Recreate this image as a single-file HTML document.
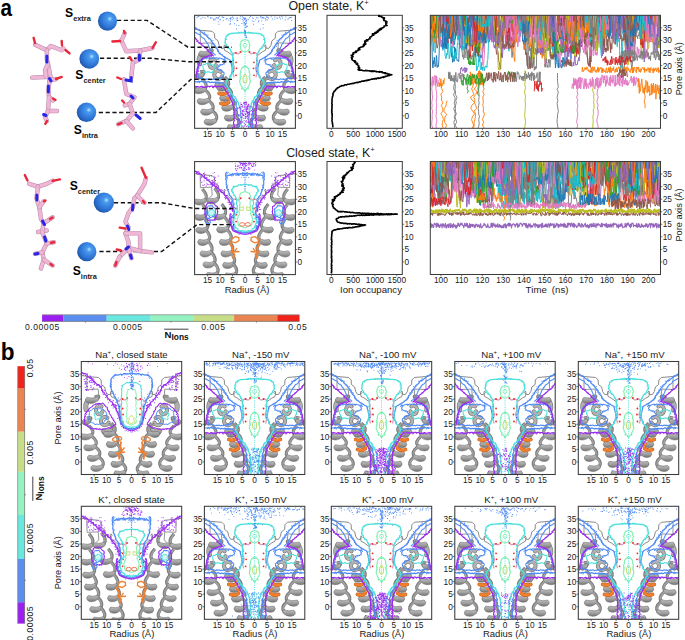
<!DOCTYPE html>
<html><head><meta charset="utf-8"><style>
html,body{margin:0;padding:0;background:#fff;overflow:hidden;width:685px;height:640px;}
svg{display:block;font-family:"Liberation Sans", sans-serif;}
.ts path{vector-effect:non-scaling-stroke;}
</style></head><body>
<svg width="685" height="640" viewBox="0 0 685 640">
<defs><linearGradient id="hg" x1="0" y1="0" x2="0" y2="1"><stop offset="0" stop-color="#c2c2c2"/><stop offset="0.5" stop-color="#a2a2a2"/><stop offset="1" stop-color="#747474"/></linearGradient><g id="gr"><g><polyline points="0.5,14 6,15 17.5,16 20,18.5 20.2,23 23.5,25.5 24.5,30 26.5,33 29,33 31,31 30,29.5 29.3,31.5 30,35 33,36.5 38.5,40.5" fill="none" stroke="#7c7c7c" stroke-width="0.9"/><polyline points="5.6,15 5.8,28 17,27.6 17.7,35.6 15,38" fill="none" stroke="#8a8a8a" stroke-width="0.9"/><path d="M6,40 Q3.5,44 5,48.5" fill="none" stroke="#7a7a7a" stroke-width="5.0" stroke-linecap="round"/><path d="M6,40 Q3.5,44 5,48.5" fill="none" stroke="#b0b0b0" stroke-width="3.6" stroke-linecap="round"/><path d="M16.2,37.3 Q20.0,33.0 13.6,35.5" fill="none" stroke="#7a7a7a" stroke-width="3.2"/><path d="M16.2,37.3 Q19.4,33.0 13.2,35.5" fill="none" stroke="#a0a0a0" stroke-width="1.7"/><path d="M5.5,35.9 Q11.2,37.5 17.0,35.2 Q18.2,37.9 17.0,39.1 Q11.2,43.4 5.5,41.1 Q2.5,38.5 5.5,35.9Z" fill="url(#hg)" stroke="#6e6e6e" stroke-width="0.6"/><path d="M20.4,45.0 A3.4,4.4 0 1 0 21.4,49.8" fill="none" stroke="#7a7a7a" stroke-width="4.0" stroke-linecap="round"/><path d="M20.4,45.0 A3.4,4.4 0 1 0 21.4,49.8" fill="none" stroke="#b3b3b3" stroke-width="2.6" stroke-linecap="round"/><path d="M26.3,56.5 A4.0,4.1 0 1 0 27.5,61.0" fill="none" stroke="#7a7a7a" stroke-width="4.0" stroke-linecap="round"/><path d="M26.3,56.5 A4.0,4.1 0 1 0 27.5,61.0" fill="none" stroke="#b3b3b3" stroke-width="2.6" stroke-linecap="round"/><path d="M8.2,59.3 Q12.0,55.0 5.6,56.5" fill="none" stroke="#7a7a7a" stroke-width="3.2"/><path d="M8.2,59.3 Q11.4,55.0 5.2,56.5" fill="none" stroke="#a0a0a0" stroke-width="1.7"/><path d="M2.0,57.9 Q5.5,59.5 9.0,57.2 Q10.2,59.9 9.0,61.1 Q5.5,65.3 2.0,63.1 Q-1.0,60.5 2.0,57.9Z" fill="url(#hg)" stroke="#6e6e6e" stroke-width="0.6"/><path d="M29.8,68.6 Q33.6,64.3 27.2,62.8" fill="none" stroke="#7a7a7a" stroke-width="3.2"/><path d="M29.8,68.6 Q33.0,64.3 26.8,62.8" fill="none" stroke="#a0a0a0" stroke-width="1.7"/><path d="M21.6,67.1 Q26.1,68.7 30.6,66.5 Q31.8,69.2 30.6,70.4 Q26.1,74.7 21.6,72.5 Q18.6,69.8 21.6,67.1Z" fill="url(#hg)" stroke="#6e6e6e" stroke-width="0.6"/><path d="M10.3,73.8 Q14.1,69.5 7.7,64.2" fill="none" stroke="#7a7a7a" stroke-width="3.2"/><path d="M10.3,73.8 Q13.5,69.5 7.3,64.2" fill="none" stroke="#a0a0a0" stroke-width="1.7"/><path d="M0.6,72.3 Q5.8,73.9 11.1,71.8 Q12.3,74.4 11.1,75.6 Q5.8,79.9 0.6,77.7 Q-2.4,75.0 0.6,72.3Z" fill="url(#hg)" stroke="#6e6e6e" stroke-width="0.6"/><path d="M13.8,84.8 Q17.6,80.5 11.2,75.2" fill="none" stroke="#7a7a7a" stroke-width="3.2"/><path d="M13.8,84.8 Q17.0,80.5 10.8,75.2" fill="none" stroke="#a0a0a0" stroke-width="1.7"/><path d="M4.1,83.3 Q9.3,84.9 14.6,82.8 Q15.8,85.4 14.6,86.6 Q9.3,90.9 4.1,88.7 Q1.0,86.0 4.1,83.3Z" fill="url(#hg)" stroke="#6e6e6e" stroke-width="0.6"/><path d="M17.3,95.3 Q21.1,91.0 14.7,85.7" fill="none" stroke="#7a7a7a" stroke-width="3.2"/><path d="M17.3,95.3 Q20.5,91.0 14.3,85.7" fill="none" stroke="#a0a0a0" stroke-width="1.7"/><path d="M7.6,93.8 Q12.8,95.4 18.1,93.2 Q19.3,95.9 18.1,97.1 Q12.8,101.4 7.6,99.2 Q4.5,96.5 7.6,93.8Z" fill="url(#hg)" stroke="#6e6e6e" stroke-width="0.6"/><path d="M20.8,105.4 Q24.6,101.1 18.2,95.8" fill="none" stroke="#7a7a7a" stroke-width="3.2"/><path d="M20.8,105.4 Q24.0,101.1 17.8,95.8" fill="none" stroke="#a0a0a0" stroke-width="1.7"/><path d="M11.1,103.9 Q16.4,105.5 21.6,103.3 Q22.8,106.0 21.6,107.2 Q16.4,111.5 11.1,109.2 Q8.0,106.6 11.1,103.9Z" fill="url(#hg)" stroke="#6e6e6e" stroke-width="0.6"/><path d="M32.8,71.3 Q36.6,67.0 30.2,61.7" fill="none" stroke="#7a7a7a" stroke-width="3.2"/><path d="M32.8,71.3 Q36.0,67.0 29.8,61.7" fill="none" stroke="#a0a0a0" stroke-width="1.7"/><path d="M23.6,69.8 Q28.6,71.4 33.6,69.2 Q34.8,71.9 33.6,73.1 Q28.6,77.4 23.6,75.2 Q20.6,72.5 23.6,69.8Z" fill="url(#hg)" stroke="#6e6e6e" stroke-width="0.6"/><path d="M35.7,81.6 Q39.5,77.3 33.1,72.0" fill="none" stroke="#7a7a7a" stroke-width="3.2"/><path d="M35.7,81.6 Q38.9,77.3 32.7,72.0" fill="none" stroke="#a0a0a0" stroke-width="1.7"/><path d="M26.5,80.1 Q31.5,81.7 36.5,79.5 Q37.7,82.2 36.5,83.4 Q31.5,87.7 26.5,85.5 Q23.5,82.8 26.5,80.1Z" fill="url(#hg)" stroke="#6e6e6e" stroke-width="0.6"/><path d="M37.8,91.3 Q41.6,87.0 35.2,81.7" fill="none" stroke="#7a7a7a" stroke-width="3.2"/><path d="M37.8,91.3 Q41.0,87.0 34.8,81.7" fill="none" stroke="#a0a0a0" stroke-width="1.7"/><path d="M28.6,89.8 Q33.6,91.4 38.6,89.2 Q39.8,91.9 38.6,93.1 Q33.6,97.4 28.6,95.2 Q25.6,92.5 28.6,89.8Z" fill="url(#hg)" stroke="#6e6e6e" stroke-width="0.6"/><path d="M40.4,101.3 Q44.2,97.0 37.8,91.7" fill="none" stroke="#7a7a7a" stroke-width="3.2"/><path d="M40.4,101.3 Q43.6,97.0 37.4,91.7" fill="none" stroke="#a0a0a0" stroke-width="1.7"/><path d="M31.2,99.8 Q36.2,101.4 41.2,99.2 Q42.4,101.9 41.2,103.1 Q36.2,107.4 31.2,105.2 Q28.2,102.5 31.2,99.8Z" fill="url(#hg)" stroke="#6e6e6e" stroke-width="0.6"/><path d="M43.4,110.8 Q47.2,106.5 40.8,101.2" fill="none" stroke="#7a7a7a" stroke-width="3.2"/><path d="M43.4,110.8 Q46.6,106.5 40.4,101.2" fill="none" stroke="#a0a0a0" stroke-width="1.7"/><path d="M34.2,109.3 Q39.2,110.9 44.2,108.8 Q45.4,111.4 44.2,112.6 Q39.2,116.9 34.2,114.7 Q31.2,112.0 34.2,109.3Z" fill="url(#hg)" stroke="#6e6e6e" stroke-width="0.6"/></g><g transform="translate(101,0) scale(-1,1)"><polyline points="0.5,14 6,15 17.5,16 20,18.5 20.2,23 23.5,25.5 24.5,30 26.5,33 29,33 31,31 30,29.5 29.3,31.5 30,35 33,36.5 38.5,40.5" fill="none" stroke="#7c7c7c" stroke-width="0.9"/><polyline points="5.6,15 5.8,28 17,27.6 17.7,35.6 15,38" fill="none" stroke="#8a8a8a" stroke-width="0.9"/><path d="M6,40 Q3.5,44 5,48.5" fill="none" stroke="#7a7a7a" stroke-width="5.0" stroke-linecap="round"/><path d="M6,40 Q3.5,44 5,48.5" fill="none" stroke="#b0b0b0" stroke-width="3.6" stroke-linecap="round"/><path d="M16.2,37.3 Q20.0,33.0 13.6,35.5" fill="none" stroke="#7a7a7a" stroke-width="3.2"/><path d="M16.2,37.3 Q19.4,33.0 13.2,35.5" fill="none" stroke="#a0a0a0" stroke-width="1.7"/><path d="M5.5,35.9 Q11.2,37.5 17.0,35.2 Q18.2,37.9 17.0,39.1 Q11.2,43.4 5.5,41.1 Q2.5,38.5 5.5,35.9Z" fill="url(#hg)" stroke="#6e6e6e" stroke-width="0.6"/><path d="M20.4,45.0 A3.4,4.4 0 1 0 21.4,49.8" fill="none" stroke="#7a7a7a" stroke-width="4.0" stroke-linecap="round"/><path d="M20.4,45.0 A3.4,4.4 0 1 0 21.4,49.8" fill="none" stroke="#b3b3b3" stroke-width="2.6" stroke-linecap="round"/><path d="M26.3,56.5 A4.0,4.1 0 1 0 27.5,61.0" fill="none" stroke="#7a7a7a" stroke-width="4.0" stroke-linecap="round"/><path d="M26.3,56.5 A4.0,4.1 0 1 0 27.5,61.0" fill="none" stroke="#b3b3b3" stroke-width="2.6" stroke-linecap="round"/><path d="M8.2,59.3 Q12.0,55.0 5.6,56.5" fill="none" stroke="#7a7a7a" stroke-width="3.2"/><path d="M8.2,59.3 Q11.4,55.0 5.2,56.5" fill="none" stroke="#a0a0a0" stroke-width="1.7"/><path d="M2.0,57.9 Q5.5,59.5 9.0,57.2 Q10.2,59.9 9.0,61.1 Q5.5,65.3 2.0,63.1 Q-1.0,60.5 2.0,57.9Z" fill="url(#hg)" stroke="#6e6e6e" stroke-width="0.6"/><path d="M29.8,68.6 Q33.6,64.3 27.2,62.8" fill="none" stroke="#7a7a7a" stroke-width="3.2"/><path d="M29.8,68.6 Q33.0,64.3 26.8,62.8" fill="none" stroke="#a0a0a0" stroke-width="1.7"/><path d="M21.6,67.1 Q26.1,68.7 30.6,66.5 Q31.8,69.2 30.6,70.4 Q26.1,74.7 21.6,72.5 Q18.6,69.8 21.6,67.1Z" fill="url(#hg)" stroke="#6e6e6e" stroke-width="0.6"/><path d="M10.3,73.8 Q14.1,69.5 7.7,64.2" fill="none" stroke="#7a7a7a" stroke-width="3.2"/><path d="M10.3,73.8 Q13.5,69.5 7.3,64.2" fill="none" stroke="#a0a0a0" stroke-width="1.7"/><path d="M0.6,72.3 Q5.8,73.9 11.1,71.8 Q12.3,74.4 11.1,75.6 Q5.8,79.9 0.6,77.7 Q-2.4,75.0 0.6,72.3Z" fill="url(#hg)" stroke="#6e6e6e" stroke-width="0.6"/><path d="M13.8,84.8 Q17.6,80.5 11.2,75.2" fill="none" stroke="#7a7a7a" stroke-width="3.2"/><path d="M13.8,84.8 Q17.0,80.5 10.8,75.2" fill="none" stroke="#a0a0a0" stroke-width="1.7"/><path d="M4.1,83.3 Q9.3,84.9 14.6,82.8 Q15.8,85.4 14.6,86.6 Q9.3,90.9 4.1,88.7 Q1.0,86.0 4.1,83.3Z" fill="url(#hg)" stroke="#6e6e6e" stroke-width="0.6"/><path d="M17.3,95.3 Q21.1,91.0 14.7,85.7" fill="none" stroke="#7a7a7a" stroke-width="3.2"/><path d="M17.3,95.3 Q20.5,91.0 14.3,85.7" fill="none" stroke="#a0a0a0" stroke-width="1.7"/><path d="M7.6,93.8 Q12.8,95.4 18.1,93.2 Q19.3,95.9 18.1,97.1 Q12.8,101.4 7.6,99.2 Q4.5,96.5 7.6,93.8Z" fill="url(#hg)" stroke="#6e6e6e" stroke-width="0.6"/><path d="M20.8,105.4 Q24.6,101.1 18.2,95.8" fill="none" stroke="#7a7a7a" stroke-width="3.2"/><path d="M20.8,105.4 Q24.0,101.1 17.8,95.8" fill="none" stroke="#a0a0a0" stroke-width="1.7"/><path d="M11.1,103.9 Q16.4,105.5 21.6,103.3 Q22.8,106.0 21.6,107.2 Q16.4,111.5 11.1,109.2 Q8.0,106.6 11.1,103.9Z" fill="url(#hg)" stroke="#6e6e6e" stroke-width="0.6"/><path d="M32.8,71.3 Q36.6,67.0 30.2,61.7" fill="none" stroke="#7a7a7a" stroke-width="3.2"/><path d="M32.8,71.3 Q36.0,67.0 29.8,61.7" fill="none" stroke="#a0a0a0" stroke-width="1.7"/><path d="M23.6,69.8 Q28.6,71.4 33.6,69.2 Q34.8,71.9 33.6,73.1 Q28.6,77.4 23.6,75.2 Q20.6,72.5 23.6,69.8Z" fill="url(#hg)" stroke="#6e6e6e" stroke-width="0.6"/><path d="M35.7,81.6 Q39.5,77.3 33.1,72.0" fill="none" stroke="#7a7a7a" stroke-width="3.2"/><path d="M35.7,81.6 Q38.9,77.3 32.7,72.0" fill="none" stroke="#a0a0a0" stroke-width="1.7"/><path d="M26.5,80.1 Q31.5,81.7 36.5,79.5 Q37.7,82.2 36.5,83.4 Q31.5,87.7 26.5,85.5 Q23.5,82.8 26.5,80.1Z" fill="url(#hg)" stroke="#6e6e6e" stroke-width="0.6"/><path d="M37.8,91.3 Q41.6,87.0 35.2,81.7" fill="none" stroke="#7a7a7a" stroke-width="3.2"/><path d="M37.8,91.3 Q41.0,87.0 34.8,81.7" fill="none" stroke="#a0a0a0" stroke-width="1.7"/><path d="M28.6,89.8 Q33.6,91.4 38.6,89.2 Q39.8,91.9 38.6,93.1 Q33.6,97.4 28.6,95.2 Q25.6,92.5 28.6,89.8Z" fill="url(#hg)" stroke="#6e6e6e" stroke-width="0.6"/><path d="M40.4,101.3 Q44.2,97.0 37.8,91.7" fill="none" stroke="#7a7a7a" stroke-width="3.2"/><path d="M40.4,101.3 Q43.6,97.0 37.4,91.7" fill="none" stroke="#a0a0a0" stroke-width="1.7"/><path d="M31.2,99.8 Q36.2,101.4 41.2,99.2 Q42.4,101.9 41.2,103.1 Q36.2,107.4 31.2,105.2 Q28.2,102.5 31.2,99.8Z" fill="url(#hg)" stroke="#6e6e6e" stroke-width="0.6"/><path d="M43.4,110.8 Q47.2,106.5 40.8,101.2" fill="none" stroke="#7a7a7a" stroke-width="3.2"/><path d="M43.4,110.8 Q46.6,106.5 40.4,101.2" fill="none" stroke="#a0a0a0" stroke-width="1.7"/><path d="M34.2,109.3 Q39.2,110.9 44.2,108.8 Q45.4,111.4 44.2,112.6 Q39.2,116.9 34.2,114.7 Q31.2,112.0 34.2,109.3Z" fill="url(#hg)" stroke="#6e6e6e" stroke-width="0.6"/></g><polyline points="37,40 40,37.5 44,38.5 47,36.5" fill="none" stroke="#dca2c4" stroke-width="1.3"/><polyline points="64,40 61,37.5 57,38.5 54,36.5" fill="none" stroke="#dca2c4" stroke-width="1.3"/><polyline points="39,42 38.5,48 40,53 38.5,58 39.5,62" fill="none" stroke="#dca2c4" stroke-width="1.3"/><polyline points="62,42 62.5,48 61,53 62.5,58 61.5,62" fill="none" stroke="#dca2c4" stroke-width="1.3"/><circle cx="41.5" cy="37.5" r="0.9" fill="#ef2418"/><circle cx="46" cy="36.5" r="0.9" fill="#ef2418"/><circle cx="55" cy="36.5" r="0.9" fill="#ef2418"/><circle cx="59.5" cy="37.5" r="0.9" fill="#ef2418"/><circle cx="41.5" cy="47" r="0.9" fill="#ef2418"/><circle cx="59.5" cy="47" r="0.9" fill="#ef2418"/><circle cx="42" cy="53" r="0.9" fill="#ef2418"/><circle cx="59" cy="53" r="0.9" fill="#ef2418"/><circle cx="41.5" cy="60" r="0.9" fill="#ef2418"/><circle cx="59.5" cy="60" r="0.9" fill="#ef2418"/><circle cx="38.5" cy="45" r="0.8" fill="#2b3bd8"/><circle cx="62.5" cy="45" r="0.8" fill="#2b3bd8"/><circle cx="38.5" cy="56" r="0.8" fill="#2b3bd8"/><circle cx="62.5" cy="56" r="0.8" fill="#2b3bd8"/></g><g id="gk"><g><polyline points="0.5,12 6,13 17.5,14 20,16.5 20.2,21 23.5,23.5 24.5,28 26.5,31 29,31 31,29 30,27.5 29.3,29.5 30,33 33,34.5 37,38" fill="none" stroke="#7c7c7c" stroke-width="0.9"/><polyline points="5.6,13 5.8,26 17,25.6 17.7,33.6 15,36" fill="none" stroke="#8a8a8a" stroke-width="0.9"/><path d="M10.4,38.8 Q14.2,34.5 7.8,27.5" fill="none" stroke="#7a7a7a" stroke-width="3.2"/><path d="M10.4,38.8 Q13.6,34.5 7.4,27.5" fill="none" stroke="#a0a0a0" stroke-width="1.7"/><path d="M1.2,37.4 Q6.2,39.0 11.2,36.8 Q12.4,39.4 11.2,40.6 Q6.2,44.9 1.2,42.6 Q-1.9,40.0 1.2,37.4Z" fill="url(#hg)" stroke="#6e6e6e" stroke-width="0.6"/><path d="M10.7,54.3 Q14.5,50.0 8.1,43.0" fill="none" stroke="#7a7a7a" stroke-width="3.2"/><path d="M10.7,54.3 Q13.9,50.0 7.7,43.0" fill="none" stroke="#a0a0a0" stroke-width="1.7"/><path d="M1.5,52.9 Q6.5,54.5 11.5,52.2 Q12.7,54.9 11.5,56.1 Q6.5,60.4 1.5,58.1 Q-1.5,55.5 1.5,52.9Z" fill="url(#hg)" stroke="#6e6e6e" stroke-width="0.6"/><path d="M12.0,67.3 Q15.8,63.0 9.4,56.0" fill="none" stroke="#7a7a7a" stroke-width="3.2"/><path d="M12.0,67.3 Q15.2,63.0 9.0,56.0" fill="none" stroke="#a0a0a0" stroke-width="1.7"/><path d="M2.8,65.8 Q7.8,67.4 12.8,65.2 Q14.0,67.9 12.8,69.1 Q7.8,73.4 2.8,71.2 Q-0.3,68.5 2.8,65.8Z" fill="url(#hg)" stroke="#6e6e6e" stroke-width="0.6"/><path d="M13.7,79.3 Q17.5,75.0 11.1,68.0" fill="none" stroke="#7a7a7a" stroke-width="3.2"/><path d="M13.7,79.3 Q16.9,75.0 10.7,68.0" fill="none" stroke="#a0a0a0" stroke-width="1.7"/><path d="M4.5,77.8 Q9.5,79.4 14.5,77.2 Q15.7,79.9 14.5,81.1 Q9.5,85.4 4.5,83.2 Q1.5,80.5 4.5,77.8Z" fill="url(#hg)" stroke="#6e6e6e" stroke-width="0.6"/><path d="M16.2,90.8 Q20.0,86.5 13.6,79.5" fill="none" stroke="#7a7a7a" stroke-width="3.2"/><path d="M16.2,90.8 Q19.4,86.5 13.2,79.5" fill="none" stroke="#a0a0a0" stroke-width="1.7"/><path d="M7.0,89.3 Q12.0,90.9 17.0,88.8 Q18.2,91.4 17.0,92.6 Q12.0,96.9 7.0,94.7 Q3.9,92.0 7.0,89.3Z" fill="url(#hg)" stroke="#6e6e6e" stroke-width="0.6"/><path d="M19.2,101.8 Q23.0,97.5 16.6,90.5" fill="none" stroke="#7a7a7a" stroke-width="3.2"/><path d="M19.2,101.8 Q22.4,97.5 16.2,90.5" fill="none" stroke="#a0a0a0" stroke-width="1.7"/><path d="M10.0,100.3 Q15.0,101.9 20.0,99.8 Q21.2,102.4 20.0,103.6 Q15.0,107.9 10.0,105.7 Q6.9,103.0 10.0,100.3Z" fill="url(#hg)" stroke="#6e6e6e" stroke-width="0.6"/><path d="M22.2,112.3 Q26.0,108.0 19.6,101.0" fill="none" stroke="#7a7a7a" stroke-width="3.2"/><path d="M22.2,112.3 Q25.4,108.0 19.2,101.0" fill="none" stroke="#a0a0a0" stroke-width="1.7"/><path d="M13.0,110.8 Q18.0,112.4 23.0,110.2 Q24.2,112.9 23.0,114.1 Q18.0,118.4 13.0,116.2 Q9.9,113.5 13.0,110.8Z" fill="url(#hg)" stroke="#6e6e6e" stroke-width="0.6"/><path d="M22.7,37.8 Q26.5,33.5 20.1,26.5" fill="none" stroke="#7a7a7a" stroke-width="3.2"/><path d="M22.7,37.8 Q25.9,33.5 19.7,26.5" fill="none" stroke="#a0a0a0" stroke-width="1.7"/><path d="M13.5,36.4 Q18.5,38.0 23.5,35.8 Q24.7,38.4 23.5,39.6 Q18.5,43.9 13.5,41.6 Q10.4,39.0 13.5,36.4Z" fill="url(#hg)" stroke="#6e6e6e" stroke-width="0.6"/><path d="M29.7,53.8 Q33.5,49.5 27.1,42.5" fill="none" stroke="#7a7a7a" stroke-width="3.2"/><path d="M29.7,53.8 Q32.9,49.5 26.7,42.5" fill="none" stroke="#a0a0a0" stroke-width="1.7"/><path d="M20.5,52.4 Q25.5,54.0 30.5,51.8 Q31.7,54.4 30.5,55.6 Q25.5,59.9 20.5,57.6 Q17.5,55.0 20.5,52.4Z" fill="url(#hg)" stroke="#6e6e6e" stroke-width="0.6"/><path d="M32.7,66.8 Q36.5,62.5 30.1,55.5" fill="none" stroke="#7a7a7a" stroke-width="3.2"/><path d="M32.7,66.8 Q35.9,62.5 29.7,55.5" fill="none" stroke="#a0a0a0" stroke-width="1.7"/><path d="M23.5,65.3 Q28.5,66.9 33.5,64.8 Q34.7,67.4 33.5,68.6 Q28.5,72.9 23.5,70.7 Q20.5,68.0 23.5,65.3Z" fill="url(#hg)" stroke="#6e6e6e" stroke-width="0.6"/><path d="M35.4,79.3 Q39.2,75.0 32.8,68.0" fill="none" stroke="#7a7a7a" stroke-width="3.2"/><path d="M35.4,79.3 Q38.6,75.0 32.4,68.0" fill="none" stroke="#a0a0a0" stroke-width="1.7"/><path d="M26.2,77.8 Q31.2,79.4 36.2,77.2 Q37.4,79.9 36.2,81.1 Q31.2,85.4 26.2,83.2 Q23.2,80.5 26.2,77.8Z" fill="url(#hg)" stroke="#6e6e6e" stroke-width="0.6"/><path d="M37.0,90.8 Q40.8,86.5 34.4,79.5" fill="none" stroke="#7a7a7a" stroke-width="3.2"/><path d="M37.0,90.8 Q40.2,86.5 34.0,79.5" fill="none" stroke="#a0a0a0" stroke-width="1.7"/><path d="M27.8,89.3 Q32.8,90.9 37.8,88.8 Q39.0,91.4 37.8,92.6 Q32.8,96.9 27.8,94.7 Q24.8,92.0 27.8,89.3Z" fill="url(#hg)" stroke="#6e6e6e" stroke-width="0.6"/><path d="M38.7,102.3 Q42.5,98.0 36.1,91.0" fill="none" stroke="#7a7a7a" stroke-width="3.2"/><path d="M38.7,102.3 Q41.9,98.0 35.7,91.0" fill="none" stroke="#a0a0a0" stroke-width="1.7"/><path d="M29.5,100.8 Q34.5,102.4 39.5,100.2 Q40.7,102.9 39.5,104.1 Q34.5,108.4 29.5,106.2 Q26.5,103.5 29.5,100.8Z" fill="url(#hg)" stroke="#6e6e6e" stroke-width="0.6"/><path d="M40.7,112.8 Q44.5,108.5 38.1,101.5" fill="none" stroke="#7a7a7a" stroke-width="3.2"/><path d="M40.7,112.8 Q43.9,108.5 37.7,101.5" fill="none" stroke="#a0a0a0" stroke-width="1.7"/><path d="M31.5,111.3 Q36.5,112.9 41.5,110.8 Q42.7,113.4 41.5,114.6 Q36.5,118.9 31.5,116.7 Q28.5,114.0 31.5,111.3Z" fill="url(#hg)" stroke="#6e6e6e" stroke-width="0.6"/></g><g transform="translate(101,0) scale(-1,1)"><polyline points="0.5,12 6,13 17.5,14 20,16.5 20.2,21 23.5,23.5 24.5,28 26.5,31 29,31 31,29 30,27.5 29.3,29.5 30,33 33,34.5 37,38" fill="none" stroke="#7c7c7c" stroke-width="0.9"/><polyline points="5.6,13 5.8,26 17,25.6 17.7,33.6 15,36" fill="none" stroke="#8a8a8a" stroke-width="0.9"/><path d="M10.4,38.8 Q14.2,34.5 7.8,27.5" fill="none" stroke="#7a7a7a" stroke-width="3.2"/><path d="M10.4,38.8 Q13.6,34.5 7.4,27.5" fill="none" stroke="#a0a0a0" stroke-width="1.7"/><path d="M1.2,37.4 Q6.2,39.0 11.2,36.8 Q12.4,39.4 11.2,40.6 Q6.2,44.9 1.2,42.6 Q-1.9,40.0 1.2,37.4Z" fill="url(#hg)" stroke="#6e6e6e" stroke-width="0.6"/><path d="M10.7,54.3 Q14.5,50.0 8.1,43.0" fill="none" stroke="#7a7a7a" stroke-width="3.2"/><path d="M10.7,54.3 Q13.9,50.0 7.7,43.0" fill="none" stroke="#a0a0a0" stroke-width="1.7"/><path d="M1.5,52.9 Q6.5,54.5 11.5,52.2 Q12.7,54.9 11.5,56.1 Q6.5,60.4 1.5,58.1 Q-1.5,55.5 1.5,52.9Z" fill="url(#hg)" stroke="#6e6e6e" stroke-width="0.6"/><path d="M12.0,67.3 Q15.8,63.0 9.4,56.0" fill="none" stroke="#7a7a7a" stroke-width="3.2"/><path d="M12.0,67.3 Q15.2,63.0 9.0,56.0" fill="none" stroke="#a0a0a0" stroke-width="1.7"/><path d="M2.8,65.8 Q7.8,67.4 12.8,65.2 Q14.0,67.9 12.8,69.1 Q7.8,73.4 2.8,71.2 Q-0.3,68.5 2.8,65.8Z" fill="url(#hg)" stroke="#6e6e6e" stroke-width="0.6"/><path d="M13.7,79.3 Q17.5,75.0 11.1,68.0" fill="none" stroke="#7a7a7a" stroke-width="3.2"/><path d="M13.7,79.3 Q16.9,75.0 10.7,68.0" fill="none" stroke="#a0a0a0" stroke-width="1.7"/><path d="M4.5,77.8 Q9.5,79.4 14.5,77.2 Q15.7,79.9 14.5,81.1 Q9.5,85.4 4.5,83.2 Q1.5,80.5 4.5,77.8Z" fill="url(#hg)" stroke="#6e6e6e" stroke-width="0.6"/><path d="M16.2,90.8 Q20.0,86.5 13.6,79.5" fill="none" stroke="#7a7a7a" stroke-width="3.2"/><path d="M16.2,90.8 Q19.4,86.5 13.2,79.5" fill="none" stroke="#a0a0a0" stroke-width="1.7"/><path d="M7.0,89.3 Q12.0,90.9 17.0,88.8 Q18.2,91.4 17.0,92.6 Q12.0,96.9 7.0,94.7 Q3.9,92.0 7.0,89.3Z" fill="url(#hg)" stroke="#6e6e6e" stroke-width="0.6"/><path d="M19.2,101.8 Q23.0,97.5 16.6,90.5" fill="none" stroke="#7a7a7a" stroke-width="3.2"/><path d="M19.2,101.8 Q22.4,97.5 16.2,90.5" fill="none" stroke="#a0a0a0" stroke-width="1.7"/><path d="M10.0,100.3 Q15.0,101.9 20.0,99.8 Q21.2,102.4 20.0,103.6 Q15.0,107.9 10.0,105.7 Q6.9,103.0 10.0,100.3Z" fill="url(#hg)" stroke="#6e6e6e" stroke-width="0.6"/><path d="M22.2,112.3 Q26.0,108.0 19.6,101.0" fill="none" stroke="#7a7a7a" stroke-width="3.2"/><path d="M22.2,112.3 Q25.4,108.0 19.2,101.0" fill="none" stroke="#a0a0a0" stroke-width="1.7"/><path d="M13.0,110.8 Q18.0,112.4 23.0,110.2 Q24.2,112.9 23.0,114.1 Q18.0,118.4 13.0,116.2 Q9.9,113.5 13.0,110.8Z" fill="url(#hg)" stroke="#6e6e6e" stroke-width="0.6"/><path d="M22.7,37.8 Q26.5,33.5 20.1,26.5" fill="none" stroke="#7a7a7a" stroke-width="3.2"/><path d="M22.7,37.8 Q25.9,33.5 19.7,26.5" fill="none" stroke="#a0a0a0" stroke-width="1.7"/><path d="M13.5,36.4 Q18.5,38.0 23.5,35.8 Q24.7,38.4 23.5,39.6 Q18.5,43.9 13.5,41.6 Q10.4,39.0 13.5,36.4Z" fill="url(#hg)" stroke="#6e6e6e" stroke-width="0.6"/><path d="M29.7,53.8 Q33.5,49.5 27.1,42.5" fill="none" stroke="#7a7a7a" stroke-width="3.2"/><path d="M29.7,53.8 Q32.9,49.5 26.7,42.5" fill="none" stroke="#a0a0a0" stroke-width="1.7"/><path d="M20.5,52.4 Q25.5,54.0 30.5,51.8 Q31.7,54.4 30.5,55.6 Q25.5,59.9 20.5,57.6 Q17.5,55.0 20.5,52.4Z" fill="url(#hg)" stroke="#6e6e6e" stroke-width="0.6"/><path d="M32.7,66.8 Q36.5,62.5 30.1,55.5" fill="none" stroke="#7a7a7a" stroke-width="3.2"/><path d="M32.7,66.8 Q35.9,62.5 29.7,55.5" fill="none" stroke="#a0a0a0" stroke-width="1.7"/><path d="M23.5,65.3 Q28.5,66.9 33.5,64.8 Q34.7,67.4 33.5,68.6 Q28.5,72.9 23.5,70.7 Q20.5,68.0 23.5,65.3Z" fill="url(#hg)" stroke="#6e6e6e" stroke-width="0.6"/><path d="M35.4,79.3 Q39.2,75.0 32.8,68.0" fill="none" stroke="#7a7a7a" stroke-width="3.2"/><path d="M35.4,79.3 Q38.6,75.0 32.4,68.0" fill="none" stroke="#a0a0a0" stroke-width="1.7"/><path d="M26.2,77.8 Q31.2,79.4 36.2,77.2 Q37.4,79.9 36.2,81.1 Q31.2,85.4 26.2,83.2 Q23.2,80.5 26.2,77.8Z" fill="url(#hg)" stroke="#6e6e6e" stroke-width="0.6"/><path d="M37.0,90.8 Q40.8,86.5 34.4,79.5" fill="none" stroke="#7a7a7a" stroke-width="3.2"/><path d="M37.0,90.8 Q40.2,86.5 34.0,79.5" fill="none" stroke="#a0a0a0" stroke-width="1.7"/><path d="M27.8,89.3 Q32.8,90.9 37.8,88.8 Q39.0,91.4 37.8,92.6 Q32.8,96.9 27.8,94.7 Q24.8,92.0 27.8,89.3Z" fill="url(#hg)" stroke="#6e6e6e" stroke-width="0.6"/><path d="M38.7,102.3 Q42.5,98.0 36.1,91.0" fill="none" stroke="#7a7a7a" stroke-width="3.2"/><path d="M38.7,102.3 Q41.9,98.0 35.7,91.0" fill="none" stroke="#a0a0a0" stroke-width="1.7"/><path d="M29.5,100.8 Q34.5,102.4 39.5,100.2 Q40.7,102.9 39.5,104.1 Q34.5,108.4 29.5,106.2 Q26.5,103.5 29.5,100.8Z" fill="url(#hg)" stroke="#6e6e6e" stroke-width="0.6"/><path d="M40.7,112.8 Q44.5,108.5 38.1,101.5" fill="none" stroke="#7a7a7a" stroke-width="3.2"/><path d="M40.7,112.8 Q43.9,108.5 37.7,101.5" fill="none" stroke="#a0a0a0" stroke-width="1.7"/><path d="M31.5,111.3 Q36.5,112.9 41.5,110.8 Q42.7,113.4 41.5,114.6 Q36.5,118.9 31.5,116.7 Q28.5,114.0 31.5,111.3Z" fill="url(#hg)" stroke="#6e6e6e" stroke-width="0.6"/></g><polyline points="37,40 40,37.5 44,38.5 47,36.5" fill="none" stroke="#dca2c4" stroke-width="1.3"/><polyline points="64,40 61,37.5 57,38.5 54,36.5" fill="none" stroke="#dca2c4" stroke-width="1.3"/><polyline points="39,42 38.5,48 40,53 38.5,58 39.5,62" fill="none" stroke="#dca2c4" stroke-width="1.3"/><polyline points="62,42 62.5,48 61,53 62.5,58 61.5,62" fill="none" stroke="#dca2c4" stroke-width="1.3"/><circle cx="41.5" cy="37.5" r="0.9" fill="#ef2418"/><circle cx="46" cy="36.5" r="0.9" fill="#ef2418"/><circle cx="55" cy="36.5" r="0.9" fill="#ef2418"/><circle cx="59.5" cy="37.5" r="0.9" fill="#ef2418"/><circle cx="41.5" cy="47" r="0.9" fill="#ef2418"/><circle cx="59.5" cy="47" r="0.9" fill="#ef2418"/><circle cx="42" cy="53" r="0.9" fill="#ef2418"/><circle cx="59" cy="53" r="0.9" fill="#ef2418"/><circle cx="41.5" cy="60" r="0.9" fill="#ef2418"/><circle cx="59.5" cy="60" r="0.9" fill="#ef2418"/><circle cx="38.5" cy="45" r="0.8" fill="#2b3bd8"/><circle cx="62.5" cy="45" r="0.8" fill="#2b3bd8"/><circle cx="38.5" cy="56" r="0.8" fill="#2b3bd8"/><circle cx="62.5" cy="56" r="0.8" fill="#2b3bd8"/></g><g id="ol"><g><path d="M24.5,78.0 Q28.5,80.2 32.5,77.0" fill="none" stroke="#c85c10" stroke-width="3.6" stroke-linecap="round"/><path d="M24.5,78.0 Q28.5,80.2 32.5,77.0" fill="none" stroke="#f08030" stroke-width="2.6" stroke-linecap="round"/><path d="M26.3,88.0 Q30.3,90.2 34.3,87.0" fill="none" stroke="#c85c10" stroke-width="3.6" stroke-linecap="round"/><path d="M26.3,88.0 Q30.3,90.2 34.3,87.0" fill="none" stroke="#f08030" stroke-width="2.6" stroke-linecap="round"/><path d="M32.5,77 Q35,72 30,73.5 M34,87 Q36.5,83 31.5,82.5" fill="none" stroke="#f08030" stroke-width="1.8"/></g><g transform="translate(101,0) scale(-1,1)"><path d="M24.5,78.0 Q28.5,80.2 32.5,77.0" fill="none" stroke="#c85c10" stroke-width="3.6" stroke-linecap="round"/><path d="M24.5,78.0 Q28.5,80.2 32.5,77.0" fill="none" stroke="#f08030" stroke-width="2.6" stroke-linecap="round"/><path d="M26.3,88.0 Q30.3,90.2 34.3,87.0" fill="none" stroke="#c85c10" stroke-width="3.6" stroke-linecap="round"/><path d="M26.3,88.0 Q30.3,90.2 34.3,87.0" fill="none" stroke="#f08030" stroke-width="2.6" stroke-linecap="round"/><path d="M32.5,77 Q35,72 30,73.5 M34,87 Q36.5,83 31.5,82.5" fill="none" stroke="#f08030" stroke-width="1.8"/></g><g><polyline points="-0.2,12.2 1.4,12.7 2.5,13.6 3.3,14.4 4.5,14.9 5.6,15.4 6.9,16.9 7.6,17.1 9.1,18.6 10.1,18.9 11.5,19.3 12.4,20.4 12.6,21.0 13.8,22.5 14.7,23.1 15.9,24.0 16.6,24.8 17.0,26.1 18.4,27.4 18.8,28.7 19.6,29.5 20.6,30.9 20.7,31.9 21.7,33.2 22.6,33.7 23.5,34.6 23.7,36.3 24.3,37.0 24.9,38.2 26.5,39.1 27.4,39.8 28.5,40.8 29.7,41.3 31.3,42.4 32.3,42.8 33.2,43.5 35.1,44.5 36.0,45.1 36.2,46.8 36.5,48.0 36.9,48.9 37.1,50.8 37.4,51.5 37.9,53.4 37.5,54.2 37.8,55.9 37.9,57.1 37.3,57.9 36.5,59.7 36.3,60.3 35.0,62.0" fill="none" stroke="#4d8af5" stroke-width="1.20" stroke-linejoin="round"/><path fill="#4d8af5" d="M10.0 19.4h.9v.9h-.9zM22.6 34.7h.9v.9h-.9zM-0.3 12.9h.9v.9h-.9zM27.2 38.9h.9v.9h-.9zM23.6 35.9h.9v.9h-.9zM4.1 13.5h.9v.9h-.9zM38.1 53.7h.9v.9h-.9zM20.6 30.5h.9v.9h-.9zM4.1 14.5h.9v.9h-.9zM9.1 18.5h.9v.9h-.9zM0.2 12.7h.9v.9h-.9zM19.8 28.2h.9v.9h-.9zM29.3 41.4h.9v.9h-.9zM17.7 27.3h.9v.9h-.9zM38.6 52.5h.9v.9h-.9zM23.1 35.0h.9v.9h-.9zM17.6 28.0h.9v.9h-.9zM10.6 18.5h.9v.9h-.9zM25.2 37.8h.9v.9h-.9zM-0.0 13.0h.9v.9h-.9zM37.8 53.1h.9v.9h-.9zM19.2 29.1h.9v.9h-.9zM25.0 36.9h.9v.9h-.9zM13.0 19.3h.9v.9h-.9zM38.3 51.8h.9v.9h-.9zM35.9 46.3h.9v.9h-.9zM18.4 27.6h.9v.9h-.9zM15.2 24.3h.9v.9h-.9zM35.2 60.0h.9v.9h-.9zM36.0 61.2h.9v.9h-.9zM12.3 21.2h.9v.9h-.9zM10.5 19.2h.9v.9h-.9zM36.9 52.1h.9v.9h-.9zM38.0 49.7h.9v.9h-.9zM37.8 55.7h.9v.9h-.9zM23.2 35.5h.9v.9h-.9zM17.9 24.8h.9v.9h-.9zM18.6 30.7h.9v.9h-.9zM35.5 44.9h.9v.9h-.9zM9.5 17.3h.9v.9h-.9zM9.1 16.2h.9v.9h-.9zM31.1 42.9h.9v.9h-.9zM9.1 17.2h.9v.9h-.9zM29.8 41.8h.9v.9h-.9zM21.9 31.2h.9v.9h-.9zM11.8 20.9h.9v.9h-.9zM12.9 21.4h.9v.9h-.9zM21.5 32.1h.9v.9h-.9zM17.4 27.7h.9v.9h-.9zM36.5 56.9h.9v.9h-.9zM22.9 35.7h.9v.9h-.9zM0.8 13.2h.9v.9h-.9zM0.3 12.3h.9v.9h-.9zM22.4 33.5h.9v.9h-.9zM16.3 25.8h.9v.9h-.9zM37.7 48.8h.9v.9h-.9zM13.6 23.0h.9v.9h-.9zM23.0 35.7h.9v.9h-.9zM36.8 57.1h.9v.9h-.9zM22.9 35.9h.9v.9h-.9z"/><polyline points="-0.0,66.0 1.2,66.5 2.7,66.5 4.2,65.9 5.1,66.7 6.6,65.9 7.1,66.3 8.3,66.2 9.6,66.7 11.5,67.0 12.2,66.8 13.9,66.3 15.4,67.2 16.0,67.3 17.4,66.9 19.2,67.3 19.7,66.9 21.3,66.9 22.2,67.0 24.0,66.8 25.1,67.3 25.9,67.3 27.8,67.6 28.5,68.2 30.1,69.2 30.3,69.6 31.1,71.2 32.3,71.6 33.1,73.5 34.1,74.0 34.1,75.7 35.1,76.6 35.3,77.1 36.5,78.5 36.6,80.1 37.8,81.1 37.9,82.3 38.6,83.4 39.6,84.1 40.3,85.9 40.6,86.4 41.5,87.7 41.3,88.9 41.5,90.1 41.9,91.4 42.6,92.6 42.5,93.7 42.4,94.7 42.5,95.9 43.0,97.7 42.6,98.8 43.4,99.6 43.4,101.1 43.1,102.7 43.0,103.6 43.3,105.3 43.0,106.3 43.4,107.5 43.1,108.6 42.8,109.8 42.9,111.8 43.3,113.0" fill="none" stroke="#4d8af5" stroke-width="1.20" stroke-linejoin="round"/><path fill="#4d8af5" d="M20.0 67.2h.9v.9h-.9zM43.5 100.1h.9v.9h-.9zM22.0 67.6h.9v.9h-.9zM33.4 73.6h.9v.9h-.9zM21.8 66.7h.9v.9h-.9zM36.7 80.3h.9v.9h-.9zM24.1 67.3h.9v.9h-.9zM28.8 68.4h.9v.9h-.9zM15.6 66.8h.9v.9h-.9zM21.0 67.3h.9v.9h-.9zM3.7 66.2h.9v.9h-.9zM17.6 66.6h.9v.9h-.9zM42.0 92.9h.9v.9h-.9zM42.8 103.9h.9v.9h-.9zM43.8 112.5h.9v.9h-.9zM41.2 85.8h.9v.9h-.9zM42.6 104.0h.9v.9h-.9zM43.3 98.8h.9v.9h-.9zM35.4 75.4h.9v.9h-.9zM42.0 98.9h.9v.9h-.9zM41.4 88.0h.9v.9h-.9zM2.7 66.5h.9v.9h-.9zM8.5 65.9h.9v.9h-.9zM39.2 83.9h.9v.9h-.9zM35.2 75.1h.9v.9h-.9zM41.8 93.4h.9v.9h-.9zM41.6 87.0h.9v.9h-.9zM20.0 67.2h.9v.9h-.9zM42.4 92.7h.9v.9h-.9zM42.8 111.1h.9v.9h-.9zM33.6 73.7h.9v.9h-.9zM39.2 83.6h.9v.9h-.9zM11.5 67.4h.9v.9h-.9zM23.6 67.3h.9v.9h-.9zM4.6 67.0h.9v.9h-.9zM41.5 88.7h.9v.9h-.9zM34.8 77.1h.9v.9h-.9zM9.5 66.3h.9v.9h-.9zM43.4 111.3h.9v.9h-.9zM33.7 71.9h.9v.9h-.9zM32.7 72.8h.9v.9h-.9zM43.4 109.4h.9v.9h-.9zM9.8 66.4h.9v.9h-.9zM10.6 66.0h.9v.9h-.9zM43.0 103.8h.9v.9h-.9zM43.1 105.0h.9v.9h-.9zM-0.3 66.0h.9v.9h-.9zM23.8 67.6h.9v.9h-.9zM24.6 67.3h.9v.9h-.9zM42.6 93.4h.9v.9h-.9z"/><polyline points="0.4,17.2 1.6,17.4 2.3,18.1 4.1,18.9 4.7,19.3 5.8,19.5 6.6,21.3 7.8,22.4 8.7,22.8 10.0,23.7 10.9,25.5 12.0,26.5 12.3,27.8 13.2,28.6 13.6,29.3 14.2,31.0 14.9,32.3 15.0,32.9 16.2,34.2 16.4,35.6 16.8,37.2 18.5,37.5 19.2,38.3 20.1,39.1 21.0,40.0" fill="none" stroke="#4d8af5" stroke-width="1.08" stroke-linejoin="round"/><polyline points="4.7,44.7 6.0,44.9 7.5,43.7 9.2,44.0 9.9,42.6 11.0,42.6 12.5,42.6 13.7,42.8 15.4,43.4 16.9,42.9 17.9,43.0 19.3,42.8 20.4,42.8 22.7,42.6 23.6,43.1 25.4,42.7 26.0,43.0 27.4,43.4 29.2,44.1 30.4,43.5 29.5,45.5 30.4,46.6 30.1,47.5 28.6,48.9 27.8,49.4 26.7,49.2 24.6,49.7 24.0,51.2 23.4,52.2 22.1,53.3 23.2,53.6 24.0,54.3 25.5,54.9 27.1,54.8 27.6,55.8 29.1,57.2 29.6,57.6 29.4,59.4 28.6,60.4 28.1,61.5 26.5,62.3 25.8,62.8 24.4,63.0 22.4,63.1 21.8,63.9 19.8,63.5 18.7,64.2 17.4,63.8 16.4,64.4 14.7,63.5 13.6,63.9 12.7,63.7 11.5,64.2 10.0,63.7 9.3,63.4 7.9,62.9 6.1,63.1 5.0,62.9 4.0,61.7 3.5,60.5 3.8,59.6 3.0,57.7 2.9,56.9 2.6,54.6 2.8,53.6 3.9,52.9 4.0,51.7 4.4,49.8 3.9,49.2 4.7,47.0 4.9,46.1 5.0,45.0" fill="none" stroke="#4d8af5" stroke-width="1.08" stroke-linejoin="round"/><path fill="#4d8af5" d="M24.4 50.7h.9v.9h-.9zM5.2 45.4h.9v.9h-.9zM5.1 50.1h.9v.9h-.9zM23.8 43.7h.9v.9h-.9zM3.8 61.7h.9v.9h-.9zM26.6 56.2h.9v.9h-.9zM22.3 43.8h.9v.9h-.9zM6.9 44.4h.9v.9h-.9zM8.8 63.6h.9v.9h-.9zM10.9 42.8h.9v.9h-.9zM10.8 63.7h.9v.9h-.9zM30.7 44.2h.9v.9h-.9zM29.4 43.5h.9v.9h-.9zM30.8 44.7h.9v.9h-.9zM2.6 51.9h.9v.9h-.9zM7.2 44.7h.9v.9h-.9zM4.7 48.9h.9v.9h-.9zM27.9 43.9h.9v.9h-.9zM4.0 52.5h.9v.9h-.9zM11.6 63.2h.9v.9h-.9zM23.4 63.5h.9v.9h-.9zM25.5 49.6h.9v.9h-.9zM23.4 42.6h.9v.9h-.9zM11.4 43.1h.9v.9h-.9zM29.7 48.4h.9v.9h-.9z"/><polyline points="8.5,49.8 8.8,49.1 10.5,49.2 11.7,48.2 12.9,48.1 14.3,48.6 15.7,48.8 16.1,49.3 17.5,49.4 18.7,49.9 19.7,49.7 19.4,50.8 19.7,52.4 18.8,53.4 19.2,54.7 18.1,56.1 18.2,57.5 16.3,57.0 15.7,57.3 14.4,56.5 12.5,56.6 11.0,57.5 10.1,57.4 9.5,56.2 9.3,54.4 9.3,53.9 8.3,52.4 8.5,50.9 8.0,50.0" fill="none" stroke="#4fe0dc" stroke-width="1.08" stroke-linejoin="round"/><polyline points="-0.1,21.6 0.5,22.8 1.7,24.2 2.1,24.5 3.0,26.2 3.7,26.8 4.7,28.0 6.0,28.1 6.6,29.1 8.1,30.1 8.6,30.7 10.2,31.9 10.8,32.8 12.5,33.8 13.1,34.9 13.9,36.4 15.5,36.9 15.7,38.2 16.7,38.5 18.4,39.9 17.0,40.2 15.7,40.6 13.7,40.5 12.9,41.5 12.0,41.4 10.5,42.1 9.2,42.2 7.8,43.0 7.7,43.6 6.5,45.3 6.2,45.7 4.6,47.4 5.0,48.2 3.6,49.9 3.4,51.2 3.1,52.3 2.5,53.5 2.3,54.3 2.7,55.9 1.9,56.5 1.9,58.0 1.7,58.8 1.3,60.6 1.8,61.1 1.3,63.1 1.0,64.0" fill="none" stroke="#9a2cf0" stroke-width="1.20" stroke-linejoin="round"/><path fill="#9a2cf0" d="M1.6 23.5h.9v.9h-.9zM8.0 42.5h.9v.9h-.9zM11.9 35.0h.9v.9h-.9zM17.2 39.0h.9v.9h-.9zM18.7 40.2h.9v.9h-.9zM15.1 41.8h.9v.9h-.9zM2.9 51.4h.9v.9h-.9zM16.2 40.7h.9v.9h-.9zM18.3 40.1h.9v.9h-.9zM14.6 41.3h.9v.9h-.9zM2.9 24.7h.9v.9h-.9zM14.4 41.3h.9v.9h-.9zM15.9 37.5h.9v.9h-.9zM3.3 55.7h.9v.9h-.9zM3.4 54.9h.9v.9h-.9zM16.1 40.4h.9v.9h-.9zM6.9 27.6h.9v.9h-.9zM1.8 25.8h.9v.9h-.9zM6.7 28.4h.9v.9h-.9zM3.2 53.9h.9v.9h-.9zM1.9 59.8h.9v.9h-.9zM14.0 41.1h.9v.9h-.9zM8.2 30.7h.9v.9h-.9zM6.0 45.8h.9v.9h-.9zM3.7 52.1h.9v.9h-.9zM6.5 44.9h.9v.9h-.9zM10.2 41.3h.9v.9h-.9zM4.7 26.7h.9v.9h-.9zM16.4 37.8h.9v.9h-.9zM0.6 63.2h.9v.9h-.9zM3.2 50.6h.9v.9h-.9zM5.1 49.7h.9v.9h-.9zM9.3 31.1h.9v.9h-.9zM9.3 42.0h.9v.9h-.9zM0.4 22.2h.9v.9h-.9zM7.3 43.4h.9v.9h-.9zM2.3 58.3h.9v.9h-.9zM6.7 44.8h.9v.9h-.9zM15.1 37.0h.9v.9h-.9zM8.5 30.8h.9v.9h-.9z"/><polyline points="-0.3,71.7 1.2,71.2 2.9,71.3 3.4,71.2 5.1,72.0 6.5,71.5 7.3,71.1 8.9,71.7 9.9,71.7 11.2,72.0 12.7,71.2 14.2,71.0 15.0,71.3 16.0,70.9 17.8,70.8 18.8,71.7 19.6,70.9 21.4,71.3 22.7,71.6 23.5,71.2 24.9,71.0 26.7,71.8 27.8,71.0 29.2,71.8 29.6,72.9 30.4,73.5 30.8,74.6 31.5,75.8 32.8,77.3 33.5,78.4 33.6,79.3 34.3,80.6 35.0,81.2 35.8,83.0 36.0,84.1 36.4,84.6 37.2,86.2 38.3,87.5 38.0,89.0 38.3,89.6 39.2,91.3 39.1,92.8 39.5,94.1 39.5,95.7 39.7,96.9 39.6,98.5 39.2,99.7 39.6,101.0 39.9,102.5 39.0,103.8 39.9,105.3 39.1,106.3 39.0,108.2 39.6,109.4 39.7,110.1 39.6,111.6 39.5,113.0" fill="none" stroke="#9a2cf0" stroke-width="1.20" stroke-linejoin="round"/><path fill="#9a2cf0" d="M39.8 98.7h.9v.9h-.9zM5.6 70.8h.9v.9h-.9zM39.8 109.2h.9v.9h-.9zM9.1 71.8h.9v.9h-.9zM38.8 98.6h.9v.9h-.9zM37.5 86.5h.9v.9h-.9zM7.1 71.3h.9v.9h-.9zM23.2 71.4h.9v.9h-.9zM18.5 72.0h.9v.9h-.9zM26.3 72.7h.9v.9h-.9zM33.6 77.6h.9v.9h-.9zM1.8 71.9h.9v.9h-.9zM38.8 97.1h.9v.9h-.9zM34.6 81.3h.9v.9h-.9zM6.8 71.3h.9v.9h-.9zM0.3 72.4h.9v.9h-.9zM40.1 111.4h.9v.9h-.9zM32.8 77.0h.9v.9h-.9zM32.3 78.3h.9v.9h-.9zM19.4 71.1h.9v.9h-.9zM15.5 70.8h.9v.9h-.9zM7.9 71.4h.9v.9h-.9zM39.0 96.7h.9v.9h-.9zM37.2 86.5h.9v.9h-.9zM28.9 71.5h.9v.9h-.9zM39.8 104.9h.9v.9h-.9zM19.7 70.9h.9v.9h-.9zM27.9 71.3h.9v.9h-.9zM30.8 75.3h.9v.9h-.9zM38.8 94.6h.9v.9h-.9zM24.3 72.2h.9v.9h-.9zM38.1 88.2h.9v.9h-.9zM30.8 73.5h.9v.9h-.9zM8.2 71.8h.9v.9h-.9zM17.5 71.7h.9v.9h-.9zM39.0 91.1h.9v.9h-.9zM11.4 72.0h.9v.9h-.9zM34.1 79.7h.9v.9h-.9zM14.6 71.3h.9v.9h-.9zM7.6 71.5h.9v.9h-.9zM28.9 71.5h.9v.9h-.9zM38.7 93.7h.9v.9h-.9zM38.0 87.0h.9v.9h-.9zM28.8 71.7h.9v.9h-.9zM39.1 97.2h.9v.9h-.9z"/><polyline points="50.6,17.2 48.9,17.3 48.0,17.5 47.3,17.3 45.7,17.6 44.3,17.1 43.4,17.8 42.3,17.7 41.0,17.9 39.3,17.9 37.6,18.2 36.0,18.2 35.3,18.7 34.0,19.1 32.6,20.1 31.6,20.9 31.4,22.7 30.7,23.7 31.0,24.6 30.5,26.5 30.5,27.3 31.2,28.8 32.4,29.8 32.1,31.1 33.4,32.1 34.3,32.9 35.5,33.6 35.9,34.9 36.5,35.9 37.4,37.1 37.9,38.5 38.3,38.9 38.3,40.6 38.1,41.9 38.5,43.5 38.3,44.4 38.1,46.2 38.8,47.4 38.0,49.0 38.1,49.7 37.7,51.6 38.3,52.8 37.9,54.1 37.5,55.8 37.6,56.8 37.9,58.3 36.9,59.0 36.3,60.1 36.0,61.6 35.4,62.8 33.9,63.8 32.9,64.7 31.5,66.2 31.5,67.2 31.3,69.0 32.1,70.4 32.9,71.4 33.8,73.1 33.6,74.3 35.2,75.3 35.1,76.3 36.4,76.5 36.5,78.5 38.0,78.8 38.4,79.6 39.4,81.3 40.3,81.7 41.7,83.5 41.7,84.9 42.9,86.0 43.7,87.4 44.3,88.6 44.2,89.7 45.0,91.0 45.4,92.4 45.7,93.1 45.6,94.3 46.0,95.6 46.1,97.0 46.3,98.7 46.5,100.4 46.1,101.6 46.6,102.7 46.8,104.2 46.6,105.1 47.2,106.1 46.9,107.9 46.4,109.2 47.1,110.8 46.8,112.2 47.0,113.0" fill="none" stroke="#4fe0dc" stroke-width="1.32" stroke-linejoin="round"/><path fill="#4fe0dc" d="M35.6 59.9h.9v.9h-.9zM46.3 16.7h.9v.9h-.9zM38.7 39.0h.9v.9h-.9zM36.9 55.6h.9v.9h-.9zM30.2 26.6h.9v.9h-.9zM34.0 63.8h.9v.9h-.9zM45.0 92.6h.9v.9h-.9zM32.9 32.7h.9v.9h-.9zM34.7 74.3h.9v.9h-.9zM37.4 37.6h.9v.9h-.9zM33.4 72.6h.9v.9h-.9zM40.2 80.7h.9v.9h-.9zM44.5 17.5h.9v.9h-.9zM31.5 23.7h.9v.9h-.9zM35.1 74.0h.9v.9h-.9zM31.6 69.7h.9v.9h-.9zM37.0 78.3h.9v.9h-.9zM30.5 26.1h.9v.9h-.9zM42.6 85.3h.9v.9h-.9zM46.2 16.3h.9v.9h-.9zM34.0 75.5h.9v.9h-.9zM43.4 87.5h.9v.9h-.9zM36.2 35.7h.9v.9h-.9zM37.4 49.5h.9v.9h-.9zM43.8 17.4h.9v.9h-.9zM36.5 17.7h.9v.9h-.9zM46.5 103.2h.9v.9h-.9zM37.5 44.6h.9v.9h-.9zM46.4 110.8h.9v.9h-.9zM38.0 17.8h.9v.9h-.9zM32.8 20.1h.9v.9h-.9zM37.6 78.5h.9v.9h-.9zM40.1 17.6h.9v.9h-.9zM48.3 16.9h.9v.9h-.9zM40.6 82.3h.9v.9h-.9zM42.9 85.3h.9v.9h-.9zM40.9 82.1h.9v.9h-.9zM37.5 80.2h.9v.9h-.9zM33.5 31.0h.9v.9h-.9zM49.8 17.3h.9v.9h-.9zM45.5 91.3h.9v.9h-.9zM40.8 82.6h.9v.9h-.9zM38.1 57.3h.9v.9h-.9zM31.3 66.2h.9v.9h-.9zM33.6 19.2h.9v.9h-.9zM33.5 73.4h.9v.9h-.9zM38.7 43.9h.9v.9h-.9zM43.3 87.3h.9v.9h-.9zM44.0 17.3h.9v.9h-.9zM45.2 92.8h.9v.9h-.9zM47.2 109.7h.9v.9h-.9zM36.1 36.6h.9v.9h-.9zM38.2 43.3h.9v.9h-.9zM46.7 100.1h.9v.9h-.9zM50.3 17.7h.9v.9h-.9zM32.2 66.4h.9v.9h-.9zM45.9 16.6h.9v.9h-.9zM45.8 96.8h.9v.9h-.9zM46.2 94.4h.9v.9h-.9zM46.5 102.8h.9v.9h-.9z"/><polyline points="50.6,50.3 49.0,51.3 48.6,51.7 47.1,53.2 46.7,54.1 46.2,56.1 46.4,57.2 45.4,58.9 45.8,59.7 45.6,61.8 45.9,62.8 45.5,64.3 45.2,65.3 45.2,67.2 45.8,68.3 46.2,69.4 46.3,70.1 47.6,71.7 47.1,73.1 48.8,73.5 49.6,74.5 50.5,75.5" fill="none" stroke="#7ef0b0" stroke-width="1.08" stroke-linejoin="round"/><path fill="#7ef0b0" d="M45.6 63.3h.9v.9h-.9zM50.6 75.0h.9v.9h-.9zM45.4 65.4h.9v.9h-.9zM46.1 60.4h.9v.9h-.9zM47.4 71.7h.9v.9h-.9zM49.7 51.0h.9v.9h-.9zM49.1 51.7h.9v.9h-.9zM46.7 73.4h.9v.9h-.9zM49.0 74.0h.9v.9h-.9zM46.3 60.5h.9v.9h-.9zM45.9 55.6h.9v.9h-.9zM49.3 74.3h.9v.9h-.9zM46.1 62.1h.9v.9h-.9zM50.3 75.5h.9v.9h-.9zM45.9 56.4h.9v.9h-.9z"/><polyline points="50.9,24.3 48.9,24.8 48.4,25.1 47.5,25.1 46.1,27.3 46.4,28.7 45.3,30.1 46.1,30.9 46.1,32.3 46.2,33.7 46.7,34.7 47.8,35.7 48.8,36.2 50.5,36.5" fill="none" stroke="#7ef0b0" stroke-width="1.08" stroke-linejoin="round"/><polyline points="50.2,58.5 49.9,59.7 48.8,61.4 48.8,61.9 48.3,63.1 48.8,65.1 48.5,66.0 49.3,67.2 50.5,67.7" fill="none" stroke="#c5dc70" stroke-width="1.08" stroke-linejoin="round"/></g><g transform="translate(101,0) scale(-1,1)"><polyline points="-0.2,12.2 1.4,12.7 2.5,13.6 3.3,14.4 4.5,14.9 5.6,15.4 6.9,16.9 7.6,17.1 9.1,18.6 10.1,18.9 11.5,19.3 12.4,20.4 12.6,21.0 13.8,22.5 14.7,23.1 15.9,24.0 16.6,24.8 17.0,26.1 18.4,27.4 18.8,28.7 19.6,29.5 20.6,30.9 20.7,31.9 21.7,33.2 22.6,33.7 23.5,34.6 23.7,36.3 24.3,37.0 24.9,38.2 26.5,39.1 27.4,39.8 28.5,40.8 29.7,41.3 31.3,42.4 32.3,42.8 33.2,43.5 35.1,44.5 36.0,45.1 36.2,46.8 36.5,48.0 36.9,48.9 37.1,50.8 37.4,51.5 37.9,53.4 37.5,54.2 37.8,55.9 37.9,57.1 37.3,57.9 36.5,59.7 36.3,60.3 35.0,62.0" fill="none" stroke="#4d8af5" stroke-width="1.20" stroke-linejoin="round"/><path fill="#4d8af5" d="M10.0 19.4h.9v.9h-.9zM22.6 34.7h.9v.9h-.9zM-0.3 12.9h.9v.9h-.9zM27.2 38.9h.9v.9h-.9zM23.6 35.9h.9v.9h-.9zM4.1 13.5h.9v.9h-.9zM38.1 53.7h.9v.9h-.9zM20.6 30.5h.9v.9h-.9zM4.1 14.5h.9v.9h-.9zM9.1 18.5h.9v.9h-.9zM0.2 12.7h.9v.9h-.9zM19.8 28.2h.9v.9h-.9zM29.3 41.4h.9v.9h-.9zM17.7 27.3h.9v.9h-.9zM38.6 52.5h.9v.9h-.9zM23.1 35.0h.9v.9h-.9zM17.6 28.0h.9v.9h-.9zM10.6 18.5h.9v.9h-.9zM25.2 37.8h.9v.9h-.9zM-0.0 13.0h.9v.9h-.9zM37.8 53.1h.9v.9h-.9zM19.2 29.1h.9v.9h-.9zM25.0 36.9h.9v.9h-.9zM13.0 19.3h.9v.9h-.9zM38.3 51.8h.9v.9h-.9zM35.9 46.3h.9v.9h-.9zM18.4 27.6h.9v.9h-.9zM15.2 24.3h.9v.9h-.9zM35.2 60.0h.9v.9h-.9zM36.0 61.2h.9v.9h-.9zM12.3 21.2h.9v.9h-.9zM10.5 19.2h.9v.9h-.9zM36.9 52.1h.9v.9h-.9zM38.0 49.7h.9v.9h-.9zM37.8 55.7h.9v.9h-.9zM23.2 35.5h.9v.9h-.9zM17.9 24.8h.9v.9h-.9zM18.6 30.7h.9v.9h-.9zM35.5 44.9h.9v.9h-.9zM9.5 17.3h.9v.9h-.9zM9.1 16.2h.9v.9h-.9zM31.1 42.9h.9v.9h-.9zM9.1 17.2h.9v.9h-.9zM29.8 41.8h.9v.9h-.9zM21.9 31.2h.9v.9h-.9zM11.8 20.9h.9v.9h-.9zM12.9 21.4h.9v.9h-.9zM21.5 32.1h.9v.9h-.9zM17.4 27.7h.9v.9h-.9zM36.5 56.9h.9v.9h-.9zM22.9 35.7h.9v.9h-.9zM0.8 13.2h.9v.9h-.9zM0.3 12.3h.9v.9h-.9zM22.4 33.5h.9v.9h-.9zM16.3 25.8h.9v.9h-.9zM37.7 48.8h.9v.9h-.9zM13.6 23.0h.9v.9h-.9zM23.0 35.7h.9v.9h-.9zM36.8 57.1h.9v.9h-.9zM22.9 35.9h.9v.9h-.9z"/><polyline points="-0.0,66.0 1.2,66.5 2.7,66.5 4.2,65.9 5.1,66.7 6.6,65.9 7.1,66.3 8.3,66.2 9.6,66.7 11.5,67.0 12.2,66.8 13.9,66.3 15.4,67.2 16.0,67.3 17.4,66.9 19.2,67.3 19.7,66.9 21.3,66.9 22.2,67.0 24.0,66.8 25.1,67.3 25.9,67.3 27.8,67.6 28.5,68.2 30.1,69.2 30.3,69.6 31.1,71.2 32.3,71.6 33.1,73.5 34.1,74.0 34.1,75.7 35.1,76.6 35.3,77.1 36.5,78.5 36.6,80.1 37.8,81.1 37.9,82.3 38.6,83.4 39.6,84.1 40.3,85.9 40.6,86.4 41.5,87.7 41.3,88.9 41.5,90.1 41.9,91.4 42.6,92.6 42.5,93.7 42.4,94.7 42.5,95.9 43.0,97.7 42.6,98.8 43.4,99.6 43.4,101.1 43.1,102.7 43.0,103.6 43.3,105.3 43.0,106.3 43.4,107.5 43.1,108.6 42.8,109.8 42.9,111.8 43.3,113.0" fill="none" stroke="#4d8af5" stroke-width="1.20" stroke-linejoin="round"/><path fill="#4d8af5" d="M20.0 67.2h.9v.9h-.9zM43.5 100.1h.9v.9h-.9zM22.0 67.6h.9v.9h-.9zM33.4 73.6h.9v.9h-.9zM21.8 66.7h.9v.9h-.9zM36.7 80.3h.9v.9h-.9zM24.1 67.3h.9v.9h-.9zM28.8 68.4h.9v.9h-.9zM15.6 66.8h.9v.9h-.9zM21.0 67.3h.9v.9h-.9zM3.7 66.2h.9v.9h-.9zM17.6 66.6h.9v.9h-.9zM42.0 92.9h.9v.9h-.9zM42.8 103.9h.9v.9h-.9zM43.8 112.5h.9v.9h-.9zM41.2 85.8h.9v.9h-.9zM42.6 104.0h.9v.9h-.9zM43.3 98.8h.9v.9h-.9zM35.4 75.4h.9v.9h-.9zM42.0 98.9h.9v.9h-.9zM41.4 88.0h.9v.9h-.9zM2.7 66.5h.9v.9h-.9zM8.5 65.9h.9v.9h-.9zM39.2 83.9h.9v.9h-.9zM35.2 75.1h.9v.9h-.9zM41.8 93.4h.9v.9h-.9zM41.6 87.0h.9v.9h-.9zM20.0 67.2h.9v.9h-.9zM42.4 92.7h.9v.9h-.9zM42.8 111.1h.9v.9h-.9zM33.6 73.7h.9v.9h-.9zM39.2 83.6h.9v.9h-.9zM11.5 67.4h.9v.9h-.9zM23.6 67.3h.9v.9h-.9zM4.6 67.0h.9v.9h-.9zM41.5 88.7h.9v.9h-.9zM34.8 77.1h.9v.9h-.9zM9.5 66.3h.9v.9h-.9zM43.4 111.3h.9v.9h-.9zM33.7 71.9h.9v.9h-.9zM32.7 72.8h.9v.9h-.9zM43.4 109.4h.9v.9h-.9zM9.8 66.4h.9v.9h-.9zM10.6 66.0h.9v.9h-.9zM43.0 103.8h.9v.9h-.9zM43.1 105.0h.9v.9h-.9zM-0.3 66.0h.9v.9h-.9zM23.8 67.6h.9v.9h-.9zM24.6 67.3h.9v.9h-.9zM42.6 93.4h.9v.9h-.9z"/><polyline points="0.4,17.2 1.6,17.4 2.3,18.1 4.1,18.9 4.7,19.3 5.8,19.5 6.6,21.3 7.8,22.4 8.7,22.8 10.0,23.7 10.9,25.5 12.0,26.5 12.3,27.8 13.2,28.6 13.6,29.3 14.2,31.0 14.9,32.3 15.0,32.9 16.2,34.2 16.4,35.6 16.8,37.2 18.5,37.5 19.2,38.3 20.1,39.1 21.0,40.0" fill="none" stroke="#4d8af5" stroke-width="1.08" stroke-linejoin="round"/><polyline points="4.7,44.7 6.0,44.9 7.5,43.7 9.2,44.0 9.9,42.6 11.0,42.6 12.5,42.6 13.7,42.8 15.4,43.4 16.9,42.9 17.9,43.0 19.3,42.8 20.4,42.8 22.7,42.6 23.6,43.1 25.4,42.7 26.0,43.0 27.4,43.4 29.2,44.1 30.4,43.5 29.5,45.5 30.4,46.6 30.1,47.5 28.6,48.9 27.8,49.4 26.7,49.2 24.6,49.7 24.0,51.2 23.4,52.2 22.1,53.3 23.2,53.6 24.0,54.3 25.5,54.9 27.1,54.8 27.6,55.8 29.1,57.2 29.6,57.6 29.4,59.4 28.6,60.4 28.1,61.5 26.5,62.3 25.8,62.8 24.4,63.0 22.4,63.1 21.8,63.9 19.8,63.5 18.7,64.2 17.4,63.8 16.4,64.4 14.7,63.5 13.6,63.9 12.7,63.7 11.5,64.2 10.0,63.7 9.3,63.4 7.9,62.9 6.1,63.1 5.0,62.9 4.0,61.7 3.5,60.5 3.8,59.6 3.0,57.7 2.9,56.9 2.6,54.6 2.8,53.6 3.9,52.9 4.0,51.7 4.4,49.8 3.9,49.2 4.7,47.0 4.9,46.1 5.0,45.0" fill="none" stroke="#4d8af5" stroke-width="1.08" stroke-linejoin="round"/><path fill="#4d8af5" d="M24.4 50.7h.9v.9h-.9zM5.2 45.4h.9v.9h-.9zM5.1 50.1h.9v.9h-.9zM23.8 43.7h.9v.9h-.9zM3.8 61.7h.9v.9h-.9zM26.6 56.2h.9v.9h-.9zM22.3 43.8h.9v.9h-.9zM6.9 44.4h.9v.9h-.9zM8.8 63.6h.9v.9h-.9zM10.9 42.8h.9v.9h-.9zM10.8 63.7h.9v.9h-.9zM30.7 44.2h.9v.9h-.9zM29.4 43.5h.9v.9h-.9zM30.8 44.7h.9v.9h-.9zM2.6 51.9h.9v.9h-.9zM7.2 44.7h.9v.9h-.9zM4.7 48.9h.9v.9h-.9zM27.9 43.9h.9v.9h-.9zM4.0 52.5h.9v.9h-.9zM11.6 63.2h.9v.9h-.9zM23.4 63.5h.9v.9h-.9zM25.5 49.6h.9v.9h-.9zM23.4 42.6h.9v.9h-.9zM11.4 43.1h.9v.9h-.9zM29.7 48.4h.9v.9h-.9z"/><polyline points="8.5,49.8 8.8,49.1 10.5,49.2 11.7,48.2 12.9,48.1 14.3,48.6 15.7,48.8 16.1,49.3 17.5,49.4 18.7,49.9 19.7,49.7 19.4,50.8 19.7,52.4 18.8,53.4 19.2,54.7 18.1,56.1 18.2,57.5 16.3,57.0 15.7,57.3 14.4,56.5 12.5,56.6 11.0,57.5 10.1,57.4 9.5,56.2 9.3,54.4 9.3,53.9 8.3,52.4 8.5,50.9 8.0,50.0" fill="none" stroke="#4fe0dc" stroke-width="1.08" stroke-linejoin="round"/><polyline points="-0.1,21.6 0.5,22.8 1.7,24.2 2.1,24.5 3.0,26.2 3.7,26.8 4.7,28.0 6.0,28.1 6.6,29.1 8.1,30.1 8.6,30.7 10.2,31.9 10.8,32.8 12.5,33.8 13.1,34.9 13.9,36.4 15.5,36.9 15.7,38.2 16.7,38.5 18.4,39.9 17.0,40.2 15.7,40.6 13.7,40.5 12.9,41.5 12.0,41.4 10.5,42.1 9.2,42.2 7.8,43.0 7.7,43.6 6.5,45.3 6.2,45.7 4.6,47.4 5.0,48.2 3.6,49.9 3.4,51.2 3.1,52.3 2.5,53.5 2.3,54.3 2.7,55.9 1.9,56.5 1.9,58.0 1.7,58.8 1.3,60.6 1.8,61.1 1.3,63.1 1.0,64.0" fill="none" stroke="#9a2cf0" stroke-width="1.20" stroke-linejoin="round"/><path fill="#9a2cf0" d="M1.6 23.5h.9v.9h-.9zM8.0 42.5h.9v.9h-.9zM11.9 35.0h.9v.9h-.9zM17.2 39.0h.9v.9h-.9zM18.7 40.2h.9v.9h-.9zM15.1 41.8h.9v.9h-.9zM2.9 51.4h.9v.9h-.9zM16.2 40.7h.9v.9h-.9zM18.3 40.1h.9v.9h-.9zM14.6 41.3h.9v.9h-.9zM2.9 24.7h.9v.9h-.9zM14.4 41.3h.9v.9h-.9zM15.9 37.5h.9v.9h-.9zM3.3 55.7h.9v.9h-.9zM3.4 54.9h.9v.9h-.9zM16.1 40.4h.9v.9h-.9zM6.9 27.6h.9v.9h-.9zM1.8 25.8h.9v.9h-.9zM6.7 28.4h.9v.9h-.9zM3.2 53.9h.9v.9h-.9zM1.9 59.8h.9v.9h-.9zM14.0 41.1h.9v.9h-.9zM8.2 30.7h.9v.9h-.9zM6.0 45.8h.9v.9h-.9zM3.7 52.1h.9v.9h-.9zM6.5 44.9h.9v.9h-.9zM10.2 41.3h.9v.9h-.9zM4.7 26.7h.9v.9h-.9zM16.4 37.8h.9v.9h-.9zM0.6 63.2h.9v.9h-.9zM3.2 50.6h.9v.9h-.9zM5.1 49.7h.9v.9h-.9zM9.3 31.1h.9v.9h-.9zM9.3 42.0h.9v.9h-.9zM0.4 22.2h.9v.9h-.9zM7.3 43.4h.9v.9h-.9zM2.3 58.3h.9v.9h-.9zM6.7 44.8h.9v.9h-.9zM15.1 37.0h.9v.9h-.9zM8.5 30.8h.9v.9h-.9z"/><polyline points="-0.3,71.7 1.2,71.2 2.9,71.3 3.4,71.2 5.1,72.0 6.5,71.5 7.3,71.1 8.9,71.7 9.9,71.7 11.2,72.0 12.7,71.2 14.2,71.0 15.0,71.3 16.0,70.9 17.8,70.8 18.8,71.7 19.6,70.9 21.4,71.3 22.7,71.6 23.5,71.2 24.9,71.0 26.7,71.8 27.8,71.0 29.2,71.8 29.6,72.9 30.4,73.5 30.8,74.6 31.5,75.8 32.8,77.3 33.5,78.4 33.6,79.3 34.3,80.6 35.0,81.2 35.8,83.0 36.0,84.1 36.4,84.6 37.2,86.2 38.3,87.5 38.0,89.0 38.3,89.6 39.2,91.3 39.1,92.8 39.5,94.1 39.5,95.7 39.7,96.9 39.6,98.5 39.2,99.7 39.6,101.0 39.9,102.5 39.0,103.8 39.9,105.3 39.1,106.3 39.0,108.2 39.6,109.4 39.7,110.1 39.6,111.6 39.5,113.0" fill="none" stroke="#9a2cf0" stroke-width="1.20" stroke-linejoin="round"/><path fill="#9a2cf0" d="M39.8 98.7h.9v.9h-.9zM5.6 70.8h.9v.9h-.9zM39.8 109.2h.9v.9h-.9zM9.1 71.8h.9v.9h-.9zM38.8 98.6h.9v.9h-.9zM37.5 86.5h.9v.9h-.9zM7.1 71.3h.9v.9h-.9zM23.2 71.4h.9v.9h-.9zM18.5 72.0h.9v.9h-.9zM26.3 72.7h.9v.9h-.9zM33.6 77.6h.9v.9h-.9zM1.8 71.9h.9v.9h-.9zM38.8 97.1h.9v.9h-.9zM34.6 81.3h.9v.9h-.9zM6.8 71.3h.9v.9h-.9zM0.3 72.4h.9v.9h-.9zM40.1 111.4h.9v.9h-.9zM32.8 77.0h.9v.9h-.9zM32.3 78.3h.9v.9h-.9zM19.4 71.1h.9v.9h-.9zM15.5 70.8h.9v.9h-.9zM7.9 71.4h.9v.9h-.9zM39.0 96.7h.9v.9h-.9zM37.2 86.5h.9v.9h-.9zM28.9 71.5h.9v.9h-.9zM39.8 104.9h.9v.9h-.9zM19.7 70.9h.9v.9h-.9zM27.9 71.3h.9v.9h-.9zM30.8 75.3h.9v.9h-.9zM38.8 94.6h.9v.9h-.9zM24.3 72.2h.9v.9h-.9zM38.1 88.2h.9v.9h-.9zM30.8 73.5h.9v.9h-.9zM8.2 71.8h.9v.9h-.9zM17.5 71.7h.9v.9h-.9zM39.0 91.1h.9v.9h-.9zM11.4 72.0h.9v.9h-.9zM34.1 79.7h.9v.9h-.9zM14.6 71.3h.9v.9h-.9zM7.6 71.5h.9v.9h-.9zM28.9 71.5h.9v.9h-.9zM38.7 93.7h.9v.9h-.9zM38.0 87.0h.9v.9h-.9zM28.8 71.7h.9v.9h-.9zM39.1 97.2h.9v.9h-.9z"/><polyline points="50.6,17.2 48.9,17.3 48.0,17.5 47.3,17.3 45.7,17.6 44.3,17.1 43.4,17.8 42.3,17.7 41.0,17.9 39.3,17.9 37.6,18.2 36.0,18.2 35.3,18.7 34.0,19.1 32.6,20.1 31.6,20.9 31.4,22.7 30.7,23.7 31.0,24.6 30.5,26.5 30.5,27.3 31.2,28.8 32.4,29.8 32.1,31.1 33.4,32.1 34.3,32.9 35.5,33.6 35.9,34.9 36.5,35.9 37.4,37.1 37.9,38.5 38.3,38.9 38.3,40.6 38.1,41.9 38.5,43.5 38.3,44.4 38.1,46.2 38.8,47.4 38.0,49.0 38.1,49.7 37.7,51.6 38.3,52.8 37.9,54.1 37.5,55.8 37.6,56.8 37.9,58.3 36.9,59.0 36.3,60.1 36.0,61.6 35.4,62.8 33.9,63.8 32.9,64.7 31.5,66.2 31.5,67.2 31.3,69.0 32.1,70.4 32.9,71.4 33.8,73.1 33.6,74.3 35.2,75.3 35.1,76.3 36.4,76.5 36.5,78.5 38.0,78.8 38.4,79.6 39.4,81.3 40.3,81.7 41.7,83.5 41.7,84.9 42.9,86.0 43.7,87.4 44.3,88.6 44.2,89.7 45.0,91.0 45.4,92.4 45.7,93.1 45.6,94.3 46.0,95.6 46.1,97.0 46.3,98.7 46.5,100.4 46.1,101.6 46.6,102.7 46.8,104.2 46.6,105.1 47.2,106.1 46.9,107.9 46.4,109.2 47.1,110.8 46.8,112.2 47.0,113.0" fill="none" stroke="#4fe0dc" stroke-width="1.32" stroke-linejoin="round"/><path fill="#4fe0dc" d="M35.6 59.9h.9v.9h-.9zM46.3 16.7h.9v.9h-.9zM38.7 39.0h.9v.9h-.9zM36.9 55.6h.9v.9h-.9zM30.2 26.6h.9v.9h-.9zM34.0 63.8h.9v.9h-.9zM45.0 92.6h.9v.9h-.9zM32.9 32.7h.9v.9h-.9zM34.7 74.3h.9v.9h-.9zM37.4 37.6h.9v.9h-.9zM33.4 72.6h.9v.9h-.9zM40.2 80.7h.9v.9h-.9zM44.5 17.5h.9v.9h-.9zM31.5 23.7h.9v.9h-.9zM35.1 74.0h.9v.9h-.9zM31.6 69.7h.9v.9h-.9zM37.0 78.3h.9v.9h-.9zM30.5 26.1h.9v.9h-.9zM42.6 85.3h.9v.9h-.9zM46.2 16.3h.9v.9h-.9zM34.0 75.5h.9v.9h-.9zM43.4 87.5h.9v.9h-.9zM36.2 35.7h.9v.9h-.9zM37.4 49.5h.9v.9h-.9zM43.8 17.4h.9v.9h-.9zM36.5 17.7h.9v.9h-.9zM46.5 103.2h.9v.9h-.9zM37.5 44.6h.9v.9h-.9zM46.4 110.8h.9v.9h-.9zM38.0 17.8h.9v.9h-.9zM32.8 20.1h.9v.9h-.9zM37.6 78.5h.9v.9h-.9zM40.1 17.6h.9v.9h-.9zM48.3 16.9h.9v.9h-.9zM40.6 82.3h.9v.9h-.9zM42.9 85.3h.9v.9h-.9zM40.9 82.1h.9v.9h-.9zM37.5 80.2h.9v.9h-.9zM33.5 31.0h.9v.9h-.9zM49.8 17.3h.9v.9h-.9zM45.5 91.3h.9v.9h-.9zM40.8 82.6h.9v.9h-.9zM38.1 57.3h.9v.9h-.9zM31.3 66.2h.9v.9h-.9zM33.6 19.2h.9v.9h-.9zM33.5 73.4h.9v.9h-.9zM38.7 43.9h.9v.9h-.9zM43.3 87.3h.9v.9h-.9zM44.0 17.3h.9v.9h-.9zM45.2 92.8h.9v.9h-.9zM47.2 109.7h.9v.9h-.9zM36.1 36.6h.9v.9h-.9zM38.2 43.3h.9v.9h-.9zM46.7 100.1h.9v.9h-.9zM50.3 17.7h.9v.9h-.9zM32.2 66.4h.9v.9h-.9zM45.9 16.6h.9v.9h-.9zM45.8 96.8h.9v.9h-.9zM46.2 94.4h.9v.9h-.9zM46.5 102.8h.9v.9h-.9z"/><polyline points="50.6,50.3 49.0,51.3 48.6,51.7 47.1,53.2 46.7,54.1 46.2,56.1 46.4,57.2 45.4,58.9 45.8,59.7 45.6,61.8 45.9,62.8 45.5,64.3 45.2,65.3 45.2,67.2 45.8,68.3 46.2,69.4 46.3,70.1 47.6,71.7 47.1,73.1 48.8,73.5 49.6,74.5 50.5,75.5" fill="none" stroke="#7ef0b0" stroke-width="1.08" stroke-linejoin="round"/><path fill="#7ef0b0" d="M45.6 63.3h.9v.9h-.9zM50.6 75.0h.9v.9h-.9zM45.4 65.4h.9v.9h-.9zM46.1 60.4h.9v.9h-.9zM47.4 71.7h.9v.9h-.9zM49.7 51.0h.9v.9h-.9zM49.1 51.7h.9v.9h-.9zM46.7 73.4h.9v.9h-.9zM49.0 74.0h.9v.9h-.9zM46.3 60.5h.9v.9h-.9zM45.9 55.6h.9v.9h-.9zM49.3 74.3h.9v.9h-.9zM46.1 62.1h.9v.9h-.9zM50.3 75.5h.9v.9h-.9zM45.9 56.4h.9v.9h-.9z"/><polyline points="50.9,24.3 48.9,24.8 48.4,25.1 47.5,25.1 46.1,27.3 46.4,28.7 45.3,30.1 46.1,30.9 46.1,32.3 46.2,33.7 46.7,34.7 47.8,35.7 48.8,36.2 50.5,36.5" fill="none" stroke="#7ef0b0" stroke-width="1.08" stroke-linejoin="round"/><polyline points="50.2,58.5 49.9,59.7 48.8,61.4 48.8,61.9 48.3,63.1 48.8,65.1 48.5,66.0 49.3,67.2 50.5,67.7" fill="none" stroke="#c5dc70" stroke-width="1.08" stroke-linejoin="round"/></g><circle cx="50.5" cy="30" r="2" fill="none" stroke="#7ef0b0" stroke-width="0.8"/><line x1="50.5" y1="8" x2="50.5" y2="112" stroke="#4fe0dc" stroke-width="0.9" stroke-dasharray="1 1.2"/></g><g id="cl"><g><ellipse cx="36" cy="77.5" rx="4.6" ry="2.2" transform="rotate(-12 36 77.5)" fill="none" stroke="#f08030" stroke-width="1.3"/><polyline points="40,80 39,86 41,89 37.5,92 38.5,98" fill="none" stroke="#f08030" stroke-width="2" stroke-linejoin="round"/><polyline points="34.5,92 44,90.5" fill="none" stroke="#f08030" stroke-width="1.5"/><polyline points="41,89 43.5,86" fill="none" stroke="#f08030" stroke-width="1.3"/></g><g transform="translate(101,0) scale(-1,1)"><ellipse cx="36" cy="77.5" rx="4.6" ry="2.2" transform="rotate(-12 36 77.5)" fill="none" stroke="#f08030" stroke-width="1.3"/><polyline points="40,80 39,86 41,89 37.5,92 38.5,98" fill="none" stroke="#f08030" stroke-width="2" stroke-linejoin="round"/><polyline points="34.5,92 44,90.5" fill="none" stroke="#f08030" stroke-width="1.5"/><polyline points="41,89 43.5,86" fill="none" stroke="#f08030" stroke-width="1.3"/></g><g><polyline points="-0.0,11.1 0.9,11.2 2.1,12.2 3.8,12.1 5.4,12.8 5.9,13.7 6.8,15.3 7.8,15.7 9.0,16.8 10.4,17.6 11.5,18.4 12.4,19.8 12.7,20.4 13.8,21.0 14.7,21.9 16.7,23.2 17.9,23.1 18.5,24.6 19.6,25.2 20.3,26.7 20.5,27.8 21.3,28.4 21.5,30.3 22.8,30.7 23.4,32.4 24.0,33.1 24.6,33.7 26.0,35.2 26.2,35.6 26.8,37.1 28.0,37.8 28.7,39.1 30.2,40.3 31.1,40.7 31.6,42.2 32.7,43.5 33.1,44.8 34.1,46.1 35.4,47.0 35.0,48.7 36.0,49.9 36.3,50.4 37.3,51.9 37.0,53.2 37.8,54.2 38.0,55.9 38.4,56.8 39.0,58.7 39.6,59.4 39.8,60.7 40.3,61.6 41.1,63.5 41.5,64.0 42.3,65.0 42.5,66.5 44.1,66.5 45.3,67.4 47.3,68.0 48.3,68.9 50.5,69.0" fill="none" stroke="#9a2cf0" stroke-width="1.20" stroke-linejoin="round"/><path fill="#9a2cf0" d="M14.0 20.2h.9v.9h-.9zM30.7 42.4h.9v.9h-.9zM8.3 13.8h.9v.9h-.9zM4.3 13.2h.9v.9h-.9zM28.1 38.8h.9v.9h-.9zM24.5 33.2h.9v.9h-.9zM42.1 64.8h.9v.9h-.9zM38.8 56.9h.9v.9h-.9zM44.8 68.4h.9v.9h-.9zM39.1 62.1h.9v.9h-.9zM46.2 66.9h.9v.9h-.9zM14.9 23.3h.9v.9h-.9zM49.8 66.5h.9v.9h-.9zM39.7 60.1h.9v.9h-.9zM31.6 38.5h.9v.9h-.9zM14.7 23.4h.9v.9h-.9zM21.3 29.3h.9v.9h-.9zM24.7 33.9h.9v.9h-.9zM11.0 16.8h.9v.9h-.9zM44.3 66.2h.9v.9h-.9zM42.6 64.9h.9v.9h-.9zM34.9 48.8h.9v.9h-.9zM15.3 23.0h.9v.9h-.9zM34.2 47.1h.9v.9h-.9zM25.8 33.6h.9v.9h-.9zM19.6 24.5h.9v.9h-.9zM34.4 43.5h.9v.9h-.9zM16.1 23.7h.9v.9h-.9zM10.1 18.1h.9v.9h-.9zM18.4 25.0h.9v.9h-.9zM16.8 23.1h.9v.9h-.9zM39.1 61.4h.9v.9h-.9zM35.9 49.5h.9v.9h-.9zM24.8 35.2h.9v.9h-.9zM26.3 37.0h.9v.9h-.9zM13.1 21.3h.9v.9h-.9zM33.8 43.4h.9v.9h-.9zM41.4 65.1h.9v.9h-.9zM27.0 40.8h.9v.9h-.9zM19.4 23.9h.9v.9h-.9zM5.8 12.1h.9v.9h-.9zM3.7 13.6h.9v.9h-.9zM38.2 54.8h.9v.9h-.9zM47.2 67.9h.9v.9h-.9zM19.9 28.6h.9v.9h-.9zM35.2 43.8h.9v.9h-.9zM29.1 37.4h.9v.9h-.9zM36.2 56.5h.9v.9h-.9zM37.5 51.9h.9v.9h-.9zM43.6 64.3h.9v.9h-.9zM30.0 43.3h.9v.9h-.9zM30.5 43.3h.9v.9h-.9zM41.0 63.7h.9v.9h-.9zM24.1 35.6h.9v.9h-.9zM18.0 25.3h.9v.9h-.9zM21.7 32.5h.9v.9h-.9zM39.5 62.9h.9v.9h-.9zM11.7 20.1h.9v.9h-.9zM31.9 42.3h.9v.9h-.9zM43.6 68.9h.9v.9h-.9zM40.8 62.0h.9v.9h-.9zM24.7 33.4h.9v.9h-.9zM2.4 11.9h.9v.9h-.9zM44.7 65.6h.9v.9h-.9zM49.0 68.8h.9v.9h-.9zM35.6 51.1h.9v.9h-.9zM31.6 46.1h.9v.9h-.9zM35.6 49.7h.9v.9h-.9zM20.9 30.9h.9v.9h-.9zM34.4 40.5h.9v.9h-.9zM26.1 37.9h.9v.9h-.9zM49.4 70.1h.9v.9h-.9zM40.0 61.3h.9v.9h-.9zM49.4 67.6h.9v.9h-.9zM8.8 14.5h.9v.9h-.9zM41.9 60.7h.9v.9h-.9zM24.8 33.9h.9v.9h-.9zM28.1 38.8h.9v.9h-.9zM10.7 18.3h.9v.9h-.9zM23.0 28.5h.9v.9h-.9zM1.5 13.3h.9v.9h-.9zM20.0 25.0h.9v.9h-.9zM20.7 23.7h.9v.9h-.9zM36.3 50.4h.9v.9h-.9zM31.1 42.8h.9v.9h-.9zM31.4 39.9h.9v.9h-.9zM24.3 32.9h.9v.9h-.9zM38.5 56.5h.9v.9h-.9zM9.0 18.5h.9v.9h-.9zM34.0 44.8h.9v.9h-.9zM1.1 10.4h.9v.9h-.9zM36.8 53.3h.9v.9h-.9zM19.2 24.8h.9v.9h-.9zM31.9 44.0h.9v.9h-.9zM24.8 31.6h.9v.9h-.9zM33.8 42.8h.9v.9h-.9zM34.2 46.0h.9v.9h-.9zM45.9 66.7h.9v.9h-.9zM43.5 65.2h.9v.9h-.9zM34.7 44.1h.9v.9h-.9zM46.6 69.3h.9v.9h-.9zM37.4 53.9h.9v.9h-.9zM40.0 64.7h.9v.9h-.9zM16.1 23.3h.9v.9h-.9zM12.9 19.5h.9v.9h-.9zM32.7 42.6h.9v.9h-.9zM22.3 31.0h.9v.9h-.9zM8.7 15.3h.9v.9h-.9zM16.1 23.3h.9v.9h-.9zM16.8 22.5h.9v.9h-.9z"/><path fill="#9a2cf0" d="M5.8 17.3h.9v.9h-.9zM9.8 16.4h.9v.9h-.9zM5.0 27.5h.9v.9h-.9zM3.4 21.6h.9v.9h-.9zM11.2 27.1h.9v.9h-.9zM3.8 20.3h.9v.9h-.9zM9.9 20.7h.9v.9h-.9zM12.5 18.1h.9v.9h-.9zM12.5 22.6h.9v.9h-.9zM4.5 21.8h.9v.9h-.9zM3.4 25.6h.9v.9h-.9zM4.9 28.5h.9v.9h-.9zM8.5 20.5h.9v.9h-.9zM4.7 24.1h.9v.9h-.9zM4.3 28.1h.9v.9h-.9zM3.4 22.7h.9v.9h-.9zM8.0 19.1h.9v.9h-.9zM10.5 20.8h.9v.9h-.9zM9.2 23.5h.9v.9h-.9zM5.4 20.8h.9v.9h-.9zM2.9 17.7h.9v.9h-.9zM11.4 19.8h.9v.9h-.9zM9.3 16.6h.9v.9h-.9zM8.2 20.4h.9v.9h-.9zM7.5 19.5h.9v.9h-.9zM2.7 19.7h.9v.9h-.9zM4.5 16.9h.9v.9h-.9zM9.9 19.2h.9v.9h-.9zM6.4 28.6h.9v.9h-.9zM10.5 28.2h.9v.9h-.9zM11.5 17.0h.9v.9h-.9zM5.0 15.4h.9v.9h-.9zM9.5 25.0h.9v.9h-.9zM5.9 21.2h.9v.9h-.9zM9.2 25.5h.9v.9h-.9zM4.7 27.7h.9v.9h-.9zM5.9 24.4h.9v.9h-.9zM4.0 16.7h.9v.9h-.9zM12.0 26.0h.9v.9h-.9zM9.8 15.6h.9v.9h-.9zM2.4 17.4h.9v.9h-.9zM4.2 19.5h.9v.9h-.9zM6.2 15.6h.9v.9h-.9zM5.4 24.6h.9v.9h-.9zM4.0 27.6h.9v.9h-.9z"/><polyline points="3.1,62.2 2.9,60.7 3.4,59.3 2.9,58.6 3.8,56.8 3.2,56.1 3.9,54.0 3.6,52.9 4.3,51.7 5.2,51.2 5.3,50.2 6.4,49.2 7.7,47.8 7.8,47.4 8.9,46.4 10.2,45.6 11.3,44.8 12.0,43.6 13.2,43.3 14.0,43.1 14.6,42.3 15.9,42.2 18.1,41.8 19.2,42.5 20.7,42.0 21.7,41.6 22.9,42.9 23.7,43.8 24.6,45.2 26.2,45.7 26.1,47.2 26.7,48.8 27.1,49.4 28.0,50.4 28.1,51.8 29.0,53.0 29.6,53.7 30.2,55.1 30.6,56.3 31.7,56.6 31.8,57.9 32.5,58.8 33.3,60.2 34.5,61.7 34.6,62.8 33.7,63.6 32.2,64.1 30.8,65.7 30.3,65.6 29.0,66.7 27.6,66.1 26.2,66.7 24.7,67.0 23.3,67.7 22.6,67.6 21.7,67.9 19.8,67.7 18.4,67.4 17.8,68.1 16.0,67.3 15.1,67.8 14.2,67.0 12.8,67.6 11.5,67.0 9.7,67.3 8.8,66.2 8.1,65.4 7.3,64.6 5.5,64.2 5.1,63.7 4.2,63.1 3.0,62.0" fill="none" stroke="#9a2cf0" stroke-width="1.08" stroke-linejoin="round"/><path fill="#9a2cf0" d="M6.5 65.0h.9v.9h-.9zM6.6 49.2h.9v.9h-.9zM3.6 54.4h.9v.9h-.9zM27.1 48.8h.9v.9h-.9zM3.1 58.5h.9v.9h-.9zM27.6 66.7h.9v.9h-.9zM14.8 67.0h.9v.9h-.9zM15.6 41.5h.9v.9h-.9zM26.0 47.3h.9v.9h-.9zM32.0 64.1h.9v.9h-.9zM7.1 48.6h.9v.9h-.9zM32.0 58.6h.9v.9h-.9zM3.5 54.7h.9v.9h-.9zM6.0 63.0h.9v.9h-.9zM5.6 63.2h.9v.9h-.9zM19.4 68.1h.9v.9h-.9zM34.2 62.6h.9v.9h-.9zM5.8 64.6h.9v.9h-.9zM16.8 42.9h.9v.9h-.9zM3.5 60.2h.9v.9h-.9zM27.7 49.5h.9v.9h-.9zM23.0 43.2h.9v.9h-.9zM30.1 55.6h.9v.9h-.9zM4.7 52.6h.9v.9h-.9zM32.2 57.8h.9v.9h-.9z"/><polyline points="50.3,11.6 49.2,11.9 47.9,12.3 46.3,12.4 44.9,12.4 44.1,12.1 42.7,12.2 41.5,13.1 40.5,13.0 39.5,12.5 38.5,13.2 36.4,13.6 35.4,13.2 34.7,13.8 33.3,13.6 32.5,14.6 31.2,15.9 30.3,17.1 29.7,17.8 29.9,19.3 29.7,20.8 29.4,22.1 29.7,23.6 29.2,24.7 29.6,26.0 30.2,27.3 30.1,28.1 31.2,29.9 31.7,30.3 32.1,31.6 32.8,33.6 33.1,34.9 34.4,35.5 34.7,36.9 35.8,38.3 35.6,39.0 36.1,41.1 36.7,42.1 37.0,43.4 37.3,44.0 38.0,45.6 38.0,47.1 38.4,47.5 38.0,49.1 38.4,51.2 38.9,51.7 38.5,53.9 39.2,54.9 39.2,55.9 39.7,57.3 40.0,58.7 39.4,59.6 39.7,61.4 40.8,61.5 41.2,62.9 42.2,64.1 42.9,64.9 43.8,65.7 45.5,65.9 47.0,67.5 48.3,66.9 50.5,67.5" fill="none" stroke="#4d8af5" stroke-width="1.20" stroke-linejoin="round"/><path fill="#4d8af5" d="M37.9 48.2h.9v.9h-.9zM33.5 35.6h.9v.9h-.9zM36.9 36.0h.9v.9h-.9zM46.6 11.8h.9v.9h-.9zM41.8 62.2h.9v.9h-.9zM37.1 45.2h.9v.9h-.9zM40.6 56.4h.9v.9h-.9zM37.7 49.6h.9v.9h-.9zM37.7 53.0h.9v.9h-.9zM28.6 23.3h.9v.9h-.9zM45.3 12.9h.9v.9h-.9zM48.9 67.4h.9v.9h-.9zM31.9 16.3h.9v.9h-.9zM41.0 12.9h.9v.9h-.9zM30.9 31.7h.9v.9h-.9zM29.7 19.9h.9v.9h-.9zM29.2 20.7h.9v.9h-.9zM36.1 38.1h.9v.9h-.9zM44.2 65.6h.9v.9h-.9zM34.3 12.4h.9v.9h-.9zM29.5 23.3h.9v.9h-.9zM42.2 63.2h.9v.9h-.9zM42.8 65.4h.9v.9h-.9zM48.9 12.6h.9v.9h-.9zM38.5 51.0h.9v.9h-.9zM33.3 12.9h.9v.9h-.9zM38.0 46.9h.9v.9h-.9zM47.3 66.9h.9v.9h-.9zM40.1 58.2h.9v.9h-.9zM39.8 13.7h.9v.9h-.9zM40.8 62.1h.9v.9h-.9zM33.0 14.9h.9v.9h-.9zM36.8 46.4h.9v.9h-.9zM29.8 22.7h.9v.9h-.9zM46.4 11.8h.9v.9h-.9zM32.9 34.0h.9v.9h-.9zM33.7 32.3h.9v.9h-.9zM36.1 39.3h.9v.9h-.9zM37.1 42.5h.9v.9h-.9zM43.2 12.9h.9v.9h-.9zM40.1 56.0h.9v.9h-.9zM29.9 28.9h.9v.9h-.9zM35.1 37.8h.9v.9h-.9zM29.0 21.4h.9v.9h-.9zM38.5 49.6h.9v.9h-.9zM29.7 18.3h.9v.9h-.9zM31.6 32.2h.9v.9h-.9zM46.0 66.5h.9v.9h-.9zM31.9 32.0h.9v.9h-.9zM30.0 24.4h.9v.9h-.9zM39.1 54.5h.9v.9h-.9zM40.5 13.2h.9v.9h-.9zM36.3 40.1h.9v.9h-.9zM29.8 25.0h.9v.9h-.9zM39.1 52.7h.9v.9h-.9zM48.3 11.7h.9v.9h-.9zM48.1 67.3h.9v.9h-.9zM29.4 22.3h.9v.9h-.9zM29.4 21.2h.9v.9h-.9zM39.6 53.0h.9v.9h-.9z"/><polyline points="7.9,50.4 8.6,49.3 9.9,48.9 11.4,47.9 11.7,46.8 13.1,46.9 14.4,46.7 16.3,47.1 17.1,47.5 18.4,47.1 19.7,47.4 21.6,47.5 22.8,48.8 23.5,49.1 25.0,50.4 24.9,51.4 25.5,52.4 25.7,54.0 25.5,55.2 25.9,56.3 25.7,56.7 25.0,58.5 23.8,58.5 22.9,60.5 22.2,61.4 21.7,62.2 20.3,61.8 19.5,61.9 17.8,62.9 16.9,63.0 15.8,62.4 13.7,63.3 13.0,61.9 11.6,61.5 10.3,60.8 8.7,61.1 7.8,60.4 7.6,58.7 7.6,57.4 7.7,56.4 7.6,55.2 8.0,53.4 7.9,52.5 8.4,51.1 8.0,50.0" fill="none" stroke="#4d8af5" stroke-width="0.96" stroke-linejoin="round"/><polyline points="12.7,52.5 14.7,51.6 15.4,50.3 16.8,49.6 17.5,51.0 18.9,52.1 19.9,52.5 19.9,54.5 19.4,55.7 19.2,57.5 18.1,57.5 16.4,57.3 15.2,58.2 13.9,57.9 13.7,56.4 14.1,55.1 13.5,54.8 13.0,53.3 13.0,52.0" fill="none" stroke="#4fe0dc" stroke-width="0.96" stroke-linejoin="round"/><polyline points="50.4,20.7 48.8,20.7 48.1,21.5 46.8,20.9 45.2,21.3 43.8,22.4 42.1,23.6 40.5,24.2 41.3,25.2 40.9,26.9 40.4,27.7 40.8,28.7 40.7,29.9 40.5,31.4 40.7,32.3 40.6,33.8 40.2,35.1 40.3,36.7 40.5,37.7 40.5,38.7 40.2,39.6 40.9,41.3 40.4,42.5 40.6,43.5 39.9,45.3 40.1,46.4 40.5,47.9 40.4,48.3 39.9,50.3 40.4,50.9 39.9,52.3 40.0,53.6 40.8,55.0 40.6,55.8 40.6,58.0 41.1,58.7 41.0,60.3 42.0,60.9 42.7,62.4 43.3,63.5 43.9,64.8 45.2,64.7 46.3,65.5 47.5,65.3 49.4,65.6 50.5,66.0" fill="none" stroke="#4fe0dc" stroke-width="1.08" stroke-linejoin="round"/><polyline points="50.3,26.7 49.7,26.9 48.3,28.0 46.7,27.9 47.0,29.3 46.3,29.9 46.0,31.5 46.0,32.6 45.4,34.1 45.9,35.1 45.5,36.5 46.1,37.4 46.2,39.1 45.7,40.3 45.7,40.9 46.1,42.4 46.0,43.8 46.4,45.3 45.5,46.3 45.8,47.5 46.2,48.7 45.7,50.4 45.6,51.2 45.6,52.8 45.7,54.0 45.4,54.5 45.9,56.5 46.2,58.1 45.7,58.9 45.9,60.9 46.1,61.6 48.1,62.6 48.7,63.2 50.5,63.5" fill="none" stroke="#7ef0b0" stroke-width="0.96" stroke-linejoin="round"/><polyline points="50.7,54.0 48.8,55.2 47.9,56.1 48.4,57.6 48.1,58.1 47.5,59.8 47.0,61.5 48.8,61.3 50.5,62.0" fill="none" stroke="#c5dc70" stroke-width="0.96" stroke-linejoin="round"/></g><g transform="translate(101,0) scale(-1,1)"><polyline points="-0.0,11.1 0.9,11.2 2.1,12.2 3.8,12.1 5.4,12.8 5.9,13.7 6.8,15.3 7.8,15.7 9.0,16.8 10.4,17.6 11.5,18.4 12.4,19.8 12.7,20.4 13.8,21.0 14.7,21.9 16.7,23.2 17.9,23.1 18.5,24.6 19.6,25.2 20.3,26.7 20.5,27.8 21.3,28.4 21.5,30.3 22.8,30.7 23.4,32.4 24.0,33.1 24.6,33.7 26.0,35.2 26.2,35.6 26.8,37.1 28.0,37.8 28.7,39.1 30.2,40.3 31.1,40.7 31.6,42.2 32.7,43.5 33.1,44.8 34.1,46.1 35.4,47.0 35.0,48.7 36.0,49.9 36.3,50.4 37.3,51.9 37.0,53.2 37.8,54.2 38.0,55.9 38.4,56.8 39.0,58.7 39.6,59.4 39.8,60.7 40.3,61.6 41.1,63.5 41.5,64.0 42.3,65.0 42.5,66.5 44.1,66.5 45.3,67.4 47.3,68.0 48.3,68.9 50.5,69.0" fill="none" stroke="#9a2cf0" stroke-width="1.20" stroke-linejoin="round"/><path fill="#9a2cf0" d="M14.0 20.2h.9v.9h-.9zM30.7 42.4h.9v.9h-.9zM8.3 13.8h.9v.9h-.9zM4.3 13.2h.9v.9h-.9zM28.1 38.8h.9v.9h-.9zM24.5 33.2h.9v.9h-.9zM42.1 64.8h.9v.9h-.9zM38.8 56.9h.9v.9h-.9zM44.8 68.4h.9v.9h-.9zM39.1 62.1h.9v.9h-.9zM46.2 66.9h.9v.9h-.9zM14.9 23.3h.9v.9h-.9zM49.8 66.5h.9v.9h-.9zM39.7 60.1h.9v.9h-.9zM31.6 38.5h.9v.9h-.9zM14.7 23.4h.9v.9h-.9zM21.3 29.3h.9v.9h-.9zM24.7 33.9h.9v.9h-.9zM11.0 16.8h.9v.9h-.9zM44.3 66.2h.9v.9h-.9zM42.6 64.9h.9v.9h-.9zM34.9 48.8h.9v.9h-.9zM15.3 23.0h.9v.9h-.9zM34.2 47.1h.9v.9h-.9zM25.8 33.6h.9v.9h-.9zM19.6 24.5h.9v.9h-.9zM34.4 43.5h.9v.9h-.9zM16.1 23.7h.9v.9h-.9zM10.1 18.1h.9v.9h-.9zM18.4 25.0h.9v.9h-.9zM16.8 23.1h.9v.9h-.9zM39.1 61.4h.9v.9h-.9zM35.9 49.5h.9v.9h-.9zM24.8 35.2h.9v.9h-.9zM26.3 37.0h.9v.9h-.9zM13.1 21.3h.9v.9h-.9zM33.8 43.4h.9v.9h-.9zM41.4 65.1h.9v.9h-.9zM27.0 40.8h.9v.9h-.9zM19.4 23.9h.9v.9h-.9zM5.8 12.1h.9v.9h-.9zM3.7 13.6h.9v.9h-.9zM38.2 54.8h.9v.9h-.9zM47.2 67.9h.9v.9h-.9zM19.9 28.6h.9v.9h-.9zM35.2 43.8h.9v.9h-.9zM29.1 37.4h.9v.9h-.9zM36.2 56.5h.9v.9h-.9zM37.5 51.9h.9v.9h-.9zM43.6 64.3h.9v.9h-.9zM30.0 43.3h.9v.9h-.9zM30.5 43.3h.9v.9h-.9zM41.0 63.7h.9v.9h-.9zM24.1 35.6h.9v.9h-.9zM18.0 25.3h.9v.9h-.9zM21.7 32.5h.9v.9h-.9zM39.5 62.9h.9v.9h-.9zM11.7 20.1h.9v.9h-.9zM31.9 42.3h.9v.9h-.9zM43.6 68.9h.9v.9h-.9zM40.8 62.0h.9v.9h-.9zM24.7 33.4h.9v.9h-.9zM2.4 11.9h.9v.9h-.9zM44.7 65.6h.9v.9h-.9zM49.0 68.8h.9v.9h-.9zM35.6 51.1h.9v.9h-.9zM31.6 46.1h.9v.9h-.9zM35.6 49.7h.9v.9h-.9zM20.9 30.9h.9v.9h-.9zM34.4 40.5h.9v.9h-.9zM26.1 37.9h.9v.9h-.9zM49.4 70.1h.9v.9h-.9zM40.0 61.3h.9v.9h-.9zM49.4 67.6h.9v.9h-.9zM8.8 14.5h.9v.9h-.9zM41.9 60.7h.9v.9h-.9zM24.8 33.9h.9v.9h-.9zM28.1 38.8h.9v.9h-.9zM10.7 18.3h.9v.9h-.9zM23.0 28.5h.9v.9h-.9zM1.5 13.3h.9v.9h-.9zM20.0 25.0h.9v.9h-.9zM20.7 23.7h.9v.9h-.9zM36.3 50.4h.9v.9h-.9zM31.1 42.8h.9v.9h-.9zM31.4 39.9h.9v.9h-.9zM24.3 32.9h.9v.9h-.9zM38.5 56.5h.9v.9h-.9zM9.0 18.5h.9v.9h-.9zM34.0 44.8h.9v.9h-.9zM1.1 10.4h.9v.9h-.9zM36.8 53.3h.9v.9h-.9zM19.2 24.8h.9v.9h-.9zM31.9 44.0h.9v.9h-.9zM24.8 31.6h.9v.9h-.9zM33.8 42.8h.9v.9h-.9zM34.2 46.0h.9v.9h-.9zM45.9 66.7h.9v.9h-.9zM43.5 65.2h.9v.9h-.9zM34.7 44.1h.9v.9h-.9zM46.6 69.3h.9v.9h-.9zM37.4 53.9h.9v.9h-.9zM40.0 64.7h.9v.9h-.9zM16.1 23.3h.9v.9h-.9zM12.9 19.5h.9v.9h-.9zM32.7 42.6h.9v.9h-.9zM22.3 31.0h.9v.9h-.9zM8.7 15.3h.9v.9h-.9zM16.1 23.3h.9v.9h-.9zM16.8 22.5h.9v.9h-.9z"/><path fill="#9a2cf0" d="M5.8 17.3h.9v.9h-.9zM9.8 16.4h.9v.9h-.9zM5.0 27.5h.9v.9h-.9zM3.4 21.6h.9v.9h-.9zM11.2 27.1h.9v.9h-.9zM3.8 20.3h.9v.9h-.9zM9.9 20.7h.9v.9h-.9zM12.5 18.1h.9v.9h-.9zM12.5 22.6h.9v.9h-.9zM4.5 21.8h.9v.9h-.9zM3.4 25.6h.9v.9h-.9zM4.9 28.5h.9v.9h-.9zM8.5 20.5h.9v.9h-.9zM4.7 24.1h.9v.9h-.9zM4.3 28.1h.9v.9h-.9zM3.4 22.7h.9v.9h-.9zM8.0 19.1h.9v.9h-.9zM10.5 20.8h.9v.9h-.9zM9.2 23.5h.9v.9h-.9zM5.4 20.8h.9v.9h-.9zM2.9 17.7h.9v.9h-.9zM11.4 19.8h.9v.9h-.9zM9.3 16.6h.9v.9h-.9zM8.2 20.4h.9v.9h-.9zM7.5 19.5h.9v.9h-.9zM2.7 19.7h.9v.9h-.9zM4.5 16.9h.9v.9h-.9zM9.9 19.2h.9v.9h-.9zM6.4 28.6h.9v.9h-.9zM10.5 28.2h.9v.9h-.9zM11.5 17.0h.9v.9h-.9zM5.0 15.4h.9v.9h-.9zM9.5 25.0h.9v.9h-.9zM5.9 21.2h.9v.9h-.9zM9.2 25.5h.9v.9h-.9zM4.7 27.7h.9v.9h-.9zM5.9 24.4h.9v.9h-.9zM4.0 16.7h.9v.9h-.9zM12.0 26.0h.9v.9h-.9zM9.8 15.6h.9v.9h-.9zM2.4 17.4h.9v.9h-.9zM4.2 19.5h.9v.9h-.9zM6.2 15.6h.9v.9h-.9zM5.4 24.6h.9v.9h-.9zM4.0 27.6h.9v.9h-.9z"/><polyline points="3.1,62.2 2.9,60.7 3.4,59.3 2.9,58.6 3.8,56.8 3.2,56.1 3.9,54.0 3.6,52.9 4.3,51.7 5.2,51.2 5.3,50.2 6.4,49.2 7.7,47.8 7.8,47.4 8.9,46.4 10.2,45.6 11.3,44.8 12.0,43.6 13.2,43.3 14.0,43.1 14.6,42.3 15.9,42.2 18.1,41.8 19.2,42.5 20.7,42.0 21.7,41.6 22.9,42.9 23.7,43.8 24.6,45.2 26.2,45.7 26.1,47.2 26.7,48.8 27.1,49.4 28.0,50.4 28.1,51.8 29.0,53.0 29.6,53.7 30.2,55.1 30.6,56.3 31.7,56.6 31.8,57.9 32.5,58.8 33.3,60.2 34.5,61.7 34.6,62.8 33.7,63.6 32.2,64.1 30.8,65.7 30.3,65.6 29.0,66.7 27.6,66.1 26.2,66.7 24.7,67.0 23.3,67.7 22.6,67.6 21.7,67.9 19.8,67.7 18.4,67.4 17.8,68.1 16.0,67.3 15.1,67.8 14.2,67.0 12.8,67.6 11.5,67.0 9.7,67.3 8.8,66.2 8.1,65.4 7.3,64.6 5.5,64.2 5.1,63.7 4.2,63.1 3.0,62.0" fill="none" stroke="#9a2cf0" stroke-width="1.08" stroke-linejoin="round"/><path fill="#9a2cf0" d="M6.5 65.0h.9v.9h-.9zM6.6 49.2h.9v.9h-.9zM3.6 54.4h.9v.9h-.9zM27.1 48.8h.9v.9h-.9zM3.1 58.5h.9v.9h-.9zM27.6 66.7h.9v.9h-.9zM14.8 67.0h.9v.9h-.9zM15.6 41.5h.9v.9h-.9zM26.0 47.3h.9v.9h-.9zM32.0 64.1h.9v.9h-.9zM7.1 48.6h.9v.9h-.9zM32.0 58.6h.9v.9h-.9zM3.5 54.7h.9v.9h-.9zM6.0 63.0h.9v.9h-.9zM5.6 63.2h.9v.9h-.9zM19.4 68.1h.9v.9h-.9zM34.2 62.6h.9v.9h-.9zM5.8 64.6h.9v.9h-.9zM16.8 42.9h.9v.9h-.9zM3.5 60.2h.9v.9h-.9zM27.7 49.5h.9v.9h-.9zM23.0 43.2h.9v.9h-.9zM30.1 55.6h.9v.9h-.9zM4.7 52.6h.9v.9h-.9zM32.2 57.8h.9v.9h-.9z"/><polyline points="50.3,11.6 49.2,11.9 47.9,12.3 46.3,12.4 44.9,12.4 44.1,12.1 42.7,12.2 41.5,13.1 40.5,13.0 39.5,12.5 38.5,13.2 36.4,13.6 35.4,13.2 34.7,13.8 33.3,13.6 32.5,14.6 31.2,15.9 30.3,17.1 29.7,17.8 29.9,19.3 29.7,20.8 29.4,22.1 29.7,23.6 29.2,24.7 29.6,26.0 30.2,27.3 30.1,28.1 31.2,29.9 31.7,30.3 32.1,31.6 32.8,33.6 33.1,34.9 34.4,35.5 34.7,36.9 35.8,38.3 35.6,39.0 36.1,41.1 36.7,42.1 37.0,43.4 37.3,44.0 38.0,45.6 38.0,47.1 38.4,47.5 38.0,49.1 38.4,51.2 38.9,51.7 38.5,53.9 39.2,54.9 39.2,55.9 39.7,57.3 40.0,58.7 39.4,59.6 39.7,61.4 40.8,61.5 41.2,62.9 42.2,64.1 42.9,64.9 43.8,65.7 45.5,65.9 47.0,67.5 48.3,66.9 50.5,67.5" fill="none" stroke="#4d8af5" stroke-width="1.20" stroke-linejoin="round"/><path fill="#4d8af5" d="M37.9 48.2h.9v.9h-.9zM33.5 35.6h.9v.9h-.9zM36.9 36.0h.9v.9h-.9zM46.6 11.8h.9v.9h-.9zM41.8 62.2h.9v.9h-.9zM37.1 45.2h.9v.9h-.9zM40.6 56.4h.9v.9h-.9zM37.7 49.6h.9v.9h-.9zM37.7 53.0h.9v.9h-.9zM28.6 23.3h.9v.9h-.9zM45.3 12.9h.9v.9h-.9zM48.9 67.4h.9v.9h-.9zM31.9 16.3h.9v.9h-.9zM41.0 12.9h.9v.9h-.9zM30.9 31.7h.9v.9h-.9zM29.7 19.9h.9v.9h-.9zM29.2 20.7h.9v.9h-.9zM36.1 38.1h.9v.9h-.9zM44.2 65.6h.9v.9h-.9zM34.3 12.4h.9v.9h-.9zM29.5 23.3h.9v.9h-.9zM42.2 63.2h.9v.9h-.9zM42.8 65.4h.9v.9h-.9zM48.9 12.6h.9v.9h-.9zM38.5 51.0h.9v.9h-.9zM33.3 12.9h.9v.9h-.9zM38.0 46.9h.9v.9h-.9zM47.3 66.9h.9v.9h-.9zM40.1 58.2h.9v.9h-.9zM39.8 13.7h.9v.9h-.9zM40.8 62.1h.9v.9h-.9zM33.0 14.9h.9v.9h-.9zM36.8 46.4h.9v.9h-.9zM29.8 22.7h.9v.9h-.9zM46.4 11.8h.9v.9h-.9zM32.9 34.0h.9v.9h-.9zM33.7 32.3h.9v.9h-.9zM36.1 39.3h.9v.9h-.9zM37.1 42.5h.9v.9h-.9zM43.2 12.9h.9v.9h-.9zM40.1 56.0h.9v.9h-.9zM29.9 28.9h.9v.9h-.9zM35.1 37.8h.9v.9h-.9zM29.0 21.4h.9v.9h-.9zM38.5 49.6h.9v.9h-.9zM29.7 18.3h.9v.9h-.9zM31.6 32.2h.9v.9h-.9zM46.0 66.5h.9v.9h-.9zM31.9 32.0h.9v.9h-.9zM30.0 24.4h.9v.9h-.9zM39.1 54.5h.9v.9h-.9zM40.5 13.2h.9v.9h-.9zM36.3 40.1h.9v.9h-.9zM29.8 25.0h.9v.9h-.9zM39.1 52.7h.9v.9h-.9zM48.3 11.7h.9v.9h-.9zM48.1 67.3h.9v.9h-.9zM29.4 22.3h.9v.9h-.9zM29.4 21.2h.9v.9h-.9zM39.6 53.0h.9v.9h-.9z"/><polyline points="7.9,50.4 8.6,49.3 9.9,48.9 11.4,47.9 11.7,46.8 13.1,46.9 14.4,46.7 16.3,47.1 17.1,47.5 18.4,47.1 19.7,47.4 21.6,47.5 22.8,48.8 23.5,49.1 25.0,50.4 24.9,51.4 25.5,52.4 25.7,54.0 25.5,55.2 25.9,56.3 25.7,56.7 25.0,58.5 23.8,58.5 22.9,60.5 22.2,61.4 21.7,62.2 20.3,61.8 19.5,61.9 17.8,62.9 16.9,63.0 15.8,62.4 13.7,63.3 13.0,61.9 11.6,61.5 10.3,60.8 8.7,61.1 7.8,60.4 7.6,58.7 7.6,57.4 7.7,56.4 7.6,55.2 8.0,53.4 7.9,52.5 8.4,51.1 8.0,50.0" fill="none" stroke="#4d8af5" stroke-width="0.96" stroke-linejoin="round"/><polyline points="12.7,52.5 14.7,51.6 15.4,50.3 16.8,49.6 17.5,51.0 18.9,52.1 19.9,52.5 19.9,54.5 19.4,55.7 19.2,57.5 18.1,57.5 16.4,57.3 15.2,58.2 13.9,57.9 13.7,56.4 14.1,55.1 13.5,54.8 13.0,53.3 13.0,52.0" fill="none" stroke="#4fe0dc" stroke-width="0.96" stroke-linejoin="round"/><polyline points="50.4,20.7 48.8,20.7 48.1,21.5 46.8,20.9 45.2,21.3 43.8,22.4 42.1,23.6 40.5,24.2 41.3,25.2 40.9,26.9 40.4,27.7 40.8,28.7 40.7,29.9 40.5,31.4 40.7,32.3 40.6,33.8 40.2,35.1 40.3,36.7 40.5,37.7 40.5,38.7 40.2,39.6 40.9,41.3 40.4,42.5 40.6,43.5 39.9,45.3 40.1,46.4 40.5,47.9 40.4,48.3 39.9,50.3 40.4,50.9 39.9,52.3 40.0,53.6 40.8,55.0 40.6,55.8 40.6,58.0 41.1,58.7 41.0,60.3 42.0,60.9 42.7,62.4 43.3,63.5 43.9,64.8 45.2,64.7 46.3,65.5 47.5,65.3 49.4,65.6 50.5,66.0" fill="none" stroke="#4fe0dc" stroke-width="1.08" stroke-linejoin="round"/><polyline points="50.3,26.7 49.7,26.9 48.3,28.0 46.7,27.9 47.0,29.3 46.3,29.9 46.0,31.5 46.0,32.6 45.4,34.1 45.9,35.1 45.5,36.5 46.1,37.4 46.2,39.1 45.7,40.3 45.7,40.9 46.1,42.4 46.0,43.8 46.4,45.3 45.5,46.3 45.8,47.5 46.2,48.7 45.7,50.4 45.6,51.2 45.6,52.8 45.7,54.0 45.4,54.5 45.9,56.5 46.2,58.1 45.7,58.9 45.9,60.9 46.1,61.6 48.1,62.6 48.7,63.2 50.5,63.5" fill="none" stroke="#7ef0b0" stroke-width="0.96" stroke-linejoin="round"/><polyline points="50.7,54.0 48.8,55.2 47.9,56.1 48.4,57.6 48.1,58.1 47.5,59.8 47.0,61.5 48.8,61.3 50.5,62.0" fill="none" stroke="#c5dc70" stroke-width="0.96" stroke-linejoin="round"/></g><line x1="50.5" y1="1" x2="50.5" y2="28" stroke="#4d8af5" stroke-width="1.2" stroke-dasharray="1 0.8"/></g><g id="ck"><g><path d="M37,77.5 l3.5,-2.5 l3.8,1 l0.2,3 l-3.5,2.2 l-3.8,-1z" fill="none" stroke="#f08030" stroke-width="1.3"/><polyline points="37,79.5 36,83 38.5,86 37.5,90 40,93 38,97" fill="none" stroke="#f08030" stroke-width="1.9" stroke-linejoin="round"/><polyline points="36,90.5 45,90" fill="none" stroke="#f08030" stroke-width="1.5"/><polyline points="40,90 42.5,86.5" fill="none" stroke="#f08030" stroke-width="1.3"/></g><g transform="translate(101,0) scale(-1,1)"><path d="M37,77.5 l3.5,-2.5 l3.8,1 l0.2,3 l-3.5,2.2 l-3.8,-1z" fill="none" stroke="#f08030" stroke-width="1.3"/><polyline points="37,79.5 36,83 38.5,86 37.5,90 40,93 38,97" fill="none" stroke="#f08030" stroke-width="1.9" stroke-linejoin="round"/><polyline points="36,90.5 45,90" fill="none" stroke="#f08030" stroke-width="1.5"/><polyline points="40,90 42.5,86.5" fill="none" stroke="#f08030" stroke-width="1.3"/></g><g><polyline points="-0.2,9.3 1.6,10.2 2.5,10.7 3.3,11.2 5.4,12.3 6.4,12.6 6.7,13.2 8.0,14.3 9.0,15.2 10.1,15.9 11.3,16.5 12.4,17.7 12.6,18.2 14.0,19.1 15.1,19.8 15.8,21.1 16.8,21.8 18.3,22.5 19.0,23.6 19.9,24.4 20.6,24.8 22.1,25.3 23.4,26.3 24.1,27.3 25.4,28.6 26.2,29.4 26.9,30.4 27.4,30.8 28.8,31.6 29.8,32.6 29.9,33.3 31.4,35.1 31.9,35.7 32.8,37.1 34.2,37.5 34.6,39.2 35.0,40.6 35.8,41.2 36.6,42.6 37.1,43.7 37.6,45.0 37.7,46.1 37.9,48.1 37.7,48.3 38.0,50.0" fill="none" stroke="#9a2cf0" stroke-width="1.20" stroke-linejoin="round"/><path fill="#9a2cf0" d="M17.2 21.6h.9v.9h-.9zM25.9 29.1h.9v.9h-.9zM30.8 36.5h.9v.9h-.9zM6.0 12.1h.9v.9h-.9zM39.9 45.6h.9v.9h-.9zM23.8 28.6h.9v.9h-.9zM30.6 36.9h.9v.9h-.9zM2.6 12.1h.9v.9h-.9zM26.6 30.4h.9v.9h-.9zM6.6 15.8h.9v.9h-.9zM36.3 43.9h.9v.9h-.9zM-0.7 8.7h.9v.9h-.9zM17.6 20.3h.9v.9h-.9zM2.0 11.8h.9v.9h-.9zM11.7 16.7h.9v.9h-.9zM34.4 38.8h.9v.9h-.9zM26.6 29.7h.9v.9h-.9zM33.5 37.8h.9v.9h-.9zM1.2 10.3h.9v.9h-.9zM30.0 33.6h.9v.9h-.9zM15.3 22.3h.9v.9h-.9zM9.3 16.7h.9v.9h-.9zM16.8 18.5h.9v.9h-.9zM22.4 26.3h.9v.9h-.9zM37.6 44.1h.9v.9h-.9zM25.4 28.9h.9v.9h-.9zM6.7 14.1h.9v.9h-.9zM17.5 22.7h.9v.9h-.9zM10.3 16.4h.9v.9h-.9zM34.2 42.8h.9v.9h-.9zM2.0 9.4h.9v.9h-.9zM33.1 37.9h.9v.9h-.9zM10.9 16.1h.9v.9h-.9zM13.6 18.2h.9v.9h-.9zM23.1 29.6h.9v.9h-.9zM3.6 11.3h.9v.9h-.9zM27.3 28.7h.9v.9h-.9zM3.2 12.6h.9v.9h-.9zM39.3 49.4h.9v.9h-.9zM31.2 33.4h.9v.9h-.9zM32.8 40.1h.9v.9h-.9zM1.6 9.4h.9v.9h-.9zM19.6 23.6h.9v.9h-.9zM32.2 35.5h.9v.9h-.9zM16.6 21.4h.9v.9h-.9zM9.0 19.0h.9v.9h-.9zM38.3 48.6h.9v.9h-.9zM23.3 24.2h.9v.9h-.9zM32.7 36.3h.9v.9h-.9zM29.2 30.0h.9v.9h-.9zM4.5 10.9h.9v.9h-.9zM9.5 14.0h.9v.9h-.9zM34.3 38.1h.9v.9h-.9zM38.9 45.4h.9v.9h-.9zM36.2 39.3h.9v.9h-.9zM21.0 22.4h.9v.9h-.9zM35.7 45.4h.9v.9h-.9zM24.8 27.7h.9v.9h-.9zM37.9 47.4h.9v.9h-.9zM35.9 41.7h.9v.9h-.9zM21.2 26.3h.9v.9h-.9zM36.4 43.2h.9v.9h-.9zM18.6 20.7h.9v.9h-.9zM32.4 33.2h.9v.9h-.9zM20.2 23.9h.9v.9h-.9zM35.0 42.2h.9v.9h-.9zM35.8 40.8h.9v.9h-.9zM23.0 26.3h.9v.9h-.9zM33.9 40.4h.9v.9h-.9zM20.7 25.7h.9v.9h-.9zM17.4 19.9h.9v.9h-.9zM14.5 19.5h.9v.9h-.9zM29.7 35.3h.9v.9h-.9zM36.4 40.5h.9v.9h-.9zM2.4 9.9h.9v.9h-.9zM13.8 18.0h.9v.9h-.9zM11.9 15.6h.9v.9h-.9zM36.0 44.8h.9v.9h-.9zM34.3 47.4h.9v.9h-.9zM9.5 14.7h.9v.9h-.9zM24.8 27.7h.9v.9h-.9zM35.6 47.4h.9v.9h-.9zM11.6 17.9h.9v.9h-.9zM26.0 27.7h.9v.9h-.9zM19.6 21.0h.9v.9h-.9zM31.2 34.0h.9v.9h-.9zM21.6 24.2h.9v.9h-.9zM28.9 32.3h.9v.9h-.9zM22.8 25.3h.9v.9h-.9zM20.9 28.8h.9v.9h-.9zM3.8 9.5h.9v.9h-.9zM23.6 29.5h.9v.9h-.9zM36.7 42.0h.9v.9h-.9zM1.5 10.9h.9v.9h-.9zM38.0 46.9h.9v.9h-.9zM26.3 29.9h.9v.9h-.9zM18.2 21.0h.9v.9h-.9zM13.3 17.7h.9v.9h-.9zM22.2 29.8h.9v.9h-.9zM29.6 31.0h.9v.9h-.9zM19.4 21.8h.9v.9h-.9zM30.7 34.9h.9v.9h-.9zM27.0 27.9h.9v.9h-.9zM17.1 22.0h.9v.9h-.9zM37.6 44.6h.9v.9h-.9zM8.2 15.0h.9v.9h-.9zM11.9 21.1h.9v.9h-.9zM38.0 48.7h.9v.9h-.9zM37.8 47.7h.9v.9h-.9zM21.0 24.8h.9v.9h-.9z"/><path fill="#9a2cf0" d="M11.9 15.8h.9v.9h-.9zM23.3 14.0h.9v.9h-.9zM8.1 23.6h.9v.9h-.9zM13.0 22.6h.9v.9h-.9zM16.7 21.7h.9v.9h-.9zM10.3 12.3h.9v.9h-.9zM19.1 17.1h.9v.9h-.9zM15.2 20.1h.9v.9h-.9zM19.1 14.1h.9v.9h-.9zM11.3 23.8h.9v.9h-.9zM14.6 14.3h.9v.9h-.9zM16.6 13.9h.9v.9h-.9zM19.4 10.6h.9v.9h-.9zM20.5 18.5h.9v.9h-.9zM11.1 24.1h.9v.9h-.9zM9.3 13.7h.9v.9h-.9zM5.4 18.2h.9v.9h-.9zM19.1 20.2h.9v.9h-.9zM12.3 22.1h.9v.9h-.9zM6.2 14.6h.9v.9h-.9zM16.9 24.5h.9v.9h-.9zM16.7 20.4h.9v.9h-.9zM19.5 15.9h.9v.9h-.9zM22.8 21.1h.9v.9h-.9zM10.8 15.9h.9v.9h-.9zM20.1 15.2h.9v.9h-.9zM7.7 23.1h.9v.9h-.9zM14.6 17.8h.9v.9h-.9zM17.4 23.5h.9v.9h-.9zM6.7 15.1h.9v.9h-.9zM5.3 16.2h.9v.9h-.9zM14.0 22.8h.9v.9h-.9zM17.4 18.7h.9v.9h-.9zM12.1 18.6h.9v.9h-.9zM9.5 22.7h.9v.9h-.9zM19.8 22.6h.9v.9h-.9zM7.0 20.1h.9v.9h-.9zM19.1 17.5h.9v.9h-.9zM22.0 23.5h.9v.9h-.9zM18.9 22.3h.9v.9h-.9zM17.0 23.2h.9v.9h-.9zM6.6 20.6h.9v.9h-.9zM18.1 19.2h.9v.9h-.9zM9.5 11.0h.9v.9h-.9zM16.1 22.4h.9v.9h-.9zM9.5 13.2h.9v.9h-.9zM8.5 11.4h.9v.9h-.9zM17.5 24.6h.9v.9h-.9zM20.0 15.4h.9v.9h-.9zM18.0 11.1h.9v.9h-.9z"/><polyline points="32.0,10.3 31.2,12.0 31.2,13.0 31.1,14.6 31.6,16.3 31.1,17.5 31.3,18.1 31.9,19.4 31.7,20.9 31.7,22.3 31.9,23.5 32.7,24.4 32.1,25.9 32.3,26.8 32.9,27.6 33.6,29.5 34.1,30.4 34.5,31.8 34.7,33.4 36.2,34.6 36.8,35.5 37.5,36.6 37.4,37.8 37.8,39.6 38.4,40.6 38.4,41.5 38.9,42.8 38.9,44.6 39.4,45.7 39.3,47.4 39.5,48.4 40.1,50.2 39.8,51.6 39.1,53.1 38.2,54.2 37.1,55.0 36.5,57.0 36.7,58.1 36.4,59.1 36.4,60.6 37.4,61.6 36.5,62.7 37.6,64.6 38.8,65.5 38.9,66.4 39.7,68.3 41.2,69.1 42.9,69.5 43.7,70.2 44.6,70.1 46.4,70.6 47.5,70.5 48.6,71.3 50.5,71.0" fill="none" stroke="#4d8af5" stroke-width="1.20" stroke-linejoin="round"/><path fill="#4d8af5" d="M38.2 58.7h.9v.9h-.9zM38.1 40.0h.9v.9h-.9zM39.0 65.7h.9v.9h-.9zM31.8 12.2h.9v.9h-.9zM38.0 36.8h.9v.9h-.9zM37.7 64.4h.9v.9h-.9zM42.6 69.4h.9v.9h-.9zM34.2 32.3h.9v.9h-.9zM38.9 43.6h.9v.9h-.9zM33.5 27.5h.9v.9h-.9zM31.4 17.8h.9v.9h-.9zM31.7 25.0h.9v.9h-.9zM37.8 53.6h.9v.9h-.9zM31.5 15.1h.9v.9h-.9zM38.2 43.4h.9v.9h-.9zM36.7 60.3h.9v.9h-.9zM36.2 58.0h.9v.9h-.9zM43.9 69.9h.9v.9h-.9zM33.3 27.4h.9v.9h-.9zM37.5 36.5h.9v.9h-.9zM38.0 53.9h.9v.9h-.9zM32.7 17.0h.9v.9h-.9zM32.0 13.4h.9v.9h-.9zM45.7 71.4h.9v.9h-.9zM44.7 69.5h.9v.9h-.9zM33.5 29.2h.9v.9h-.9zM38.2 63.5h.9v.9h-.9zM37.0 60.2h.9v.9h-.9zM31.7 22.1h.9v.9h-.9zM38.9 63.6h.9v.9h-.9zM32.1 10.0h.9v.9h-.9zM38.3 66.6h.9v.9h-.9zM39.3 51.3h.9v.9h-.9zM31.1 14.2h.9v.9h-.9zM38.3 37.9h.9v.9h-.9zM32.2 11.3h.9v.9h-.9zM39.3 42.6h.9v.9h-.9zM32.3 25.4h.9v.9h-.9zM48.3 70.7h.9v.9h-.9zM31.5 16.1h.9v.9h-.9zM40.7 68.5h.9v.9h-.9zM34.5 31.4h.9v.9h-.9zM39.9 52.1h.9v.9h-.9zM31.9 11.1h.9v.9h-.9zM35.9 57.5h.9v.9h-.9zM37.9 42.3h.9v.9h-.9zM38.5 54.5h.9v.9h-.9zM39.2 64.4h.9v.9h-.9zM37.6 59.9h.9v.9h-.9zM39.2 68.7h.9v.9h-.9zM32.8 23.1h.9v.9h-.9zM36.6 59.5h.9v.9h-.9zM35.8 35.0h.9v.9h-.9zM39.2 40.9h.9v.9h-.9zM45.8 69.4h.9v.9h-.9z"/><polyline points="51.0,12.3 49.0,11.8 47.8,11.7 46.3,12.7 45.7,12.2 44.3,12.8 43.2,12.8 41.6,12.1 40.7,12.3 39.3,12.4 38.0,13.0 36.4,12.9 35.6,13.3 34.7,13.5 33.0,14.0" fill="none" stroke="#4d8af5" stroke-width="1.20" stroke-linejoin="round"/><path fill="#4d8af5" d="M33.2 10.4h.9v.9h-.9zM49.2 13.2h.9v.9h-.9zM35.6 13.6h.9v.9h-.9zM38.6 12.5h.9v.9h-.9zM42.0 10.7h.9v.9h-.9zM37.3 11.7h.9v.9h-.9zM47.9 12.7h.9v.9h-.9zM46.6 15.6h.9v.9h-.9zM37.5 11.5h.9v.9h-.9zM39.5 11.5h.9v.9h-.9zM49.6 12.2h.9v.9h-.9zM44.5 13.0h.9v.9h-.9zM43.7 12.1h.9v.9h-.9zM45.8 11.6h.9v.9h-.9zM48.3 13.4h.9v.9h-.9zM36.3 13.2h.9v.9h-.9zM49.9 11.6h.9v.9h-.9zM38.2 13.6h.9v.9h-.9zM47.9 10.5h.9v.9h-.9zM38.6 12.7h.9v.9h-.9zM47.8 11.8h.9v.9h-.9zM37.2 11.5h.9v.9h-.9zM47.7 12.7h.9v.9h-.9zM31.9 15.2h.9v.9h-.9zM40.5 13.0h.9v.9h-.9zM50.7 11.5h.9v.9h-.9zM32.3 15.4h.9v.9h-.9zM48.3 11.2h.9v.9h-.9zM43.4 12.4h.9v.9h-.9zM46.4 11.3h.9v.9h-.9zM43.9 11.6h.9v.9h-.9zM47.3 13.5h.9v.9h-.9zM43.1 11.4h.9v.9h-.9zM37.0 13.9h.9v.9h-.9zM35.8 13.5h.9v.9h-.9zM43.8 13.5h.9v.9h-.9zM38.4 12.9h.9v.9h-.9zM42.4 13.3h.9v.9h-.9zM43.1 12.8h.9v.9h-.9zM41.1 13.1h.9v.9h-.9zM41.5 12.9h.9v.9h-.9zM34.9 11.7h.9v.9h-.9zM34.0 13.3h.9v.9h-.9zM33.0 13.6h.9v.9h-.9zM48.1 11.6h.9v.9h-.9zM48.7 15.1h.9v.9h-.9zM42.3 12.0h.9v.9h-.9zM42.1 13.3h.9v.9h-.9zM38.3 13.0h.9v.9h-.9zM32.5 14.0h.9v.9h-.9z"/><polyline points="50.0,23.2 49.2,22.6 47.9,23.4 46.6,23.0 45.3,23.5 44.2,23.1 43.1,24.3 41.7,24.6 40.1,25.0 38.7,24.7 38.6,26.7 37.6,27.4 37.0,28.9 37.6,30.0 38.7,31.7 39.4,32.9 40.0,33.8 41.1,35.4 41.5,37.0 42.1,38.4 42.4,39.9 41.8,41.5 42.0,43.1 42.5,43.7 43.0,45.0 42.4,46.2 42.7,47.1 42.4,48.5 42.8,49.5 42.0,51.0 41.2,52.6 40.8,53.4 39.7,54.6 40.2,55.9 39.1,57.5 39.3,59.1 38.6,59.7 39.0,61.3 39.6,62.3 40.3,63.8 40.6,65.3 40.3,66.4 41.5,66.3 43.2,67.1 43.4,68.0 44.8,69.5 46.7,69.0 47.8,69.6 49.4,69.5 50.5,69.5" fill="none" stroke="#4fe0dc" stroke-width="1.20" stroke-linejoin="round"/><path fill="#4fe0dc" d="M42.8 46.0h.9v.9h-.9zM39.4 54.3h.9v.9h-.9zM44.4 68.3h.9v.9h-.9zM46.0 23.0h.9v.9h-.9zM38.8 24.8h.9v.9h-.9zM37.2 29.1h.9v.9h-.9zM40.5 56.3h.9v.9h-.9zM40.4 52.9h.9v.9h-.9zM40.5 63.8h.9v.9h-.9zM39.6 55.3h.9v.9h-.9zM39.8 24.9h.9v.9h-.9zM36.6 28.9h.9v.9h-.9zM37.3 27.5h.9v.9h-.9zM44.2 69.2h.9v.9h-.9zM40.4 35.2h.9v.9h-.9zM42.3 24.4h.9v.9h-.9zM38.3 30.5h.9v.9h-.9zM41.6 38.8h.9v.9h-.9zM43.0 50.0h.9v.9h-.9zM40.5 35.2h.9v.9h-.9zM39.1 25.0h.9v.9h-.9zM40.1 56.3h.9v.9h-.9zM48.1 68.3h.9v.9h-.9zM40.1 53.2h.9v.9h-.9zM48.6 70.1h.9v.9h-.9zM38.8 33.5h.9v.9h-.9zM42.4 50.5h.9v.9h-.9zM42.2 50.7h.9v.9h-.9zM42.4 46.8h.9v.9h-.9zM46.2 23.4h.9v.9h-.9zM39.9 57.1h.9v.9h-.9zM37.7 28.9h.9v.9h-.9zM50.1 23.9h.9v.9h-.9zM48.8 69.7h.9v.9h-.9zM42.3 46.8h.9v.9h-.9z"/><polyline points="36.5,51.8 35.7,52.8 35.4,54.1 35.5,55.9 34.8,57.3 35.4,58.2 35.4,59.5 36.0,61.3 35.4,62.3 36.2,63.9 37.0,65.0 37.8,66.8 37.8,67.8 38.7,69.2 40.5,69.9 41.1,69.8 42.8,70.9 43.4,71.1 45.1,71.6 46.5,71.9 47.5,72.2 49.2,72.6 50.5,72.5" fill="none" stroke="#9a2cf0" stroke-width="1.32" stroke-linejoin="round"/><path fill="#9a2cf0" d="M36.2 52.5h.9v.9h-.9zM34.9 59.9h.9v.9h-.9zM39.8 69.0h.9v.9h-.9zM35.4 60.8h.9v.9h-.9zM35.3 57.6h.9v.9h-.9zM45.0 70.5h.9v.9h-.9zM44.2 72.2h.9v.9h-.9zM43.1 71.0h.9v.9h-.9zM36.4 54.8h.9v.9h-.9zM36.3 55.9h.9v.9h-.9zM37.0 65.8h.9v.9h-.9zM37.0 66.6h.9v.9h-.9zM41.2 70.4h.9v.9h-.9zM36.1 55.3h.9v.9h-.9zM37.2 66.9h.9v.9h-.9zM34.9 59.1h.9v.9h-.9zM42.2 70.0h.9v.9h-.9zM37.9 64.5h.9v.9h-.9zM40.1 69.7h.9v.9h-.9zM40.0 69.7h.9v.9h-.9zM50.2 72.3h.9v.9h-.9zM36.6 65.2h.9v.9h-.9zM35.9 53.0h.9v.9h-.9zM37.0 65.2h.9v.9h-.9zM35.9 54.7h.9v.9h-.9zM35.5 60.2h.9v.9h-.9zM35.9 55.3h.9v.9h-.9zM38.2 67.0h.9v.9h-.9zM35.1 56.4h.9v.9h-.9zM36.0 62.3h.9v.9h-.9z"/><polyline points="51.0,29.6 48.8,30.6 47.9,31.1 46.0,31.5 45.8,32.0 45.4,33.6 45.3,34.2 44.5,36.3 44.1,37.3 44.5,38.1 44.6,39.6 45.5,40.6 45.5,42.2 45.0,43.9 45.3,44.7 45.2,46.7 45.5,47.9 44.4,49.5 44.8,51.0 45.0,51.8 44.5,53.5 43.7,54.3 43.5,55.5 43.2,56.4 42.7,58.4 43.1,59.3 43.8,60.7 43.3,62.0 44.1,63.3 44.2,64.3 45.6,64.3 46.8,64.9 48.2,65.1 49.2,65.8 50.5,66.5" fill="none" stroke="#7ef0b0" stroke-width="1.08" stroke-linejoin="round"/><polyline points="45.3,45.3 47.1,45.8 48.9,45.1 48.9,47.2 48.7,48.7 46.3,48.9 45.0,48.5 44.8,47.3 45.0,45.5" fill="none" stroke="#c5dc70" stroke-width="0.96" stroke-linejoin="round"/><ellipse cx="47.7" cy="62.8" rx="2.6" ry="1.8" fill="none" stroke="#f06a4a" stroke-width="0.9"/><polyline points="12.3,42.4 12.9,41.6 14.1,41.2 15.4,40.9 17.1,40.9 17.6,40.6 19.1,41.5 19.8,42.5 21.0,43.9 21.4,44.3 22.9,45.0 23.0,46.6 22.5,48.2 22.9,48.8 23.0,50.9 23.0,52.0 22.3,53.6 22.0,54.1 21.1,55.5 21.1,57.0 19.6,58.4 18.3,58.3 17.5,58.6 16.3,58.2 15.2,59.1 14.3,58.9 13.0,58.2 12.9,56.7 12.3,56.5 11.1,54.9 10.7,54.4 10.2,52.4 10.3,51.4 10.2,49.8 10.5,48.6 10.1,47.5 11.4,45.8 11.5,44.2 12.0,43.3 12.0,42.0" fill="none" stroke="#9a2cf0" stroke-width="1.08" stroke-linejoin="round"/><path fill="#9a2cf0" d="M10.8 53.6h.9v.9h-.9zM10.9 45.7h.9v.9h-.9zM21.0 57.0h.9v.9h-.9zM10.4 44.1h.9v.9h-.9zM18.1 58.8h.9v.9h-.9zM10.0 51.9h.9v.9h-.9zM22.5 46.3h.9v.9h-.9zM19.8 58.0h.9v.9h-.9zM11.9 42.5h.9v.9h-.9zM10.8 54.7h.9v.9h-.9zM20.1 58.5h.9v.9h-.9zM10.8 47.1h.9v.9h-.9zM11.5 54.8h.9v.9h-.9zM11.7 56.7h.9v.9h-.9zM11.8 45.9h.9v.9h-.9zM21.7 54.9h.9v.9h-.9zM10.4 51.8h.9v.9h-.9zM20.3 54.5h.9v.9h-.9zM22.9 49.5h.9v.9h-.9zM21.1 43.9h.9v.9h-.9z"/><polyline points="13.1,44.8 13.9,44.5 15.1,44.2 16.6,44.3 17.7,44.0 18.7,45.5 19.5,46.4 20.2,46.7 21.1,47.6 20.6,48.8 21.0,50.9 20.6,51.5 20.5,52.7 20.7,53.9 18.9,54.9 18.1,54.5 17.1,55.7 15.4,56.1 15.0,54.9 13.7,53.8 12.9,53.2 12.2,52.4 11.8,50.5 12.8,49.5 12.7,48.0 12.6,46.8 13.0,45.0" fill="none" stroke="#4d8af5" stroke-width="1.08" stroke-linejoin="round"/><circle cx="17" cy="51" r="3" fill="#7ee8d6" fill-opacity="0.35" stroke="#4fe0dc" stroke-width="0.9"/><polyline points="11.0,56.9 12.0,56.4 14.1,57.0 14.5,56.3 15.3,58.0 15.5,59.9 15.8,61.0 15.1,61.8 13.3,62.2 11.9,63.1 11.5,61.3 10.4,59.9 10.6,58.9 11.0,57.0" fill="none" stroke="#4d8af5" stroke-width="1.08" stroke-linejoin="round"/></g><g transform="translate(101,0) scale(-1,1)"><polyline points="-0.2,9.3 1.6,10.2 2.5,10.7 3.3,11.2 5.4,12.3 6.4,12.6 6.7,13.2 8.0,14.3 9.0,15.2 10.1,15.9 11.3,16.5 12.4,17.7 12.6,18.2 14.0,19.1 15.1,19.8 15.8,21.1 16.8,21.8 18.3,22.5 19.0,23.6 19.9,24.4 20.6,24.8 22.1,25.3 23.4,26.3 24.1,27.3 25.4,28.6 26.2,29.4 26.9,30.4 27.4,30.8 28.8,31.6 29.8,32.6 29.9,33.3 31.4,35.1 31.9,35.7 32.8,37.1 34.2,37.5 34.6,39.2 35.0,40.6 35.8,41.2 36.6,42.6 37.1,43.7 37.6,45.0 37.7,46.1 37.9,48.1 37.7,48.3 38.0,50.0" fill="none" stroke="#9a2cf0" stroke-width="1.20" stroke-linejoin="round"/><path fill="#9a2cf0" d="M17.2 21.6h.9v.9h-.9zM25.9 29.1h.9v.9h-.9zM30.8 36.5h.9v.9h-.9zM6.0 12.1h.9v.9h-.9zM39.9 45.6h.9v.9h-.9zM23.8 28.6h.9v.9h-.9zM30.6 36.9h.9v.9h-.9zM2.6 12.1h.9v.9h-.9zM26.6 30.4h.9v.9h-.9zM6.6 15.8h.9v.9h-.9zM36.3 43.9h.9v.9h-.9zM-0.7 8.7h.9v.9h-.9zM17.6 20.3h.9v.9h-.9zM2.0 11.8h.9v.9h-.9zM11.7 16.7h.9v.9h-.9zM34.4 38.8h.9v.9h-.9zM26.6 29.7h.9v.9h-.9zM33.5 37.8h.9v.9h-.9zM1.2 10.3h.9v.9h-.9zM30.0 33.6h.9v.9h-.9zM15.3 22.3h.9v.9h-.9zM9.3 16.7h.9v.9h-.9zM16.8 18.5h.9v.9h-.9zM22.4 26.3h.9v.9h-.9zM37.6 44.1h.9v.9h-.9zM25.4 28.9h.9v.9h-.9zM6.7 14.1h.9v.9h-.9zM17.5 22.7h.9v.9h-.9zM10.3 16.4h.9v.9h-.9zM34.2 42.8h.9v.9h-.9zM2.0 9.4h.9v.9h-.9zM33.1 37.9h.9v.9h-.9zM10.9 16.1h.9v.9h-.9zM13.6 18.2h.9v.9h-.9zM23.1 29.6h.9v.9h-.9zM3.6 11.3h.9v.9h-.9zM27.3 28.7h.9v.9h-.9zM3.2 12.6h.9v.9h-.9zM39.3 49.4h.9v.9h-.9zM31.2 33.4h.9v.9h-.9zM32.8 40.1h.9v.9h-.9zM1.6 9.4h.9v.9h-.9zM19.6 23.6h.9v.9h-.9zM32.2 35.5h.9v.9h-.9zM16.6 21.4h.9v.9h-.9zM9.0 19.0h.9v.9h-.9zM38.3 48.6h.9v.9h-.9zM23.3 24.2h.9v.9h-.9zM32.7 36.3h.9v.9h-.9zM29.2 30.0h.9v.9h-.9zM4.5 10.9h.9v.9h-.9zM9.5 14.0h.9v.9h-.9zM34.3 38.1h.9v.9h-.9zM38.9 45.4h.9v.9h-.9zM36.2 39.3h.9v.9h-.9zM21.0 22.4h.9v.9h-.9zM35.7 45.4h.9v.9h-.9zM24.8 27.7h.9v.9h-.9zM37.9 47.4h.9v.9h-.9zM35.9 41.7h.9v.9h-.9zM21.2 26.3h.9v.9h-.9zM36.4 43.2h.9v.9h-.9zM18.6 20.7h.9v.9h-.9zM32.4 33.2h.9v.9h-.9zM20.2 23.9h.9v.9h-.9zM35.0 42.2h.9v.9h-.9zM35.8 40.8h.9v.9h-.9zM23.0 26.3h.9v.9h-.9zM33.9 40.4h.9v.9h-.9zM20.7 25.7h.9v.9h-.9zM17.4 19.9h.9v.9h-.9zM14.5 19.5h.9v.9h-.9zM29.7 35.3h.9v.9h-.9zM36.4 40.5h.9v.9h-.9zM2.4 9.9h.9v.9h-.9zM13.8 18.0h.9v.9h-.9zM11.9 15.6h.9v.9h-.9zM36.0 44.8h.9v.9h-.9zM34.3 47.4h.9v.9h-.9zM9.5 14.7h.9v.9h-.9zM24.8 27.7h.9v.9h-.9zM35.6 47.4h.9v.9h-.9zM11.6 17.9h.9v.9h-.9zM26.0 27.7h.9v.9h-.9zM19.6 21.0h.9v.9h-.9zM31.2 34.0h.9v.9h-.9zM21.6 24.2h.9v.9h-.9zM28.9 32.3h.9v.9h-.9zM22.8 25.3h.9v.9h-.9zM20.9 28.8h.9v.9h-.9zM3.8 9.5h.9v.9h-.9zM23.6 29.5h.9v.9h-.9zM36.7 42.0h.9v.9h-.9zM1.5 10.9h.9v.9h-.9zM38.0 46.9h.9v.9h-.9zM26.3 29.9h.9v.9h-.9zM18.2 21.0h.9v.9h-.9zM13.3 17.7h.9v.9h-.9zM22.2 29.8h.9v.9h-.9zM29.6 31.0h.9v.9h-.9zM19.4 21.8h.9v.9h-.9zM30.7 34.9h.9v.9h-.9zM27.0 27.9h.9v.9h-.9zM17.1 22.0h.9v.9h-.9zM37.6 44.6h.9v.9h-.9zM8.2 15.0h.9v.9h-.9zM11.9 21.1h.9v.9h-.9zM38.0 48.7h.9v.9h-.9zM37.8 47.7h.9v.9h-.9zM21.0 24.8h.9v.9h-.9z"/><path fill="#9a2cf0" d="M11.9 15.8h.9v.9h-.9zM23.3 14.0h.9v.9h-.9zM8.1 23.6h.9v.9h-.9zM13.0 22.6h.9v.9h-.9zM16.7 21.7h.9v.9h-.9zM10.3 12.3h.9v.9h-.9zM19.1 17.1h.9v.9h-.9zM15.2 20.1h.9v.9h-.9zM19.1 14.1h.9v.9h-.9zM11.3 23.8h.9v.9h-.9zM14.6 14.3h.9v.9h-.9zM16.6 13.9h.9v.9h-.9zM19.4 10.6h.9v.9h-.9zM20.5 18.5h.9v.9h-.9zM11.1 24.1h.9v.9h-.9zM9.3 13.7h.9v.9h-.9zM5.4 18.2h.9v.9h-.9zM19.1 20.2h.9v.9h-.9zM12.3 22.1h.9v.9h-.9zM6.2 14.6h.9v.9h-.9zM16.9 24.5h.9v.9h-.9zM16.7 20.4h.9v.9h-.9zM19.5 15.9h.9v.9h-.9zM22.8 21.1h.9v.9h-.9zM10.8 15.9h.9v.9h-.9zM20.1 15.2h.9v.9h-.9zM7.7 23.1h.9v.9h-.9zM14.6 17.8h.9v.9h-.9zM17.4 23.5h.9v.9h-.9zM6.7 15.1h.9v.9h-.9zM5.3 16.2h.9v.9h-.9zM14.0 22.8h.9v.9h-.9zM17.4 18.7h.9v.9h-.9zM12.1 18.6h.9v.9h-.9zM9.5 22.7h.9v.9h-.9zM19.8 22.6h.9v.9h-.9zM7.0 20.1h.9v.9h-.9zM19.1 17.5h.9v.9h-.9zM22.0 23.5h.9v.9h-.9zM18.9 22.3h.9v.9h-.9zM17.0 23.2h.9v.9h-.9zM6.6 20.6h.9v.9h-.9zM18.1 19.2h.9v.9h-.9zM9.5 11.0h.9v.9h-.9zM16.1 22.4h.9v.9h-.9zM9.5 13.2h.9v.9h-.9zM8.5 11.4h.9v.9h-.9zM17.5 24.6h.9v.9h-.9zM20.0 15.4h.9v.9h-.9zM18.0 11.1h.9v.9h-.9z"/><polyline points="32.0,10.3 31.2,12.0 31.2,13.0 31.1,14.6 31.6,16.3 31.1,17.5 31.3,18.1 31.9,19.4 31.7,20.9 31.7,22.3 31.9,23.5 32.7,24.4 32.1,25.9 32.3,26.8 32.9,27.6 33.6,29.5 34.1,30.4 34.5,31.8 34.7,33.4 36.2,34.6 36.8,35.5 37.5,36.6 37.4,37.8 37.8,39.6 38.4,40.6 38.4,41.5 38.9,42.8 38.9,44.6 39.4,45.7 39.3,47.4 39.5,48.4 40.1,50.2 39.8,51.6 39.1,53.1 38.2,54.2 37.1,55.0 36.5,57.0 36.7,58.1 36.4,59.1 36.4,60.6 37.4,61.6 36.5,62.7 37.6,64.6 38.8,65.5 38.9,66.4 39.7,68.3 41.2,69.1 42.9,69.5 43.7,70.2 44.6,70.1 46.4,70.6 47.5,70.5 48.6,71.3 50.5,71.0" fill="none" stroke="#4d8af5" stroke-width="1.20" stroke-linejoin="round"/><path fill="#4d8af5" d="M38.2 58.7h.9v.9h-.9zM38.1 40.0h.9v.9h-.9zM39.0 65.7h.9v.9h-.9zM31.8 12.2h.9v.9h-.9zM38.0 36.8h.9v.9h-.9zM37.7 64.4h.9v.9h-.9zM42.6 69.4h.9v.9h-.9zM34.2 32.3h.9v.9h-.9zM38.9 43.6h.9v.9h-.9zM33.5 27.5h.9v.9h-.9zM31.4 17.8h.9v.9h-.9zM31.7 25.0h.9v.9h-.9zM37.8 53.6h.9v.9h-.9zM31.5 15.1h.9v.9h-.9zM38.2 43.4h.9v.9h-.9zM36.7 60.3h.9v.9h-.9zM36.2 58.0h.9v.9h-.9zM43.9 69.9h.9v.9h-.9zM33.3 27.4h.9v.9h-.9zM37.5 36.5h.9v.9h-.9zM38.0 53.9h.9v.9h-.9zM32.7 17.0h.9v.9h-.9zM32.0 13.4h.9v.9h-.9zM45.7 71.4h.9v.9h-.9zM44.7 69.5h.9v.9h-.9zM33.5 29.2h.9v.9h-.9zM38.2 63.5h.9v.9h-.9zM37.0 60.2h.9v.9h-.9zM31.7 22.1h.9v.9h-.9zM38.9 63.6h.9v.9h-.9zM32.1 10.0h.9v.9h-.9zM38.3 66.6h.9v.9h-.9zM39.3 51.3h.9v.9h-.9zM31.1 14.2h.9v.9h-.9zM38.3 37.9h.9v.9h-.9zM32.2 11.3h.9v.9h-.9zM39.3 42.6h.9v.9h-.9zM32.3 25.4h.9v.9h-.9zM48.3 70.7h.9v.9h-.9zM31.5 16.1h.9v.9h-.9zM40.7 68.5h.9v.9h-.9zM34.5 31.4h.9v.9h-.9zM39.9 52.1h.9v.9h-.9zM31.9 11.1h.9v.9h-.9zM35.9 57.5h.9v.9h-.9zM37.9 42.3h.9v.9h-.9zM38.5 54.5h.9v.9h-.9zM39.2 64.4h.9v.9h-.9zM37.6 59.9h.9v.9h-.9zM39.2 68.7h.9v.9h-.9zM32.8 23.1h.9v.9h-.9zM36.6 59.5h.9v.9h-.9zM35.8 35.0h.9v.9h-.9zM39.2 40.9h.9v.9h-.9zM45.8 69.4h.9v.9h-.9z"/><polyline points="51.0,12.3 49.0,11.8 47.8,11.7 46.3,12.7 45.7,12.2 44.3,12.8 43.2,12.8 41.6,12.1 40.7,12.3 39.3,12.4 38.0,13.0 36.4,12.9 35.6,13.3 34.7,13.5 33.0,14.0" fill="none" stroke="#4d8af5" stroke-width="1.20" stroke-linejoin="round"/><path fill="#4d8af5" d="M33.2 10.4h.9v.9h-.9zM49.2 13.2h.9v.9h-.9zM35.6 13.6h.9v.9h-.9zM38.6 12.5h.9v.9h-.9zM42.0 10.7h.9v.9h-.9zM37.3 11.7h.9v.9h-.9zM47.9 12.7h.9v.9h-.9zM46.6 15.6h.9v.9h-.9zM37.5 11.5h.9v.9h-.9zM39.5 11.5h.9v.9h-.9zM49.6 12.2h.9v.9h-.9zM44.5 13.0h.9v.9h-.9zM43.7 12.1h.9v.9h-.9zM45.8 11.6h.9v.9h-.9zM48.3 13.4h.9v.9h-.9zM36.3 13.2h.9v.9h-.9zM49.9 11.6h.9v.9h-.9zM38.2 13.6h.9v.9h-.9zM47.9 10.5h.9v.9h-.9zM38.6 12.7h.9v.9h-.9zM47.8 11.8h.9v.9h-.9zM37.2 11.5h.9v.9h-.9zM47.7 12.7h.9v.9h-.9zM31.9 15.2h.9v.9h-.9zM40.5 13.0h.9v.9h-.9zM50.7 11.5h.9v.9h-.9zM32.3 15.4h.9v.9h-.9zM48.3 11.2h.9v.9h-.9zM43.4 12.4h.9v.9h-.9zM46.4 11.3h.9v.9h-.9zM43.9 11.6h.9v.9h-.9zM47.3 13.5h.9v.9h-.9zM43.1 11.4h.9v.9h-.9zM37.0 13.9h.9v.9h-.9zM35.8 13.5h.9v.9h-.9zM43.8 13.5h.9v.9h-.9zM38.4 12.9h.9v.9h-.9zM42.4 13.3h.9v.9h-.9zM43.1 12.8h.9v.9h-.9zM41.1 13.1h.9v.9h-.9zM41.5 12.9h.9v.9h-.9zM34.9 11.7h.9v.9h-.9zM34.0 13.3h.9v.9h-.9zM33.0 13.6h.9v.9h-.9zM48.1 11.6h.9v.9h-.9zM48.7 15.1h.9v.9h-.9zM42.3 12.0h.9v.9h-.9zM42.1 13.3h.9v.9h-.9zM38.3 13.0h.9v.9h-.9zM32.5 14.0h.9v.9h-.9z"/><polyline points="50.0,23.2 49.2,22.6 47.9,23.4 46.6,23.0 45.3,23.5 44.2,23.1 43.1,24.3 41.7,24.6 40.1,25.0 38.7,24.7 38.6,26.7 37.6,27.4 37.0,28.9 37.6,30.0 38.7,31.7 39.4,32.9 40.0,33.8 41.1,35.4 41.5,37.0 42.1,38.4 42.4,39.9 41.8,41.5 42.0,43.1 42.5,43.7 43.0,45.0 42.4,46.2 42.7,47.1 42.4,48.5 42.8,49.5 42.0,51.0 41.2,52.6 40.8,53.4 39.7,54.6 40.2,55.9 39.1,57.5 39.3,59.1 38.6,59.7 39.0,61.3 39.6,62.3 40.3,63.8 40.6,65.3 40.3,66.4 41.5,66.3 43.2,67.1 43.4,68.0 44.8,69.5 46.7,69.0 47.8,69.6 49.4,69.5 50.5,69.5" fill="none" stroke="#4fe0dc" stroke-width="1.20" stroke-linejoin="round"/><path fill="#4fe0dc" d="M42.8 46.0h.9v.9h-.9zM39.4 54.3h.9v.9h-.9zM44.4 68.3h.9v.9h-.9zM46.0 23.0h.9v.9h-.9zM38.8 24.8h.9v.9h-.9zM37.2 29.1h.9v.9h-.9zM40.5 56.3h.9v.9h-.9zM40.4 52.9h.9v.9h-.9zM40.5 63.8h.9v.9h-.9zM39.6 55.3h.9v.9h-.9zM39.8 24.9h.9v.9h-.9zM36.6 28.9h.9v.9h-.9zM37.3 27.5h.9v.9h-.9zM44.2 69.2h.9v.9h-.9zM40.4 35.2h.9v.9h-.9zM42.3 24.4h.9v.9h-.9zM38.3 30.5h.9v.9h-.9zM41.6 38.8h.9v.9h-.9zM43.0 50.0h.9v.9h-.9zM40.5 35.2h.9v.9h-.9zM39.1 25.0h.9v.9h-.9zM40.1 56.3h.9v.9h-.9zM48.1 68.3h.9v.9h-.9zM40.1 53.2h.9v.9h-.9zM48.6 70.1h.9v.9h-.9zM38.8 33.5h.9v.9h-.9zM42.4 50.5h.9v.9h-.9zM42.2 50.7h.9v.9h-.9zM42.4 46.8h.9v.9h-.9zM46.2 23.4h.9v.9h-.9zM39.9 57.1h.9v.9h-.9zM37.7 28.9h.9v.9h-.9zM50.1 23.9h.9v.9h-.9zM48.8 69.7h.9v.9h-.9zM42.3 46.8h.9v.9h-.9z"/><polyline points="36.5,51.8 35.7,52.8 35.4,54.1 35.5,55.9 34.8,57.3 35.4,58.2 35.4,59.5 36.0,61.3 35.4,62.3 36.2,63.9 37.0,65.0 37.8,66.8 37.8,67.8 38.7,69.2 40.5,69.9 41.1,69.8 42.8,70.9 43.4,71.1 45.1,71.6 46.5,71.9 47.5,72.2 49.2,72.6 50.5,72.5" fill="none" stroke="#9a2cf0" stroke-width="1.32" stroke-linejoin="round"/><path fill="#9a2cf0" d="M36.2 52.5h.9v.9h-.9zM34.9 59.9h.9v.9h-.9zM39.8 69.0h.9v.9h-.9zM35.4 60.8h.9v.9h-.9zM35.3 57.6h.9v.9h-.9zM45.0 70.5h.9v.9h-.9zM44.2 72.2h.9v.9h-.9zM43.1 71.0h.9v.9h-.9zM36.4 54.8h.9v.9h-.9zM36.3 55.9h.9v.9h-.9zM37.0 65.8h.9v.9h-.9zM37.0 66.6h.9v.9h-.9zM41.2 70.4h.9v.9h-.9zM36.1 55.3h.9v.9h-.9zM37.2 66.9h.9v.9h-.9zM34.9 59.1h.9v.9h-.9zM42.2 70.0h.9v.9h-.9zM37.9 64.5h.9v.9h-.9zM40.1 69.7h.9v.9h-.9zM40.0 69.7h.9v.9h-.9zM50.2 72.3h.9v.9h-.9zM36.6 65.2h.9v.9h-.9zM35.9 53.0h.9v.9h-.9zM37.0 65.2h.9v.9h-.9zM35.9 54.7h.9v.9h-.9zM35.5 60.2h.9v.9h-.9zM35.9 55.3h.9v.9h-.9zM38.2 67.0h.9v.9h-.9zM35.1 56.4h.9v.9h-.9zM36.0 62.3h.9v.9h-.9z"/><polyline points="51.0,29.6 48.8,30.6 47.9,31.1 46.0,31.5 45.8,32.0 45.4,33.6 45.3,34.2 44.5,36.3 44.1,37.3 44.5,38.1 44.6,39.6 45.5,40.6 45.5,42.2 45.0,43.9 45.3,44.7 45.2,46.7 45.5,47.9 44.4,49.5 44.8,51.0 45.0,51.8 44.5,53.5 43.7,54.3 43.5,55.5 43.2,56.4 42.7,58.4 43.1,59.3 43.8,60.7 43.3,62.0 44.1,63.3 44.2,64.3 45.6,64.3 46.8,64.9 48.2,65.1 49.2,65.8 50.5,66.5" fill="none" stroke="#7ef0b0" stroke-width="1.08" stroke-linejoin="round"/><polyline points="45.3,45.3 47.1,45.8 48.9,45.1 48.9,47.2 48.7,48.7 46.3,48.9 45.0,48.5 44.8,47.3 45.0,45.5" fill="none" stroke="#c5dc70" stroke-width="0.96" stroke-linejoin="round"/><ellipse cx="47.7" cy="62.8" rx="2.6" ry="1.8" fill="none" stroke="#f06a4a" stroke-width="0.9"/><polyline points="12.3,42.4 12.9,41.6 14.1,41.2 15.4,40.9 17.1,40.9 17.6,40.6 19.1,41.5 19.8,42.5 21.0,43.9 21.4,44.3 22.9,45.0 23.0,46.6 22.5,48.2 22.9,48.8 23.0,50.9 23.0,52.0 22.3,53.6 22.0,54.1 21.1,55.5 21.1,57.0 19.6,58.4 18.3,58.3 17.5,58.6 16.3,58.2 15.2,59.1 14.3,58.9 13.0,58.2 12.9,56.7 12.3,56.5 11.1,54.9 10.7,54.4 10.2,52.4 10.3,51.4 10.2,49.8 10.5,48.6 10.1,47.5 11.4,45.8 11.5,44.2 12.0,43.3 12.0,42.0" fill="none" stroke="#9a2cf0" stroke-width="1.08" stroke-linejoin="round"/><path fill="#9a2cf0" d="M10.8 53.6h.9v.9h-.9zM10.9 45.7h.9v.9h-.9zM21.0 57.0h.9v.9h-.9zM10.4 44.1h.9v.9h-.9zM18.1 58.8h.9v.9h-.9zM10.0 51.9h.9v.9h-.9zM22.5 46.3h.9v.9h-.9zM19.8 58.0h.9v.9h-.9zM11.9 42.5h.9v.9h-.9zM10.8 54.7h.9v.9h-.9zM20.1 58.5h.9v.9h-.9zM10.8 47.1h.9v.9h-.9zM11.5 54.8h.9v.9h-.9zM11.7 56.7h.9v.9h-.9zM11.8 45.9h.9v.9h-.9zM21.7 54.9h.9v.9h-.9zM10.4 51.8h.9v.9h-.9zM20.3 54.5h.9v.9h-.9zM22.9 49.5h.9v.9h-.9zM21.1 43.9h.9v.9h-.9z"/><polyline points="13.1,44.8 13.9,44.5 15.1,44.2 16.6,44.3 17.7,44.0 18.7,45.5 19.5,46.4 20.2,46.7 21.1,47.6 20.6,48.8 21.0,50.9 20.6,51.5 20.5,52.7 20.7,53.9 18.9,54.9 18.1,54.5 17.1,55.7 15.4,56.1 15.0,54.9 13.7,53.8 12.9,53.2 12.2,52.4 11.8,50.5 12.8,49.5 12.7,48.0 12.6,46.8 13.0,45.0" fill="none" stroke="#4d8af5" stroke-width="1.08" stroke-linejoin="round"/><circle cx="17" cy="51" r="3" fill="#7ee8d6" fill-opacity="0.35" stroke="#4fe0dc" stroke-width="0.9"/><polyline points="11.0,56.9 12.0,56.4 14.1,57.0 14.5,56.3 15.3,58.0 15.5,59.9 15.8,61.0 15.1,61.8 13.3,62.2 11.9,63.1 11.5,61.3 10.4,59.9 10.6,58.9 11.0,57.0" fill="none" stroke="#4d8af5" stroke-width="1.08" stroke-linejoin="round"/></g><line x1="50.5" y1="1" x2="50.5" y2="30" stroke="#4d8af5" stroke-width="1.2" stroke-dasharray="1 0.8"/></g></defs>
<rect width="685" height="640" fill="#fff"/>
<g transform="translate(194.6,15.3) scale(0.9980,1)"><svg width="101" height="113.0" overflow="hidden"><use href="#gr"/><use href="#ol"/><path fill="#4d8af5" d="M48.2 5.2h.9v.9h-.9zM63.6 6.0h.9v.9h-.9zM20.0 4.4h.9v.9h-.9zM23.5 2.3h.9v.9h-.9zM27.0 1.1h.9v.9h-.9zM25.1 4.3h.9v.9h-.9zM43.9 9.7h.9v.9h-.9zM20.0 3.4h.9v.9h-.9zM60.5 4.1h.9v.9h-.9zM87.0 0.8h.9v.9h-.9zM28.9 1.9h.9v.9h-.9zM3.1 0.8h.9v.9h-.9zM45.2 2.5h.9v.9h-.9zM18.8 3.2h.9v.9h-.9zM35.3 7.7h.9v.9h-.9zM39.5 8.0h.9v.9h-.9zM23.9 8.5h.9v.9h-.9zM42.2 2.1h.9v.9h-.9zM35.6 2.5h.9v.9h-.9zM68.8 2.4h.9v.9h-.9zM67.3 1.6h.9v.9h-.9zM34.9 2.7h.9v.9h-.9zM38.8 3.0h.9v.9h-.9zM93.9 3.0h.9v.9h-.9zM23.1 1.9h.9v.9h-.9zM69.0 2.1h.9v.9h-.9zM80.0 1.3h.9v.9h-.9zM79.6 3.4h.9v.9h-.9zM66.9 5.2h.9v.9h-.9zM95.6 1.8h.9v.9h-.9zM70.4 2.8h.9v.9h-.9zM38.1 1.6h.9v.9h-.9zM84.9 1.7h.9v.9h-.9zM21.7 1.7h.9v.9h-.9zM37.5 1.2h.9v.9h-.9zM85.5 3.3h.9v.9h-.9zM28.1 1.7h.9v.9h-.9zM47.4 0.9h.9v.9h-.9zM41.4 9.4h.9v.9h-.9zM35.0 8.8h.9v.9h-.9zM77.5 3.2h.9v.9h-.9zM28.2 4.8h.9v.9h-.9zM72.5 4.3h.9v.9h-.9zM72.9 1.4h.9v.9h-.9zM72.1 1.7h.9v.9h-.9zM65.5 1.2h.9v.9h-.9zM65.7 13.5h.9v.9h-.9zM57.3 5.2h.9v.9h-.9zM51.4 6.4h.9v.9h-.9zM18.6 4.2h.9v.9h-.9zM12.7 0.7h.9v.9h-.9zM41.5 13.2h.9v.9h-.9zM66.2 0.9h.9v.9h-.9zM42.0 3.2h.9v.9h-.9zM59.0 5.8h.9v.9h-.9zM84.9 1.2h.9v.9h-.9zM68.0 1.7h.9v.9h-.9zM71.8 1.0h.9v.9h-.9zM36.0 1.6h.9v.9h-.9zM58.5 2.9h.9v.9h-.9zM57.5 2.2h.9v.9h-.9zM58.7 8.5h.9v.9h-.9zM90.9 1.2h.9v.9h-.9zM90.3 4.0h.9v.9h-.9zM22.8 3.1h.9v.9h-.9zM36.0 2.5h.9v.9h-.9zM53.0 3.4h.9v.9h-.9zM27.7 1.2h.9v.9h-.9zM68.2 8.8h.9v.9h-.9zM68.4 2.3h.9v.9h-.9zM42.5 2.3h.9v.9h-.9zM47.3 3.8h.9v.9h-.9zM55.6 0.8h.9v.9h-.9zM42.4 2.2h.9v.9h-.9zM23.2 6.0h.9v.9h-.9zM63.9 4.9h.9v.9h-.9zM35.4 4.0h.9v.9h-.9zM3.8 0.9h.9v.9h-.9zM63.0 2.3h.9v.9h-.9zM73.6 2.3h.9v.9h-.9zM94.5 2.0h.9v.9h-.9zM35.6 2.6h.9v.9h-.9zM37.3 4.1h.9v.9h-.9zM96.8 4.7h.9v.9h-.9zM2.0 1.7h.9v.9h-.9zM46.9 7.7h.9v.9h-.9zM71.1 3.9h.9v.9h-.9zM17.0 2.3h.9v.9h-.9zM5.9 3.0h.9v.9h-.9zM96.5 1.5h.9v.9h-.9zM42.0 5.0h.9v.9h-.9zM25.3 3.7h.9v.9h-.9zM21.0 2.5h.9v.9h-.9zM92.8 3.4h.9v.9h-.9zM87.7 2.3h.9v.9h-.9zM49.1 7.3h.9v.9h-.9zM82.8 2.5h.9v.9h-.9zM70.9 4.4h.9v.9h-.9zM15.6 2.6h.9v.9h-.9zM68.2 12.3h.9v.9h-.9zM48.6 2.5h.9v.9h-.9zM42.7 4.8h.9v.9h-.9zM45.7 0.9h.9v.9h-.9zM15.7 1.8h.9v.9h-.9zM53.5 3.6h.9v.9h-.9zM32.2 2.9h.9v.9h-.9zM54.5 2.0h.9v.9h-.9zM24.3 0.8h.9v.9h-.9zM52.0 10.2h.9v.9h-.9zM10.1 2.3h.9v.9h-.9zM76.4 1.0h.9v.9h-.9zM67.0 2.4h.9v.9h-.9zM35.4 5.5h.9v.9h-.9zM7.8 1.7h.9v.9h-.9zM33.7 4.4h.9v.9h-.9zM31.4 2.9h.9v.9h-.9zM61.5 2.0h.9v.9h-.9zM31.1 3.5h.9v.9h-.9zM81.8 2.1h.9v.9h-.9zM13.1 1.2h.9v.9h-.9z"/><path fill="#4d8af5" d="M51.3 4.1h.9v.9h-.9zM49.3 14.1h.9v.9h-.9zM51.6 7.9h.9v.9h-.9zM50.9 3.0h.9v.9h-.9zM50.4 11.6h.9v.9h-.9zM48.9 4.4h.9v.9h-.9zM50.0 14.8h.9v.9h-.9zM49.6 2.7h.9v.9h-.9zM50.6 5.5h.9v.9h-.9zM50.5 9.2h.9v.9h-.9zM50.6 15.4h.9v.9h-.9zM50.9 21.9h.9v.9h-.9zM50.1 15.0h.9v.9h-.9zM51.2 5.5h.9v.9h-.9zM49.3 9.9h.9v.9h-.9zM51.4 4.1h.9v.9h-.9zM51.6 21.8h.9v.9h-.9zM51.0 20.3h.9v.9h-.9zM51.5 11.2h.9v.9h-.9zM51.2 4.9h.9v.9h-.9zM49.9 17.9h.9v.9h-.9zM49.5 7.0h.9v.9h-.9zM52.2 10.8h.9v.9h-.9zM49.8 3.8h.9v.9h-.9zM50.0 15.3h.9v.9h-.9zM50.6 15.6h.9v.9h-.9zM48.1 1.8h.9v.9h-.9zM49.2 16.0h.9v.9h-.9zM50.7 7.6h.9v.9h-.9zM50.0 1.9h.9v.9h-.9zM49.1 8.2h.9v.9h-.9zM49.7 15.5h.9v.9h-.9zM49.4 6.7h.9v.9h-.9zM51.7 21.5h.9v.9h-.9zM50.4 2.7h.9v.9h-.9zM50.5 16.2h.9v.9h-.9zM51.4 4.1h.9v.9h-.9zM49.4 19.3h.9v.9h-.9zM50.4 8.9h.9v.9h-.9zM50.0 15.0h.9v.9h-.9zM50.8 8.3h.9v.9h-.9zM50.5 19.3h.9v.9h-.9zM51.4 20.1h.9v.9h-.9zM50.5 17.5h.9v.9h-.9zM51.4 21.4h.9v.9h-.9zM49.5 14.5h.9v.9h-.9zM51.7 5.0h.9v.9h-.9zM50.1 11.8h.9v.9h-.9z"/><path fill="#9a2cf0" d="M48.0 98.6h.9v.9h-.9zM54.8 99.3h.9v.9h-.9zM51.3 101.3h.9v.9h-.9zM54.6 99.1h.9v.9h-.9zM43.9 99.1h.9v.9h-.9zM53.0 90.8h.9v.9h-.9zM49.0 99.8h.9v.9h-.9zM61.1 104.3h.9v.9h-.9zM45.5 106.3h.9v.9h-.9zM49.9 110.1h.9v.9h-.9zM47.5 99.3h.9v.9h-.9zM53.2 96.5h.9v.9h-.9zM53.5 104.4h.9v.9h-.9zM43.8 105.0h.9v.9h-.9zM47.3 91.5h.9v.9h-.9zM51.6 94.0h.9v.9h-.9zM50.7 95.3h.9v.9h-.9zM44.8 91.4h.9v.9h-.9zM51.6 92.1h.9v.9h-.9zM41.8 103.6h.9v.9h-.9zM48.9 102.5h.9v.9h-.9zM48.5 87.6h.9v.9h-.9zM61.4 95.4h.9v.9h-.9zM53.2 99.6h.9v.9h-.9zM61.2 103.4h.9v.9h-.9zM49.1 92.0h.9v.9h-.9zM56.4 94.8h.9v.9h-.9zM57.7 105.2h.9v.9h-.9zM47.8 98.7h.9v.9h-.9zM53.4 98.7h.9v.9h-.9zM60.2 104.5h.9v.9h-.9zM42.0 108.6h.9v.9h-.9zM46.8 97.4h.9v.9h-.9zM53.7 111.3h.9v.9h-.9zM52.0 90.8h.9v.9h-.9zM55.6 110.0h.9v.9h-.9zM43.7 108.2h.9v.9h-.9zM62.9 109.2h.9v.9h-.9zM53.4 97.1h.9v.9h-.9zM57.7 95.7h.9v.9h-.9zM53.2 89.1h.9v.9h-.9zM47.7 96.3h.9v.9h-.9zM50.5 101.5h.9v.9h-.9zM51.4 96.1h.9v.9h-.9zM54.8 95.9h.9v.9h-.9zM50.9 105.8h.9v.9h-.9zM48.0 94.7h.9v.9h-.9zM46.2 90.9h.9v.9h-.9zM48.9 86.5h.9v.9h-.9zM45.6 93.6h.9v.9h-.9zM55.2 91.2h.9v.9h-.9zM44.2 92.1h.9v.9h-.9zM46.1 101.2h.9v.9h-.9zM49.5 86.9h.9v.9h-.9zM47.0 94.5h.9v.9h-.9zM45.0 99.3h.9v.9h-.9zM51.1 89.2h.9v.9h-.9zM54.4 96.8h.9v.9h-.9zM52.3 95.4h.9v.9h-.9zM48.3 111.6h.9v.9h-.9zM52.2 92.2h.9v.9h-.9zM47.2 101.3h.9v.9h-.9zM58.2 95.8h.9v.9h-.9zM53.4 107.1h.9v.9h-.9zM51.2 93.0h.9v.9h-.9zM41.7 111.7h.9v.9h-.9zM49.1 87.4h.9v.9h-.9zM53.4 102.2h.9v.9h-.9zM55.1 106.2h.9v.9h-.9zM45.7 96.1h.9v.9h-.9zM54.7 106.8h.9v.9h-.9zM53.6 105.6h.9v.9h-.9zM52.6 97.5h.9v.9h-.9zM50.4 98.0h.9v.9h-.9zM52.1 91.5h.9v.9h-.9zM50.5 88.4h.9v.9h-.9zM45.7 95.6h.9v.9h-.9zM52.4 93.5h.9v.9h-.9zM32.9 104.3h.9v.9h-.9zM49.5 90.4h.9v.9h-.9zM45.5 99.3h.9v.9h-.9zM50.8 108.4h.9v.9h-.9zM52.9 91.4h.9v.9h-.9zM47.7 94.7h.9v.9h-.9zM46.2 102.0h.9v.9h-.9zM49.6 88.2h.9v.9h-.9zM47.9 110.8h.9v.9h-.9zM52.7 103.1h.9v.9h-.9zM48.3 99.8h.9v.9h-.9zM56.0 108.0h.9v.9h-.9zM41.2 94.8h.9v.9h-.9zM55.9 95.4h.9v.9h-.9zM54.1 96.5h.9v.9h-.9zM58.1 103.3h.9v.9h-.9zM47.6 97.6h.9v.9h-.9zM53.2 106.5h.9v.9h-.9zM52.8 97.9h.9v.9h-.9zM45.1 105.1h.9v.9h-.9zM51.7 86.7h.9v.9h-.9zM65.8 103.7h.9v.9h-.9zM43.6 103.6h.9v.9h-.9zM50.6 91.1h.9v.9h-.9zM47.4 90.5h.9v.9h-.9zM45.9 92.7h.9v.9h-.9zM55.8 102.8h.9v.9h-.9zM54.0 90.5h.9v.9h-.9zM47.9 99.2h.9v.9h-.9zM54.1 89.5h.9v.9h-.9zM48.5 98.6h.9v.9h-.9zM49.0 94.0h.9v.9h-.9zM42.4 103.6h.9v.9h-.9zM47.9 106.3h.9v.9h-.9zM51.5 100.9h.9v.9h-.9zM57.9 107.6h.9v.9h-.9zM50.6 100.7h.9v.9h-.9zM45.9 97.7h.9v.9h-.9zM55.4 111.2h.9v.9h-.9zM46.6 88.8h.9v.9h-.9zM63.6 101.9h.9v.9h-.9zM54.2 111.3h.9v.9h-.9zM49.1 104.9h.9v.9h-.9zM57.0 90.6h.9v.9h-.9zM49.3 107.5h.9v.9h-.9zM50.3 109.1h.9v.9h-.9zM54.0 97.4h.9v.9h-.9zM43.4 99.9h.9v.9h-.9zM54.9 108.4h.9v.9h-.9zM59.2 94.8h.9v.9h-.9zM50.0 86.7h.9v.9h-.9zM51.4 87.9h.9v.9h-.9zM53.0 102.2h.9v.9h-.9zM52.1 93.6h.9v.9h-.9zM58.0 93.2h.9v.9h-.9zM43.0 108.6h.9v.9h-.9zM37.6 111.7h.9v.9h-.9zM53.1 93.3h.9v.9h-.9zM55.0 110.1h.9v.9h-.9zM45.0 91.9h.9v.9h-.9zM53.8 88.4h.9v.9h-.9zM47.2 101.9h.9v.9h-.9zM57.3 108.4h.9v.9h-.9zM56.5 98.1h.9v.9h-.9zM46.2 106.4h.9v.9h-.9zM51.9 110.9h.9v.9h-.9zM50.3 93.3h.9v.9h-.9zM43.4 92.4h.9v.9h-.9zM47.0 104.1h.9v.9h-.9zM52.1 91.6h.9v.9h-.9zM44.4 110.8h.9v.9h-.9zM55.0 99.0h.9v.9h-.9zM50.6 86.7h.9v.9h-.9zM38.6 108.8h.9v.9h-.9zM51.5 95.3h.9v.9h-.9zM56.2 105.0h.9v.9h-.9zM44.4 103.1h.9v.9h-.9zM52.7 90.0h.9v.9h-.9zM41.8 109.9h.9v.9h-.9zM51.9 106.5h.9v.9h-.9zM49.9 91.1h.9v.9h-.9zM44.2 107.1h.9v.9h-.9zM49.8 88.5h.9v.9h-.9zM57.6 98.5h.9v.9h-.9zM47.7 95.8h.9v.9h-.9zM48.9 97.4h.9v.9h-.9zM51.1 86.0h.9v.9h-.9zM45.4 107.6h.9v.9h-.9zM44.4 100.4h.9v.9h-.9zM47.9 89.3h.9v.9h-.9zM47.0 106.2h.9v.9h-.9zM63.4 106.4h.9v.9h-.9zM53.1 103.6h.9v.9h-.9zM44.5 103.5h.9v.9h-.9zM51.8 110.8h.9v.9h-.9zM52.5 96.7h.9v.9h-.9zM52.7 99.2h.9v.9h-.9zM54.6 108.5h.9v.9h-.9zM52.2 96.1h.9v.9h-.9zM53.3 101.0h.9v.9h-.9zM46.3 90.9h.9v.9h-.9zM51.4 97.4h.9v.9h-.9zM51.0 99.1h.9v.9h-.9zM49.3 110.2h.9v.9h-.9zM56.3 91.2h.9v.9h-.9zM52.7 100.8h.9v.9h-.9zM52.4 100.0h.9v.9h-.9zM57.5 94.0h.9v.9h-.9zM51.6 104.9h.9v.9h-.9zM58.2 102.9h.9v.9h-.9zM48.9 95.7h.9v.9h-.9zM50.8 102.7h.9v.9h-.9zM55.0 104.0h.9v.9h-.9zM57.2 105.1h.9v.9h-.9zM53.7 88.6h.9v.9h-.9zM45.9 87.3h.9v.9h-.9zM53.0 92.5h.9v.9h-.9zM51.6 88.2h.9v.9h-.9zM50.5 98.7h.9v.9h-.9zM54.7 98.0h.9v.9h-.9zM52.2 95.7h.9v.9h-.9zM45.8 89.0h.9v.9h-.9z"/></svg></g>
<rect x="194.6" y="15.3" width="100.8" height="113.0" fill="none" stroke="#3a3a3a" stroke-width="1.05"/>
<line x1="295.4" y1="115.74" x2="297.2" y2="115.74" stroke="#3a3a3a" stroke-width="0.7"/>
<text x="297.6" y="118.7" font-size="8.3" text-anchor="start" font-weight="normal" fill="#1a1a1a" >0</text>
<line x1="295.4" y1="103.19" x2="297.2" y2="103.19" stroke="#3a3a3a" stroke-width="0.7"/>
<text x="297.6" y="106.2" font-size="8.3" text-anchor="start" font-weight="normal" fill="#1a1a1a" >5</text>
<line x1="295.4" y1="90.63" x2="297.2" y2="90.63" stroke="#3a3a3a" stroke-width="0.7"/>
<text x="297.6" y="93.6" font-size="8.3" text-anchor="start" font-weight="normal" fill="#1a1a1a" >10</text>
<line x1="295.4" y1="78.08" x2="297.2" y2="78.08" stroke="#3a3a3a" stroke-width="0.7"/>
<text x="297.6" y="81.1" font-size="8.3" text-anchor="start" font-weight="normal" fill="#1a1a1a" >15</text>
<line x1="295.4" y1="65.52" x2="297.2" y2="65.52" stroke="#3a3a3a" stroke-width="0.7"/>
<text x="297.6" y="68.5" font-size="8.3" text-anchor="start" font-weight="normal" fill="#1a1a1a" >20</text>
<line x1="295.4" y1="52.97" x2="297.2" y2="52.97" stroke="#3a3a3a" stroke-width="0.7"/>
<text x="297.6" y="56.0" font-size="8.3" text-anchor="start" font-weight="normal" fill="#1a1a1a" >25</text>
<line x1="295.4" y1="40.41" x2="297.2" y2="40.41" stroke="#3a3a3a" stroke-width="0.7"/>
<text x="297.6" y="43.4" font-size="8.3" text-anchor="start" font-weight="normal" fill="#1a1a1a" >30</text>
<line x1="295.4" y1="27.86" x2="297.2" y2="27.86" stroke="#3a3a3a" stroke-width="0.7"/>
<text x="297.6" y="30.9" font-size="8.3" text-anchor="start" font-weight="normal" fill="#1a1a1a" >35</text>
<line x1="207.57" y1="128.3" x2="207.57" y2="130.10000000000002" stroke="#3a3a3a" stroke-width="0.7"/>
<text x="207.6" y="136.6" font-size="8.3" text-anchor="middle" font-weight="normal" fill="#1a1a1a" >15</text>
<line x1="220.05" y1="128.3" x2="220.05" y2="130.10000000000002" stroke="#3a3a3a" stroke-width="0.7"/>
<text x="220.0" y="136.6" font-size="8.3" text-anchor="middle" font-weight="normal" fill="#1a1a1a" >10</text>
<line x1="232.52" y1="128.3" x2="232.52" y2="130.10000000000002" stroke="#3a3a3a" stroke-width="0.7"/>
<text x="232.5" y="136.6" font-size="8.3" text-anchor="middle" font-weight="normal" fill="#1a1a1a" >5</text>
<line x1="245.00" y1="128.3" x2="245.00" y2="130.10000000000002" stroke="#3a3a3a" stroke-width="0.7"/>
<text x="245.0" y="136.6" font-size="8.3" text-anchor="middle" font-weight="normal" fill="#1a1a1a" >0</text>
<line x1="257.48" y1="128.3" x2="257.48" y2="130.10000000000002" stroke="#3a3a3a" stroke-width="0.7"/>
<text x="257.5" y="136.6" font-size="8.3" text-anchor="middle" font-weight="normal" fill="#1a1a1a" >5</text>
<line x1="269.95" y1="128.3" x2="269.95" y2="130.10000000000002" stroke="#3a3a3a" stroke-width="0.7"/>
<text x="270.0" y="136.6" font-size="8.3" text-anchor="middle" font-weight="normal" fill="#1a1a1a" >10</text>
<line x1="282.43" y1="128.3" x2="282.43" y2="130.10000000000002" stroke="#3a3a3a" stroke-width="0.7"/>
<text x="282.4" y="136.6" font-size="8.3" text-anchor="middle" font-weight="normal" fill="#1a1a1a" >15</text>
<g transform="translate(194.6,161.6) scale(0.9980,1)"><svg width="101" height="113.0" overflow="hidden"><use href="#gk"/><use href="#ck"/><path fill="#9a2cf0" d="M44.7 0.6h.9v.9h-.9zM46.9 1.4h.9v.9h-.9zM54.6 7.1h.9v.9h-.9zM60.9 2.3h.9v.9h-.9zM40.8 6.9h.9v.9h-.9zM48.6 8.4h.9v.9h-.9zM48.2 3.2h.9v.9h-.9zM41.5 8.6h.9v.9h-.9zM50.8 4.2h.9v.9h-.9zM49.2 7.0h.9v.9h-.9zM57.4 4.5h.9v.9h-.9zM43.7 4.0h.9v.9h-.9zM58.7 4.0h.9v.9h-.9zM53.9 5.3h.9v.9h-.9zM49.7 5.4h.9v.9h-.9zM45.1 5.2h.9v.9h-.9zM58.2 1.2h.9v.9h-.9zM47.7 8.0h.9v.9h-.9zM60.5 0.6h.9v.9h-.9zM53.2 5.9h.9v.9h-.9zM57.7 4.5h.9v.9h-.9zM42.8 3.1h.9v.9h-.9zM55.0 6.7h.9v.9h-.9zM44.3 6.0h.9v.9h-.9zM53.8 6.1h.9v.9h-.9zM40.5 4.3h.9v.9h-.9zM46.8 5.6h.9v.9h-.9zM47.1 1.6h.9v.9h-.9zM54.1 2.9h.9v.9h-.9zM56.6 3.1h.9v.9h-.9zM51.5 7.4h.9v.9h-.9zM42.4 6.7h.9v.9h-.9zM41.4 8.5h.9v.9h-.9zM40.5 6.7h.9v.9h-.9zM47.7 2.0h.9v.9h-.9zM48.3 4.8h.9v.9h-.9zM48.7 1.5h.9v.9h-.9zM51.0 3.1h.9v.9h-.9zM60.3 3.8h.9v.9h-.9zM49.1 2.4h.9v.9h-.9zM60.3 3.2h.9v.9h-.9zM53.6 7.6h.9v.9h-.9zM48.3 6.9h.9v.9h-.9zM45.9 1.4h.9v.9h-.9zM40.9 4.3h.9v.9h-.9zM58.4 2.2h.9v.9h-.9zM49.3 7.0h.9v.9h-.9zM45.8 1.8h.9v.9h-.9zM50.9 4.1h.9v.9h-.9zM59.7 8.1h.9v.9h-.9zM45.0 5.3h.9v.9h-.9zM48.7 0.8h.9v.9h-.9zM49.3 8.3h.9v.9h-.9zM46.4 5.5h.9v.9h-.9zM54.9 1.0h.9v.9h-.9zM59.4 1.4h.9v.9h-.9zM46.3 6.6h.9v.9h-.9zM40.4 3.7h.9v.9h-.9zM42.7 4.5h.9v.9h-.9zM40.3 1.8h.9v.9h-.9z"/><path fill="#9a2cf0" d="M46.9 0.8h.9v.9h-.9zM45.2 1.2h.9v.9h-.9zM50.7 1.0h.9v.9h-.9zM54.7 2.0h.9v.9h-.9zM47.3 1.3h.9v.9h-.9zM54.9 0.7h.9v.9h-.9zM53.6 0.8h.9v.9h-.9zM56.3 1.9h.9v.9h-.9zM51.8 3.5h.9v.9h-.9zM45.3 0.7h.9v.9h-.9zM53.0 2.6h.9v.9h-.9zM53.4 1.5h.9v.9h-.9zM50.5 1.2h.9v.9h-.9zM49.7 1.5h.9v.9h-.9zM51.6 1.5h.9v.9h-.9zM47.6 2.7h.9v.9h-.9zM45.1 3.3h.9v.9h-.9zM50.4 1.3h.9v.9h-.9zM45.5 2.3h.9v.9h-.9zM50.6 3.0h.9v.9h-.9zM48.9 1.9h.9v.9h-.9zM55.6 1.5h.9v.9h-.9zM56.8 3.6h.9v.9h-.9zM56.9 3.8h.9v.9h-.9zM47.3 3.4h.9v.9h-.9z"/></svg></g>
<rect x="194.6" y="161.6" width="100.8" height="113.0" fill="none" stroke="#3a3a3a" stroke-width="1.05"/>
<line x1="295.4" y1="262.04" x2="297.2" y2="262.04" stroke="#3a3a3a" stroke-width="0.7"/>
<text x="297.6" y="265.0" font-size="8.3" text-anchor="start" font-weight="normal" fill="#1a1a1a" >0</text>
<line x1="295.4" y1="249.49" x2="297.2" y2="249.49" stroke="#3a3a3a" stroke-width="0.7"/>
<text x="297.6" y="252.5" font-size="8.3" text-anchor="start" font-weight="normal" fill="#1a1a1a" >5</text>
<line x1="295.4" y1="236.93" x2="297.2" y2="236.93" stroke="#3a3a3a" stroke-width="0.7"/>
<text x="297.6" y="239.9" font-size="8.3" text-anchor="start" font-weight="normal" fill="#1a1a1a" >10</text>
<line x1="295.4" y1="224.38" x2="297.2" y2="224.38" stroke="#3a3a3a" stroke-width="0.7"/>
<text x="297.6" y="227.4" font-size="8.3" text-anchor="start" font-weight="normal" fill="#1a1a1a" >15</text>
<line x1="295.4" y1="211.82" x2="297.2" y2="211.82" stroke="#3a3a3a" stroke-width="0.7"/>
<text x="297.6" y="214.8" font-size="8.3" text-anchor="start" font-weight="normal" fill="#1a1a1a" >20</text>
<line x1="295.4" y1="199.27" x2="297.2" y2="199.27" stroke="#3a3a3a" stroke-width="0.7"/>
<text x="297.6" y="202.3" font-size="8.3" text-anchor="start" font-weight="normal" fill="#1a1a1a" >25</text>
<line x1="295.4" y1="186.71" x2="297.2" y2="186.71" stroke="#3a3a3a" stroke-width="0.7"/>
<text x="297.6" y="189.7" font-size="8.3" text-anchor="start" font-weight="normal" fill="#1a1a1a" >30</text>
<line x1="295.4" y1="174.16" x2="297.2" y2="174.16" stroke="#3a3a3a" stroke-width="0.7"/>
<text x="297.6" y="177.2" font-size="8.3" text-anchor="start" font-weight="normal" fill="#1a1a1a" >35</text>
<line x1="207.57" y1="274.6" x2="207.57" y2="276.40000000000003" stroke="#3a3a3a" stroke-width="0.7"/>
<text x="207.6" y="282.9" font-size="8.3" text-anchor="middle" font-weight="normal" fill="#1a1a1a" >15</text>
<line x1="220.05" y1="274.6" x2="220.05" y2="276.40000000000003" stroke="#3a3a3a" stroke-width="0.7"/>
<text x="220.0" y="282.9" font-size="8.3" text-anchor="middle" font-weight="normal" fill="#1a1a1a" >10</text>
<line x1="232.52" y1="274.6" x2="232.52" y2="276.40000000000003" stroke="#3a3a3a" stroke-width="0.7"/>
<text x="232.5" y="282.9" font-size="8.3" text-anchor="middle" font-weight="normal" fill="#1a1a1a" >5</text>
<line x1="245.00" y1="274.6" x2="245.00" y2="276.40000000000003" stroke="#3a3a3a" stroke-width="0.7"/>
<text x="245.0" y="282.9" font-size="8.3" text-anchor="middle" font-weight="normal" fill="#1a1a1a" >0</text>
<line x1="257.48" y1="274.6" x2="257.48" y2="276.40000000000003" stroke="#3a3a3a" stroke-width="0.7"/>
<text x="257.5" y="282.9" font-size="8.3" text-anchor="middle" font-weight="normal" fill="#1a1a1a" >5</text>
<line x1="269.95" y1="274.6" x2="269.95" y2="276.40000000000003" stroke="#3a3a3a" stroke-width="0.7"/>
<text x="270.0" y="282.9" font-size="8.3" text-anchor="middle" font-weight="normal" fill="#1a1a1a" >10</text>
<line x1="282.43" y1="274.6" x2="282.43" y2="276.40000000000003" stroke="#3a3a3a" stroke-width="0.7"/>
<text x="282.4" y="282.9" font-size="8.3" text-anchor="middle" font-weight="normal" fill="#1a1a1a" >15</text>
<text x="247.1" y="292.7" font-size="9.5" text-anchor="middle" font-weight="normal" fill="#1a1a1a" >Radius (Å)</text>
<g transform="translate(81.3,361.5) scale(0.9941,1)"><svg width="101" height="113.0" overflow="hidden"><use href="#gr"/><use href="#cl"/><path fill="#9a2cf0" d="M58.4 19.5h.9v.9h-.9zM54.2 8.0h.9v.9h-.9zM86.0 1.4h.9v.9h-.9zM56.0 3.1h.9v.9h-.9zM58.9 7.5h.9v.9h-.9zM57.2 9.0h.9v.9h-.9zM52.3 4.8h.9v.9h-.9zM51.9 6.0h.9v.9h-.9zM55.8 4.0h.9v.9h-.9zM38.1 6.2h.9v.9h-.9zM56.5 6.2h.9v.9h-.9zM68.6 3.2h.9v.9h-.9zM25.8 2.3h.9v.9h-.9zM45.5 3.9h.9v.9h-.9zM32.1 3.4h.9v.9h-.9zM46.2 5.9h.9v.9h-.9zM51.6 4.5h.9v.9h-.9zM35.8 2.2h.9v.9h-.9zM46.2 4.6h.9v.9h-.9zM48.2 3.7h.9v.9h-.9zM53.3 2.8h.9v.9h-.9zM65.8 3.2h.9v.9h-.9zM45.0 1.5h.9v.9h-.9zM51.3 1.5h.9v.9h-.9zM51.4 0.9h.9v.9h-.9zM50.7 1.5h.9v.9h-.9zM10.8 1.9h.9v.9h-.9zM42.3 4.1h.9v.9h-.9zM45.7 16.2h.9v.9h-.9zM67.2 1.4h.9v.9h-.9zM51.5 1.9h.9v.9h-.9zM55.0 9.4h.9v.9h-.9zM52.3 4.2h.9v.9h-.9zM49.7 7.2h.9v.9h-.9zM47.8 8.6h.9v.9h-.9zM43.0 6.3h.9v.9h-.9zM54.5 8.0h.9v.9h-.9zM57.4 3.2h.9v.9h-.9zM44.2 8.7h.9v.9h-.9zM43.3 7.5h.9v.9h-.9zM52.0 7.6h.9v.9h-.9zM50.9 6.4h.9v.9h-.9zM39.9 7.4h.9v.9h-.9zM43.7 11.9h.9v.9h-.9zM56.6 5.9h.9v.9h-.9zM76.2 4.7h.9v.9h-.9zM53.5 9.2h.9v.9h-.9zM55.4 1.5h.9v.9h-.9zM45.6 5.0h.9v.9h-.9zM51.5 7.1h.9v.9h-.9zM48.2 2.3h.9v.9h-.9zM40.1 2.9h.9v.9h-.9zM59.3 4.8h.9v.9h-.9zM43.0 15.7h.9v.9h-.9zM33.8 1.2h.9v.9h-.9zM6.5 0.9h.9v.9h-.9zM56.9 8.5h.9v.9h-.9zM56.0 7.5h.9v.9h-.9zM58.3 1.2h.9v.9h-.9zM48.4 2.4h.9v.9h-.9zM43.9 5.5h.9v.9h-.9zM60.9 6.0h.9v.9h-.9zM47.3 2.6h.9v.9h-.9zM66.7 10.8h.9v.9h-.9zM66.3 3.6h.9v.9h-.9zM47.5 14.5h.9v.9h-.9zM55.3 3.6h.9v.9h-.9zM45.6 4.2h.9v.9h-.9zM45.2 4.3h.9v.9h-.9zM59.8 3.9h.9v.9h-.9z"/><path fill="#4d8af5" d="M51.6 27.8h.9v.9h-.9zM49.8 1.6h.9v.9h-.9zM49.3 20.6h.9v.9h-.9zM50.8 27.1h.9v.9h-.9zM49.7 18.1h.9v.9h-.9zM49.7 15.3h.9v.9h-.9zM49.8 1.2h.9v.9h-.9zM48.2 9.5h.9v.9h-.9zM50.8 22.3h.9v.9h-.9zM50.3 1.6h.9v.9h-.9zM49.4 7.3h.9v.9h-.9zM49.1 11.2h.9v.9h-.9zM50.7 15.2h.9v.9h-.9zM52.0 17.3h.9v.9h-.9zM49.9 26.8h.9v.9h-.9zM51.7 22.0h.9v.9h-.9zM51.2 14.8h.9v.9h-.9zM50.3 11.3h.9v.9h-.9zM49.5 5.6h.9v.9h-.9zM52.0 16.0h.9v.9h-.9zM50.9 1.3h.9v.9h-.9zM48.2 8.2h.9v.9h-.9zM48.2 5.2h.9v.9h-.9zM50.6 23.7h.9v.9h-.9zM49.5 26.0h.9v.9h-.9zM51.3 2.5h.9v.9h-.9zM50.2 4.4h.9v.9h-.9zM51.0 9.1h.9v.9h-.9zM50.1 4.1h.9v.9h-.9zM49.2 22.6h.9v.9h-.9zM49.9 23.1h.9v.9h-.9zM50.5 23.1h.9v.9h-.9zM51.0 22.8h.9v.9h-.9zM52.8 7.0h.9v.9h-.9zM52.5 23.3h.9v.9h-.9zM50.5 3.5h.9v.9h-.9zM50.7 18.0h.9v.9h-.9zM48.8 23.4h.9v.9h-.9zM51.4 23.5h.9v.9h-.9zM50.4 25.9h.9v.9h-.9zM49.9 19.4h.9v.9h-.9zM51.9 23.9h.9v.9h-.9zM49.8 7.6h.9v.9h-.9zM50.2 15.6h.9v.9h-.9zM51.8 25.0h.9v.9h-.9zM52.0 7.4h.9v.9h-.9zM50.0 4.1h.9v.9h-.9zM49.1 22.0h.9v.9h-.9zM50.6 3.5h.9v.9h-.9zM49.6 8.5h.9v.9h-.9zM50.7 23.0h.9v.9h-.9zM49.4 5.1h.9v.9h-.9zM51.2 24.7h.9v.9h-.9zM51.1 5.2h.9v.9h-.9zM52.0 3.3h.9v.9h-.9zM51.2 19.0h.9v.9h-.9zM51.2 18.8h.9v.9h-.9zM50.9 24.6h.9v.9h-.9zM49.6 1.6h.9v.9h-.9zM51.1 10.1h.9v.9h-.9zM50.6 20.2h.9v.9h-.9z"/></svg></g>
<rect x="81.3" y="361.5" width="100.4" height="113.0" fill="none" stroke="#3a3a3a" stroke-width="1.05"/>
<line x1="79.5" y1="461.94" x2="81.3" y2="461.94" stroke="#3a3a3a" stroke-width="0.7"/>
<text x="79.3" y="464.9" font-size="8.3" text-anchor="end" font-weight="normal" fill="#1a1a1a" >0</text>
<line x1="79.5" y1="449.39" x2="81.3" y2="449.39" stroke="#3a3a3a" stroke-width="0.7"/>
<text x="79.3" y="452.4" font-size="8.3" text-anchor="end" font-weight="normal" fill="#1a1a1a" >5</text>
<line x1="79.5" y1="436.83" x2="81.3" y2="436.83" stroke="#3a3a3a" stroke-width="0.7"/>
<text x="79.3" y="439.8" font-size="8.3" text-anchor="end" font-weight="normal" fill="#1a1a1a" >10</text>
<line x1="79.5" y1="424.28" x2="81.3" y2="424.28" stroke="#3a3a3a" stroke-width="0.7"/>
<text x="79.3" y="427.3" font-size="8.3" text-anchor="end" font-weight="normal" fill="#1a1a1a" >15</text>
<line x1="79.5" y1="411.72" x2="81.3" y2="411.72" stroke="#3a3a3a" stroke-width="0.7"/>
<text x="79.3" y="414.7" font-size="8.3" text-anchor="end" font-weight="normal" fill="#1a1a1a" >20</text>
<line x1="79.5" y1="399.17" x2="81.3" y2="399.17" stroke="#3a3a3a" stroke-width="0.7"/>
<text x="79.3" y="402.2" font-size="8.3" text-anchor="end" font-weight="normal" fill="#1a1a1a" >25</text>
<line x1="79.5" y1="386.61" x2="81.3" y2="386.61" stroke="#3a3a3a" stroke-width="0.7"/>
<text x="79.3" y="389.6" font-size="8.3" text-anchor="end" font-weight="normal" fill="#1a1a1a" >30</text>
<line x1="79.5" y1="374.06" x2="81.3" y2="374.06" stroke="#3a3a3a" stroke-width="0.7"/>
<text x="79.3" y="377.1" font-size="8.3" text-anchor="end" font-weight="normal" fill="#1a1a1a" >35</text>
<line x1="94.22" y1="474.5" x2="94.22" y2="476.3" stroke="#3a3a3a" stroke-width="0.7"/>
<text x="94.2" y="482.8" font-size="8.3" text-anchor="middle" font-weight="normal" fill="#1a1a1a" >15</text>
<line x1="106.65" y1="474.5" x2="106.65" y2="476.3" stroke="#3a3a3a" stroke-width="0.7"/>
<text x="106.6" y="482.8" font-size="8.3" text-anchor="middle" font-weight="normal" fill="#1a1a1a" >10</text>
<line x1="119.07" y1="474.5" x2="119.07" y2="476.3" stroke="#3a3a3a" stroke-width="0.7"/>
<text x="119.1" y="482.8" font-size="8.3" text-anchor="middle" font-weight="normal" fill="#1a1a1a" >5</text>
<line x1="131.50" y1="474.5" x2="131.50" y2="476.3" stroke="#3a3a3a" stroke-width="0.7"/>
<text x="131.5" y="482.8" font-size="8.3" text-anchor="middle" font-weight="normal" fill="#1a1a1a" >0</text>
<line x1="143.93" y1="474.5" x2="143.93" y2="476.3" stroke="#3a3a3a" stroke-width="0.7"/>
<text x="143.9" y="482.8" font-size="8.3" text-anchor="middle" font-weight="normal" fill="#1a1a1a" >5</text>
<line x1="156.35" y1="474.5" x2="156.35" y2="476.3" stroke="#3a3a3a" stroke-width="0.7"/>
<text x="156.4" y="482.8" font-size="8.3" text-anchor="middle" font-weight="normal" fill="#1a1a1a" >10</text>
<line x1="168.78" y1="474.5" x2="168.78" y2="476.3" stroke="#3a3a3a" stroke-width="0.7"/>
<text x="168.8" y="482.8" font-size="8.3" text-anchor="middle" font-weight="normal" fill="#1a1a1a" >15</text>
<text x="131.5" y="357.9" font-size="9.6" text-anchor="middle" fill="#1a1a1a">Na<tspan dy="-3.6" font-size="6.0">+</tspan><tspan dy="3.6">, closed state</tspan></text>
<g transform="translate(81.3,506.3) scale(0.9941,1)"><svg width="101" height="113.0" overflow="hidden"><use href="#gk"/><use href="#ck"/><path fill="#9a2cf0" d="M56.5 5.0h.9v.9h-.9zM54.7 1.6h.9v.9h-.9zM48.1 3.0h.9v.9h-.9zM45.9 6.8h.9v.9h-.9zM44.5 3.3h.9v.9h-.9zM45.9 7.8h.9v.9h-.9zM53.4 4.6h.9v.9h-.9zM48.0 8.3h.9v.9h-.9zM59.7 4.3h.9v.9h-.9zM51.9 7.8h.9v.9h-.9zM45.4 2.7h.9v.9h-.9zM42.2 4.8h.9v.9h-.9zM56.1 1.8h.9v.9h-.9zM49.1 8.9h.9v.9h-.9zM50.1 3.8h.9v.9h-.9zM57.6 8.1h.9v.9h-.9zM47.9 1.5h.9v.9h-.9zM53.4 6.8h.9v.9h-.9zM59.4 6.1h.9v.9h-.9zM46.5 4.9h.9v.9h-.9zM46.0 4.3h.9v.9h-.9zM49.8 8.3h.9v.9h-.9zM59.0 8.4h.9v.9h-.9zM50.0 8.7h.9v.9h-.9zM42.9 8.3h.9v.9h-.9zM53.4 7.9h.9v.9h-.9zM48.7 8.9h.9v.9h-.9zM40.5 7.7h.9v.9h-.9zM57.2 3.7h.9v.9h-.9zM57.4 2.3h.9v.9h-.9zM55.8 4.5h.9v.9h-.9zM48.6 2.2h.9v.9h-.9zM56.8 6.7h.9v.9h-.9zM41.9 8.8h.9v.9h-.9zM44.6 3.7h.9v.9h-.9zM48.7 5.4h.9v.9h-.9zM58.7 8.5h.9v.9h-.9zM53.3 3.6h.9v.9h-.9zM42.3 1.1h.9v.9h-.9zM50.9 5.5h.9v.9h-.9zM49.4 8.9h.9v.9h-.9zM48.7 3.5h.9v.9h-.9zM48.8 2.0h.9v.9h-.9zM59.7 5.5h.9v.9h-.9zM51.4 4.1h.9v.9h-.9zM45.3 3.2h.9v.9h-.9zM50.4 4.3h.9v.9h-.9zM60.6 5.3h.9v.9h-.9zM44.3 1.0h.9v.9h-.9zM43.3 3.4h.9v.9h-.9zM56.4 8.1h.9v.9h-.9zM45.0 7.1h.9v.9h-.9zM49.3 5.1h.9v.9h-.9zM51.2 0.9h.9v.9h-.9zM41.4 6.2h.9v.9h-.9zM54.5 3.7h.9v.9h-.9zM59.3 7.5h.9v.9h-.9zM46.3 1.1h.9v.9h-.9zM51.6 6.1h.9v.9h-.9zM44.7 0.9h.9v.9h-.9z"/><path fill="#9a2cf0" d="M50.3 0.6h.9v.9h-.9zM53.6 2.7h.9v.9h-.9zM47.6 2.1h.9v.9h-.9zM47.0 1.2h.9v.9h-.9zM46.4 3.4h.9v.9h-.9zM49.9 3.0h.9v.9h-.9zM48.5 3.3h.9v.9h-.9zM51.7 2.8h.9v.9h-.9zM49.1 2.5h.9v.9h-.9zM46.5 3.9h.9v.9h-.9zM52.7 2.4h.9v.9h-.9zM52.3 0.9h.9v.9h-.9zM48.3 1.3h.9v.9h-.9zM55.0 0.5h.9v.9h-.9zM49.8 3.5h.9v.9h-.9zM54.2 3.0h.9v.9h-.9zM47.9 1.3h.9v.9h-.9zM53.2 1.5h.9v.9h-.9zM53.4 1.7h.9v.9h-.9zM53.9 2.5h.9v.9h-.9zM54.6 3.9h.9v.9h-.9zM48.9 4.0h.9v.9h-.9zM44.1 3.6h.9v.9h-.9zM44.4 2.4h.9v.9h-.9zM49.0 3.2h.9v.9h-.9z"/></svg></g>
<rect x="81.3" y="506.3" width="100.4" height="113.0" fill="none" stroke="#3a3a3a" stroke-width="1.05"/>
<line x1="79.5" y1="606.74" x2="81.3" y2="606.74" stroke="#3a3a3a" stroke-width="0.7"/>
<text x="79.3" y="609.7" font-size="8.3" text-anchor="end" font-weight="normal" fill="#1a1a1a" >0</text>
<line x1="79.5" y1="594.19" x2="81.3" y2="594.19" stroke="#3a3a3a" stroke-width="0.7"/>
<text x="79.3" y="597.2" font-size="8.3" text-anchor="end" font-weight="normal" fill="#1a1a1a" >5</text>
<line x1="79.5" y1="581.63" x2="81.3" y2="581.63" stroke="#3a3a3a" stroke-width="0.7"/>
<text x="79.3" y="584.6" font-size="8.3" text-anchor="end" font-weight="normal" fill="#1a1a1a" >10</text>
<line x1="79.5" y1="569.08" x2="81.3" y2="569.08" stroke="#3a3a3a" stroke-width="0.7"/>
<text x="79.3" y="572.1" font-size="8.3" text-anchor="end" font-weight="normal" fill="#1a1a1a" >15</text>
<line x1="79.5" y1="556.52" x2="81.3" y2="556.52" stroke="#3a3a3a" stroke-width="0.7"/>
<text x="79.3" y="559.5" font-size="8.3" text-anchor="end" font-weight="normal" fill="#1a1a1a" >20</text>
<line x1="79.5" y1="543.97" x2="81.3" y2="543.97" stroke="#3a3a3a" stroke-width="0.7"/>
<text x="79.3" y="547.0" font-size="8.3" text-anchor="end" font-weight="normal" fill="#1a1a1a" >25</text>
<line x1="79.5" y1="531.41" x2="81.3" y2="531.41" stroke="#3a3a3a" stroke-width="0.7"/>
<text x="79.3" y="534.4" font-size="8.3" text-anchor="end" font-weight="normal" fill="#1a1a1a" >30</text>
<line x1="79.5" y1="518.86" x2="81.3" y2="518.86" stroke="#3a3a3a" stroke-width="0.7"/>
<text x="79.3" y="521.9" font-size="8.3" text-anchor="end" font-weight="normal" fill="#1a1a1a" >35</text>
<line x1="94.22" y1="619.3" x2="94.22" y2="621.0999999999999" stroke="#3a3a3a" stroke-width="0.7"/>
<text x="94.2" y="627.6" font-size="8.3" text-anchor="middle" font-weight="normal" fill="#1a1a1a" >15</text>
<line x1="106.65" y1="619.3" x2="106.65" y2="621.0999999999999" stroke="#3a3a3a" stroke-width="0.7"/>
<text x="106.6" y="627.6" font-size="8.3" text-anchor="middle" font-weight="normal" fill="#1a1a1a" >10</text>
<line x1="119.07" y1="619.3" x2="119.07" y2="621.0999999999999" stroke="#3a3a3a" stroke-width="0.7"/>
<text x="119.1" y="627.6" font-size="8.3" text-anchor="middle" font-weight="normal" fill="#1a1a1a" >5</text>
<line x1="131.50" y1="619.3" x2="131.50" y2="621.0999999999999" stroke="#3a3a3a" stroke-width="0.7"/>
<text x="131.5" y="627.6" font-size="8.3" text-anchor="middle" font-weight="normal" fill="#1a1a1a" >0</text>
<line x1="143.93" y1="619.3" x2="143.93" y2="621.0999999999999" stroke="#3a3a3a" stroke-width="0.7"/>
<text x="143.9" y="627.6" font-size="8.3" text-anchor="middle" font-weight="normal" fill="#1a1a1a" >5</text>
<line x1="156.35" y1="619.3" x2="156.35" y2="621.0999999999999" stroke="#3a3a3a" stroke-width="0.7"/>
<text x="156.4" y="627.6" font-size="8.3" text-anchor="middle" font-weight="normal" fill="#1a1a1a" >10</text>
<line x1="168.78" y1="619.3" x2="168.78" y2="621.0999999999999" stroke="#3a3a3a" stroke-width="0.7"/>
<text x="168.8" y="627.6" font-size="8.3" text-anchor="middle" font-weight="normal" fill="#1a1a1a" >15</text>
<text x="131.9" y="637.4" font-size="9.5" text-anchor="middle" font-weight="normal" fill="#1a1a1a" >Radius (Å)</text>
<text x="131.5" y="502.7" font-size="9.6" text-anchor="middle" fill="#1a1a1a">K<tspan dy="-3.6" font-size="6.0">+</tspan><tspan dy="3.6">, closed state</tspan></text>
<g transform="translate(204.4,361.5) scale(0.9941,1)"><svg width="101" height="113.0" overflow="hidden"><use href="#gr"/><use href="#ol"/><path fill="#4d8af5" d="M21.5 4.7h.9v.9h-.9zM25.0 2.7h.9v.9h-.9zM4.6 0.8h.9v.9h-.9zM1.1 1.8h.9v.9h-.9zM66.6 1.1h.9v.9h-.9zM73.2 4.5h.9v.9h-.9zM55.9 7.8h.9v.9h-.9zM72.8 1.5h.9v.9h-.9zM10.4 2.0h.9v.9h-.9zM72.9 2.2h.9v.9h-.9zM45.9 8.2h.9v.9h-.9zM10.5 2.5h.9v.9h-.9zM51.7 1.7h.9v.9h-.9zM83.5 1.8h.9v.9h-.9zM76.6 3.4h.9v.9h-.9zM45.9 1.7h.9v.9h-.9zM32.6 0.8h.9v.9h-.9zM43.4 1.3h.9v.9h-.9zM48.4 1.2h.9v.9h-.9zM53.0 1.4h.9v.9h-.9zM37.2 2.9h.9v.9h-.9zM18.7 0.7h.9v.9h-.9zM31.0 4.5h.9v.9h-.9zM77.3 1.1h.9v.9h-.9zM36.0 2.4h.9v.9h-.9zM33.5 4.5h.9v.9h-.9zM88.2 1.3h.9v.9h-.9zM45.9 2.0h.9v.9h-.9zM47.8 1.4h.9v.9h-.9zM70.3 3.8h.9v.9h-.9zM65.7 3.2h.9v.9h-.9zM97.8 2.8h.9v.9h-.9zM71.0 2.9h.9v.9h-.9zM15.7 1.1h.9v.9h-.9zM18.2 1.0h.9v.9h-.9zM43.6 2.7h.9v.9h-.9zM76.3 1.7h.9v.9h-.9zM92.8 1.5h.9v.9h-.9zM64.2 8.0h.9v.9h-.9zM85.1 1.8h.9v.9h-.9zM69.6 7.1h.9v.9h-.9zM71.4 0.8h.9v.9h-.9zM95.4 2.9h.9v.9h-.9zM78.2 1.0h.9v.9h-.9zM36.7 7.8h.9v.9h-.9zM92.9 2.1h.9v.9h-.9zM80.1 4.7h.9v.9h-.9zM54.7 1.9h.9v.9h-.9zM49.2 7.7h.9v.9h-.9zM65.6 12.4h.9v.9h-.9zM70.1 2.5h.9v.9h-.9zM48.7 2.0h.9v.9h-.9zM92.0 2.9h.9v.9h-.9zM59.6 1.8h.9v.9h-.9zM92.0 1.9h.9v.9h-.9zM5.1 4.1h.9v.9h-.9zM89.8 1.1h.9v.9h-.9zM59.2 4.5h.9v.9h-.9zM41.7 4.7h.9v.9h-.9zM67.2 0.9h.9v.9h-.9zM99.3 3.8h.9v.9h-.9zM74.7 0.9h.9v.9h-.9zM45.8 7.7h.9v.9h-.9zM51.5 0.9h.9v.9h-.9zM72.7 6.9h.9v.9h-.9zM27.2 0.9h.9v.9h-.9zM68.2 9.4h.9v.9h-.9zM51.5 4.3h.9v.9h-.9zM51.1 1.9h.9v.9h-.9zM31.8 2.9h.9v.9h-.9zM91.7 1.9h.9v.9h-.9zM87.6 1.6h.9v.9h-.9zM26.0 2.7h.9v.9h-.9zM55.7 6.5h.9v.9h-.9zM77.4 1.8h.9v.9h-.9zM63.3 5.5h.9v.9h-.9zM21.7 6.7h.9v.9h-.9zM72.3 0.8h.9v.9h-.9zM27.4 5.8h.9v.9h-.9zM48.4 6.3h.9v.9h-.9zM49.6 5.4h.9v.9h-.9zM43.0 2.1h.9v.9h-.9zM42.5 4.9h.9v.9h-.9zM39.5 2.5h.9v.9h-.9zM37.6 2.1h.9v.9h-.9zM72.1 0.9h.9v.9h-.9zM45.2 3.7h.9v.9h-.9zM2.5 1.5h.9v.9h-.9zM62.7 2.4h.9v.9h-.9zM32.9 6.6h.9v.9h-.9zM62.6 1.0h.9v.9h-.9zM62.8 2.5h.9v.9h-.9zM24.0 3.3h.9v.9h-.9zM71.2 7.1h.9v.9h-.9zM59.5 6.3h.9v.9h-.9zM15.3 1.0h.9v.9h-.9zM73.1 5.1h.9v.9h-.9zM62.7 11.5h.9v.9h-.9zM56.1 2.8h.9v.9h-.9zM42.5 1.8h.9v.9h-.9zM92.5 0.8h.9v.9h-.9zM34.7 2.3h.9v.9h-.9zM33.0 5.8h.9v.9h-.9zM71.9 2.6h.9v.9h-.9zM94.0 2.1h.9v.9h-.9zM46.2 5.6h.9v.9h-.9zM61.0 4.0h.9v.9h-.9zM13.2 1.9h.9v.9h-.9zM17.9 1.7h.9v.9h-.9zM71.3 4.0h.9v.9h-.9zM28.2 0.9h.9v.9h-.9zM57.4 4.5h.9v.9h-.9zM90.5 1.2h.9v.9h-.9zM22.0 2.0h.9v.9h-.9zM39.9 0.9h.9v.9h-.9zM40.0 4.2h.9v.9h-.9zM64.3 3.8h.9v.9h-.9zM50.3 18.7h.9v.9h-.9zM68.2 2.5h.9v.9h-.9zM88.2 1.6h.9v.9h-.9zM69.8 4.1h.9v.9h-.9zM18.4 1.3h.9v.9h-.9zM68.1 0.9h.9v.9h-.9zM50.2 3.0h.9v.9h-.9zM21.8 1.1h.9v.9h-.9zM37.0 2.2h.9v.9h-.9zM29.7 1.2h.9v.9h-.9zM65.0 2.6h.9v.9h-.9zM26.5 1.9h.9v.9h-.9zM17.2 1.5h.9v.9h-.9zM53.0 3.0h.9v.9h-.9zM24.9 3.7h.9v.9h-.9zM50.8 6.7h.9v.9h-.9zM97.7 0.8h.9v.9h-.9zM65.3 6.9h.9v.9h-.9zM88.6 0.9h.9v.9h-.9zM80.4 1.7h.9v.9h-.9zM35.4 6.5h.9v.9h-.9zM27.8 7.3h.9v.9h-.9zM61.3 5.8h.9v.9h-.9zM19.4 5.3h.9v.9h-.9zM17.2 2.5h.9v.9h-.9zM40.0 6.1h.9v.9h-.9zM87.1 1.6h.9v.9h-.9zM51.6 2.3h.9v.9h-.9zM55.5 1.9h.9v.9h-.9zM5.1 4.1h.9v.9h-.9zM64.4 1.3h.9v.9h-.9zM60.3 1.1h.9v.9h-.9zM84.8 1.7h.9v.9h-.9zM69.4 5.0h.9v.9h-.9zM42.7 2.6h.9v.9h-.9zM46.9 3.8h.9v.9h-.9zM40.6 3.1h.9v.9h-.9zM55.4 3.4h.9v.9h-.9zM79.8 2.4h.9v.9h-.9zM58.0 9.2h.9v.9h-.9zM23.4 6.8h.9v.9h-.9zM12.6 1.4h.9v.9h-.9zM10.6 1.7h.9v.9h-.9zM54.0 3.1h.9v.9h-.9zM70.5 2.1h.9v.9h-.9zM23.1 1.6h.9v.9h-.9zM58.7 2.7h.9v.9h-.9zM16.1 2.5h.9v.9h-.9zM22.1 2.3h.9v.9h-.9zM32.6 5.6h.9v.9h-.9zM48.3 6.6h.9v.9h-.9zM85.9 3.0h.9v.9h-.9zM36.2 2.4h.9v.9h-.9zM88.2 1.2h.9v.9h-.9zM20.2 2.5h.9v.9h-.9zM78.8 2.3h.9v.9h-.9zM55.6 4.5h.9v.9h-.9zM9.9 1.1h.9v.9h-.9zM57.5 2.7h.9v.9h-.9zM32.1 7.1h.9v.9h-.9zM55.2 1.6h.9v.9h-.9zM24.3 1.0h.9v.9h-.9zM76.9 2.1h.9v.9h-.9zM53.0 6.0h.9v.9h-.9zM48.2 4.5h.9v.9h-.9zM95.6 1.2h.9v.9h-.9zM73.1 4.7h.9v.9h-.9zM79.6 3.8h.9v.9h-.9zM75.4 5.4h.9v.9h-.9zM56.8 15.3h.9v.9h-.9zM89.4 1.5h.9v.9h-.9zM19.4 1.2h.9v.9h-.9zM34.3 2.0h.9v.9h-.9zM98.9 3.6h.9v.9h-.9zM58.4 1.6h.9v.9h-.9zM57.1 2.0h.9v.9h-.9zM8.7 1.8h.9v.9h-.9zM61.3 6.6h.9v.9h-.9zM31.4 2.8h.9v.9h-.9zM41.6 9.3h.9v.9h-.9zM43.5 3.4h.9v.9h-.9zM13.4 1.1h.9v.9h-.9zM98.1 2.7h.9v.9h-.9zM22.8 5.9h.9v.9h-.9zM28.0 3.8h.9v.9h-.9zM67.4 2.0h.9v.9h-.9zM59.8 2.5h.9v.9h-.9zM75.3 1.7h.9v.9h-.9zM29.2 3.7h.9v.9h-.9zM46.9 2.6h.9v.9h-.9zM43.7 9.0h.9v.9h-.9zM28.9 3.3h.9v.9h-.9zM73.7 0.8h.9v.9h-.9zM51.9 1.3h.9v.9h-.9zM35.4 2.0h.9v.9h-.9zM46.0 7.7h.9v.9h-.9zM31.1 6.1h.9v.9h-.9zM96.1 3.2h.9v.9h-.9zM54.5 4.5h.9v.9h-.9zM87.9 1.4h.9v.9h-.9zM37.8 4.8h.9v.9h-.9zM50.3 0.8h.9v.9h-.9zM54.1 1.5h.9v.9h-.9zM57.9 5.3h.9v.9h-.9zM81.5 2.9h.9v.9h-.9zM81.9 2.9h.9v.9h-.9zM52.4 1.0h.9v.9h-.9zM24.3 3.1h.9v.9h-.9zM46.4 3.0h.9v.9h-.9zM72.8 3.5h.9v.9h-.9zM15.1 6.5h.9v.9h-.9zM76.8 7.0h.9v.9h-.9zM57.8 7.1h.9v.9h-.9zM52.1 2.9h.9v.9h-.9zM47.6 9.9h.9v.9h-.9zM33.3 4.0h.9v.9h-.9zM60.4 10.9h.9v.9h-.9zM53.9 2.6h.9v.9h-.9zM46.4 4.4h.9v.9h-.9zM59.3 1.5h.9v.9h-.9zM1.3 2.8h.9v.9h-.9zM26.2 2.9h.9v.9h-.9zM71.8 7.3h.9v.9h-.9zM1.5 0.8h.9v.9h-.9zM2.8 2.9h.9v.9h-.9zM24.4 6.6h.9v.9h-.9zM8.4 3.1h.9v.9h-.9zM59.4 3.3h.9v.9h-.9zM98.1 1.3h.9v.9h-.9zM17.0 2.3h.9v.9h-.9zM70.0 3.0h.9v.9h-.9zM11.0 3.3h.9v.9h-.9zM16.3 2.6h.9v.9h-.9zM74.5 1.9h.9v.9h-.9zM61.3 3.6h.9v.9h-.9zM32.7 1.7h.9v.9h-.9zM37.5 4.2h.9v.9h-.9zM46.7 8.5h.9v.9h-.9zM40.0 5.3h.9v.9h-.9zM63.1 1.7h.9v.9h-.9zM50.8 10.7h.9v.9h-.9zM21.1 5.6h.9v.9h-.9zM65.2 2.1h.9v.9h-.9zM97.9 1.5h.9v.9h-.9zM31.2 5.4h.9v.9h-.9zM54.4 9.0h.9v.9h-.9zM8.0 1.7h.9v.9h-.9zM43.5 5.1h.9v.9h-.9zM53.8 4.4h.9v.9h-.9zM95.6 3.7h.9v.9h-.9zM62.1 3.2h.9v.9h-.9zM47.2 5.5h.9v.9h-.9zM87.9 0.7h.9v.9h-.9zM4.6 1.4h.9v.9h-.9zM71.4 6.4h.9v.9h-.9zM52.6 5.1h.9v.9h-.9zM44.2 9.0h.9v.9h-.9zM48.4 1.7h.9v.9h-.9zM4.5 3.2h.9v.9h-.9zM40.0 7.5h.9v.9h-.9zM27.3 3.6h.9v.9h-.9zM34.5 2.5h.9v.9h-.9zM7.7 4.1h.9v.9h-.9zM45.8 7.0h.9v.9h-.9zM72.5 0.8h.9v.9h-.9zM57.4 10.6h.9v.9h-.9zM2.3 3.3h.9v.9h-.9zM67.4 4.2h.9v.9h-.9zM49.3 4.9h.9v.9h-.9zM97.8 1.7h.9v.9h-.9zM77.0 1.7h.9v.9h-.9zM30.5 2.3h.9v.9h-.9zM14.3 4.4h.9v.9h-.9zM33.0 3.2h.9v.9h-.9zM98.4 2.3h.9v.9h-.9zM99.2 1.3h.9v.9h-.9zM70.1 5.6h.9v.9h-.9zM41.7 1.5h.9v.9h-.9zM40.7 11.6h.9v.9h-.9zM84.6 0.9h.9v.9h-.9zM56.9 5.5h.9v.9h-.9zM10.6 1.0h.9v.9h-.9zM71.6 2.0h.9v.9h-.9zM42.4 3.3h.9v.9h-.9zM60.7 7.4h.9v.9h-.9zM56.6 3.0h.9v.9h-.9zM86.2 1.6h.9v.9h-.9zM59.5 2.2h.9v.9h-.9zM51.2 3.9h.9v.9h-.9zM48.5 1.9h.9v.9h-.9zM30.3 3.6h.9v.9h-.9zM78.4 0.8h.9v.9h-.9zM50.9 1.7h.9v.9h-.9zM22.9 1.9h.9v.9h-.9zM52.7 1.7h.9v.9h-.9zM1.6 0.8h.9v.9h-.9zM1.2 2.3h.9v.9h-.9zM25.0 1.9h.9v.9h-.9zM32.9 3.5h.9v.9h-.9zM83.5 0.9h.9v.9h-.9zM24.0 3.5h.9v.9h-.9zM40.0 1.8h.9v.9h-.9zM56.8 2.7h.9v.9h-.9zM56.3 3.1h.9v.9h-.9zM59.9 4.3h.9v.9h-.9zM30.5 2.0h.9v.9h-.9zM83.5 1.2h.9v.9h-.9zM55.8 2.1h.9v.9h-.9zM57.5 5.5h.9v.9h-.9zM85.7 2.2h.9v.9h-.9zM93.2 3.4h.9v.9h-.9zM57.6 1.9h.9v.9h-.9zM10.9 1.7h.9v.9h-.9zM54.0 3.8h.9v.9h-.9zM64.1 3.3h.9v.9h-.9zM35.7 0.9h.9v.9h-.9zM17.7 2.1h.9v.9h-.9zM15.5 2.3h.9v.9h-.9zM57.4 2.2h.9v.9h-.9zM59.3 2.0h.9v.9h-.9zM3.6 2.4h.9v.9h-.9zM62.0 8.7h.9v.9h-.9zM59.0 3.7h.9v.9h-.9zM34.5 3.6h.9v.9h-.9zM54.2 2.0h.9v.9h-.9zM77.8 1.3h.9v.9h-.9zM71.6 5.2h.9v.9h-.9zM19.6 0.9h.9v.9h-.9zM44.3 3.3h.9v.9h-.9zM78.0 1.4h.9v.9h-.9zM43.0 6.3h.9v.9h-.9zM42.9 17.7h.9v.9h-.9zM54.4 5.3h.9v.9h-.9zM12.5 1.0h.9v.9h-.9zM36.2 4.3h.9v.9h-.9zM31.4 1.2h.9v.9h-.9zM48.7 2.9h.9v.9h-.9zM35.3 1.5h.9v.9h-.9zM53.2 2.3h.9v.9h-.9zM56.1 2.0h.9v.9h-.9zM47.6 6.4h.9v.9h-.9zM74.1 5.4h.9v.9h-.9zM14.1 0.8h.9v.9h-.9zM37.3 3.3h.9v.9h-.9zM59.8 7.4h.9v.9h-.9zM58.3 5.6h.9v.9h-.9zM33.8 1.4h.9v.9h-.9zM54.2 8.7h.9v.9h-.9zM74.4 1.4h.9v.9h-.9zM64.3 2.2h.9v.9h-.9zM28.1 6.6h.9v.9h-.9zM52.7 5.7h.9v.9h-.9zM97.6 1.5h.9v.9h-.9zM57.8 6.0h.9v.9h-.9zM58.0 3.1h.9v.9h-.9zM88.7 3.7h.9v.9h-.9zM81.2 5.2h.9v.9h-.9zM26.4 1.7h.9v.9h-.9zM49.9 3.0h.9v.9h-.9zM53.4 11.8h.9v.9h-.9zM48.3 4.2h.9v.9h-.9zM11.6 1.0h.9v.9h-.9zM86.5 4.2h.9v.9h-.9zM49.3 9.0h.9v.9h-.9zM86.9 1.4h.9v.9h-.9zM24.7 2.6h.9v.9h-.9zM46.3 4.2h.9v.9h-.9zM14.9 1.2h.9v.9h-.9zM83.1 3.2h.9v.9h-.9zM91.4 3.4h.9v.9h-.9zM39.3 3.2h.9v.9h-.9zM54.3 3.5h.9v.9h-.9zM96.3 1.2h.9v.9h-.9zM43.3 1.6h.9v.9h-.9zM52.0 1.3h.9v.9h-.9zM98.0 1.7h.9v.9h-.9zM61.2 5.4h.9v.9h-.9zM92.2 2.2h.9v.9h-.9zM87.4 0.8h.9v.9h-.9zM8.5 1.2h.9v.9h-.9zM96.7 2.3h.9v.9h-.9zM51.8 5.7h.9v.9h-.9zM10.7 2.2h.9v.9h-.9zM82.8 1.8h.9v.9h-.9zM56.0 2.7h.9v.9h-.9zM26.9 5.2h.9v.9h-.9zM18.7 1.8h.9v.9h-.9zM44.3 1.3h.9v.9h-.9zM32.5 2.6h.9v.9h-.9zM13.8 1.2h.9v.9h-.9zM28.0 6.4h.9v.9h-.9zM2.0 1.9h.9v.9h-.9zM86.4 0.9h.9v.9h-.9zM79.1 3.1h.9v.9h-.9zM38.1 7.8h.9v.9h-.9zM51.3 1.8h.9v.9h-.9zM22.9 3.5h.9v.9h-.9zM57.2 2.1h.9v.9h-.9zM79.4 2.8h.9v.9h-.9zM46.2 4.7h.9v.9h-.9zM85.3 1.4h.9v.9h-.9zM43.8 10.3h.9v.9h-.9zM28.4 3.0h.9v.9h-.9z"/><path fill="#4d8af5" d="M51.7 7.6h.9v.9h-.9zM48.9 1.2h.9v.9h-.9zM50.8 11.6h.9v.9h-.9zM50.0 18.2h.9v.9h-.9zM51.7 10.7h.9v.9h-.9zM49.9 6.2h.9v.9h-.9zM49.9 11.6h.9v.9h-.9zM49.8 17.0h.9v.9h-.9zM50.4 11.4h.9v.9h-.9zM50.0 18.5h.9v.9h-.9zM51.1 19.9h.9v.9h-.9zM51.2 2.3h.9v.9h-.9zM50.2 14.2h.9v.9h-.9zM52.4 15.2h.9v.9h-.9zM50.8 7.9h.9v.9h-.9zM49.1 4.2h.9v.9h-.9zM51.0 8.5h.9v.9h-.9zM50.8 13.2h.9v.9h-.9zM49.0 3.0h.9v.9h-.9zM50.7 1.5h.9v.9h-.9zM51.3 14.4h.9v.9h-.9zM48.5 12.6h.9v.9h-.9zM49.5 20.3h.9v.9h-.9zM49.3 6.8h.9v.9h-.9zM50.7 10.6h.9v.9h-.9zM51.6 0.8h.9v.9h-.9zM50.1 8.3h.9v.9h-.9zM51.0 11.6h.9v.9h-.9zM51.8 10.9h.9v.9h-.9zM52.0 2.7h.9v.9h-.9zM49.8 1.4h.9v.9h-.9zM50.1 14.6h.9v.9h-.9zM49.2 11.4h.9v.9h-.9zM51.6 18.5h.9v.9h-.9zM50.7 13.6h.9v.9h-.9zM51.0 20.0h.9v.9h-.9zM50.6 12.4h.9v.9h-.9zM51.3 20.4h.9v.9h-.9zM51.8 19.1h.9v.9h-.9zM49.4 2.7h.9v.9h-.9zM49.1 10.6h.9v.9h-.9zM50.8 3.9h.9v.9h-.9zM49.7 19.2h.9v.9h-.9zM50.5 2.1h.9v.9h-.9zM50.4 12.6h.9v.9h-.9zM51.8 19.4h.9v.9h-.9zM50.1 3.0h.9v.9h-.9zM49.9 7.8h.9v.9h-.9z"/><path fill="#4d8af5" d="M49.6 89.9h.9v.9h-.9zM57.4 98.1h.9v.9h-.9zM53.0 102.8h.9v.9h-.9zM50.8 109.5h.9v.9h-.9zM47.7 108.6h.9v.9h-.9zM56.2 100.1h.9v.9h-.9zM49.2 88.1h.9v.9h-.9zM58.8 104.3h.9v.9h-.9zM64.1 100.0h.9v.9h-.9zM44.0 109.5h.9v.9h-.9zM50.7 103.2h.9v.9h-.9zM45.6 104.5h.9v.9h-.9zM51.4 96.9h.9v.9h-.9zM51.0 104.6h.9v.9h-.9zM53.4 98.6h.9v.9h-.9zM54.9 103.1h.9v.9h-.9zM53.0 111.3h.9v.9h-.9zM51.0 92.9h.9v.9h-.9zM48.1 88.2h.9v.9h-.9zM56.5 98.6h.9v.9h-.9zM47.1 87.2h.9v.9h-.9zM45.3 104.3h.9v.9h-.9zM45.7 103.3h.9v.9h-.9zM53.8 99.6h.9v.9h-.9zM54.9 89.4h.9v.9h-.9zM53.7 94.1h.9v.9h-.9zM45.1 99.3h.9v.9h-.9zM44.3 104.5h.9v.9h-.9zM50.8 100.4h.9v.9h-.9zM50.1 86.6h.9v.9h-.9zM52.3 111.9h.9v.9h-.9zM48.0 109.6h.9v.9h-.9zM47.1 108.2h.9v.9h-.9zM52.4 93.4h.9v.9h-.9zM42.7 101.7h.9v.9h-.9zM49.2 105.3h.9v.9h-.9zM60.6 100.1h.9v.9h-.9zM53.2 105.7h.9v.9h-.9zM47.5 96.7h.9v.9h-.9zM58.4 95.4h.9v.9h-.9zM56.3 103.8h.9v.9h-.9zM40.5 98.7h.9v.9h-.9zM48.9 87.8h.9v.9h-.9zM48.4 95.3h.9v.9h-.9zM44.7 98.9h.9v.9h-.9zM51.5 92.7h.9v.9h-.9zM56.8 94.9h.9v.9h-.9zM66.8 110.4h.9v.9h-.9zM44.5 93.2h.9v.9h-.9zM54.4 99.4h.9v.9h-.9zM52.1 87.9h.9v.9h-.9zM58.9 99.0h.9v.9h-.9zM48.5 95.5h.9v.9h-.9zM51.7 93.2h.9v.9h-.9zM49.5 108.0h.9v.9h-.9zM66.3 108.3h.9v.9h-.9zM56.6 102.8h.9v.9h-.9zM45.0 96.1h.9v.9h-.9zM53.8 99.7h.9v.9h-.9zM55.5 108.6h.9v.9h-.9zM49.2 86.2h.9v.9h-.9zM44.7 106.2h.9v.9h-.9zM47.2 87.9h.9v.9h-.9zM52.7 88.0h.9v.9h-.9zM47.7 98.3h.9v.9h-.9zM54.2 111.3h.9v.9h-.9zM54.2 87.6h.9v.9h-.9zM50.3 100.6h.9v.9h-.9zM46.7 105.8h.9v.9h-.9zM56.8 111.2h.9v.9h-.9zM38.6 110.6h.9v.9h-.9zM39.2 104.6h.9v.9h-.9zM46.8 107.0h.9v.9h-.9zM48.7 102.4h.9v.9h-.9zM48.2 94.8h.9v.9h-.9zM55.1 94.5h.9v.9h-.9zM45.1 93.6h.9v.9h-.9zM53.1 111.8h.9v.9h-.9zM51.0 94.5h.9v.9h-.9zM53.0 88.0h.9v.9h-.9zM49.2 96.1h.9v.9h-.9zM40.7 108.2h.9v.9h-.9zM49.1 97.4h.9v.9h-.9zM54.3 98.0h.9v.9h-.9zM49.4 99.7h.9v.9h-.9zM52.3 98.4h.9v.9h-.9zM52.8 99.2h.9v.9h-.9zM48.4 106.8h.9v.9h-.9zM51.6 110.3h.9v.9h-.9zM51.2 89.6h.9v.9h-.9zM49.3 102.9h.9v.9h-.9zM50.3 89.8h.9v.9h-.9zM57.3 105.6h.9v.9h-.9zM46.3 97.3h.9v.9h-.9zM53.1 99.5h.9v.9h-.9zM52.9 93.3h.9v.9h-.9zM49.9 89.4h.9v.9h-.9zM45.4 100.3h.9v.9h-.9zM53.9 87.0h.9v.9h-.9zM41.3 103.6h.9v.9h-.9zM57.5 93.8h.9v.9h-.9zM48.1 97.3h.9v.9h-.9zM54.9 93.3h.9v.9h-.9zM42.4 103.4h.9v.9h-.9zM53.8 93.6h.9v.9h-.9zM43.2 97.9h.9v.9h-.9zM47.2 103.0h.9v.9h-.9zM52.5 97.2h.9v.9h-.9zM51.3 89.8h.9v.9h-.9zM52.5 90.8h.9v.9h-.9zM56.2 94.9h.9v.9h-.9zM51.1 109.6h.9v.9h-.9zM53.0 90.8h.9v.9h-.9zM48.8 89.8h.9v.9h-.9zM46.0 92.5h.9v.9h-.9zM47.2 107.1h.9v.9h-.9zM45.1 101.8h.9v.9h-.9zM48.1 103.1h.9v.9h-.9zM51.2 95.5h.9v.9h-.9zM42.9 110.6h.9v.9h-.9zM53.4 88.3h.9v.9h-.9zM54.7 106.1h.9v.9h-.9zM47.3 95.7h.9v.9h-.9zM50.4 99.3h.9v.9h-.9zM52.6 89.3h.9v.9h-.9zM35.1 103.9h.9v.9h-.9zM49.4 111.0h.9v.9h-.9zM63.4 108.7h.9v.9h-.9zM48.8 86.6h.9v.9h-.9zM56.8 89.4h.9v.9h-.9zM48.7 102.0h.9v.9h-.9zM44.9 102.1h.9v.9h-.9zM51.8 89.8h.9v.9h-.9zM50.1 100.3h.9v.9h-.9zM54.1 108.6h.9v.9h-.9zM53.8 100.9h.9v.9h-.9zM47.3 101.0h.9v.9h-.9zM51.8 93.2h.9v.9h-.9zM46.9 102.8h.9v.9h-.9zM49.5 100.4h.9v.9h-.9zM52.3 98.7h.9v.9h-.9zM52.0 99.6h.9v.9h-.9zM48.4 90.8h.9v.9h-.9zM51.5 93.9h.9v.9h-.9zM46.5 102.5h.9v.9h-.9zM54.0 86.8h.9v.9h-.9zM54.5 98.9h.9v.9h-.9zM43.4 88.9h.9v.9h-.9zM52.3 96.2h.9v.9h-.9zM44.8 100.5h.9v.9h-.9z"/><path fill="#4fe0dc" d="M52.0 87.1h.9v.9h-.9zM44.6 109.0h.9v.9h-.9zM48.7 93.4h.9v.9h-.9zM56.5 90.9h.9v.9h-.9zM47.0 95.8h.9v.9h-.9zM46.9 101.7h.9v.9h-.9zM49.9 86.9h.9v.9h-.9zM54.8 105.1h.9v.9h-.9zM53.2 86.4h.9v.9h-.9zM52.4 86.6h.9v.9h-.9zM57.7 101.9h.9v.9h-.9zM45.4 111.8h.9v.9h-.9zM48.0 86.3h.9v.9h-.9zM35.5 110.9h.9v.9h-.9zM50.9 87.1h.9v.9h-.9zM45.7 107.7h.9v.9h-.9zM51.0 96.6h.9v.9h-.9zM48.8 88.0h.9v.9h-.9zM48.4 104.2h.9v.9h-.9zM48.8 90.5h.9v.9h-.9zM42.4 104.5h.9v.9h-.9zM47.3 110.7h.9v.9h-.9zM57.1 96.3h.9v.9h-.9zM56.1 109.2h.9v.9h-.9zM41.9 101.6h.9v.9h-.9zM58.9 92.8h.9v.9h-.9zM39.6 110.7h.9v.9h-.9zM53.3 94.8h.9v.9h-.9zM41.0 107.8h.9v.9h-.9zM44.0 106.9h.9v.9h-.9zM52.4 106.7h.9v.9h-.9zM38.7 103.0h.9v.9h-.9zM49.2 86.8h.9v.9h-.9zM49.4 86.3h.9v.9h-.9zM51.2 107.9h.9v.9h-.9zM52.0 88.3h.9v.9h-.9zM49.0 89.5h.9v.9h-.9zM47.6 105.6h.9v.9h-.9zM45.3 101.5h.9v.9h-.9zM56.6 100.4h.9v.9h-.9zM48.5 100.0h.9v.9h-.9zM44.1 98.0h.9v.9h-.9zM52.9 88.9h.9v.9h-.9zM59.9 104.0h.9v.9h-.9zM46.6 100.1h.9v.9h-.9zM52.1 95.2h.9v.9h-.9zM51.9 100.0h.9v.9h-.9zM53.6 108.9h.9v.9h-.9zM47.4 105.5h.9v.9h-.9zM37.1 107.0h.9v.9h-.9z"/></svg></g>
<rect x="204.4" y="361.5" width="100.4" height="113.0" fill="none" stroke="#3a3a3a" stroke-width="1.05"/>
<line x1="202.6" y1="461.94" x2="204.4" y2="461.94" stroke="#3a3a3a" stroke-width="0.7"/>
<text x="202.4" y="464.9" font-size="8.3" text-anchor="end" font-weight="normal" fill="#1a1a1a" >0</text>
<line x1="202.6" y1="449.39" x2="204.4" y2="449.39" stroke="#3a3a3a" stroke-width="0.7"/>
<text x="202.4" y="452.4" font-size="8.3" text-anchor="end" font-weight="normal" fill="#1a1a1a" >5</text>
<line x1="202.6" y1="436.83" x2="204.4" y2="436.83" stroke="#3a3a3a" stroke-width="0.7"/>
<text x="202.4" y="439.8" font-size="8.3" text-anchor="end" font-weight="normal" fill="#1a1a1a" >10</text>
<line x1="202.6" y1="424.28" x2="204.4" y2="424.28" stroke="#3a3a3a" stroke-width="0.7"/>
<text x="202.4" y="427.3" font-size="8.3" text-anchor="end" font-weight="normal" fill="#1a1a1a" >15</text>
<line x1="202.6" y1="411.72" x2="204.4" y2="411.72" stroke="#3a3a3a" stroke-width="0.7"/>
<text x="202.4" y="414.7" font-size="8.3" text-anchor="end" font-weight="normal" fill="#1a1a1a" >20</text>
<line x1="202.6" y1="399.17" x2="204.4" y2="399.17" stroke="#3a3a3a" stroke-width="0.7"/>
<text x="202.4" y="402.2" font-size="8.3" text-anchor="end" font-weight="normal" fill="#1a1a1a" >25</text>
<line x1="202.6" y1="386.61" x2="204.4" y2="386.61" stroke="#3a3a3a" stroke-width="0.7"/>
<text x="202.4" y="389.6" font-size="8.3" text-anchor="end" font-weight="normal" fill="#1a1a1a" >30</text>
<line x1="202.6" y1="374.06" x2="204.4" y2="374.06" stroke="#3a3a3a" stroke-width="0.7"/>
<text x="202.4" y="377.1" font-size="8.3" text-anchor="end" font-weight="normal" fill="#1a1a1a" >35</text>
<line x1="217.32" y1="474.5" x2="217.32" y2="476.3" stroke="#3a3a3a" stroke-width="0.7"/>
<text x="217.3" y="482.8" font-size="8.3" text-anchor="middle" font-weight="normal" fill="#1a1a1a" >15</text>
<line x1="229.75" y1="474.5" x2="229.75" y2="476.3" stroke="#3a3a3a" stroke-width="0.7"/>
<text x="229.7" y="482.8" font-size="8.3" text-anchor="middle" font-weight="normal" fill="#1a1a1a" >10</text>
<line x1="242.17" y1="474.5" x2="242.17" y2="476.3" stroke="#3a3a3a" stroke-width="0.7"/>
<text x="242.2" y="482.8" font-size="8.3" text-anchor="middle" font-weight="normal" fill="#1a1a1a" >5</text>
<line x1="254.60" y1="474.5" x2="254.60" y2="476.3" stroke="#3a3a3a" stroke-width="0.7"/>
<text x="254.6" y="482.8" font-size="8.3" text-anchor="middle" font-weight="normal" fill="#1a1a1a" >0</text>
<line x1="267.03" y1="474.5" x2="267.03" y2="476.3" stroke="#3a3a3a" stroke-width="0.7"/>
<text x="267.0" y="482.8" font-size="8.3" text-anchor="middle" font-weight="normal" fill="#1a1a1a" >5</text>
<line x1="279.45" y1="474.5" x2="279.45" y2="476.3" stroke="#3a3a3a" stroke-width="0.7"/>
<text x="279.5" y="482.8" font-size="8.3" text-anchor="middle" font-weight="normal" fill="#1a1a1a" >10</text>
<line x1="291.88" y1="474.5" x2="291.88" y2="476.3" stroke="#3a3a3a" stroke-width="0.7"/>
<text x="291.9" y="482.8" font-size="8.3" text-anchor="middle" font-weight="normal" fill="#1a1a1a" >15</text>
<text x="260.8" y="357.9" font-size="9.6" text-anchor="middle" fill="#1a1a1a">Na<tspan dy="-3.6" font-size="6.0">+</tspan><tspan dy="3.6">, -150 mV</tspan></text>
<g transform="translate(204.4,506.3) scale(0.9941,1)"><svg width="101" height="113.0" overflow="hidden"><use href="#gr"/><use href="#ol"/><path fill="#4d8af5" d="M34.1 1.5h.9v.9h-.9zM48.0 8.9h.9v.9h-.9zM61.2 5.5h.9v.9h-.9zM53.5 9.2h.9v.9h-.9zM35.3 7.3h.9v.9h-.9zM91.4 1.2h.9v.9h-.9zM54.8 3.2h.9v.9h-.9zM21.2 1.1h.9v.9h-.9zM84.8 1.3h.9v.9h-.9zM51.3 0.8h.9v.9h-.9zM31.2 3.3h.9v.9h-.9zM59.9 2.9h.9v.9h-.9zM52.2 1.7h.9v.9h-.9zM45.0 5.1h.9v.9h-.9zM75.1 6.0h.9v.9h-.9zM19.3 2.3h.9v.9h-.9zM52.6 3.3h.9v.9h-.9zM46.8 8.8h.9v.9h-.9zM25.9 3.5h.9v.9h-.9zM46.7 10.8h.9v.9h-.9zM31.1 1.8h.9v.9h-.9zM65.5 10.5h.9v.9h-.9zM31.8 5.7h.9v.9h-.9zM12.8 1.5h.9v.9h-.9zM49.2 1.4h.9v.9h-.9zM54.6 7.2h.9v.9h-.9zM13.2 3.2h.9v.9h-.9zM66.1 4.1h.9v.9h-.9zM49.2 9.7h.9v.9h-.9zM55.9 4.4h.9v.9h-.9zM66.8 5.3h.9v.9h-.9zM57.3 6.1h.9v.9h-.9zM20.3 2.2h.9v.9h-.9zM41.2 11.8h.9v.9h-.9zM84.4 2.3h.9v.9h-.9zM42.5 4.5h.9v.9h-.9zM29.2 5.2h.9v.9h-.9zM59.1 5.1h.9v.9h-.9zM73.0 1.5h.9v.9h-.9zM47.4 7.2h.9v.9h-.9zM24.2 1.8h.9v.9h-.9zM51.3 1.0h.9v.9h-.9zM21.3 3.7h.9v.9h-.9zM89.1 3.0h.9v.9h-.9zM75.4 1.5h.9v.9h-.9zM92.9 2.7h.9v.9h-.9zM65.2 5.4h.9v.9h-.9zM44.2 5.9h.9v.9h-.9zM46.0 2.7h.9v.9h-.9zM60.7 4.4h.9v.9h-.9zM71.6 8.7h.9v.9h-.9zM83.4 0.7h.9v.9h-.9zM79.3 9.1h.9v.9h-.9zM57.9 18.0h.9v.9h-.9zM49.1 1.9h.9v.9h-.9zM26.8 6.3h.9v.9h-.9zM26.7 0.7h.9v.9h-.9zM64.5 8.3h.9v.9h-.9zM29.7 1.2h.9v.9h-.9zM67.8 1.1h.9v.9h-.9zM55.4 8.5h.9v.9h-.9zM26.1 1.0h.9v.9h-.9zM46.8 5.2h.9v.9h-.9zM92.8 3.8h.9v.9h-.9zM13.1 2.9h.9v.9h-.9zM47.2 4.0h.9v.9h-.9zM27.1 4.6h.9v.9h-.9zM95.3 2.5h.9v.9h-.9zM59.5 10.5h.9v.9h-.9zM44.2 1.3h.9v.9h-.9zM55.4 10.0h.9v.9h-.9zM46.0 4.0h.9v.9h-.9zM49.2 10.6h.9v.9h-.9zM24.7 1.1h.9v.9h-.9zM45.3 0.8h.9v.9h-.9zM88.6 2.7h.9v.9h-.9zM69.8 3.4h.9v.9h-.9zM68.8 4.7h.9v.9h-.9zM39.9 1.8h.9v.9h-.9zM90.3 2.7h.9v.9h-.9zM57.1 8.6h.9v.9h-.9zM98.5 2.3h.9v.9h-.9zM19.4 1.1h.9v.9h-.9zM59.9 2.1h.9v.9h-.9zM23.5 5.2h.9v.9h-.9zM60.9 2.2h.9v.9h-.9zM31.4 2.6h.9v.9h-.9zM60.6 4.1h.9v.9h-.9zM19.2 3.9h.9v.9h-.9zM70.7 4.2h.9v.9h-.9zM61.3 12.4h.9v.9h-.9zM17.1 1.2h.9v.9h-.9zM50.5 2.1h.9v.9h-.9zM26.0 4.5h.9v.9h-.9zM13.1 1.2h.9v.9h-.9zM57.4 2.7h.9v.9h-.9zM79.8 1.2h.9v.9h-.9zM47.2 6.7h.9v.9h-.9zM81.8 3.3h.9v.9h-.9zM5.6 1.8h.9v.9h-.9zM47.3 0.9h.9v.9h-.9zM64.7 1.7h.9v.9h-.9zM66.6 1.8h.9v.9h-.9zM40.2 3.9h.9v.9h-.9zM82.0 2.6h.9v.9h-.9zM88.3 3.0h.9v.9h-.9zM29.2 1.4h.9v.9h-.9zM51.2 10.3h.9v.9h-.9zM51.9 0.8h.9v.9h-.9zM52.0 9.1h.9v.9h-.9zM51.1 5.4h.9v.9h-.9zM34.9 3.8h.9v.9h-.9zM38.0 12.5h.9v.9h-.9zM55.6 11.3h.9v.9h-.9zM26.5 1.6h.9v.9h-.9zM64.3 6.6h.9v.9h-.9zM99.5 2.2h.9v.9h-.9zM68.5 4.9h.9v.9h-.9zM69.5 8.4h.9v.9h-.9zM73.6 1.9h.9v.9h-.9zM58.6 6.2h.9v.9h-.9zM58.0 2.8h.9v.9h-.9zM16.9 1.0h.9v.9h-.9zM40.6 5.1h.9v.9h-.9zM51.0 4.7h.9v.9h-.9zM65.3 3.9h.9v.9h-.9zM51.0 12.6h.9v.9h-.9zM80.7 1.9h.9v.9h-.9zM60.1 4.6h.9v.9h-.9zM69.6 5.3h.9v.9h-.9zM83.7 1.8h.9v.9h-.9zM42.7 1.1h.9v.9h-.9zM63.6 7.2h.9v.9h-.9zM96.7 0.8h.9v.9h-.9zM21.2 2.0h.9v.9h-.9zM55.3 3.3h.9v.9h-.9zM19.6 2.9h.9v.9h-.9zM82.5 2.9h.9v.9h-.9zM14.8 5.6h.9v.9h-.9zM53.0 4.0h.9v.9h-.9zM23.0 2.8h.9v.9h-.9zM57.5 1.6h.9v.9h-.9zM23.3 1.1h.9v.9h-.9zM28.5 2.0h.9v.9h-.9zM80.8 4.2h.9v.9h-.9zM46.9 5.9h.9v.9h-.9zM76.3 1.4h.9v.9h-.9zM5.2 3.1h.9v.9h-.9zM49.8 1.8h.9v.9h-.9zM62.6 4.3h.9v.9h-.9zM29.2 10.0h.9v.9h-.9zM23.2 1.5h.9v.9h-.9zM70.2 2.1h.9v.9h-.9zM42.3 6.6h.9v.9h-.9zM31.7 0.8h.9v.9h-.9zM17.2 1.8h.9v.9h-.9zM43.7 1.2h.9v.9h-.9zM22.6 5.9h.9v.9h-.9zM85.9 2.4h.9v.9h-.9zM57.2 3.5h.9v.9h-.9zM68.7 5.9h.9v.9h-.9zM26.3 4.0h.9v.9h-.9zM99.1 2.6h.9v.9h-.9zM10.0 1.7h.9v.9h-.9zM47.0 11.5h.9v.9h-.9zM49.0 1.3h.9v.9h-.9zM27.8 7.8h.9v.9h-.9zM62.6 3.8h.9v.9h-.9zM65.4 3.5h.9v.9h-.9zM54.8 2.9h.9v.9h-.9zM52.7 4.4h.9v.9h-.9zM64.1 2.9h.9v.9h-.9zM15.3 1.1h.9v.9h-.9zM66.9 7.4h.9v.9h-.9zM42.6 9.7h.9v.9h-.9zM42.2 3.0h.9v.9h-.9zM14.0 1.0h.9v.9h-.9zM52.8 2.5h.9v.9h-.9zM58.1 1.4h.9v.9h-.9zM44.7 2.5h.9v.9h-.9zM6.8 6.4h.9v.9h-.9zM18.8 3.1h.9v.9h-.9zM59.7 1.4h.9v.9h-.9zM42.8 12.5h.9v.9h-.9zM84.8 2.8h.9v.9h-.9zM43.0 7.3h.9v.9h-.9zM47.9 7.4h.9v.9h-.9zM59.5 7.1h.9v.9h-.9zM61.8 4.7h.9v.9h-.9zM26.3 1.5h.9v.9h-.9zM40.1 5.0h.9v.9h-.9zM35.7 0.9h.9v.9h-.9zM82.9 1.7h.9v.9h-.9zM94.6 2.8h.9v.9h-.9zM43.5 7.8h.9v.9h-.9zM44.2 12.6h.9v.9h-.9zM56.6 1.5h.9v.9h-.9zM52.5 2.9h.9v.9h-.9zM46.6 5.0h.9v.9h-.9zM62.5 1.7h.9v.9h-.9zM73.7 2.5h.9v.9h-.9zM34.9 4.0h.9v.9h-.9zM8.4 0.9h.9v.9h-.9zM60.2 9.4h.9v.9h-.9zM75.4 8.5h.9v.9h-.9zM30.1 4.4h.9v.9h-.9zM54.3 6.0h.9v.9h-.9zM63.7 6.4h.9v.9h-.9zM33.0 4.1h.9v.9h-.9zM65.5 1.0h.9v.9h-.9zM69.3 2.6h.9v.9h-.9zM59.6 11.8h.9v.9h-.9zM53.2 17.5h.9v.9h-.9zM43.7 9.0h.9v.9h-.9zM46.2 2.9h.9v.9h-.9zM54.4 3.7h.9v.9h-.9zM56.4 9.7h.9v.9h-.9zM22.4 1.9h.9v.9h-.9zM52.9 1.4h.9v.9h-.9zM34.4 4.0h.9v.9h-.9zM65.4 1.2h.9v.9h-.9zM24.3 12.6h.9v.9h-.9zM67.0 9.2h.9v.9h-.9zM31.7 1.1h.9v.9h-.9zM58.9 4.0h.9v.9h-.9zM49.4 10.3h.9v.9h-.9zM62.0 6.9h.9v.9h-.9zM75.2 2.4h.9v.9h-.9zM66.7 10.8h.9v.9h-.9zM20.0 8.1h.9v.9h-.9z"/><path fill="#4d8af5" d="M51.0 3.7h.9v.9h-.9zM50.3 7.9h.9v.9h-.9zM52.3 20.5h.9v.9h-.9zM51.2 7.4h.9v.9h-.9zM50.6 18.8h.9v.9h-.9zM51.7 19.6h.9v.9h-.9zM51.4 21.5h.9v.9h-.9zM50.6 11.0h.9v.9h-.9zM50.2 5.4h.9v.9h-.9zM51.0 16.4h.9v.9h-.9zM51.0 13.0h.9v.9h-.9zM51.1 2.2h.9v.9h-.9zM51.1 20.4h.9v.9h-.9zM50.5 21.2h.9v.9h-.9zM49.4 21.5h.9v.9h-.9zM50.7 4.9h.9v.9h-.9zM51.2 14.1h.9v.9h-.9zM49.5 17.2h.9v.9h-.9zM49.8 12.0h.9v.9h-.9zM49.9 20.9h.9v.9h-.9zM51.9 1.9h.9v.9h-.9zM50.0 16.6h.9v.9h-.9zM50.5 9.9h.9v.9h-.9zM51.3 21.1h.9v.9h-.9zM49.2 13.1h.9v.9h-.9zM48.3 17.8h.9v.9h-.9zM49.0 8.0h.9v.9h-.9zM52.3 2.2h.9v.9h-.9zM51.9 20.4h.9v.9h-.9zM51.8 20.9h.9v.9h-.9zM49.9 13.7h.9v.9h-.9zM50.5 5.5h.9v.9h-.9zM49.2 2.5h.9v.9h-.9zM50.5 3.4h.9v.9h-.9zM49.4 12.7h.9v.9h-.9zM50.4 19.4h.9v.9h-.9zM51.3 13.9h.9v.9h-.9zM50.5 10.1h.9v.9h-.9zM48.7 10.4h.9v.9h-.9zM49.6 17.3h.9v.9h-.9zM50.9 19.5h.9v.9h-.9zM50.0 5.4h.9v.9h-.9zM52.0 1.0h.9v.9h-.9zM49.8 7.8h.9v.9h-.9zM48.9 21.9h.9v.9h-.9zM50.3 16.9h.9v.9h-.9zM49.6 18.7h.9v.9h-.9zM51.9 10.0h.9v.9h-.9z"/><path fill="#4d8af5" d="M57.1 93.1h.9v.9h-.9zM45.1 95.8h.9v.9h-.9zM49.6 93.7h.9v.9h-.9zM47.5 87.6h.9v.9h-.9zM43.3 104.1h.9v.9h-.9zM51.0 96.3h.9v.9h-.9zM50.0 89.4h.9v.9h-.9zM47.6 86.5h.9v.9h-.9zM49.0 91.9h.9v.9h-.9zM51.9 99.7h.9v.9h-.9zM50.5 111.0h.9v.9h-.9zM60.1 109.0h.9v.9h-.9zM53.7 99.2h.9v.9h-.9zM54.6 100.0h.9v.9h-.9zM41.4 110.5h.9v.9h-.9zM53.1 103.7h.9v.9h-.9zM48.8 107.4h.9v.9h-.9zM56.9 94.3h.9v.9h-.9zM44.0 111.1h.9v.9h-.9zM44.4 105.6h.9v.9h-.9zM55.6 106.3h.9v.9h-.9zM47.1 87.5h.9v.9h-.9zM48.5 104.7h.9v.9h-.9zM45.0 94.9h.9v.9h-.9zM46.0 95.9h.9v.9h-.9zM55.3 103.7h.9v.9h-.9zM47.6 99.7h.9v.9h-.9zM52.6 98.6h.9v.9h-.9zM47.8 93.4h.9v.9h-.9zM49.0 96.2h.9v.9h-.9zM46.8 111.4h.9v.9h-.9zM49.9 99.1h.9v.9h-.9zM47.9 86.7h.9v.9h-.9zM48.7 96.0h.9v.9h-.9zM49.0 111.5h.9v.9h-.9zM49.2 101.3h.9v.9h-.9zM50.7 92.4h.9v.9h-.9zM49.0 94.8h.9v.9h-.9zM48.0 98.6h.9v.9h-.9zM45.1 93.0h.9v.9h-.9zM47.3 99.5h.9v.9h-.9zM48.6 105.5h.9v.9h-.9zM48.8 103.1h.9v.9h-.9zM51.2 98.6h.9v.9h-.9zM40.4 95.1h.9v.9h-.9zM51.8 108.1h.9v.9h-.9zM54.0 86.1h.9v.9h-.9zM43.3 107.4h.9v.9h-.9zM52.4 98.9h.9v.9h-.9zM51.4 95.7h.9v.9h-.9zM59.4 102.3h.9v.9h-.9zM49.7 87.4h.9v.9h-.9zM59.6 93.4h.9v.9h-.9zM47.1 93.6h.9v.9h-.9zM47.1 110.6h.9v.9h-.9zM54.3 111.5h.9v.9h-.9zM52.2 90.4h.9v.9h-.9zM49.0 97.6h.9v.9h-.9zM61.1 109.0h.9v.9h-.9zM51.8 87.9h.9v.9h-.9zM50.8 94.1h.9v.9h-.9zM47.8 89.5h.9v.9h-.9zM53.0 104.9h.9v.9h-.9zM58.4 111.1h.9v.9h-.9zM49.6 102.7h.9v.9h-.9zM45.5 89.4h.9v.9h-.9zM40.9 109.0h.9v.9h-.9zM53.9 89.6h.9v.9h-.9zM62.1 104.1h.9v.9h-.9zM58.8 105.8h.9v.9h-.9zM51.9 86.6h.9v.9h-.9zM52.1 105.2h.9v.9h-.9zM48.5 86.1h.9v.9h-.9zM59.4 105.1h.9v.9h-.9zM50.4 95.5h.9v.9h-.9zM54.7 94.6h.9v.9h-.9zM39.8 95.5h.9v.9h-.9zM54.3 91.7h.9v.9h-.9zM50.4 97.5h.9v.9h-.9zM48.7 94.1h.9v.9h-.9zM36.6 98.2h.9v.9h-.9zM44.5 108.2h.9v.9h-.9zM54.7 106.9h.9v.9h-.9zM50.9 111.2h.9v.9h-.9zM39.7 107.5h.9v.9h-.9zM59.2 109.9h.9v.9h-.9zM48.9 96.1h.9v.9h-.9zM48.2 86.2h.9v.9h-.9zM50.1 86.0h.9v.9h-.9zM44.1 111.8h.9v.9h-.9zM55.9 86.4h.9v.9h-.9zM51.9 95.4h.9v.9h-.9zM41.6 103.5h.9v.9h-.9zM58.5 98.7h.9v.9h-.9zM57.2 105.8h.9v.9h-.9zM42.1 98.4h.9v.9h-.9zM47.0 98.9h.9v.9h-.9zM42.4 98.4h.9v.9h-.9zM51.5 105.1h.9v.9h-.9zM51.2 94.7h.9v.9h-.9zM44.7 103.5h.9v.9h-.9zM59.0 95.8h.9v.9h-.9zM41.2 106.2h.9v.9h-.9zM47.7 95.9h.9v.9h-.9zM55.4 101.7h.9v.9h-.9zM44.8 86.9h.9v.9h-.9zM48.7 87.7h.9v.9h-.9zM27.8 109.2h.9v.9h-.9zM40.8 104.8h.9v.9h-.9zM50.6 104.7h.9v.9h-.9zM47.3 89.1h.9v.9h-.9zM58.6 108.2h.9v.9h-.9zM46.5 91.7h.9v.9h-.9zM45.6 99.0h.9v.9h-.9zM50.1 98.7h.9v.9h-.9zM57.3 97.9h.9v.9h-.9zM49.2 111.4h.9v.9h-.9zM56.1 109.6h.9v.9h-.9zM57.4 95.9h.9v.9h-.9zM41.9 101.5h.9v.9h-.9zM47.9 93.8h.9v.9h-.9zM43.2 103.6h.9v.9h-.9zM57.0 98.8h.9v.9h-.9zM55.3 102.7h.9v.9h-.9zM50.5 86.1h.9v.9h-.9zM40.1 109.3h.9v.9h-.9zM48.9 107.6h.9v.9h-.9zM34.3 109.2h.9v.9h-.9zM59.3 96.2h.9v.9h-.9zM53.5 104.9h.9v.9h-.9zM46.6 96.9h.9v.9h-.9zM48.0 95.5h.9v.9h-.9zM56.6 108.0h.9v.9h-.9zM55.3 87.6h.9v.9h-.9zM49.9 100.5h.9v.9h-.9zM47.4 102.7h.9v.9h-.9zM62.1 108.7h.9v.9h-.9zM47.3 95.9h.9v.9h-.9zM50.5 92.5h.9v.9h-.9zM45.7 108.2h.9v.9h-.9zM45.5 102.6h.9v.9h-.9zM53.7 90.8h.9v.9h-.9zM50.6 101.0h.9v.9h-.9zM47.6 90.8h.9v.9h-.9zM49.6 92.8h.9v.9h-.9zM43.7 105.2h.9v.9h-.9zM58.7 105.5h.9v.9h-.9zM58.9 95.8h.9v.9h-.9zM52.6 100.3h.9v.9h-.9zM47.7 101.1h.9v.9h-.9z"/><path fill="#4fe0dc" d="M42.0 109.6h.9v.9h-.9zM53.8 86.2h.9v.9h-.9zM49.2 96.6h.9v.9h-.9zM58.3 109.6h.9v.9h-.9zM48.5 86.2h.9v.9h-.9zM44.0 102.2h.9v.9h-.9zM55.2 107.6h.9v.9h-.9zM52.0 89.4h.9v.9h-.9zM47.8 92.5h.9v.9h-.9zM52.1 87.0h.9v.9h-.9zM53.1 99.8h.9v.9h-.9zM53.4 110.4h.9v.9h-.9zM53.7 95.7h.9v.9h-.9zM45.2 102.6h.9v.9h-.9zM54.3 89.9h.9v.9h-.9zM46.8 87.1h.9v.9h-.9zM48.1 89.5h.9v.9h-.9zM50.0 87.2h.9v.9h-.9zM48.1 110.1h.9v.9h-.9zM53.9 104.0h.9v.9h-.9zM52.8 87.4h.9v.9h-.9zM47.0 88.3h.9v.9h-.9zM62.6 109.7h.9v.9h-.9zM44.9 105.6h.9v.9h-.9zM45.3 99.3h.9v.9h-.9zM44.5 103.1h.9v.9h-.9zM50.6 107.8h.9v.9h-.9zM45.4 93.8h.9v.9h-.9zM56.9 111.1h.9v.9h-.9zM46.5 95.0h.9v.9h-.9zM52.0 91.5h.9v.9h-.9zM51.2 95.2h.9v.9h-.9zM47.4 98.4h.9v.9h-.9zM44.5 93.4h.9v.9h-.9zM48.0 89.0h.9v.9h-.9zM53.3 98.6h.9v.9h-.9zM58.6 103.6h.9v.9h-.9zM50.9 91.8h.9v.9h-.9zM54.0 94.5h.9v.9h-.9zM59.6 109.2h.9v.9h-.9zM44.8 96.2h.9v.9h-.9zM52.1 97.9h.9v.9h-.9zM58.5 110.7h.9v.9h-.9zM49.0 88.4h.9v.9h-.9zM53.3 108.0h.9v.9h-.9zM49.2 93.8h.9v.9h-.9zM50.7 104.0h.9v.9h-.9zM53.1 99.4h.9v.9h-.9zM40.7 105.3h.9v.9h-.9zM50.5 92.8h.9v.9h-.9z"/></svg></g>
<rect x="204.4" y="506.3" width="100.4" height="113.0" fill="none" stroke="#3a3a3a" stroke-width="1.05"/>
<line x1="202.6" y1="606.74" x2="204.4" y2="606.74" stroke="#3a3a3a" stroke-width="0.7"/>
<text x="202.4" y="609.7" font-size="8.3" text-anchor="end" font-weight="normal" fill="#1a1a1a" >0</text>
<line x1="202.6" y1="594.19" x2="204.4" y2="594.19" stroke="#3a3a3a" stroke-width="0.7"/>
<text x="202.4" y="597.2" font-size="8.3" text-anchor="end" font-weight="normal" fill="#1a1a1a" >5</text>
<line x1="202.6" y1="581.63" x2="204.4" y2="581.63" stroke="#3a3a3a" stroke-width="0.7"/>
<text x="202.4" y="584.6" font-size="8.3" text-anchor="end" font-weight="normal" fill="#1a1a1a" >10</text>
<line x1="202.6" y1="569.08" x2="204.4" y2="569.08" stroke="#3a3a3a" stroke-width="0.7"/>
<text x="202.4" y="572.1" font-size="8.3" text-anchor="end" font-weight="normal" fill="#1a1a1a" >15</text>
<line x1="202.6" y1="556.52" x2="204.4" y2="556.52" stroke="#3a3a3a" stroke-width="0.7"/>
<text x="202.4" y="559.5" font-size="8.3" text-anchor="end" font-weight="normal" fill="#1a1a1a" >20</text>
<line x1="202.6" y1="543.97" x2="204.4" y2="543.97" stroke="#3a3a3a" stroke-width="0.7"/>
<text x="202.4" y="547.0" font-size="8.3" text-anchor="end" font-weight="normal" fill="#1a1a1a" >25</text>
<line x1="202.6" y1="531.41" x2="204.4" y2="531.41" stroke="#3a3a3a" stroke-width="0.7"/>
<text x="202.4" y="534.4" font-size="8.3" text-anchor="end" font-weight="normal" fill="#1a1a1a" >30</text>
<line x1="202.6" y1="518.86" x2="204.4" y2="518.86" stroke="#3a3a3a" stroke-width="0.7"/>
<text x="202.4" y="521.9" font-size="8.3" text-anchor="end" font-weight="normal" fill="#1a1a1a" >35</text>
<line x1="217.32" y1="619.3" x2="217.32" y2="621.0999999999999" stroke="#3a3a3a" stroke-width="0.7"/>
<text x="217.3" y="627.6" font-size="8.3" text-anchor="middle" font-weight="normal" fill="#1a1a1a" >15</text>
<line x1="229.75" y1="619.3" x2="229.75" y2="621.0999999999999" stroke="#3a3a3a" stroke-width="0.7"/>
<text x="229.7" y="627.6" font-size="8.3" text-anchor="middle" font-weight="normal" fill="#1a1a1a" >10</text>
<line x1="242.17" y1="619.3" x2="242.17" y2="621.0999999999999" stroke="#3a3a3a" stroke-width="0.7"/>
<text x="242.2" y="627.6" font-size="8.3" text-anchor="middle" font-weight="normal" fill="#1a1a1a" >5</text>
<line x1="254.60" y1="619.3" x2="254.60" y2="621.0999999999999" stroke="#3a3a3a" stroke-width="0.7"/>
<text x="254.6" y="627.6" font-size="8.3" text-anchor="middle" font-weight="normal" fill="#1a1a1a" >0</text>
<line x1="267.03" y1="619.3" x2="267.03" y2="621.0999999999999" stroke="#3a3a3a" stroke-width="0.7"/>
<text x="267.0" y="627.6" font-size="8.3" text-anchor="middle" font-weight="normal" fill="#1a1a1a" >5</text>
<line x1="279.45" y1="619.3" x2="279.45" y2="621.0999999999999" stroke="#3a3a3a" stroke-width="0.7"/>
<text x="279.5" y="627.6" font-size="8.3" text-anchor="middle" font-weight="normal" fill="#1a1a1a" >10</text>
<line x1="291.88" y1="619.3" x2="291.88" y2="621.0999999999999" stroke="#3a3a3a" stroke-width="0.7"/>
<text x="291.9" y="627.6" font-size="8.3" text-anchor="middle" font-weight="normal" fill="#1a1a1a" >15</text>
<text x="255.0" y="637.4" font-size="9.5" text-anchor="middle" font-weight="normal" fill="#1a1a1a" >Radius (Å)</text>
<text x="260.8" y="502.7" font-size="9.6" text-anchor="middle" fill="#1a1a1a">K<tspan dy="-3.6" font-size="6.0">+</tspan><tspan dy="3.6">, -150 mV</tspan></text>
<g transform="translate(331.3,361.5) scale(0.9941,1)"><svg width="101" height="113.0" overflow="hidden"><use href="#gr"/><use href="#ol"/><path fill="#4d8af5" d="M93.3 2.9h.9v.9h-.9zM35.4 0.9h.9v.9h-.9zM55.6 1.0h.9v.9h-.9zM68.5 2.2h.9v.9h-.9zM79.0 6.3h.9v.9h-.9zM74.5 2.4h.9v.9h-.9zM45.4 4.9h.9v.9h-.9zM42.3 8.7h.9v.9h-.9zM50.7 5.9h.9v.9h-.9zM81.0 1.5h.9v.9h-.9zM16.7 2.3h.9v.9h-.9zM34.4 1.1h.9v.9h-.9zM28.2 3.5h.9v.9h-.9zM63.7 1.7h.9v.9h-.9zM3.8 1.3h.9v.9h-.9zM45.9 2.5h.9v.9h-.9zM2.2 1.9h.9v.9h-.9zM6.6 0.9h.9v.9h-.9zM40.5 2.6h.9v.9h-.9zM73.4 3.3h.9v.9h-.9zM47.7 2.5h.9v.9h-.9zM70.5 3.3h.9v.9h-.9zM17.0 1.3h.9v.9h-.9zM72.0 5.6h.9v.9h-.9zM31.7 4.7h.9v.9h-.9zM58.0 3.3h.9v.9h-.9zM21.1 1.9h.9v.9h-.9zM92.5 1.2h.9v.9h-.9zM64.4 2.3h.9v.9h-.9zM37.0 3.9h.9v.9h-.9zM94.4 4.5h.9v.9h-.9zM5.7 2.8h.9v.9h-.9zM75.6 3.2h.9v.9h-.9zM29.0 2.2h.9v.9h-.9zM35.9 9.5h.9v.9h-.9zM36.8 5.2h.9v.9h-.9zM67.7 1.2h.9v.9h-.9zM47.6 1.0h.9v.9h-.9zM7.6 1.7h.9v.9h-.9zM11.5 1.7h.9v.9h-.9zM37.0 1.2h.9v.9h-.9zM43.0 4.5h.9v.9h-.9zM72.2 6.1h.9v.9h-.9zM3.3 1.9h.9v.9h-.9zM29.5 2.8h.9v.9h-.9zM22.9 1.4h.9v.9h-.9zM43.0 1.8h.9v.9h-.9zM64.2 2.0h.9v.9h-.9zM93.3 1.0h.9v.9h-.9zM93.6 2.5h.9v.9h-.9zM88.9 1.1h.9v.9h-.9zM30.0 5.0h.9v.9h-.9zM5.3 2.5h.9v.9h-.9zM65.1 4.1h.9v.9h-.9zM39.2 4.0h.9v.9h-.9zM64.8 6.3h.9v.9h-.9zM53.8 9.5h.9v.9h-.9zM47.2 10.1h.9v.9h-.9zM12.5 2.5h.9v.9h-.9zM59.4 7.8h.9v.9h-.9zM68.3 7.6h.9v.9h-.9zM25.4 7.8h.9v.9h-.9zM21.1 1.6h.9v.9h-.9zM48.3 2.8h.9v.9h-.9zM70.3 1.8h.9v.9h-.9zM14.9 1.5h.9v.9h-.9zM10.8 0.9h.9v.9h-.9zM39.5 5.5h.9v.9h-.9zM64.6 2.5h.9v.9h-.9zM61.6 5.2h.9v.9h-.9zM48.0 3.5h.9v.9h-.9zM33.9 4.3h.9v.9h-.9zM67.7 2.2h.9v.9h-.9zM43.4 2.4h.9v.9h-.9zM50.6 4.9h.9v.9h-.9zM6.2 1.1h.9v.9h-.9zM82.6 0.8h.9v.9h-.9zM8.6 1.8h.9v.9h-.9zM52.3 0.8h.9v.9h-.9zM31.5 5.3h.9v.9h-.9zM14.2 0.7h.9v.9h-.9zM73.9 5.7h.9v.9h-.9zM6.5 2.3h.9v.9h-.9zM59.7 0.8h.9v.9h-.9zM34.1 4.1h.9v.9h-.9zM69.7 1.6h.9v.9h-.9zM91.2 1.6h.9v.9h-.9zM35.4 8.4h.9v.9h-.9zM69.1 7.1h.9v.9h-.9zM53.1 1.7h.9v.9h-.9zM32.2 1.8h.9v.9h-.9zM46.8 5.7h.9v.9h-.9zM76.3 1.7h.9v.9h-.9zM30.9 3.3h.9v.9h-.9zM46.7 2.1h.9v.9h-.9zM38.7 4.8h.9v.9h-.9zM96.8 4.4h.9v.9h-.9zM53.6 5.4h.9v.9h-.9zM58.8 2.0h.9v.9h-.9zM34.9 1.8h.9v.9h-.9zM17.8 3.1h.9v.9h-.9zM5.7 2.7h.9v.9h-.9zM79.6 2.0h.9v.9h-.9zM68.3 3.0h.9v.9h-.9zM16.7 1.6h.9v.9h-.9zM64.7 4.8h.9v.9h-.9zM67.2 4.7h.9v.9h-.9zM28.8 4.0h.9v.9h-.9zM47.1 1.1h.9v.9h-.9zM52.6 3.9h.9v.9h-.9zM77.9 4.2h.9v.9h-.9zM36.9 3.0h.9v.9h-.9zM41.0 1.5h.9v.9h-.9zM33.6 1.9h.9v.9h-.9zM93.7 1.2h.9v.9h-.9zM81.2 2.0h.9v.9h-.9zM43.2 2.2h.9v.9h-.9zM6.4 2.0h.9v.9h-.9zM51.4 0.8h.9v.9h-.9zM42.0 3.4h.9v.9h-.9zM47.2 5.3h.9v.9h-.9zM24.4 4.4h.9v.9h-.9zM6.5 1.8h.9v.9h-.9zM57.2 1.1h.9v.9h-.9zM36.9 3.9h.9v.9h-.9zM87.2 4.3h.9v.9h-.9zM55.6 4.0h.9v.9h-.9zM41.3 5.8h.9v.9h-.9zM6.9 3.1h.9v.9h-.9zM87.5 3.1h.9v.9h-.9zM32.9 3.6h.9v.9h-.9zM18.3 2.9h.9v.9h-.9zM34.8 3.2h.9v.9h-.9zM78.6 5.5h.9v.9h-.9zM64.0 3.1h.9v.9h-.9zM19.4 3.6h.9v.9h-.9zM72.3 2.1h.9v.9h-.9zM7.4 4.1h.9v.9h-.9zM49.5 8.9h.9v.9h-.9zM44.7 3.3h.9v.9h-.9zM52.7 10.8h.9v.9h-.9zM58.8 13.3h.9v.9h-.9zM40.5 2.8h.9v.9h-.9zM6.3 1.3h.9v.9h-.9zM27.7 1.8h.9v.9h-.9zM46.8 1.3h.9v.9h-.9zM60.0 2.1h.9v.9h-.9zM45.8 3.5h.9v.9h-.9zM36.9 2.1h.9v.9h-.9zM90.0 2.4h.9v.9h-.9zM62.9 1.0h.9v.9h-.9zM88.4 2.3h.9v.9h-.9zM44.5 1.0h.9v.9h-.9zM81.4 2.7h.9v.9h-.9zM56.9 7.3h.9v.9h-.9zM56.3 4.5h.9v.9h-.9zM61.3 1.2h.9v.9h-.9zM55.4 5.3h.9v.9h-.9zM34.9 5.0h.9v.9h-.9zM39.3 3.2h.9v.9h-.9zM86.4 2.5h.9v.9h-.9zM68.0 2.4h.9v.9h-.9zM91.0 2.5h.9v.9h-.9zM94.8 2.0h.9v.9h-.9zM92.7 1.3h.9v.9h-.9zM59.8 5.8h.9v.9h-.9zM69.8 5.9h.9v.9h-.9zM42.4 3.9h.9v.9h-.9zM36.6 1.4h.9v.9h-.9zM53.9 8.1h.9v.9h-.9zM45.3 5.2h.9v.9h-.9zM70.3 3.7h.9v.9h-.9zM50.3 8.9h.9v.9h-.9zM60.0 4.8h.9v.9h-.9zM40.5 5.1h.9v.9h-.9zM60.9 1.2h.9v.9h-.9zM60.8 3.5h.9v.9h-.9zM2.3 1.7h.9v.9h-.9zM33.6 1.6h.9v.9h-.9zM11.2 4.2h.9v.9h-.9zM32.7 0.7h.9v.9h-.9zM57.5 1.6h.9v.9h-.9zM73.2 2.2h.9v.9h-.9zM11.1 0.8h.9v.9h-.9zM22.0 4.8h.9v.9h-.9zM74.4 1.6h.9v.9h-.9zM51.5 1.9h.9v.9h-.9zM84.8 2.5h.9v.9h-.9zM82.0 2.8h.9v.9h-.9zM35.7 4.3h.9v.9h-.9zM67.3 0.8h.9v.9h-.9zM49.2 1.4h.9v.9h-.9zM76.5 2.7h.9v.9h-.9zM64.4 4.3h.9v.9h-.9zM70.3 1.2h.9v.9h-.9zM60.2 6.2h.9v.9h-.9zM96.9 1.1h.9v.9h-.9zM57.6 2.9h.9v.9h-.9zM32.6 4.7h.9v.9h-.9zM17.9 3.8h.9v.9h-.9zM47.0 1.2h.9v.9h-.9zM41.6 5.3h.9v.9h-.9zM13.2 3.9h.9v.9h-.9zM24.7 2.2h.9v.9h-.9zM54.4 1.4h.9v.9h-.9zM5.6 3.1h.9v.9h-.9zM9.0 1.1h.9v.9h-.9zM30.8 2.9h.9v.9h-.9zM29.3 3.5h.9v.9h-.9zM70.3 0.8h.9v.9h-.9zM37.6 4.4h.9v.9h-.9zM91.5 1.3h.9v.9h-.9zM56.7 1.5h.9v.9h-.9zM16.5 2.0h.9v.9h-.9zM49.3 1.6h.9v.9h-.9zM78.4 0.7h.9v.9h-.9zM29.0 8.0h.9v.9h-.9zM53.1 8.7h.9v.9h-.9zM41.3 3.3h.9v.9h-.9zM52.8 11.4h.9v.9h-.9zM3.5 2.0h.9v.9h-.9zM73.9 7.1h.9v.9h-.9zM38.6 2.1h.9v.9h-.9zM7.4 1.8h.9v.9h-.9zM75.0 1.4h.9v.9h-.9zM89.3 1.7h.9v.9h-.9zM63.6 3.5h.9v.9h-.9zM81.0 2.8h.9v.9h-.9zM59.0 2.2h.9v.9h-.9zM67.2 2.4h.9v.9h-.9zM69.2 3.3h.9v.9h-.9zM82.9 3.2h.9v.9h-.9zM72.6 4.5h.9v.9h-.9zM15.6 2.0h.9v.9h-.9zM33.1 5.8h.9v.9h-.9zM48.3 1.3h.9v.9h-.9zM58.1 1.8h.9v.9h-.9zM81.7 2.0h.9v.9h-.9zM96.2 1.7h.9v.9h-.9zM43.7 3.6h.9v.9h-.9zM25.7 1.9h.9v.9h-.9zM50.4 7.0h.9v.9h-.9zM29.4 1.0h.9v.9h-.9zM93.1 2.8h.9v.9h-.9zM11.2 0.9h.9v.9h-.9zM92.5 0.8h.9v.9h-.9zM71.3 5.5h.9v.9h-.9zM59.7 0.8h.9v.9h-.9zM46.5 4.4h.9v.9h-.9zM55.6 1.1h.9v.9h-.9zM53.2 2.5h.9v.9h-.9zM63.5 5.3h.9v.9h-.9zM66.0 4.2h.9v.9h-.9zM61.0 4.1h.9v.9h-.9zM52.5 8.2h.9v.9h-.9zM96.7 4.2h.9v.9h-.9zM39.8 2.3h.9v.9h-.9zM75.8 4.1h.9v.9h-.9zM67.5 1.9h.9v.9h-.9zM40.4 4.7h.9v.9h-.9zM41.3 4.8h.9v.9h-.9zM25.0 0.8h.9v.9h-.9zM15.2 0.9h.9v.9h-.9zM61.3 6.2h.9v.9h-.9zM70.9 0.9h.9v.9h-.9zM2.6 2.5h.9v.9h-.9zM41.6 3.5h.9v.9h-.9zM36.8 4.4h.9v.9h-.9zM41.6 5.4h.9v.9h-.9zM29.4 2.9h.9v.9h-.9zM13.8 1.4h.9v.9h-.9zM35.8 1.9h.9v.9h-.9zM54.6 7.3h.9v.9h-.9zM14.7 0.9h.9v.9h-.9zM40.4 1.1h.9v.9h-.9zM21.2 3.1h.9v.9h-.9zM69.6 3.3h.9v.9h-.9zM27.2 3.2h.9v.9h-.9zM76.1 2.0h.9v.9h-.9zM54.3 2.8h.9v.9h-.9zM56.1 2.9h.9v.9h-.9zM86.2 1.7h.9v.9h-.9zM58.7 4.9h.9v.9h-.9zM10.2 1.0h.9v.9h-.9zM89.7 4.0h.9v.9h-.9zM58.2 2.0h.9v.9h-.9zM83.1 1.3h.9v.9h-.9zM53.5 3.4h.9v.9h-.9zM21.9 0.9h.9v.9h-.9zM78.4 4.0h.9v.9h-.9zM43.1 2.0h.9v.9h-.9zM30.1 4.2h.9v.9h-.9zM27.7 3.3h.9v.9h-.9zM72.3 2.9h.9v.9h-.9zM22.7 1.8h.9v.9h-.9zM58.2 2.4h.9v.9h-.9zM5.3 2.8h.9v.9h-.9zM41.8 3.4h.9v.9h-.9zM62.6 4.1h.9v.9h-.9zM29.1 4.4h.9v.9h-.9zM87.0 2.9h.9v.9h-.9zM41.3 5.3h.9v.9h-.9zM48.3 2.0h.9v.9h-.9zM59.8 9.7h.9v.9h-.9zM94.1 0.9h.9v.9h-.9zM54.3 1.2h.9v.9h-.9zM50.9 2.0h.9v.9h-.9zM61.8 8.4h.9v.9h-.9zM14.4 3.8h.9v.9h-.9zM95.1 1.1h.9v.9h-.9zM15.6 3.1h.9v.9h-.9zM37.1 3.2h.9v.9h-.9zM53.9 1.9h.9v.9h-.9zM40.0 6.3h.9v.9h-.9zM69.2 4.4h.9v.9h-.9zM29.0 2.5h.9v.9h-.9zM20.0 1.6h.9v.9h-.9zM45.2 5.0h.9v.9h-.9zM59.7 3.0h.9v.9h-.9zM67.8 1.9h.9v.9h-.9zM50.5 2.3h.9v.9h-.9zM43.0 1.8h.9v.9h-.9zM36.0 9.9h.9v.9h-.9zM90.2 2.8h.9v.9h-.9zM58.1 2.6h.9v.9h-.9zM95.1 4.2h.9v.9h-.9zM46.3 9.0h.9v.9h-.9zM54.1 5.5h.9v.9h-.9zM18.5 3.1h.9v.9h-.9zM45.1 2.2h.9v.9h-.9zM61.6 1.4h.9v.9h-.9zM84.5 2.5h.9v.9h-.9zM12.6 1.3h.9v.9h-.9zM90.1 1.9h.9v.9h-.9zM93.3 2.1h.9v.9h-.9zM56.1 3.8h.9v.9h-.9zM11.5 3.0h.9v.9h-.9zM26.9 1.9h.9v.9h-.9zM22.2 3.5h.9v.9h-.9zM49.6 1.1h.9v.9h-.9zM55.3 5.5h.9v.9h-.9zM47.2 1.6h.9v.9h-.9zM39.7 1.5h.9v.9h-.9zM79.4 1.6h.9v.9h-.9zM65.6 1.5h.9v.9h-.9zM41.8 1.2h.9v.9h-.9zM45.4 2.9h.9v.9h-.9zM98.6 0.8h.9v.9h-.9zM87.4 0.8h.9v.9h-.9zM52.1 6.9h.9v.9h-.9zM60.8 4.6h.9v.9h-.9zM70.8 1.6h.9v.9h-.9zM65.0 1.3h.9v.9h-.9zM26.5 4.4h.9v.9h-.9zM23.9 3.3h.9v.9h-.9zM55.5 2.2h.9v.9h-.9zM37.6 3.1h.9v.9h-.9zM97.0 2.7h.9v.9h-.9zM54.9 1.5h.9v.9h-.9zM31.5 1.4h.9v.9h-.9zM19.2 0.9h.9v.9h-.9zM5.0 1.4h.9v.9h-.9zM57.4 5.3h.9v.9h-.9zM62.4 4.4h.9v.9h-.9zM79.2 1.2h.9v.9h-.9zM27.1 1.9h.9v.9h-.9zM42.7 3.1h.9v.9h-.9zM98.1 1.6h.9v.9h-.9zM58.8 5.2h.9v.9h-.9zM68.0 1.7h.9v.9h-.9zM64.3 1.4h.9v.9h-.9zM22.2 2.5h.9v.9h-.9zM50.9 2.7h.9v.9h-.9zM88.6 1.2h.9v.9h-.9zM40.4 1.8h.9v.9h-.9zM61.7 1.2h.9v.9h-.9zM50.5 0.8h.9v.9h-.9zM41.7 0.9h.9v.9h-.9zM48.3 8.3h.9v.9h-.9zM34.3 3.1h.9v.9h-.9z"/><path fill="#4d8af5" d="M49.7 20.5h.9v.9h-.9zM49.2 14.9h.9v.9h-.9zM50.3 11.0h.9v.9h-.9zM49.0 13.5h.9v.9h-.9zM50.6 22.0h.9v.9h-.9zM50.1 21.5h.9v.9h-.9zM51.6 18.1h.9v.9h-.9zM49.7 4.6h.9v.9h-.9zM50.2 9.6h.9v.9h-.9zM49.5 6.2h.9v.9h-.9zM51.0 11.0h.9v.9h-.9zM50.1 14.8h.9v.9h-.9zM50.3 15.9h.9v.9h-.9zM50.8 1.6h.9v.9h-.9zM51.2 10.8h.9v.9h-.9zM50.0 13.3h.9v.9h-.9zM49.6 13.6h.9v.9h-.9zM50.8 11.6h.9v.9h-.9zM50.6 20.4h.9v.9h-.9zM50.2 6.3h.9v.9h-.9zM49.5 3.6h.9v.9h-.9zM49.5 9.1h.9v.9h-.9zM49.1 2.6h.9v.9h-.9zM50.2 17.1h.9v.9h-.9zM52.0 9.3h.9v.9h-.9zM51.3 1.3h.9v.9h-.9zM49.9 5.1h.9v.9h-.9zM51.7 2.6h.9v.9h-.9zM49.5 6.9h.9v.9h-.9zM49.6 1.3h.9v.9h-.9zM51.2 20.3h.9v.9h-.9zM49.7 1.5h.9v.9h-.9zM50.3 12.9h.9v.9h-.9zM52.0 19.0h.9v.9h-.9zM49.8 19.3h.9v.9h-.9zM50.3 7.4h.9v.9h-.9zM50.2 13.1h.9v.9h-.9zM49.9 2.2h.9v.9h-.9zM50.9 19.1h.9v.9h-.9zM50.1 10.8h.9v.9h-.9zM49.8 19.3h.9v.9h-.9zM51.4 5.7h.9v.9h-.9zM51.6 20.0h.9v.9h-.9zM51.3 8.9h.9v.9h-.9zM48.2 11.6h.9v.9h-.9zM50.1 21.0h.9v.9h-.9zM51.3 21.4h.9v.9h-.9zM52.7 11.2h.9v.9h-.9z"/><path fill="#9a2cf0" d="M50.0 103.2h.9v.9h-.9zM35.5 109.6h.9v.9h-.9zM56.9 106.7h.9v.9h-.9zM46.7 93.4h.9v.9h-.9zM54.4 90.3h.9v.9h-.9zM51.1 92.7h.9v.9h-.9zM53.8 109.6h.9v.9h-.9zM54.5 111.9h.9v.9h-.9zM43.6 105.4h.9v.9h-.9zM43.5 103.9h.9v.9h-.9zM51.9 89.3h.9v.9h-.9zM48.6 92.3h.9v.9h-.9zM55.2 103.1h.9v.9h-.9zM51.1 92.3h.9v.9h-.9zM64.0 106.3h.9v.9h-.9zM51.4 110.2h.9v.9h-.9zM47.2 98.7h.9v.9h-.9zM52.2 107.7h.9v.9h-.9zM47.1 98.5h.9v.9h-.9zM54.7 101.3h.9v.9h-.9zM50.8 105.3h.9v.9h-.9zM43.1 103.3h.9v.9h-.9zM52.7 99.7h.9v.9h-.9zM56.6 95.0h.9v.9h-.9zM56.1 106.1h.9v.9h-.9zM51.6 97.3h.9v.9h-.9zM39.0 104.0h.9v.9h-.9zM52.4 107.0h.9v.9h-.9zM50.0 110.5h.9v.9h-.9zM51.9 97.8h.9v.9h-.9zM45.8 88.6h.9v.9h-.9zM58.2 101.2h.9v.9h-.9zM54.2 94.8h.9v.9h-.9zM49.3 95.8h.9v.9h-.9zM61.1 102.7h.9v.9h-.9zM50.4 93.8h.9v.9h-.9zM46.2 106.9h.9v.9h-.9zM51.3 101.7h.9v.9h-.9zM39.8 111.6h.9v.9h-.9zM42.4 104.1h.9v.9h-.9zM52.2 100.7h.9v.9h-.9zM48.0 93.4h.9v.9h-.9zM62.0 107.3h.9v.9h-.9zM47.0 111.1h.9v.9h-.9zM45.5 96.3h.9v.9h-.9zM41.6 104.3h.9v.9h-.9zM38.0 105.4h.9v.9h-.9zM50.3 96.0h.9v.9h-.9zM52.5 106.3h.9v.9h-.9zM49.3 97.1h.9v.9h-.9zM51.5 98.9h.9v.9h-.9zM48.4 109.4h.9v.9h-.9zM61.1 105.7h.9v.9h-.9zM46.8 103.2h.9v.9h-.9zM47.9 103.5h.9v.9h-.9zM57.1 101.2h.9v.9h-.9zM49.4 95.2h.9v.9h-.9zM45.7 109.6h.9v.9h-.9zM46.7 102.9h.9v.9h-.9zM53.0 90.0h.9v.9h-.9zM60.0 98.0h.9v.9h-.9zM52.2 106.8h.9v.9h-.9zM54.6 92.2h.9v.9h-.9zM44.9 106.9h.9v.9h-.9zM47.9 96.0h.9v.9h-.9zM51.8 91.5h.9v.9h-.9zM56.6 94.1h.9v.9h-.9zM48.0 88.7h.9v.9h-.9zM56.1 111.7h.9v.9h-.9zM40.6 96.0h.9v.9h-.9zM60.2 104.7h.9v.9h-.9zM47.7 97.9h.9v.9h-.9zM51.9 90.0h.9v.9h-.9zM49.0 98.3h.9v.9h-.9zM48.7 98.4h.9v.9h-.9zM48.0 90.5h.9v.9h-.9zM47.2 103.3h.9v.9h-.9zM45.1 106.4h.9v.9h-.9zM52.1 88.0h.9v.9h-.9zM45.8 91.5h.9v.9h-.9zM46.5 89.6h.9v.9h-.9zM56.8 111.4h.9v.9h-.9zM47.9 100.0h.9v.9h-.9zM47.7 103.5h.9v.9h-.9zM55.8 104.8h.9v.9h-.9zM44.5 98.6h.9v.9h-.9zM52.0 89.0h.9v.9h-.9zM49.7 98.2h.9v.9h-.9zM53.6 99.6h.9v.9h-.9zM43.3 104.3h.9v.9h-.9zM49.3 103.4h.9v.9h-.9zM53.7 97.0h.9v.9h-.9zM50.3 86.2h.9v.9h-.9zM48.7 100.8h.9v.9h-.9zM46.3 96.4h.9v.9h-.9zM50.8 94.9h.9v.9h-.9zM63.1 108.4h.9v.9h-.9zM46.5 93.3h.9v.9h-.9zM49.1 89.4h.9v.9h-.9zM31.3 105.1h.9v.9h-.9zM46.0 109.7h.9v.9h-.9zM50.2 109.5h.9v.9h-.9zM53.8 107.1h.9v.9h-.9zM49.8 88.8h.9v.9h-.9zM46.9 104.3h.9v.9h-.9zM55.1 87.4h.9v.9h-.9zM56.0 99.4h.9v.9h-.9zM58.9 97.7h.9v.9h-.9zM49.4 91.9h.9v.9h-.9zM45.2 104.4h.9v.9h-.9zM53.5 94.1h.9v.9h-.9zM49.6 91.9h.9v.9h-.9zM53.1 90.9h.9v.9h-.9zM43.8 108.7h.9v.9h-.9zM56.5 107.1h.9v.9h-.9zM58.9 103.6h.9v.9h-.9zM65.9 110.2h.9v.9h-.9zM44.2 107.8h.9v.9h-.9zM60.3 102.7h.9v.9h-.9zM47.6 86.8h.9v.9h-.9zM56.3 100.2h.9v.9h-.9zM54.1 110.6h.9v.9h-.9zM36.2 111.5h.9v.9h-.9zM50.8 94.9h.9v.9h-.9zM50.2 106.8h.9v.9h-.9zM47.4 88.3h.9v.9h-.9zM50.5 87.9h.9v.9h-.9zM51.5 102.5h.9v.9h-.9zM47.9 92.4h.9v.9h-.9zM49.2 106.0h.9v.9h-.9zM50.4 94.0h.9v.9h-.9zM49.5 110.5h.9v.9h-.9zM54.5 97.7h.9v.9h-.9zM53.1 109.0h.9v.9h-.9zM45.0 103.3h.9v.9h-.9zM52.8 86.7h.9v.9h-.9zM52.7 102.5h.9v.9h-.9zM56.5 89.7h.9v.9h-.9zM52.3 90.8h.9v.9h-.9zM51.4 87.4h.9v.9h-.9zM51.3 93.4h.9v.9h-.9zM48.0 101.1h.9v.9h-.9zM46.9 99.4h.9v.9h-.9zM48.7 94.6h.9v.9h-.9zM49.2 102.2h.9v.9h-.9zM52.0 86.0h.9v.9h-.9zM48.8 100.4h.9v.9h-.9zM48.0 90.9h.9v.9h-.9zM52.1 102.7h.9v.9h-.9zM60.6 106.3h.9v.9h-.9zM39.6 97.8h.9v.9h-.9zM47.9 100.3h.9v.9h-.9zM53.9 99.2h.9v.9h-.9zM62.5 111.3h.9v.9h-.9zM52.9 94.4h.9v.9h-.9zM49.6 101.5h.9v.9h-.9zM58.6 98.9h.9v.9h-.9zM50.1 94.1h.9v.9h-.9zM50.6 88.6h.9v.9h-.9zM56.9 109.6h.9v.9h-.9zM53.5 103.4h.9v.9h-.9zM52.1 86.9h.9v.9h-.9zM48.3 111.0h.9v.9h-.9zM44.9 97.3h.9v.9h-.9zM48.5 88.3h.9v.9h-.9zM50.5 99.2h.9v.9h-.9zM39.2 105.1h.9v.9h-.9zM54.9 103.7h.9v.9h-.9zM54.3 99.2h.9v.9h-.9zM50.6 87.1h.9v.9h-.9zM48.0 100.7h.9v.9h-.9zM55.5 92.9h.9v.9h-.9zM62.7 102.1h.9v.9h-.9zM44.0 105.0h.9v.9h-.9zM44.8 108.7h.9v.9h-.9zM49.1 87.6h.9v.9h-.9zM53.2 101.5h.9v.9h-.9zM53.4 96.3h.9v.9h-.9zM49.2 93.0h.9v.9h-.9zM49.1 109.8h.9v.9h-.9zM45.9 95.7h.9v.9h-.9zM56.6 105.1h.9v.9h-.9zM55.2 91.9h.9v.9h-.9zM64.0 107.0h.9v.9h-.9zM57.6 108.4h.9v.9h-.9zM53.5 86.6h.9v.9h-.9zM63.4 107.3h.9v.9h-.9zM52.2 93.6h.9v.9h-.9zM45.8 92.4h.9v.9h-.9zM47.6 103.9h.9v.9h-.9zM52.5 108.1h.9v.9h-.9zM50.8 104.7h.9v.9h-.9zM57.0 103.8h.9v.9h-.9zM50.2 95.7h.9v.9h-.9zM59.8 110.7h.9v.9h-.9zM50.5 88.5h.9v.9h-.9zM59.4 111.6h.9v.9h-.9zM61.7 111.8h.9v.9h-.9zM50.7 89.6h.9v.9h-.9zM53.2 91.4h.9v.9h-.9zM57.4 111.8h.9v.9h-.9zM39.5 111.1h.9v.9h-.9zM60.3 103.9h.9v.9h-.9zM52.3 87.9h.9v.9h-.9zM46.9 111.4h.9v.9h-.9zM53.5 89.4h.9v.9h-.9zM46.8 99.4h.9v.9h-.9zM44.8 90.8h.9v.9h-.9zM51.2 100.5h.9v.9h-.9zM34.1 111.5h.9v.9h-.9zM49.0 89.5h.9v.9h-.9zM39.7 105.2h.9v.9h-.9zM45.4 94.7h.9v.9h-.9zM52.0 98.0h.9v.9h-.9zM47.4 95.7h.9v.9h-.9zM45.6 108.0h.9v.9h-.9zM48.2 86.4h.9v.9h-.9zM46.3 105.9h.9v.9h-.9zM52.2 96.0h.9v.9h-.9zM53.5 89.6h.9v.9h-.9zM39.0 111.1h.9v.9h-.9zM53.9 103.5h.9v.9h-.9zM57.5 111.9h.9v.9h-.9zM49.8 86.0h.9v.9h-.9zM52.1 90.4h.9v.9h-.9zM49.4 93.2h.9v.9h-.9zM48.7 108.5h.9v.9h-.9zM51.5 97.2h.9v.9h-.9zM52.7 99.6h.9v.9h-.9zM48.4 95.1h.9v.9h-.9zM50.5 95.2h.9v.9h-.9zM55.8 99.1h.9v.9h-.9zM54.7 107.9h.9v.9h-.9zM56.0 101.3h.9v.9h-.9zM53.4 88.2h.9v.9h-.9zM54.4 89.7h.9v.9h-.9zM50.7 90.6h.9v.9h-.9zM56.6 93.2h.9v.9h-.9zM55.2 89.8h.9v.9h-.9zM52.8 103.5h.9v.9h-.9zM44.8 101.1h.9v.9h-.9zM53.2 94.7h.9v.9h-.9zM46.6 88.0h.9v.9h-.9zM55.0 104.3h.9v.9h-.9zM53.5 90.8h.9v.9h-.9zM45.9 98.6h.9v.9h-.9zM44.9 94.5h.9v.9h-.9zM44.8 87.4h.9v.9h-.9zM54.2 100.4h.9v.9h-.9zM51.3 102.1h.9v.9h-.9zM39.7 110.7h.9v.9h-.9zM49.5 110.8h.9v.9h-.9zM44.8 89.7h.9v.9h-.9zM49.3 92.9h.9v.9h-.9zM41.4 108.4h.9v.9h-.9zM48.5 106.1h.9v.9h-.9zM53.7 103.1h.9v.9h-.9zM48.1 88.9h.9v.9h-.9zM50.6 96.4h.9v.9h-.9zM45.0 103.0h.9v.9h-.9zM47.7 87.6h.9v.9h-.9zM46.1 109.2h.9v.9h-.9zM38.5 101.9h.9v.9h-.9zM58.0 102.8h.9v.9h-.9zM44.2 102.5h.9v.9h-.9zM54.6 87.0h.9v.9h-.9zM52.2 108.0h.9v.9h-.9zM51.7 96.0h.9v.9h-.9zM57.8 107.9h.9v.9h-.9zM53.5 105.6h.9v.9h-.9zM52.2 91.4h.9v.9h-.9zM50.4 105.4h.9v.9h-.9zM60.2 96.7h.9v.9h-.9zM48.9 91.0h.9v.9h-.9zM52.5 108.9h.9v.9h-.9zM48.4 86.6h.9v.9h-.9zM51.8 87.0h.9v.9h-.9zM57.6 91.8h.9v.9h-.9zM49.9 96.9h.9v.9h-.9zM62.4 108.7h.9v.9h-.9zM43.6 104.9h.9v.9h-.9zM41.8 100.7h.9v.9h-.9zM49.8 101.6h.9v.9h-.9zM57.5 111.3h.9v.9h-.9zM63.1 105.6h.9v.9h-.9zM52.8 97.5h.9v.9h-.9zM47.5 96.2h.9v.9h-.9zM54.6 101.0h.9v.9h-.9zM49.5 108.0h.9v.9h-.9zM54.9 103.1h.9v.9h-.9zM48.1 103.3h.9v.9h-.9zM58.9 109.1h.9v.9h-.9zM43.3 107.8h.9v.9h-.9zM46.9 102.5h.9v.9h-.9zM49.4 99.5h.9v.9h-.9zM52.6 111.4h.9v.9h-.9zM50.1 93.9h.9v.9h-.9zM51.8 92.2h.9v.9h-.9zM47.0 105.9h.9v.9h-.9zM45.5 91.1h.9v.9h-.9zM57.5 89.3h.9v.9h-.9zM49.0 101.1h.9v.9h-.9zM55.1 87.7h.9v.9h-.9zM49.8 103.6h.9v.9h-.9zM61.0 94.6h.9v.9h-.9zM64.6 103.4h.9v.9h-.9zM53.0 102.5h.9v.9h-.9zM50.4 109.8h.9v.9h-.9zM48.2 105.3h.9v.9h-.9zM53.4 95.9h.9v.9h-.9zM62.6 103.3h.9v.9h-.9zM56.1 95.1h.9v.9h-.9zM52.2 87.5h.9v.9h-.9zM52.7 92.2h.9v.9h-.9zM51.7 105.4h.9v.9h-.9zM53.6 93.0h.9v.9h-.9zM50.0 106.8h.9v.9h-.9zM45.1 105.1h.9v.9h-.9zM47.1 89.6h.9v.9h-.9zM58.0 107.5h.9v.9h-.9z"/></svg></g>
<rect x="331.3" y="361.5" width="100.4" height="113.0" fill="none" stroke="#3a3a3a" stroke-width="1.05"/>
<line x1="329.5" y1="461.94" x2="331.3" y2="461.94" stroke="#3a3a3a" stroke-width="0.7"/>
<text x="329.3" y="464.9" font-size="8.3" text-anchor="end" font-weight="normal" fill="#1a1a1a" >0</text>
<line x1="329.5" y1="449.39" x2="331.3" y2="449.39" stroke="#3a3a3a" stroke-width="0.7"/>
<text x="329.3" y="452.4" font-size="8.3" text-anchor="end" font-weight="normal" fill="#1a1a1a" >5</text>
<line x1="329.5" y1="436.83" x2="331.3" y2="436.83" stroke="#3a3a3a" stroke-width="0.7"/>
<text x="329.3" y="439.8" font-size="8.3" text-anchor="end" font-weight="normal" fill="#1a1a1a" >10</text>
<line x1="329.5" y1="424.28" x2="331.3" y2="424.28" stroke="#3a3a3a" stroke-width="0.7"/>
<text x="329.3" y="427.3" font-size="8.3" text-anchor="end" font-weight="normal" fill="#1a1a1a" >15</text>
<line x1="329.5" y1="411.72" x2="331.3" y2="411.72" stroke="#3a3a3a" stroke-width="0.7"/>
<text x="329.3" y="414.7" font-size="8.3" text-anchor="end" font-weight="normal" fill="#1a1a1a" >20</text>
<line x1="329.5" y1="399.17" x2="331.3" y2="399.17" stroke="#3a3a3a" stroke-width="0.7"/>
<text x="329.3" y="402.2" font-size="8.3" text-anchor="end" font-weight="normal" fill="#1a1a1a" >25</text>
<line x1="329.5" y1="386.61" x2="331.3" y2="386.61" stroke="#3a3a3a" stroke-width="0.7"/>
<text x="329.3" y="389.6" font-size="8.3" text-anchor="end" font-weight="normal" fill="#1a1a1a" >30</text>
<line x1="329.5" y1="374.06" x2="331.3" y2="374.06" stroke="#3a3a3a" stroke-width="0.7"/>
<text x="329.3" y="377.1" font-size="8.3" text-anchor="end" font-weight="normal" fill="#1a1a1a" >35</text>
<line x1="344.22" y1="474.5" x2="344.22" y2="476.3" stroke="#3a3a3a" stroke-width="0.7"/>
<text x="344.2" y="482.8" font-size="8.3" text-anchor="middle" font-weight="normal" fill="#1a1a1a" >15</text>
<line x1="356.65" y1="474.5" x2="356.65" y2="476.3" stroke="#3a3a3a" stroke-width="0.7"/>
<text x="356.6" y="482.8" font-size="8.3" text-anchor="middle" font-weight="normal" fill="#1a1a1a" >10</text>
<line x1="369.07" y1="474.5" x2="369.07" y2="476.3" stroke="#3a3a3a" stroke-width="0.7"/>
<text x="369.1" y="482.8" font-size="8.3" text-anchor="middle" font-weight="normal" fill="#1a1a1a" >5</text>
<line x1="381.50" y1="474.5" x2="381.50" y2="476.3" stroke="#3a3a3a" stroke-width="0.7"/>
<text x="381.5" y="482.8" font-size="8.3" text-anchor="middle" font-weight="normal" fill="#1a1a1a" >0</text>
<line x1="393.93" y1="474.5" x2="393.93" y2="476.3" stroke="#3a3a3a" stroke-width="0.7"/>
<text x="393.9" y="482.8" font-size="8.3" text-anchor="middle" font-weight="normal" fill="#1a1a1a" >5</text>
<line x1="406.35" y1="474.5" x2="406.35" y2="476.3" stroke="#3a3a3a" stroke-width="0.7"/>
<text x="406.4" y="482.8" font-size="8.3" text-anchor="middle" font-weight="normal" fill="#1a1a1a" >10</text>
<line x1="418.78" y1="474.5" x2="418.78" y2="476.3" stroke="#3a3a3a" stroke-width="0.7"/>
<text x="418.8" y="482.8" font-size="8.3" text-anchor="middle" font-weight="normal" fill="#1a1a1a" >15</text>
<text x="387.7" y="357.9" font-size="9.6" text-anchor="middle" fill="#1a1a1a">Na<tspan dy="-3.6" font-size="6.0">+</tspan><tspan dy="3.6">, -100 mV</tspan></text>
<g transform="translate(331.3,506.3) scale(0.9941,1)"><svg width="101" height="113.0" overflow="hidden"><use href="#gr"/><use href="#ol"/><path fill="#4d8af5" d="M9.5 1.6h.9v.9h-.9zM96.7 1.2h.9v.9h-.9zM62.3 9.7h.9v.9h-.9zM56.6 1.3h.9v.9h-.9zM54.2 4.6h.9v.9h-.9zM95.0 3.2h.9v.9h-.9zM94.8 1.7h.9v.9h-.9zM64.0 10.4h.9v.9h-.9zM48.0 1.9h.9v.9h-.9zM79.0 2.2h.9v.9h-.9zM58.4 0.9h.9v.9h-.9zM78.3 4.6h.9v.9h-.9zM58.9 4.4h.9v.9h-.9zM48.7 2.3h.9v.9h-.9zM36.7 4.4h.9v.9h-.9zM72.2 4.0h.9v.9h-.9zM42.6 1.8h.9v.9h-.9zM18.1 4.5h.9v.9h-.9zM76.6 2.5h.9v.9h-.9zM27.9 1.3h.9v.9h-.9zM35.7 4.4h.9v.9h-.9zM48.6 12.0h.9v.9h-.9zM44.5 1.8h.9v.9h-.9zM40.1 2.2h.9v.9h-.9zM65.2 1.3h.9v.9h-.9zM36.9 9.8h.9v.9h-.9zM55.9 11.9h.9v.9h-.9zM41.2 1.4h.9v.9h-.9zM9.5 1.9h.9v.9h-.9zM56.4 3.1h.9v.9h-.9zM46.5 13.5h.9v.9h-.9zM58.1 7.9h.9v.9h-.9zM7.4 0.9h.9v.9h-.9zM3.5 1.8h.9v.9h-.9zM71.6 7.0h.9v.9h-.9zM3.3 1.7h.9v.9h-.9zM38.4 2.7h.9v.9h-.9zM31.8 2.1h.9v.9h-.9zM56.9 2.1h.9v.9h-.9zM52.7 1.3h.9v.9h-.9zM49.2 3.8h.9v.9h-.9zM42.3 0.7h.9v.9h-.9zM63.3 5.6h.9v.9h-.9zM37.2 2.8h.9v.9h-.9zM61.2 18.5h.9v.9h-.9zM48.7 8.0h.9v.9h-.9zM59.9 7.0h.9v.9h-.9zM44.5 2.7h.9v.9h-.9zM25.0 1.8h.9v.9h-.9zM97.2 3.4h.9v.9h-.9zM40.8 4.6h.9v.9h-.9zM49.0 6.5h.9v.9h-.9zM58.3 14.0h.9v.9h-.9zM9.8 4.1h.9v.9h-.9zM64.3 2.5h.9v.9h-.9zM67.9 1.2h.9v.9h-.9zM78.0 2.9h.9v.9h-.9zM77.9 2.1h.9v.9h-.9zM44.4 8.5h.9v.9h-.9zM50.4 4.3h.9v.9h-.9zM26.2 2.4h.9v.9h-.9zM84.3 1.6h.9v.9h-.9zM26.0 3.9h.9v.9h-.9zM65.1 8.3h.9v.9h-.9zM25.5 5.0h.9v.9h-.9zM33.5 6.9h.9v.9h-.9zM75.0 2.1h.9v.9h-.9zM50.8 1.2h.9v.9h-.9zM27.7 5.3h.9v.9h-.9zM53.7 1.8h.9v.9h-.9zM70.9 1.1h.9v.9h-.9zM58.9 5.7h.9v.9h-.9zM60.8 2.2h.9v.9h-.9zM57.5 6.6h.9v.9h-.9zM32.3 3.7h.9v.9h-.9zM49.6 7.7h.9v.9h-.9zM38.1 1.5h.9v.9h-.9zM26.5 4.6h.9v.9h-.9zM60.0 1.0h.9v.9h-.9zM62.1 6.8h.9v.9h-.9zM64.4 2.6h.9v.9h-.9zM43.4 10.1h.9v.9h-.9zM61.5 1.3h.9v.9h-.9zM84.4 1.4h.9v.9h-.9zM31.3 7.7h.9v.9h-.9zM43.4 3.6h.9v.9h-.9zM61.4 6.4h.9v.9h-.9zM21.5 7.6h.9v.9h-.9zM17.4 3.2h.9v.9h-.9zM30.8 3.2h.9v.9h-.9zM58.3 5.8h.9v.9h-.9zM53.7 7.4h.9v.9h-.9zM56.6 8.8h.9v.9h-.9zM18.8 1.4h.9v.9h-.9zM57.8 0.7h.9v.9h-.9zM46.3 3.6h.9v.9h-.9zM33.1 2.0h.9v.9h-.9zM55.6 6.0h.9v.9h-.9zM39.2 9.6h.9v.9h-.9zM64.3 4.7h.9v.9h-.9zM57.9 2.8h.9v.9h-.9zM52.7 1.5h.9v.9h-.9zM38.5 1.2h.9v.9h-.9zM59.2 0.8h.9v.9h-.9zM7.4 2.1h.9v.9h-.9zM74.0 2.5h.9v.9h-.9zM59.1 1.8h.9v.9h-.9zM43.5 4.9h.9v.9h-.9zM64.0 2.9h.9v.9h-.9zM45.3 4.8h.9v.9h-.9zM71.1 1.1h.9v.9h-.9zM53.9 5.1h.9v.9h-.9zM21.5 1.1h.9v.9h-.9zM66.3 3.9h.9v.9h-.9zM27.2 2.1h.9v.9h-.9zM9.9 1.2h.9v.9h-.9zM67.4 4.0h.9v.9h-.9zM56.1 4.6h.9v.9h-.9zM41.5 5.1h.9v.9h-.9zM16.4 1.5h.9v.9h-.9zM21.5 1.2h.9v.9h-.9zM57.0 2.9h.9v.9h-.9zM68.7 8.2h.9v.9h-.9zM51.0 5.0h.9v.9h-.9zM69.2 1.4h.9v.9h-.9zM48.8 3.4h.9v.9h-.9zM88.8 4.0h.9v.9h-.9zM55.9 0.8h.9v.9h-.9zM62.0 1.4h.9v.9h-.9zM72.0 5.0h.9v.9h-.9zM54.1 9.9h.9v.9h-.9zM22.7 1.0h.9v.9h-.9zM91.9 1.2h.9v.9h-.9zM80.4 6.2h.9v.9h-.9zM96.6 0.8h.9v.9h-.9zM99.1 1.7h.9v.9h-.9zM39.5 5.6h.9v.9h-.9zM61.9 11.3h.9v.9h-.9zM52.6 8.3h.9v.9h-.9zM25.9 5.8h.9v.9h-.9zM51.0 5.3h.9v.9h-.9zM40.1 2.8h.9v.9h-.9zM34.3 2.6h.9v.9h-.9zM34.4 4.4h.9v.9h-.9zM19.8 3.9h.9v.9h-.9zM68.3 2.8h.9v.9h-.9zM41.0 1.2h.9v.9h-.9zM79.3 2.4h.9v.9h-.9zM59.2 0.8h.9v.9h-.9zM46.9 2.9h.9v.9h-.9zM37.7 4.3h.9v.9h-.9zM35.2 1.3h.9v.9h-.9zM79.6 1.7h.9v.9h-.9zM28.5 4.1h.9v.9h-.9zM73.8 7.4h.9v.9h-.9zM26.5 2.1h.9v.9h-.9zM56.5 3.4h.9v.9h-.9zM15.6 2.4h.9v.9h-.9zM28.5 2.8h.9v.9h-.9zM40.7 0.8h.9v.9h-.9zM89.3 2.3h.9v.9h-.9zM34.6 3.2h.9v.9h-.9zM65.4 5.8h.9v.9h-.9zM47.2 2.2h.9v.9h-.9zM78.3 1.7h.9v.9h-.9zM65.9 2.6h.9v.9h-.9zM38.8 5.8h.9v.9h-.9zM41.2 5.2h.9v.9h-.9zM20.6 5.8h.9v.9h-.9zM38.2 0.8h.9v.9h-.9zM12.6 3.3h.9v.9h-.9zM63.1 2.2h.9v.9h-.9zM91.1 3.3h.9v.9h-.9zM32.6 7.5h.9v.9h-.9zM2.0 2.0h.9v.9h-.9zM85.6 1.4h.9v.9h-.9zM61.5 5.7h.9v.9h-.9zM47.8 2.4h.9v.9h-.9zM91.2 2.4h.9v.9h-.9zM64.6 3.9h.9v.9h-.9zM53.8 2.7h.9v.9h-.9zM9.3 0.9h.9v.9h-.9zM25.3 6.3h.9v.9h-.9zM58.3 1.8h.9v.9h-.9zM56.4 1.4h.9v.9h-.9zM65.9 1.8h.9v.9h-.9zM44.0 1.7h.9v.9h-.9zM56.2 11.8h.9v.9h-.9zM35.9 2.3h.9v.9h-.9zM55.4 2.4h.9v.9h-.9zM62.9 5.3h.9v.9h-.9zM31.3 2.8h.9v.9h-.9zM73.7 7.1h.9v.9h-.9zM66.8 2.9h.9v.9h-.9zM72.8 2.1h.9v.9h-.9zM59.7 2.6h.9v.9h-.9zM68.8 5.5h.9v.9h-.9zM17.4 1.0h.9v.9h-.9zM67.5 2.5h.9v.9h-.9zM40.6 10.9h.9v.9h-.9z"/><path fill="#4d8af5" d="M51.4 4.6h.9v.9h-.9zM50.3 20.2h.9v.9h-.9zM48.9 3.9h.9v.9h-.9zM49.2 17.5h.9v.9h-.9zM50.9 3.4h.9v.9h-.9zM50.9 8.5h.9v.9h-.9zM49.2 20.7h.9v.9h-.9zM51.2 9.9h.9v.9h-.9zM49.6 8.9h.9v.9h-.9zM50.0 6.4h.9v.9h-.9zM51.3 16.1h.9v.9h-.9zM50.5 17.7h.9v.9h-.9zM50.1 9.5h.9v.9h-.9zM49.5 4.8h.9v.9h-.9zM50.7 13.3h.9v.9h-.9zM54.0 9.4h.9v.9h-.9zM49.4 7.0h.9v.9h-.9zM50.2 9.7h.9v.9h-.9zM48.6 19.7h.9v.9h-.9zM51.4 6.9h.9v.9h-.9zM49.8 21.0h.9v.9h-.9zM50.7 3.7h.9v.9h-.9zM50.3 10.6h.9v.9h-.9zM50.5 10.6h.9v.9h-.9zM51.1 11.4h.9v.9h-.9zM50.6 10.8h.9v.9h-.9zM50.4 7.7h.9v.9h-.9zM50.8 8.2h.9v.9h-.9zM51.6 5.5h.9v.9h-.9zM51.3 12.1h.9v.9h-.9zM50.5 11.4h.9v.9h-.9zM50.3 14.3h.9v.9h-.9zM51.7 18.6h.9v.9h-.9zM49.6 14.8h.9v.9h-.9zM50.8 16.8h.9v.9h-.9zM52.3 11.1h.9v.9h-.9zM50.8 20.0h.9v.9h-.9zM50.4 8.4h.9v.9h-.9zM48.8 4.3h.9v.9h-.9zM50.0 11.3h.9v.9h-.9zM50.8 21.1h.9v.9h-.9zM50.5 5.5h.9v.9h-.9zM50.0 20.6h.9v.9h-.9zM50.7 11.5h.9v.9h-.9zM51.0 10.6h.9v.9h-.9zM49.9 6.0h.9v.9h-.9zM49.2 13.0h.9v.9h-.9zM49.7 13.2h.9v.9h-.9z"/><path fill="#9a2cf0" d="M51.3 94.1h.9v.9h-.9zM50.3 90.3h.9v.9h-.9zM62.1 103.4h.9v.9h-.9zM49.3 92.4h.9v.9h-.9zM41.0 110.5h.9v.9h-.9zM52.6 102.8h.9v.9h-.9zM59.5 102.1h.9v.9h-.9zM44.4 94.2h.9v.9h-.9zM46.1 109.2h.9v.9h-.9zM55.0 90.1h.9v.9h-.9zM44.6 102.6h.9v.9h-.9zM69.0 103.3h.9v.9h-.9zM52.7 96.1h.9v.9h-.9zM49.7 105.4h.9v.9h-.9zM57.1 102.9h.9v.9h-.9zM50.9 89.0h.9v.9h-.9zM59.5 112.0h.9v.9h-.9zM55.0 100.1h.9v.9h-.9zM54.2 89.3h.9v.9h-.9zM47.5 102.1h.9v.9h-.9zM52.4 92.8h.9v.9h-.9zM52.4 86.9h.9v.9h-.9zM47.0 91.2h.9v.9h-.9zM50.7 105.8h.9v.9h-.9zM51.5 89.7h.9v.9h-.9zM57.7 103.9h.9v.9h-.9zM51.1 94.2h.9v.9h-.9zM52.7 95.5h.9v.9h-.9zM51.5 95.9h.9v.9h-.9zM47.5 94.9h.9v.9h-.9zM51.0 105.4h.9v.9h-.9zM52.6 111.3h.9v.9h-.9zM48.1 109.8h.9v.9h-.9zM54.2 98.0h.9v.9h-.9zM52.2 91.5h.9v.9h-.9zM37.8 104.5h.9v.9h-.9zM56.3 96.4h.9v.9h-.9zM43.8 90.8h.9v.9h-.9zM58.8 103.4h.9v.9h-.9zM67.9 106.7h.9v.9h-.9zM50.3 96.7h.9v.9h-.9zM48.2 87.7h.9v.9h-.9zM55.6 99.4h.9v.9h-.9zM54.1 108.2h.9v.9h-.9zM50.1 101.0h.9v.9h-.9zM54.2 100.5h.9v.9h-.9zM53.1 99.2h.9v.9h-.9zM48.8 98.1h.9v.9h-.9zM48.3 97.6h.9v.9h-.9zM52.5 96.0h.9v.9h-.9zM52.1 100.1h.9v.9h-.9zM54.9 99.7h.9v.9h-.9zM43.6 110.4h.9v.9h-.9zM50.8 86.9h.9v.9h-.9zM49.1 99.5h.9v.9h-.9zM52.6 98.3h.9v.9h-.9zM44.9 102.0h.9v.9h-.9zM58.2 102.4h.9v.9h-.9zM53.7 87.6h.9v.9h-.9zM52.6 101.7h.9v.9h-.9zM51.1 100.5h.9v.9h-.9zM56.3 104.7h.9v.9h-.9zM47.3 96.3h.9v.9h-.9zM49.7 102.4h.9v.9h-.9zM58.9 98.5h.9v.9h-.9zM50.7 106.9h.9v.9h-.9zM61.8 111.7h.9v.9h-.9zM47.8 98.1h.9v.9h-.9zM49.3 92.9h.9v.9h-.9zM46.3 94.4h.9v.9h-.9zM46.7 89.0h.9v.9h-.9zM44.1 106.0h.9v.9h-.9zM51.8 90.0h.9v.9h-.9zM54.7 89.4h.9v.9h-.9zM59.7 109.0h.9v.9h-.9zM48.1 92.8h.9v.9h-.9zM51.0 100.6h.9v.9h-.9zM45.1 102.9h.9v.9h-.9zM58.8 101.6h.9v.9h-.9zM44.8 103.4h.9v.9h-.9zM56.1 100.2h.9v.9h-.9zM45.2 103.9h.9v.9h-.9zM54.6 94.1h.9v.9h-.9zM53.4 91.8h.9v.9h-.9zM53.4 111.2h.9v.9h-.9zM59.3 94.7h.9v.9h-.9zM47.8 91.0h.9v.9h-.9zM47.3 111.8h.9v.9h-.9zM54.5 102.1h.9v.9h-.9zM52.0 88.9h.9v.9h-.9zM46.1 98.8h.9v.9h-.9zM49.6 103.5h.9v.9h-.9zM53.6 97.6h.9v.9h-.9zM45.3 92.7h.9v.9h-.9zM55.5 107.6h.9v.9h-.9zM50.8 86.7h.9v.9h-.9zM36.3 110.7h.9v.9h-.9zM47.2 111.7h.9v.9h-.9zM51.0 88.4h.9v.9h-.9zM49.8 104.2h.9v.9h-.9zM39.9 106.6h.9v.9h-.9zM59.7 105.9h.9v.9h-.9zM49.9 98.9h.9v.9h-.9zM52.1 88.0h.9v.9h-.9zM47.1 100.1h.9v.9h-.9zM50.0 99.8h.9v.9h-.9zM49.1 88.1h.9v.9h-.9zM55.0 89.9h.9v.9h-.9zM57.7 99.6h.9v.9h-.9zM56.0 91.5h.9v.9h-.9zM67.4 110.2h.9v.9h-.9zM45.5 93.3h.9v.9h-.9zM65.3 103.7h.9v.9h-.9zM57.5 104.0h.9v.9h-.9zM51.3 87.0h.9v.9h-.9zM52.1 95.0h.9v.9h-.9zM52.1 110.4h.9v.9h-.9zM44.6 107.0h.9v.9h-.9zM48.2 86.3h.9v.9h-.9zM49.7 88.0h.9v.9h-.9zM37.1 109.9h.9v.9h-.9zM34.2 102.6h.9v.9h-.9zM55.1 102.1h.9v.9h-.9zM56.5 109.3h.9v.9h-.9zM46.6 100.5h.9v.9h-.9zM46.8 95.3h.9v.9h-.9zM50.8 86.3h.9v.9h-.9zM52.3 88.4h.9v.9h-.9zM50.8 87.4h.9v.9h-.9zM30.1 104.1h.9v.9h-.9zM53.9 107.6h.9v.9h-.9zM58.9 95.9h.9v.9h-.9zM51.0 108.2h.9v.9h-.9zM54.9 99.7h.9v.9h-.9zM50.2 91.8h.9v.9h-.9zM61.3 106.5h.9v.9h-.9zM46.4 111.6h.9v.9h-.9zM46.7 98.2h.9v.9h-.9zM40.0 101.2h.9v.9h-.9zM43.8 100.7h.9v.9h-.9zM42.3 111.0h.9v.9h-.9zM50.9 86.8h.9v.9h-.9zM49.9 94.4h.9v.9h-.9zM50.6 97.4h.9v.9h-.9zM49.8 89.0h.9v.9h-.9zM65.8 109.8h.9v.9h-.9zM47.5 89.0h.9v.9h-.9zM48.9 87.4h.9v.9h-.9zM46.4 93.7h.9v.9h-.9zM49.3 100.8h.9v.9h-.9zM47.6 87.7h.9v.9h-.9zM47.4 90.9h.9v.9h-.9zM61.1 100.7h.9v.9h-.9zM45.6 102.0h.9v.9h-.9zM50.5 99.5h.9v.9h-.9zM43.6 104.4h.9v.9h-.9zM43.7 95.7h.9v.9h-.9zM47.4 101.2h.9v.9h-.9zM46.6 101.7h.9v.9h-.9zM54.2 103.0h.9v.9h-.9zM46.1 97.6h.9v.9h-.9zM51.9 93.6h.9v.9h-.9zM53.3 102.3h.9v.9h-.9zM47.8 102.9h.9v.9h-.9zM45.4 99.8h.9v.9h-.9zM45.4 96.4h.9v.9h-.9zM48.6 86.3h.9v.9h-.9zM55.9 102.4h.9v.9h-.9zM44.5 110.1h.9v.9h-.9zM45.3 95.1h.9v.9h-.9zM60.1 106.7h.9v.9h-.9zM58.2 98.7h.9v.9h-.9zM48.3 97.8h.9v.9h-.9zM41.3 111.9h.9v.9h-.9zM54.3 89.1h.9v.9h-.9zM52.4 91.9h.9v.9h-.9zM55.0 91.9h.9v.9h-.9zM50.4 93.6h.9v.9h-.9zM51.0 95.5h.9v.9h-.9zM52.9 89.5h.9v.9h-.9zM49.8 111.4h.9v.9h-.9zM47.7 88.8h.9v.9h-.9zM53.2 111.4h.9v.9h-.9zM48.5 108.6h.9v.9h-.9zM56.3 100.3h.9v.9h-.9zM50.0 97.3h.9v.9h-.9zM48.9 86.2h.9v.9h-.9zM48.0 108.9h.9v.9h-.9zM52.9 91.8h.9v.9h-.9zM46.4 107.0h.9v.9h-.9zM58.0 104.6h.9v.9h-.9zM48.2 95.4h.9v.9h-.9zM50.7 92.8h.9v.9h-.9zM52.4 93.8h.9v.9h-.9zM50.7 94.2h.9v.9h-.9zM50.0 99.1h.9v.9h-.9zM54.8 99.2h.9v.9h-.9zM55.1 91.4h.9v.9h-.9zM56.9 105.3h.9v.9h-.9zM57.9 94.1h.9v.9h-.9zM51.7 88.5h.9v.9h-.9zM52.2 89.4h.9v.9h-.9zM54.4 94.2h.9v.9h-.9zM49.7 96.2h.9v.9h-.9zM53.0 105.6h.9v.9h-.9zM51.9 108.6h.9v.9h-.9zM51.7 94.5h.9v.9h-.9zM54.2 105.3h.9v.9h-.9zM40.7 111.4h.9v.9h-.9zM55.1 98.0h.9v.9h-.9zM49.2 91.3h.9v.9h-.9zM53.6 92.5h.9v.9h-.9zM56.1 106.6h.9v.9h-.9zM53.9 105.1h.9v.9h-.9zM54.0 86.9h.9v.9h-.9zM48.6 103.0h.9v.9h-.9zM52.4 91.0h.9v.9h-.9zM64.7 111.4h.9v.9h-.9zM51.2 86.4h.9v.9h-.9zM48.8 88.0h.9v.9h-.9zM59.5 101.5h.9v.9h-.9zM58.1 107.9h.9v.9h-.9zM53.4 93.4h.9v.9h-.9zM56.6 105.5h.9v.9h-.9zM50.1 87.0h.9v.9h-.9zM48.3 95.8h.9v.9h-.9zM54.1 90.3h.9v.9h-.9zM52.9 93.8h.9v.9h-.9zM60.3 109.7h.9v.9h-.9zM45.8 99.3h.9v.9h-.9zM47.2 102.8h.9v.9h-.9zM55.8 100.2h.9v.9h-.9zM41.9 96.9h.9v.9h-.9zM55.7 111.7h.9v.9h-.9zM54.0 105.1h.9v.9h-.9zM48.6 87.9h.9v.9h-.9zM44.3 91.8h.9v.9h-.9zM50.5 105.1h.9v.9h-.9zM51.6 109.8h.9v.9h-.9zM48.3 87.4h.9v.9h-.9zM45.6 98.5h.9v.9h-.9zM63.5 109.5h.9v.9h-.9zM51.8 100.0h.9v.9h-.9zM42.2 99.5h.9v.9h-.9zM58.7 97.5h.9v.9h-.9zM47.6 100.9h.9v.9h-.9zM58.4 111.7h.9v.9h-.9zM57.9 100.3h.9v.9h-.9zM54.3 94.4h.9v.9h-.9zM57.2 108.6h.9v.9h-.9zM58.4 90.6h.9v.9h-.9zM44.4 91.0h.9v.9h-.9zM45.6 100.4h.9v.9h-.9zM50.8 89.1h.9v.9h-.9zM57.4 93.0h.9v.9h-.9zM45.3 110.7h.9v.9h-.9zM48.7 99.0h.9v.9h-.9zM50.5 97.1h.9v.9h-.9zM52.5 101.1h.9v.9h-.9zM50.4 103.1h.9v.9h-.9zM52.3 87.2h.9v.9h-.9zM49.8 104.0h.9v.9h-.9zM52.3 102.5h.9v.9h-.9zM55.5 97.0h.9v.9h-.9zM49.5 90.6h.9v.9h-.9zM51.9 104.4h.9v.9h-.9zM43.0 111.3h.9v.9h-.9zM49.1 99.4h.9v.9h-.9zM50.2 89.7h.9v.9h-.9zM46.0 88.7h.9v.9h-.9zM55.5 95.8h.9v.9h-.9zM53.2 86.4h.9v.9h-.9zM63.0 108.6h.9v.9h-.9zM53.1 91.0h.9v.9h-.9zM47.5 99.8h.9v.9h-.9zM34.0 108.7h.9v.9h-.9zM49.8 90.0h.9v.9h-.9zM47.1 90.4h.9v.9h-.9zM51.4 98.0h.9v.9h-.9zM50.0 104.2h.9v.9h-.9zM55.0 100.1h.9v.9h-.9zM47.6 92.5h.9v.9h-.9zM58.9 108.1h.9v.9h-.9zM54.3 93.6h.9v.9h-.9zM53.1 87.4h.9v.9h-.9zM56.0 90.1h.9v.9h-.9zM60.7 109.9h.9v.9h-.9zM55.4 87.4h.9v.9h-.9zM42.6 103.1h.9v.9h-.9zM48.4 110.1h.9v.9h-.9zM55.2 91.9h.9v.9h-.9zM50.1 107.0h.9v.9h-.9zM56.5 92.5h.9v.9h-.9zM50.4 98.3h.9v.9h-.9zM53.8 91.7h.9v.9h-.9zM43.6 111.7h.9v.9h-.9zM50.4 109.0h.9v.9h-.9zM45.2 90.4h.9v.9h-.9zM49.8 107.6h.9v.9h-.9zM49.3 87.8h.9v.9h-.9zM51.5 88.6h.9v.9h-.9zM61.5 106.0h.9v.9h-.9zM40.6 104.1h.9v.9h-.9zM56.1 89.9h.9v.9h-.9zM47.9 91.9h.9v.9h-.9zM52.3 105.1h.9v.9h-.9zM50.3 107.7h.9v.9h-.9zM45.6 101.1h.9v.9h-.9zM45.7 94.2h.9v.9h-.9zM49.3 90.0h.9v.9h-.9zM55.2 108.0h.9v.9h-.9zM45.9 88.4h.9v.9h-.9zM50.5 92.1h.9v.9h-.9zM40.0 102.1h.9v.9h-.9zM45.7 110.3h.9v.9h-.9zM52.1 98.3h.9v.9h-.9zM45.3 93.8h.9v.9h-.9zM55.5 94.4h.9v.9h-.9zM49.4 104.5h.9v.9h-.9zM49.9 99.3h.9v.9h-.9zM42.1 108.5h.9v.9h-.9zM41.3 102.6h.9v.9h-.9zM58.5 111.9h.9v.9h-.9zM51.4 91.1h.9v.9h-.9zM47.9 105.7h.9v.9h-.9zM59.0 103.0h.9v.9h-.9zM48.8 86.4h.9v.9h-.9zM48.3 92.6h.9v.9h-.9zM47.7 102.8h.9v.9h-.9zM47.3 104.5h.9v.9h-.9z"/></svg></g>
<rect x="331.3" y="506.3" width="100.4" height="113.0" fill="none" stroke="#3a3a3a" stroke-width="1.05"/>
<line x1="329.5" y1="606.74" x2="331.3" y2="606.74" stroke="#3a3a3a" stroke-width="0.7"/>
<text x="329.3" y="609.7" font-size="8.3" text-anchor="end" font-weight="normal" fill="#1a1a1a" >0</text>
<line x1="329.5" y1="594.19" x2="331.3" y2="594.19" stroke="#3a3a3a" stroke-width="0.7"/>
<text x="329.3" y="597.2" font-size="8.3" text-anchor="end" font-weight="normal" fill="#1a1a1a" >5</text>
<line x1="329.5" y1="581.63" x2="331.3" y2="581.63" stroke="#3a3a3a" stroke-width="0.7"/>
<text x="329.3" y="584.6" font-size="8.3" text-anchor="end" font-weight="normal" fill="#1a1a1a" >10</text>
<line x1="329.5" y1="569.08" x2="331.3" y2="569.08" stroke="#3a3a3a" stroke-width="0.7"/>
<text x="329.3" y="572.1" font-size="8.3" text-anchor="end" font-weight="normal" fill="#1a1a1a" >15</text>
<line x1="329.5" y1="556.52" x2="331.3" y2="556.52" stroke="#3a3a3a" stroke-width="0.7"/>
<text x="329.3" y="559.5" font-size="8.3" text-anchor="end" font-weight="normal" fill="#1a1a1a" >20</text>
<line x1="329.5" y1="543.97" x2="331.3" y2="543.97" stroke="#3a3a3a" stroke-width="0.7"/>
<text x="329.3" y="547.0" font-size="8.3" text-anchor="end" font-weight="normal" fill="#1a1a1a" >25</text>
<line x1="329.5" y1="531.41" x2="331.3" y2="531.41" stroke="#3a3a3a" stroke-width="0.7"/>
<text x="329.3" y="534.4" font-size="8.3" text-anchor="end" font-weight="normal" fill="#1a1a1a" >30</text>
<line x1="329.5" y1="518.86" x2="331.3" y2="518.86" stroke="#3a3a3a" stroke-width="0.7"/>
<text x="329.3" y="521.9" font-size="8.3" text-anchor="end" font-weight="normal" fill="#1a1a1a" >35</text>
<line x1="344.22" y1="619.3" x2="344.22" y2="621.0999999999999" stroke="#3a3a3a" stroke-width="0.7"/>
<text x="344.2" y="627.6" font-size="8.3" text-anchor="middle" font-weight="normal" fill="#1a1a1a" >15</text>
<line x1="356.65" y1="619.3" x2="356.65" y2="621.0999999999999" stroke="#3a3a3a" stroke-width="0.7"/>
<text x="356.6" y="627.6" font-size="8.3" text-anchor="middle" font-weight="normal" fill="#1a1a1a" >10</text>
<line x1="369.07" y1="619.3" x2="369.07" y2="621.0999999999999" stroke="#3a3a3a" stroke-width="0.7"/>
<text x="369.1" y="627.6" font-size="8.3" text-anchor="middle" font-weight="normal" fill="#1a1a1a" >5</text>
<line x1="381.50" y1="619.3" x2="381.50" y2="621.0999999999999" stroke="#3a3a3a" stroke-width="0.7"/>
<text x="381.5" y="627.6" font-size="8.3" text-anchor="middle" font-weight="normal" fill="#1a1a1a" >0</text>
<line x1="393.93" y1="619.3" x2="393.93" y2="621.0999999999999" stroke="#3a3a3a" stroke-width="0.7"/>
<text x="393.9" y="627.6" font-size="8.3" text-anchor="middle" font-weight="normal" fill="#1a1a1a" >5</text>
<line x1="406.35" y1="619.3" x2="406.35" y2="621.0999999999999" stroke="#3a3a3a" stroke-width="0.7"/>
<text x="406.4" y="627.6" font-size="8.3" text-anchor="middle" font-weight="normal" fill="#1a1a1a" >10</text>
<line x1="418.78" y1="619.3" x2="418.78" y2="621.0999999999999" stroke="#3a3a3a" stroke-width="0.7"/>
<text x="418.8" y="627.6" font-size="8.3" text-anchor="middle" font-weight="normal" fill="#1a1a1a" >15</text>
<text x="381.9" y="637.4" font-size="9.5" text-anchor="middle" font-weight="normal" fill="#1a1a1a" >Radius (Å)</text>
<text x="387.7" y="502.7" font-size="9.6" text-anchor="middle" fill="#1a1a1a">K<tspan dy="-3.6" font-size="6.0">+</tspan><tspan dy="3.6">, -100 mV</tspan></text>
<g transform="translate(454.8,361.5) scale(0.9941,1)"><svg width="101" height="113.0" overflow="hidden"><use href="#gr"/><use href="#ol"/><path fill="#4d8af5" d="M6.4 3.5h.9v.9h-.9zM26.6 4.6h.9v.9h-.9zM49.6 5.5h.9v.9h-.9zM46.8 4.6h.9v.9h-.9zM46.9 4.5h.9v.9h-.9zM46.6 5.3h.9v.9h-.9zM53.6 3.3h.9v.9h-.9zM53.9 3.1h.9v.9h-.9zM28.8 3.9h.9v.9h-.9zM81.5 1.4h.9v.9h-.9zM50.9 4.0h.9v.9h-.9zM59.9 1.1h.9v.9h-.9zM59.2 4.3h.9v.9h-.9zM48.5 3.0h.9v.9h-.9zM50.3 6.2h.9v.9h-.9zM42.0 0.9h.9v.9h-.9zM35.5 2.7h.9v.9h-.9zM62.7 2.0h.9v.9h-.9zM78.6 1.9h.9v.9h-.9zM40.4 2.1h.9v.9h-.9zM58.7 2.8h.9v.9h-.9zM47.6 1.0h.9v.9h-.9zM20.7 1.8h.9v.9h-.9zM17.0 4.1h.9v.9h-.9zM65.0 5.3h.9v.9h-.9zM68.6 4.0h.9v.9h-.9zM76.8 0.9h.9v.9h-.9zM45.9 1.9h.9v.9h-.9zM67.8 4.2h.9v.9h-.9zM85.1 1.6h.9v.9h-.9zM65.9 2.8h.9v.9h-.9zM43.5 1.9h.9v.9h-.9zM29.3 5.3h.9v.9h-.9zM43.4 2.4h.9v.9h-.9zM50.6 2.3h.9v.9h-.9zM57.2 2.0h.9v.9h-.9zM56.4 1.1h.9v.9h-.9zM54.0 1.8h.9v.9h-.9zM3.0 1.1h.9v.9h-.9zM15.8 4.9h.9v.9h-.9zM41.1 1.7h.9v.9h-.9zM59.9 4.5h.9v.9h-.9zM65.4 3.4h.9v.9h-.9zM20.4 2.4h.9v.9h-.9zM49.6 8.4h.9v.9h-.9zM1.0 1.5h.9v.9h-.9zM66.4 3.2h.9v.9h-.9zM42.5 4.7h.9v.9h-.9zM58.3 5.9h.9v.9h-.9zM36.8 3.8h.9v.9h-.9zM64.9 9.3h.9v.9h-.9zM69.8 1.8h.9v.9h-.9zM90.7 1.4h.9v.9h-.9zM56.5 6.7h.9v.9h-.9zM41.2 1.9h.9v.9h-.9zM73.9 1.3h.9v.9h-.9zM61.6 6.2h.9v.9h-.9zM31.0 1.2h.9v.9h-.9zM11.6 3.4h.9v.9h-.9zM57.8 4.3h.9v.9h-.9zM42.0 1.7h.9v.9h-.9zM60.7 3.9h.9v.9h-.9zM61.2 5.9h.9v.9h-.9zM49.3 2.1h.9v.9h-.9zM20.5 1.5h.9v.9h-.9zM93.0 2.2h.9v.9h-.9zM48.4 2.2h.9v.9h-.9zM54.8 5.2h.9v.9h-.9zM33.5 3.5h.9v.9h-.9zM59.4 3.9h.9v.9h-.9zM23.1 0.9h.9v.9h-.9zM62.8 1.8h.9v.9h-.9zM27.8 1.5h.9v.9h-.9zM46.7 1.3h.9v.9h-.9zM71.2 1.3h.9v.9h-.9zM19.2 4.3h.9v.9h-.9zM24.8 2.8h.9v.9h-.9zM54.1 6.2h.9v.9h-.9zM33.0 4.7h.9v.9h-.9zM66.4 2.5h.9v.9h-.9zM61.7 3.1h.9v.9h-.9zM85.5 2.4h.9v.9h-.9zM38.7 3.8h.9v.9h-.9zM47.6 6.2h.9v.9h-.9zM77.8 4.1h.9v.9h-.9zM46.1 1.6h.9v.9h-.9zM43.8 3.5h.9v.9h-.9zM37.4 2.0h.9v.9h-.9zM42.3 5.3h.9v.9h-.9zM66.5 9.6h.9v.9h-.9zM59.7 1.3h.9v.9h-.9zM47.5 2.6h.9v.9h-.9zM31.0 3.8h.9v.9h-.9zM56.0 2.8h.9v.9h-.9zM34.6 3.0h.9v.9h-.9zM41.8 2.4h.9v.9h-.9zM67.5 3.8h.9v.9h-.9zM62.3 1.4h.9v.9h-.9zM61.3 4.9h.9v.9h-.9zM51.3 1.8h.9v.9h-.9zM40.7 4.3h.9v.9h-.9zM48.6 6.8h.9v.9h-.9zM32.6 4.2h.9v.9h-.9zM35.6 2.6h.9v.9h-.9zM48.8 2.9h.9v.9h-.9zM30.5 4.9h.9v.9h-.9zM17.3 5.2h.9v.9h-.9zM42.1 1.4h.9v.9h-.9zM61.5 4.1h.9v.9h-.9zM45.7 2.2h.9v.9h-.9z"/><path fill="#4d8af5" d="M48.6 1.2h.9v.9h-.9zM50.6 4.9h.9v.9h-.9zM52.2 15.0h.9v.9h-.9zM51.3 5.9h.9v.9h-.9zM51.0 11.2h.9v.9h-.9zM50.1 16.3h.9v.9h-.9zM50.2 1.8h.9v.9h-.9zM50.3 4.7h.9v.9h-.9zM52.5 7.2h.9v.9h-.9zM49.8 1.8h.9v.9h-.9zM50.1 19.7h.9v.9h-.9zM50.0 20.3h.9v.9h-.9zM50.8 17.3h.9v.9h-.9zM48.8 18.4h.9v.9h-.9zM49.3 1.1h.9v.9h-.9zM51.6 15.5h.9v.9h-.9zM47.8 17.5h.9v.9h-.9zM51.5 10.4h.9v.9h-.9zM50.1 13.9h.9v.9h-.9zM49.2 1.0h.9v.9h-.9zM50.6 15.7h.9v.9h-.9zM51.3 20.2h.9v.9h-.9zM49.3 14.3h.9v.9h-.9zM49.3 3.9h.9v.9h-.9zM50.5 16.8h.9v.9h-.9zM51.8 9.7h.9v.9h-.9zM50.2 7.5h.9v.9h-.9zM49.7 4.4h.9v.9h-.9zM49.4 3.1h.9v.9h-.9zM51.2 20.5h.9v.9h-.9zM52.1 8.2h.9v.9h-.9zM50.6 20.7h.9v.9h-.9zM50.4 15.4h.9v.9h-.9zM50.7 8.8h.9v.9h-.9zM51.1 10.2h.9v.9h-.9zM49.2 14.8h.9v.9h-.9zM50.1 4.9h.9v.9h-.9zM49.7 14.7h.9v.9h-.9zM50.2 4.2h.9v.9h-.9zM50.4 9.9h.9v.9h-.9zM51.5 9.2h.9v.9h-.9zM51.2 7.1h.9v.9h-.9zM50.5 2.2h.9v.9h-.9zM48.9 13.5h.9v.9h-.9zM51.9 21.7h.9v.9h-.9zM50.4 5.7h.9v.9h-.9zM50.7 5.8h.9v.9h-.9zM51.4 4.2h.9v.9h-.9z"/><path fill="#9a2cf0" d="M43.6 92.6h.9v.9h-.9zM50.4 106.1h.9v.9h-.9zM50.9 87.0h.9v.9h-.9zM45.0 92.9h.9v.9h-.9zM51.3 86.2h.9v.9h-.9zM48.9 92.6h.9v.9h-.9zM53.3 93.9h.9v.9h-.9zM33.4 109.8h.9v.9h-.9zM55.0 108.1h.9v.9h-.9zM48.0 87.5h.9v.9h-.9zM51.7 92.1h.9v.9h-.9zM51.7 89.5h.9v.9h-.9zM53.8 94.3h.9v.9h-.9zM52.3 108.2h.9v.9h-.9zM43.3 92.3h.9v.9h-.9zM50.2 86.4h.9v.9h-.9zM49.0 104.9h.9v.9h-.9zM50.0 109.2h.9v.9h-.9zM64.3 106.7h.9v.9h-.9zM58.9 101.0h.9v.9h-.9zM50.8 102.5h.9v.9h-.9zM52.0 104.3h.9v.9h-.9zM51.2 104.5h.9v.9h-.9zM51.8 100.9h.9v.9h-.9zM45.9 94.0h.9v.9h-.9zM59.6 100.7h.9v.9h-.9zM49.0 89.1h.9v.9h-.9zM42.2 100.8h.9v.9h-.9zM39.6 110.8h.9v.9h-.9zM51.1 87.5h.9v.9h-.9zM49.2 93.8h.9v.9h-.9zM55.7 99.3h.9v.9h-.9zM50.1 89.0h.9v.9h-.9zM49.3 92.6h.9v.9h-.9zM55.4 101.2h.9v.9h-.9zM51.4 107.0h.9v.9h-.9zM47.8 105.0h.9v.9h-.9zM53.3 105.5h.9v.9h-.9zM57.0 108.6h.9v.9h-.9zM53.2 100.2h.9v.9h-.9zM53.9 104.0h.9v.9h-.9zM60.7 101.8h.9v.9h-.9zM60.2 106.8h.9v.9h-.9zM47.6 103.4h.9v.9h-.9zM49.9 93.7h.9v.9h-.9zM57.0 107.1h.9v.9h-.9zM48.3 101.5h.9v.9h-.9zM61.6 99.4h.9v.9h-.9zM43.3 111.5h.9v.9h-.9zM44.8 95.0h.9v.9h-.9zM38.9 111.8h.9v.9h-.9zM51.4 96.5h.9v.9h-.9zM52.7 99.6h.9v.9h-.9zM54.5 96.7h.9v.9h-.9zM52.8 105.3h.9v.9h-.9zM53.8 102.7h.9v.9h-.9zM51.2 98.3h.9v.9h-.9zM49.9 97.5h.9v.9h-.9zM50.7 107.6h.9v.9h-.9zM45.6 99.4h.9v.9h-.9zM52.4 96.3h.9v.9h-.9zM50.5 91.9h.9v.9h-.9zM52.6 108.7h.9v.9h-.9zM54.7 100.5h.9v.9h-.9zM47.3 104.1h.9v.9h-.9zM47.6 94.9h.9v.9h-.9zM51.2 86.3h.9v.9h-.9zM46.8 93.6h.9v.9h-.9zM48.5 91.4h.9v.9h-.9zM50.6 94.5h.9v.9h-.9zM51.8 88.7h.9v.9h-.9zM55.3 94.5h.9v.9h-.9zM51.2 88.8h.9v.9h-.9zM49.3 96.7h.9v.9h-.9zM53.6 93.6h.9v.9h-.9zM51.9 97.5h.9v.9h-.9zM50.2 103.9h.9v.9h-.9zM57.6 109.4h.9v.9h-.9zM46.7 102.5h.9v.9h-.9zM52.1 106.4h.9v.9h-.9z"/></svg></g>
<rect x="454.8" y="361.5" width="100.4" height="113.0" fill="none" stroke="#3a3a3a" stroke-width="1.05"/>
<line x1="453.0" y1="461.94" x2="454.8" y2="461.94" stroke="#3a3a3a" stroke-width="0.7"/>
<text x="452.8" y="464.9" font-size="8.3" text-anchor="end" font-weight="normal" fill="#1a1a1a" >0</text>
<line x1="453.0" y1="449.39" x2="454.8" y2="449.39" stroke="#3a3a3a" stroke-width="0.7"/>
<text x="452.8" y="452.4" font-size="8.3" text-anchor="end" font-weight="normal" fill="#1a1a1a" >5</text>
<line x1="453.0" y1="436.83" x2="454.8" y2="436.83" stroke="#3a3a3a" stroke-width="0.7"/>
<text x="452.8" y="439.8" font-size="8.3" text-anchor="end" font-weight="normal" fill="#1a1a1a" >10</text>
<line x1="453.0" y1="424.28" x2="454.8" y2="424.28" stroke="#3a3a3a" stroke-width="0.7"/>
<text x="452.8" y="427.3" font-size="8.3" text-anchor="end" font-weight="normal" fill="#1a1a1a" >15</text>
<line x1="453.0" y1="411.72" x2="454.8" y2="411.72" stroke="#3a3a3a" stroke-width="0.7"/>
<text x="452.8" y="414.7" font-size="8.3" text-anchor="end" font-weight="normal" fill="#1a1a1a" >20</text>
<line x1="453.0" y1="399.17" x2="454.8" y2="399.17" stroke="#3a3a3a" stroke-width="0.7"/>
<text x="452.8" y="402.2" font-size="8.3" text-anchor="end" font-weight="normal" fill="#1a1a1a" >25</text>
<line x1="453.0" y1="386.61" x2="454.8" y2="386.61" stroke="#3a3a3a" stroke-width="0.7"/>
<text x="452.8" y="389.6" font-size="8.3" text-anchor="end" font-weight="normal" fill="#1a1a1a" >30</text>
<line x1="453.0" y1="374.06" x2="454.8" y2="374.06" stroke="#3a3a3a" stroke-width="0.7"/>
<text x="452.8" y="377.1" font-size="8.3" text-anchor="end" font-weight="normal" fill="#1a1a1a" >35</text>
<line x1="467.72" y1="474.5" x2="467.72" y2="476.3" stroke="#3a3a3a" stroke-width="0.7"/>
<text x="467.7" y="482.8" font-size="8.3" text-anchor="middle" font-weight="normal" fill="#1a1a1a" >15</text>
<line x1="480.15" y1="474.5" x2="480.15" y2="476.3" stroke="#3a3a3a" stroke-width="0.7"/>
<text x="480.1" y="482.8" font-size="8.3" text-anchor="middle" font-weight="normal" fill="#1a1a1a" >10</text>
<line x1="492.57" y1="474.5" x2="492.57" y2="476.3" stroke="#3a3a3a" stroke-width="0.7"/>
<text x="492.6" y="482.8" font-size="8.3" text-anchor="middle" font-weight="normal" fill="#1a1a1a" >5</text>
<line x1="505.00" y1="474.5" x2="505.00" y2="476.3" stroke="#3a3a3a" stroke-width="0.7"/>
<text x="505.0" y="482.8" font-size="8.3" text-anchor="middle" font-weight="normal" fill="#1a1a1a" >0</text>
<line x1="517.43" y1="474.5" x2="517.43" y2="476.3" stroke="#3a3a3a" stroke-width="0.7"/>
<text x="517.4" y="482.8" font-size="8.3" text-anchor="middle" font-weight="normal" fill="#1a1a1a" >5</text>
<line x1="529.85" y1="474.5" x2="529.85" y2="476.3" stroke="#3a3a3a" stroke-width="0.7"/>
<text x="529.9" y="482.8" font-size="8.3" text-anchor="middle" font-weight="normal" fill="#1a1a1a" >10</text>
<line x1="542.28" y1="474.5" x2="542.28" y2="476.3" stroke="#3a3a3a" stroke-width="0.7"/>
<text x="542.3" y="482.8" font-size="8.3" text-anchor="middle" font-weight="normal" fill="#1a1a1a" >15</text>
<text x="511.2" y="357.9" font-size="9.6" text-anchor="middle" fill="#1a1a1a">Na<tspan dy="-3.6" font-size="6.0">+</tspan><tspan dy="3.6">, +100 mV</tspan></text>
<g transform="translate(454.8,506.3) scale(0.9941,1)"><svg width="101" height="113.0" overflow="hidden"><use href="#gr"/><use href="#ol"/><path fill="#4d8af5" d="M52.5 10.6h.9v.9h-.9zM46.9 0.9h.9v.9h-.9zM51.1 4.3h.9v.9h-.9zM63.9 1.9h.9v.9h-.9zM43.8 6.6h.9v.9h-.9zM90.6 2.8h.9v.9h-.9zM48.4 6.6h.9v.9h-.9zM47.7 7.2h.9v.9h-.9zM53.9 2.8h.9v.9h-.9zM59.8 1.5h.9v.9h-.9zM58.4 1.1h.9v.9h-.9zM85.0 1.1h.9v.9h-.9zM80.4 4.4h.9v.9h-.9zM47.7 5.9h.9v.9h-.9zM65.8 2.6h.9v.9h-.9zM26.2 3.6h.9v.9h-.9zM74.8 3.4h.9v.9h-.9zM47.1 6.1h.9v.9h-.9zM29.8 2.0h.9v.9h-.9zM57.9 1.5h.9v.9h-.9zM47.1 3.1h.9v.9h-.9zM57.7 7.7h.9v.9h-.9zM42.9 1.1h.9v.9h-.9zM57.2 9.5h.9v.9h-.9zM31.3 3.1h.9v.9h-.9zM61.6 4.1h.9v.9h-.9zM54.5 3.3h.9v.9h-.9zM44.2 5.2h.9v.9h-.9zM46.8 8.3h.9v.9h-.9zM41.8 6.0h.9v.9h-.9zM30.7 2.3h.9v.9h-.9zM79.4 0.9h.9v.9h-.9zM45.5 5.6h.9v.9h-.9zM49.0 2.9h.9v.9h-.9zM50.0 4.3h.9v.9h-.9zM16.9 0.9h.9v.9h-.9zM34.6 2.4h.9v.9h-.9zM59.7 3.5h.9v.9h-.9zM70.6 2.5h.9v.9h-.9zM78.4 1.8h.9v.9h-.9zM47.7 1.8h.9v.9h-.9zM56.5 9.4h.9v.9h-.9zM53.9 7.0h.9v.9h-.9zM71.4 1.8h.9v.9h-.9zM52.1 1.0h.9v.9h-.9zM41.8 3.2h.9v.9h-.9zM48.2 3.2h.9v.9h-.9zM22.8 1.6h.9v.9h-.9zM56.7 2.2h.9v.9h-.9zM47.1 1.4h.9v.9h-.9zM48.6 1.6h.9v.9h-.9zM47.2 5.2h.9v.9h-.9zM55.9 2.7h.9v.9h-.9zM45.1 4.6h.9v.9h-.9zM66.3 2.0h.9v.9h-.9zM37.7 2.8h.9v.9h-.9zM25.6 2.9h.9v.9h-.9zM42.2 4.0h.9v.9h-.9zM49.6 2.3h.9v.9h-.9zM82.0 3.4h.9v.9h-.9zM69.2 4.3h.9v.9h-.9zM67.5 1.7h.9v.9h-.9zM80.6 4.8h.9v.9h-.9zM55.8 6.1h.9v.9h-.9zM36.1 4.5h.9v.9h-.9zM46.1 5.2h.9v.9h-.9zM10.1 1.5h.9v.9h-.9zM35.8 3.9h.9v.9h-.9zM46.3 3.9h.9v.9h-.9zM51.1 1.4h.9v.9h-.9zM16.8 4.9h.9v.9h-.9zM31.9 1.7h.9v.9h-.9zM9.9 1.5h.9v.9h-.9zM67.5 2.1h.9v.9h-.9zM49.8 2.4h.9v.9h-.9zM63.5 1.7h.9v.9h-.9zM49.7 5.2h.9v.9h-.9zM61.9 0.9h.9v.9h-.9zM62.9 5.0h.9v.9h-.9zM75.9 1.6h.9v.9h-.9zM61.6 8.1h.9v.9h-.9zM46.5 2.8h.9v.9h-.9zM89.9 3.1h.9v.9h-.9zM49.7 5.4h.9v.9h-.9zM63.0 1.4h.9v.9h-.9zM83.4 1.4h.9v.9h-.9zM25.2 4.7h.9v.9h-.9zM48.5 1.0h.9v.9h-.9zM55.3 3.5h.9v.9h-.9zM25.5 2.7h.9v.9h-.9z"/><path fill="#4d8af5" d="M52.5 14.4h.9v.9h-.9zM51.7 19.1h.9v.9h-.9zM50.1 2.0h.9v.9h-.9zM51.1 15.0h.9v.9h-.9zM51.6 9.0h.9v.9h-.9zM52.4 2.3h.9v.9h-.9zM51.4 19.6h.9v.9h-.9zM50.7 13.4h.9v.9h-.9zM52.1 5.8h.9v.9h-.9zM50.1 12.1h.9v.9h-.9zM51.2 6.7h.9v.9h-.9zM49.7 3.4h.9v.9h-.9zM50.3 15.6h.9v.9h-.9zM50.3 9.4h.9v.9h-.9zM52.9 6.4h.9v.9h-.9zM50.1 8.6h.9v.9h-.9zM48.4 16.3h.9v.9h-.9zM48.9 7.2h.9v.9h-.9zM53.3 1.6h.9v.9h-.9zM51.8 14.0h.9v.9h-.9zM50.5 6.9h.9v.9h-.9zM49.6 8.5h.9v.9h-.9zM51.0 4.8h.9v.9h-.9zM49.1 1.4h.9v.9h-.9zM50.1 19.5h.9v.9h-.9zM50.4 5.4h.9v.9h-.9zM51.6 15.1h.9v.9h-.9zM49.4 9.4h.9v.9h-.9zM51.2 11.6h.9v.9h-.9zM52.9 9.8h.9v.9h-.9zM52.0 7.8h.9v.9h-.9zM51.0 17.6h.9v.9h-.9zM49.8 9.8h.9v.9h-.9zM51.5 6.7h.9v.9h-.9zM51.4 5.1h.9v.9h-.9zM52.8 10.8h.9v.9h-.9zM50.3 17.9h.9v.9h-.9zM50.1 3.5h.9v.9h-.9zM49.8 13.1h.9v.9h-.9zM51.1 13.4h.9v.9h-.9zM52.1 5.5h.9v.9h-.9zM50.9 11.0h.9v.9h-.9zM47.9 21.4h.9v.9h-.9zM50.3 10.6h.9v.9h-.9zM50.6 8.3h.9v.9h-.9zM51.6 21.2h.9v.9h-.9zM49.9 4.2h.9v.9h-.9zM50.4 1.9h.9v.9h-.9z"/><path fill="#9a2cf0" d="M51.2 104.5h.9v.9h-.9zM51.0 86.9h.9v.9h-.9zM58.3 109.9h.9v.9h-.9zM56.2 92.1h.9v.9h-.9zM50.8 104.1h.9v.9h-.9zM56.2 89.6h.9v.9h-.9zM43.9 110.3h.9v.9h-.9zM40.2 107.4h.9v.9h-.9zM49.1 89.2h.9v.9h-.9zM47.2 102.7h.9v.9h-.9zM53.4 94.1h.9v.9h-.9zM52.3 88.1h.9v.9h-.9zM46.6 86.2h.9v.9h-.9zM57.0 99.3h.9v.9h-.9zM51.1 90.3h.9v.9h-.9zM46.6 111.0h.9v.9h-.9zM54.7 92.8h.9v.9h-.9zM56.7 109.5h.9v.9h-.9zM50.7 91.9h.9v.9h-.9zM41.6 105.4h.9v.9h-.9zM56.5 94.5h.9v.9h-.9zM49.2 89.3h.9v.9h-.9zM50.9 90.0h.9v.9h-.9zM47.2 99.6h.9v.9h-.9zM49.4 90.7h.9v.9h-.9zM44.8 99.6h.9v.9h-.9zM52.8 103.4h.9v.9h-.9zM51.7 89.7h.9v.9h-.9zM50.7 106.7h.9v.9h-.9zM53.7 104.3h.9v.9h-.9zM53.5 94.0h.9v.9h-.9zM40.5 110.0h.9v.9h-.9zM52.9 88.2h.9v.9h-.9zM51.1 87.1h.9v.9h-.9zM57.3 97.6h.9v.9h-.9zM55.1 108.7h.9v.9h-.9zM40.1 111.9h.9v.9h-.9zM53.0 111.0h.9v.9h-.9zM49.2 96.4h.9v.9h-.9zM47.6 89.8h.9v.9h-.9zM48.3 88.4h.9v.9h-.9zM46.6 88.1h.9v.9h-.9zM51.9 96.6h.9v.9h-.9zM45.4 98.3h.9v.9h-.9zM43.3 104.4h.9v.9h-.9zM54.9 96.8h.9v.9h-.9zM55.2 87.1h.9v.9h-.9zM52.2 91.3h.9v.9h-.9zM57.7 102.2h.9v.9h-.9zM46.7 88.6h.9v.9h-.9zM49.8 103.9h.9v.9h-.9zM50.2 87.9h.9v.9h-.9zM47.0 96.0h.9v.9h-.9zM52.8 89.2h.9v.9h-.9zM42.6 107.1h.9v.9h-.9zM54.6 99.4h.9v.9h-.9zM52.3 88.0h.9v.9h-.9zM50.5 88.6h.9v.9h-.9zM50.5 96.1h.9v.9h-.9zM51.2 87.1h.9v.9h-.9z"/><path fill="#4d8af5" d="M42.6 86.9h.9v.9h-.9zM53.8 95.5h.9v.9h-.9zM50.0 94.1h.9v.9h-.9zM57.3 111.7h.9v.9h-.9zM47.7 103.4h.9v.9h-.9zM50.2 106.6h.9v.9h-.9zM50.7 95.7h.9v.9h-.9zM57.0 104.0h.9v.9h-.9zM49.4 96.7h.9v.9h-.9zM49.8 95.9h.9v.9h-.9zM49.5 109.7h.9v.9h-.9zM51.3 110.8h.9v.9h-.9zM50.6 94.2h.9v.9h-.9zM51.3 89.8h.9v.9h-.9zM39.7 100.2h.9v.9h-.9zM51.2 110.5h.9v.9h-.9zM53.4 96.0h.9v.9h-.9zM54.0 97.7h.9v.9h-.9zM64.4 105.5h.9v.9h-.9zM51.0 93.5h.9v.9h-.9z"/></svg></g>
<rect x="454.8" y="506.3" width="100.4" height="113.0" fill="none" stroke="#3a3a3a" stroke-width="1.05"/>
<line x1="453.0" y1="606.74" x2="454.8" y2="606.74" stroke="#3a3a3a" stroke-width="0.7"/>
<text x="452.8" y="609.7" font-size="8.3" text-anchor="end" font-weight="normal" fill="#1a1a1a" >0</text>
<line x1="453.0" y1="594.19" x2="454.8" y2="594.19" stroke="#3a3a3a" stroke-width="0.7"/>
<text x="452.8" y="597.2" font-size="8.3" text-anchor="end" font-weight="normal" fill="#1a1a1a" >5</text>
<line x1="453.0" y1="581.63" x2="454.8" y2="581.63" stroke="#3a3a3a" stroke-width="0.7"/>
<text x="452.8" y="584.6" font-size="8.3" text-anchor="end" font-weight="normal" fill="#1a1a1a" >10</text>
<line x1="453.0" y1="569.08" x2="454.8" y2="569.08" stroke="#3a3a3a" stroke-width="0.7"/>
<text x="452.8" y="572.1" font-size="8.3" text-anchor="end" font-weight="normal" fill="#1a1a1a" >15</text>
<line x1="453.0" y1="556.52" x2="454.8" y2="556.52" stroke="#3a3a3a" stroke-width="0.7"/>
<text x="452.8" y="559.5" font-size="8.3" text-anchor="end" font-weight="normal" fill="#1a1a1a" >20</text>
<line x1="453.0" y1="543.97" x2="454.8" y2="543.97" stroke="#3a3a3a" stroke-width="0.7"/>
<text x="452.8" y="547.0" font-size="8.3" text-anchor="end" font-weight="normal" fill="#1a1a1a" >25</text>
<line x1="453.0" y1="531.41" x2="454.8" y2="531.41" stroke="#3a3a3a" stroke-width="0.7"/>
<text x="452.8" y="534.4" font-size="8.3" text-anchor="end" font-weight="normal" fill="#1a1a1a" >30</text>
<line x1="453.0" y1="518.86" x2="454.8" y2="518.86" stroke="#3a3a3a" stroke-width="0.7"/>
<text x="452.8" y="521.9" font-size="8.3" text-anchor="end" font-weight="normal" fill="#1a1a1a" >35</text>
<line x1="467.72" y1="619.3" x2="467.72" y2="621.0999999999999" stroke="#3a3a3a" stroke-width="0.7"/>
<text x="467.7" y="627.6" font-size="8.3" text-anchor="middle" font-weight="normal" fill="#1a1a1a" >15</text>
<line x1="480.15" y1="619.3" x2="480.15" y2="621.0999999999999" stroke="#3a3a3a" stroke-width="0.7"/>
<text x="480.1" y="627.6" font-size="8.3" text-anchor="middle" font-weight="normal" fill="#1a1a1a" >10</text>
<line x1="492.57" y1="619.3" x2="492.57" y2="621.0999999999999" stroke="#3a3a3a" stroke-width="0.7"/>
<text x="492.6" y="627.6" font-size="8.3" text-anchor="middle" font-weight="normal" fill="#1a1a1a" >5</text>
<line x1="505.00" y1="619.3" x2="505.00" y2="621.0999999999999" stroke="#3a3a3a" stroke-width="0.7"/>
<text x="505.0" y="627.6" font-size="8.3" text-anchor="middle" font-weight="normal" fill="#1a1a1a" >0</text>
<line x1="517.43" y1="619.3" x2="517.43" y2="621.0999999999999" stroke="#3a3a3a" stroke-width="0.7"/>
<text x="517.4" y="627.6" font-size="8.3" text-anchor="middle" font-weight="normal" fill="#1a1a1a" >5</text>
<line x1="529.85" y1="619.3" x2="529.85" y2="621.0999999999999" stroke="#3a3a3a" stroke-width="0.7"/>
<text x="529.9" y="627.6" font-size="8.3" text-anchor="middle" font-weight="normal" fill="#1a1a1a" >10</text>
<line x1="542.28" y1="619.3" x2="542.28" y2="621.0999999999999" stroke="#3a3a3a" stroke-width="0.7"/>
<text x="542.3" y="627.6" font-size="8.3" text-anchor="middle" font-weight="normal" fill="#1a1a1a" >15</text>
<text x="505.4" y="637.4" font-size="9.5" text-anchor="middle" font-weight="normal" fill="#1a1a1a" >Radius (Å)</text>
<text x="511.2" y="502.7" font-size="9.6" text-anchor="middle" fill="#1a1a1a">K<tspan dy="-3.6" font-size="6.0">+</tspan><tspan dy="3.6">, +100 mV</tspan></text>
<g transform="translate(578.3,361.5) scale(0.9941,1)"><svg width="101" height="113.0" overflow="hidden"><use href="#gr"/><use href="#ol"/><path fill="#4d8af5" d="M63.4 4.8h.9v.9h-.9zM27.7 2.6h.9v.9h-.9zM55.6 5.8h.9v.9h-.9zM45.2 3.3h.9v.9h-.9zM34.9 1.7h.9v.9h-.9zM27.9 1.8h.9v.9h-.9zM89.8 2.5h.9v.9h-.9zM33.7 1.7h.9v.9h-.9zM45.3 9.5h.9v.9h-.9zM52.8 1.2h.9v.9h-.9zM43.7 7.9h.9v.9h-.9zM56.2 5.0h.9v.9h-.9zM30.6 4.2h.9v.9h-.9zM48.4 1.8h.9v.9h-.9zM60.0 0.8h.9v.9h-.9zM79.6 0.9h.9v.9h-.9zM67.2 3.4h.9v.9h-.9zM47.7 17.6h.9v.9h-.9zM71.3 1.6h.9v.9h-.9zM49.4 9.2h.9v.9h-.9zM37.0 2.4h.9v.9h-.9zM60.3 2.9h.9v.9h-.9zM42.1 3.7h.9v.9h-.9zM41.6 2.3h.9v.9h-.9zM44.8 5.2h.9v.9h-.9zM60.6 1.0h.9v.9h-.9zM80.8 4.5h.9v.9h-.9zM61.9 0.8h.9v.9h-.9zM64.1 4.4h.9v.9h-.9zM61.1 2.5h.9v.9h-.9zM53.6 4.2h.9v.9h-.9zM26.2 2.7h.9v.9h-.9zM39.1 7.2h.9v.9h-.9zM34.1 5.3h.9v.9h-.9zM40.2 0.8h.9v.9h-.9zM44.5 1.8h.9v.9h-.9zM42.0 4.0h.9v.9h-.9zM75.6 4.2h.9v.9h-.9zM55.0 2.3h.9v.9h-.9zM52.1 9.1h.9v.9h-.9zM42.5 2.4h.9v.9h-.9zM40.3 0.9h.9v.9h-.9zM43.8 3.6h.9v.9h-.9zM55.9 7.4h.9v.9h-.9zM19.6 0.9h.9v.9h-.9zM56.2 1.0h.9v.9h-.9zM53.9 0.7h.9v.9h-.9zM65.9 3.2h.9v.9h-.9zM15.4 2.3h.9v.9h-.9zM7.9 0.9h.9v.9h-.9zM65.2 3.7h.9v.9h-.9zM55.8 10.4h.9v.9h-.9zM55.9 5.4h.9v.9h-.9zM48.4 1.5h.9v.9h-.9zM33.8 2.1h.9v.9h-.9zM39.0 1.3h.9v.9h-.9zM40.3 1.5h.9v.9h-.9zM66.2 2.6h.9v.9h-.9zM49.1 3.4h.9v.9h-.9zM44.4 5.5h.9v.9h-.9zM44.8 3.4h.9v.9h-.9zM60.1 4.5h.9v.9h-.9zM34.8 3.4h.9v.9h-.9zM38.2 5.4h.9v.9h-.9zM55.6 7.1h.9v.9h-.9zM63.3 4.2h.9v.9h-.9zM46.3 1.6h.9v.9h-.9zM59.2 12.1h.9v.9h-.9zM20.7 3.7h.9v.9h-.9zM53.3 2.8h.9v.9h-.9zM55.7 1.1h.9v.9h-.9zM46.8 2.0h.9v.9h-.9zM34.3 6.5h.9v.9h-.9zM62.2 6.9h.9v.9h-.9zM44.7 4.4h.9v.9h-.9zM59.3 7.6h.9v.9h-.9zM63.2 3.8h.9v.9h-.9zM48.0 2.3h.9v.9h-.9zM88.8 2.1h.9v.9h-.9zM59.1 1.6h.9v.9h-.9zM69.0 1.5h.9v.9h-.9zM47.0 6.5h.9v.9h-.9zM45.8 4.7h.9v.9h-.9zM36.2 3.4h.9v.9h-.9zM49.5 8.8h.9v.9h-.9zM43.6 4.2h.9v.9h-.9zM36.5 1.7h.9v.9h-.9zM40.4 4.4h.9v.9h-.9zM50.4 4.1h.9v.9h-.9zM45.0 5.5h.9v.9h-.9zM54.2 6.6h.9v.9h-.9zM80.5 3.1h.9v.9h-.9zM64.2 1.8h.9v.9h-.9zM66.9 0.9h.9v.9h-.9zM79.8 1.2h.9v.9h-.9zM71.8 0.9h.9v.9h-.9zM57.1 1.3h.9v.9h-.9zM59.7 6.4h.9v.9h-.9zM57.2 3.4h.9v.9h-.9zM30.4 2.0h.9v.9h-.9zM43.5 10.8h.9v.9h-.9zM53.2 8.8h.9v.9h-.9zM67.4 8.0h.9v.9h-.9zM36.0 1.5h.9v.9h-.9zM66.8 4.3h.9v.9h-.9zM38.9 1.3h.9v.9h-.9zM25.6 3.4h.9v.9h-.9zM74.5 2.7h.9v.9h-.9zM38.8 10.2h.9v.9h-.9zM50.3 2.6h.9v.9h-.9zM47.3 3.3h.9v.9h-.9zM38.8 1.7h.9v.9h-.9zM16.0 1.0h.9v.9h-.9zM51.2 4.4h.9v.9h-.9zM56.9 3.3h.9v.9h-.9zM70.3 5.7h.9v.9h-.9zM61.3 3.4h.9v.9h-.9zM26.5 3.6h.9v.9h-.9zM82.8 1.0h.9v.9h-.9zM63.5 2.5h.9v.9h-.9zM47.2 3.8h.9v.9h-.9zM29.5 2.6h.9v.9h-.9zM35.9 6.7h.9v.9h-.9zM38.3 3.8h.9v.9h-.9zM33.1 6.5h.9v.9h-.9zM40.7 8.4h.9v.9h-.9zM63.8 3.7h.9v.9h-.9zM64.4 3.8h.9v.9h-.9zM48.8 3.7h.9v.9h-.9zM11.7 2.2h.9v.9h-.9zM50.1 3.4h.9v.9h-.9zM50.3 3.9h.9v.9h-.9zM46.3 7.0h.9v.9h-.9zM78.0 1.7h.9v.9h-.9zM37.9 7.8h.9v.9h-.9zM31.3 0.9h.9v.9h-.9zM40.5 6.9h.9v.9h-.9zM81.5 1.6h.9v.9h-.9zM24.9 1.7h.9v.9h-.9zM43.2 4.8h.9v.9h-.9zM34.0 1.5h.9v.9h-.9zM57.0 3.8h.9v.9h-.9zM52.5 10.8h.9v.9h-.9zM72.2 4.8h.9v.9h-.9zM48.2 5.9h.9v.9h-.9zM49.4 5.5h.9v.9h-.9zM49.8 1.6h.9v.9h-.9zM49.2 1.0h.9v.9h-.9zM31.5 1.2h.9v.9h-.9zM41.3 3.5h.9v.9h-.9zM80.9 4.3h.9v.9h-.9zM67.5 2.3h.9v.9h-.9zM40.7 9.5h.9v.9h-.9zM6.8 2.7h.9v.9h-.9zM66.5 1.5h.9v.9h-.9zM19.5 1.1h.9v.9h-.9zM37.4 5.0h.9v.9h-.9zM72.8 4.4h.9v.9h-.9zM66.7 3.3h.9v.9h-.9zM80.7 4.1h.9v.9h-.9zM26.6 5.5h.9v.9h-.9zM39.6 1.8h.9v.9h-.9zM32.5 2.1h.9v.9h-.9zM69.8 4.5h.9v.9h-.9zM65.9 2.9h.9v.9h-.9zM46.2 2.7h.9v.9h-.9zM99.1 2.2h.9v.9h-.9zM30.1 2.4h.9v.9h-.9zM71.8 5.5h.9v.9h-.9zM65.2 2.9h.9v.9h-.9z"/><path fill="#4d8af5" d="M49.8 16.2h.9v.9h-.9zM49.8 7.4h.9v.9h-.9zM51.4 18.1h.9v.9h-.9zM48.4 2.1h.9v.9h-.9zM49.4 8.9h.9v.9h-.9zM51.1 4.7h.9v.9h-.9zM50.1 4.3h.9v.9h-.9zM50.2 9.7h.9v.9h-.9zM51.5 21.3h.9v.9h-.9zM50.5 15.1h.9v.9h-.9zM49.2 13.2h.9v.9h-.9zM48.7 16.5h.9v.9h-.9zM48.7 19.4h.9v.9h-.9zM50.8 0.8h.9v.9h-.9zM50.7 14.4h.9v.9h-.9zM50.4 2.3h.9v.9h-.9zM50.5 3.7h.9v.9h-.9zM49.4 18.7h.9v.9h-.9zM50.5 8.9h.9v.9h-.9zM52.7 12.6h.9v.9h-.9zM48.9 8.3h.9v.9h-.9zM51.1 11.7h.9v.9h-.9zM50.6 3.1h.9v.9h-.9zM51.4 6.3h.9v.9h-.9zM50.2 3.9h.9v.9h-.9zM52.0 4.1h.9v.9h-.9zM51.9 2.6h.9v.9h-.9zM50.3 19.1h.9v.9h-.9zM50.6 21.2h.9v.9h-.9zM49.1 12.1h.9v.9h-.9zM50.6 2.7h.9v.9h-.9zM50.6 10.6h.9v.9h-.9zM48.7 2.3h.9v.9h-.9zM49.9 2.3h.9v.9h-.9zM51.3 20.6h.9v.9h-.9zM51.0 17.3h.9v.9h-.9zM51.8 4.6h.9v.9h-.9zM50.9 5.6h.9v.9h-.9zM50.2 7.1h.9v.9h-.9zM51.2 5.6h.9v.9h-.9zM49.8 12.7h.9v.9h-.9zM51.6 16.3h.9v.9h-.9zM50.5 12.9h.9v.9h-.9zM50.7 7.4h.9v.9h-.9zM50.8 20.9h.9v.9h-.9zM51.5 13.5h.9v.9h-.9zM50.4 12.3h.9v.9h-.9zM50.2 15.6h.9v.9h-.9z"/><path fill="#9a2cf0" d="M50.7 108.5h.9v.9h-.9zM48.0 111.7h.9v.9h-.9zM50.9 86.4h.9v.9h-.9zM42.1 110.1h.9v.9h-.9zM50.4 110.6h.9v.9h-.9zM48.0 102.8h.9v.9h-.9zM49.1 89.1h.9v.9h-.9zM51.5 93.8h.9v.9h-.9zM49.4 87.4h.9v.9h-.9zM50.1 92.3h.9v.9h-.9zM48.2 106.2h.9v.9h-.9zM59.5 108.5h.9v.9h-.9zM56.2 102.5h.9v.9h-.9zM42.6 92.4h.9v.9h-.9zM58.1 90.8h.9v.9h-.9zM50.2 94.4h.9v.9h-.9zM55.1 110.1h.9v.9h-.9zM53.1 108.5h.9v.9h-.9zM51.9 88.7h.9v.9h-.9zM46.9 106.0h.9v.9h-.9zM46.5 89.3h.9v.9h-.9zM50.5 100.5h.9v.9h-.9zM61.4 108.4h.9v.9h-.9zM52.9 108.2h.9v.9h-.9zM51.3 99.6h.9v.9h-.9zM58.9 97.2h.9v.9h-.9zM51.4 92.8h.9v.9h-.9zM38.9 107.4h.9v.9h-.9zM51.6 98.8h.9v.9h-.9zM50.6 100.4h.9v.9h-.9zM49.5 87.0h.9v.9h-.9zM48.0 106.2h.9v.9h-.9zM49.8 86.5h.9v.9h-.9zM45.3 112.0h.9v.9h-.9zM40.8 98.3h.9v.9h-.9zM49.7 93.4h.9v.9h-.9zM49.9 111.3h.9v.9h-.9zM51.5 93.3h.9v.9h-.9zM49.2 95.5h.9v.9h-.9zM48.9 109.5h.9v.9h-.9zM50.0 106.2h.9v.9h-.9zM42.5 87.4h.9v.9h-.9zM52.9 103.8h.9v.9h-.9zM48.2 96.7h.9v.9h-.9zM54.0 91.2h.9v.9h-.9zM47.0 107.6h.9v.9h-.9zM45.5 92.6h.9v.9h-.9zM46.3 94.9h.9v.9h-.9zM55.2 93.0h.9v.9h-.9zM53.8 96.7h.9v.9h-.9zM49.2 91.2h.9v.9h-.9zM52.9 89.2h.9v.9h-.9zM52.7 101.4h.9v.9h-.9zM53.0 95.4h.9v.9h-.9zM49.1 111.7h.9v.9h-.9zM45.8 108.0h.9v.9h-.9zM44.0 110.4h.9v.9h-.9zM59.6 102.4h.9v.9h-.9zM57.2 100.4h.9v.9h-.9zM45.5 102.8h.9v.9h-.9zM47.1 110.4h.9v.9h-.9zM50.8 86.2h.9v.9h-.9zM37.8 104.8h.9v.9h-.9zM53.5 111.3h.9v.9h-.9zM52.0 92.6h.9v.9h-.9zM53.6 86.6h.9v.9h-.9zM52.7 88.6h.9v.9h-.9zM52.3 97.5h.9v.9h-.9zM48.3 91.1h.9v.9h-.9zM39.7 107.6h.9v.9h-.9zM50.8 100.2h.9v.9h-.9zM39.1 104.9h.9v.9h-.9zM43.6 94.3h.9v.9h-.9zM47.3 92.4h.9v.9h-.9zM56.4 95.3h.9v.9h-.9zM50.8 89.0h.9v.9h-.9zM51.4 97.6h.9v.9h-.9zM53.8 109.1h.9v.9h-.9zM57.1 94.6h.9v.9h-.9zM48.1 101.3h.9v.9h-.9zM45.1 98.6h.9v.9h-.9zM45.4 90.9h.9v.9h-.9zM50.1 100.1h.9v.9h-.9zM52.8 91.7h.9v.9h-.9zM57.0 106.5h.9v.9h-.9zM49.0 90.5h.9v.9h-.9zM49.4 90.6h.9v.9h-.9zM57.0 109.0h.9v.9h-.9zM43.1 99.7h.9v.9h-.9zM50.8 90.6h.9v.9h-.9zM49.0 95.6h.9v.9h-.9zM51.0 94.0h.9v.9h-.9zM47.0 100.9h.9v.9h-.9zM49.2 87.9h.9v.9h-.9zM50.8 100.8h.9v.9h-.9zM51.1 111.1h.9v.9h-.9zM55.7 105.0h.9v.9h-.9zM48.3 106.0h.9v.9h-.9zM49.2 108.1h.9v.9h-.9zM49.8 93.1h.9v.9h-.9zM45.1 95.7h.9v.9h-.9zM52.2 90.8h.9v.9h-.9zM54.1 91.8h.9v.9h-.9zM50.9 89.1h.9v.9h-.9zM57.5 92.1h.9v.9h-.9zM51.3 91.9h.9v.9h-.9zM49.2 99.2h.9v.9h-.9zM49.8 100.2h.9v.9h-.9zM51.2 106.8h.9v.9h-.9zM59.5 104.8h.9v.9h-.9zM46.4 100.6h.9v.9h-.9zM56.1 103.4h.9v.9h-.9zM49.8 97.4h.9v.9h-.9zM39.7 105.5h.9v.9h-.9zM52.3 97.3h.9v.9h-.9zM52.5 93.7h.9v.9h-.9zM54.9 100.6h.9v.9h-.9zM51.5 89.8h.9v.9h-.9zM53.5 99.9h.9v.9h-.9zM55.4 87.6h.9v.9h-.9zM50.3 95.3h.9v.9h-.9zM41.9 96.2h.9v.9h-.9zM57.5 110.5h.9v.9h-.9zM46.8 94.6h.9v.9h-.9zM50.0 91.0h.9v.9h-.9zM48.6 102.9h.9v.9h-.9zM52.4 92.0h.9v.9h-.9zM56.3 96.2h.9v.9h-.9zM53.4 87.5h.9v.9h-.9zM56.9 96.1h.9v.9h-.9zM50.1 106.3h.9v.9h-.9zM50.3 94.9h.9v.9h-.9zM50.6 101.6h.9v.9h-.9zM54.7 112.0h.9v.9h-.9zM48.1 94.4h.9v.9h-.9zM43.4 111.7h.9v.9h-.9zM55.7 91.9h.9v.9h-.9zM52.3 104.0h.9v.9h-.9zM53.8 107.7h.9v.9h-.9zM52.5 98.3h.9v.9h-.9zM52.0 93.2h.9v.9h-.9zM51.6 87.1h.9v.9h-.9zM51.3 97.1h.9v.9h-.9zM51.0 88.5h.9v.9h-.9zM47.0 104.3h.9v.9h-.9zM45.5 106.9h.9v.9h-.9zM45.2 87.2h.9v.9h-.9zM53.6 87.4h.9v.9h-.9zM47.5 89.9h.9v.9h-.9zM50.8 87.8h.9v.9h-.9zM52.9 107.8h.9v.9h-.9zM44.5 96.8h.9v.9h-.9zM43.4 100.5h.9v.9h-.9zM50.5 94.3h.9v.9h-.9zM45.5 107.2h.9v.9h-.9zM50.0 101.2h.9v.9h-.9zM44.6 106.2h.9v.9h-.9zM50.5 100.1h.9v.9h-.9zM55.8 103.9h.9v.9h-.9zM59.3 96.6h.9v.9h-.9zM42.6 96.9h.9v.9h-.9zM49.8 90.4h.9v.9h-.9zM49.9 90.8h.9v.9h-.9zM50.6 97.3h.9v.9h-.9zM51.4 89.3h.9v.9h-.9zM57.1 109.3h.9v.9h-.9zM49.0 101.9h.9v.9h-.9zM57.8 99.3h.9v.9h-.9zM47.0 86.1h.9v.9h-.9zM54.4 107.0h.9v.9h-.9z"/><path fill="#4d8af5" d="M59.7 111.1h.9v.9h-.9zM51.1 95.9h.9v.9h-.9zM52.7 97.6h.9v.9h-.9zM45.3 100.1h.9v.9h-.9zM56.4 105.7h.9v.9h-.9zM45.4 99.7h.9v.9h-.9zM49.1 88.6h.9v.9h-.9zM53.5 106.1h.9v.9h-.9zM55.7 103.5h.9v.9h-.9zM57.6 108.7h.9v.9h-.9zM45.7 108.1h.9v.9h-.9zM54.0 99.8h.9v.9h-.9zM59.5 96.9h.9v.9h-.9zM48.2 109.2h.9v.9h-.9zM65.5 112.0h.9v.9h-.9zM57.0 95.4h.9v.9h-.9zM47.4 92.8h.9v.9h-.9zM48.4 91.4h.9v.9h-.9zM51.8 111.3h.9v.9h-.9zM52.2 96.2h.9v.9h-.9zM53.1 107.4h.9v.9h-.9zM45.7 96.5h.9v.9h-.9zM52.1 89.6h.9v.9h-.9zM44.7 91.7h.9v.9h-.9zM55.0 103.4h.9v.9h-.9zM48.3 92.0h.9v.9h-.9zM45.9 105.4h.9v.9h-.9zM48.8 86.1h.9v.9h-.9zM49.7 94.4h.9v.9h-.9zM47.4 98.5h.9v.9h-.9zM48.5 106.0h.9v.9h-.9zM53.1 103.6h.9v.9h-.9zM40.1 103.8h.9v.9h-.9zM44.4 95.7h.9v.9h-.9zM40.8 99.3h.9v.9h-.9zM52.9 94.6h.9v.9h-.9zM45.8 92.3h.9v.9h-.9zM59.4 105.3h.9v.9h-.9zM54.6 90.9h.9v.9h-.9zM39.1 94.8h.9v.9h-.9zM47.3 106.5h.9v.9h-.9zM45.7 92.0h.9v.9h-.9zM52.0 86.0h.9v.9h-.9zM45.9 107.4h.9v.9h-.9zM57.6 108.2h.9v.9h-.9zM42.4 104.9h.9v.9h-.9zM64.9 107.3h.9v.9h-.9zM44.7 108.9h.9v.9h-.9zM52.1 94.4h.9v.9h-.9zM49.8 90.8h.9v.9h-.9zM33.6 108.5h.9v.9h-.9zM47.5 94.6h.9v.9h-.9zM53.9 87.7h.9v.9h-.9zM61.9 107.0h.9v.9h-.9zM49.8 97.1h.9v.9h-.9zM48.8 110.4h.9v.9h-.9z"/></svg></g>
<rect x="578.3" y="361.5" width="100.4" height="113.0" fill="none" stroke="#3a3a3a" stroke-width="1.05"/>
<line x1="576.5" y1="461.94" x2="578.3" y2="461.94" stroke="#3a3a3a" stroke-width="0.7"/>
<text x="576.3" y="464.9" font-size="8.3" text-anchor="end" font-weight="normal" fill="#1a1a1a" >0</text>
<line x1="576.5" y1="449.39" x2="578.3" y2="449.39" stroke="#3a3a3a" stroke-width="0.7"/>
<text x="576.3" y="452.4" font-size="8.3" text-anchor="end" font-weight="normal" fill="#1a1a1a" >5</text>
<line x1="576.5" y1="436.83" x2="578.3" y2="436.83" stroke="#3a3a3a" stroke-width="0.7"/>
<text x="576.3" y="439.8" font-size="8.3" text-anchor="end" font-weight="normal" fill="#1a1a1a" >10</text>
<line x1="576.5" y1="424.28" x2="578.3" y2="424.28" stroke="#3a3a3a" stroke-width="0.7"/>
<text x="576.3" y="427.3" font-size="8.3" text-anchor="end" font-weight="normal" fill="#1a1a1a" >15</text>
<line x1="576.5" y1="411.72" x2="578.3" y2="411.72" stroke="#3a3a3a" stroke-width="0.7"/>
<text x="576.3" y="414.7" font-size="8.3" text-anchor="end" font-weight="normal" fill="#1a1a1a" >20</text>
<line x1="576.5" y1="399.17" x2="578.3" y2="399.17" stroke="#3a3a3a" stroke-width="0.7"/>
<text x="576.3" y="402.2" font-size="8.3" text-anchor="end" font-weight="normal" fill="#1a1a1a" >25</text>
<line x1="576.5" y1="386.61" x2="578.3" y2="386.61" stroke="#3a3a3a" stroke-width="0.7"/>
<text x="576.3" y="389.6" font-size="8.3" text-anchor="end" font-weight="normal" fill="#1a1a1a" >30</text>
<line x1="576.5" y1="374.06" x2="578.3" y2="374.06" stroke="#3a3a3a" stroke-width="0.7"/>
<text x="576.3" y="377.1" font-size="8.3" text-anchor="end" font-weight="normal" fill="#1a1a1a" >35</text>
<line x1="591.22" y1="474.5" x2="591.22" y2="476.3" stroke="#3a3a3a" stroke-width="0.7"/>
<text x="591.2" y="482.8" font-size="8.3" text-anchor="middle" font-weight="normal" fill="#1a1a1a" >15</text>
<line x1="603.65" y1="474.5" x2="603.65" y2="476.3" stroke="#3a3a3a" stroke-width="0.7"/>
<text x="603.6" y="482.8" font-size="8.3" text-anchor="middle" font-weight="normal" fill="#1a1a1a" >10</text>
<line x1="616.07" y1="474.5" x2="616.07" y2="476.3" stroke="#3a3a3a" stroke-width="0.7"/>
<text x="616.1" y="482.8" font-size="8.3" text-anchor="middle" font-weight="normal" fill="#1a1a1a" >5</text>
<line x1="628.50" y1="474.5" x2="628.50" y2="476.3" stroke="#3a3a3a" stroke-width="0.7"/>
<text x="628.5" y="482.8" font-size="8.3" text-anchor="middle" font-weight="normal" fill="#1a1a1a" >0</text>
<line x1="640.93" y1="474.5" x2="640.93" y2="476.3" stroke="#3a3a3a" stroke-width="0.7"/>
<text x="640.9" y="482.8" font-size="8.3" text-anchor="middle" font-weight="normal" fill="#1a1a1a" >5</text>
<line x1="653.35" y1="474.5" x2="653.35" y2="476.3" stroke="#3a3a3a" stroke-width="0.7"/>
<text x="653.4" y="482.8" font-size="8.3" text-anchor="middle" font-weight="normal" fill="#1a1a1a" >10</text>
<line x1="665.78" y1="474.5" x2="665.78" y2="476.3" stroke="#3a3a3a" stroke-width="0.7"/>
<text x="665.8" y="482.8" font-size="8.3" text-anchor="middle" font-weight="normal" fill="#1a1a1a" >15</text>
<text x="634.7" y="357.9" font-size="9.6" text-anchor="middle" fill="#1a1a1a">Na<tspan dy="-3.6" font-size="6.0">+</tspan><tspan dy="3.6">, +150 mV</tspan></text>
<g transform="translate(578.3,506.3) scale(0.9941,1)"><svg width="101" height="113.0" overflow="hidden"><use href="#gr"/><use href="#ol"/><path fill="#4d8af5" d="M56.3 5.9h.9v.9h-.9zM25.1 1.2h.9v.9h-.9zM79.3 1.8h.9v.9h-.9zM64.9 1.2h.9v.9h-.9zM24.7 3.2h.9v.9h-.9zM57.4 2.4h.9v.9h-.9zM42.4 11.4h.9v.9h-.9zM56.6 5.1h.9v.9h-.9zM42.7 0.8h.9v.9h-.9zM61.4 2.1h.9v.9h-.9zM72.4 1.2h.9v.9h-.9zM23.9 4.7h.9v.9h-.9zM46.7 5.2h.9v.9h-.9zM52.6 3.8h.9v.9h-.9zM67.1 6.1h.9v.9h-.9zM43.6 13.0h.9v.9h-.9zM26.0 3.9h.9v.9h-.9zM37.2 3.7h.9v.9h-.9zM53.5 8.8h.9v.9h-.9zM63.7 2.8h.9v.9h-.9zM61.8 3.6h.9v.9h-.9zM68.6 3.2h.9v.9h-.9zM33.1 1.5h.9v.9h-.9zM52.8 6.8h.9v.9h-.9zM50.8 1.0h.9v.9h-.9zM16.7 2.5h.9v.9h-.9zM35.3 5.6h.9v.9h-.9zM70.1 2.0h.9v.9h-.9zM66.6 3.3h.9v.9h-.9zM40.1 4.4h.9v.9h-.9zM33.6 8.9h.9v.9h-.9zM27.8 0.9h.9v.9h-.9zM42.6 3.6h.9v.9h-.9zM43.5 5.8h.9v.9h-.9zM10.1 2.3h.9v.9h-.9zM54.1 5.7h.9v.9h-.9zM54.0 2.2h.9v.9h-.9zM24.2 1.4h.9v.9h-.9zM78.8 4.2h.9v.9h-.9zM56.4 4.8h.9v.9h-.9zM48.1 12.3h.9v.9h-.9zM39.8 2.8h.9v.9h-.9zM78.4 4.1h.9v.9h-.9zM46.6 2.1h.9v.9h-.9zM47.9 6.1h.9v.9h-.9zM45.6 4.8h.9v.9h-.9zM42.5 2.0h.9v.9h-.9zM68.5 0.9h.9v.9h-.9zM68.9 3.2h.9v.9h-.9zM82.2 5.0h.9v.9h-.9zM54.5 11.0h.9v.9h-.9zM49.2 2.6h.9v.9h-.9zM12.5 1.9h.9v.9h-.9zM67.5 2.9h.9v.9h-.9zM13.7 3.3h.9v.9h-.9zM74.5 1.2h.9v.9h-.9zM50.2 8.7h.9v.9h-.9zM65.4 7.1h.9v.9h-.9zM43.6 1.5h.9v.9h-.9zM44.0 8.9h.9v.9h-.9zM60.5 3.0h.9v.9h-.9zM42.6 1.0h.9v.9h-.9zM38.4 7.9h.9v.9h-.9zM66.5 2.6h.9v.9h-.9zM15.0 1.6h.9v.9h-.9zM51.9 2.6h.9v.9h-.9zM51.3 4.9h.9v.9h-.9zM36.0 8.3h.9v.9h-.9zM67.9 9.1h.9v.9h-.9zM49.9 2.0h.9v.9h-.9zM45.7 3.6h.9v.9h-.9zM87.8 1.7h.9v.9h-.9zM55.6 6.2h.9v.9h-.9zM52.2 5.8h.9v.9h-.9zM98.3 2.2h.9v.9h-.9zM47.6 1.4h.9v.9h-.9zM49.5 1.1h.9v.9h-.9zM56.2 1.0h.9v.9h-.9zM51.9 5.3h.9v.9h-.9zM28.0 1.2h.9v.9h-.9zM70.7 1.3h.9v.9h-.9zM49.0 4.7h.9v.9h-.9zM39.1 3.3h.9v.9h-.9zM54.1 4.2h.9v.9h-.9zM42.9 5.0h.9v.9h-.9zM53.7 2.9h.9v.9h-.9zM58.0 6.0h.9v.9h-.9zM4.1 4.3h.9v.9h-.9zM83.7 2.0h.9v.9h-.9zM42.8 4.3h.9v.9h-.9zM69.6 5.8h.9v.9h-.9zM55.1 5.4h.9v.9h-.9zM67.9 4.7h.9v.9h-.9zM50.9 7.2h.9v.9h-.9zM37.2 2.0h.9v.9h-.9zM89.5 2.3h.9v.9h-.9zM66.9 4.7h.9v.9h-.9zM47.3 4.6h.9v.9h-.9zM31.2 5.1h.9v.9h-.9zM51.0 7.2h.9v.9h-.9zM66.6 3.4h.9v.9h-.9zM63.1 1.6h.9v.9h-.9zM35.3 4.3h.9v.9h-.9zM36.1 4.1h.9v.9h-.9zM30.1 5.6h.9v.9h-.9zM58.7 2.6h.9v.9h-.9zM28.2 4.2h.9v.9h-.9zM57.2 2.7h.9v.9h-.9zM60.8 6.0h.9v.9h-.9zM55.8 2.0h.9v.9h-.9zM60.8 3.5h.9v.9h-.9zM44.3 1.4h.9v.9h-.9zM22.5 4.8h.9v.9h-.9zM74.9 2.9h.9v.9h-.9zM40.3 3.4h.9v.9h-.9zM41.0 6.2h.9v.9h-.9zM38.7 8.0h.9v.9h-.9zM57.6 1.6h.9v.9h-.9zM64.1 4.7h.9v.9h-.9zM66.6 1.8h.9v.9h-.9z"/><path fill="#4d8af5" d="M50.1 5.4h.9v.9h-.9zM51.3 6.1h.9v.9h-.9zM50.8 10.4h.9v.9h-.9zM52.6 12.4h.9v.9h-.9zM49.5 13.5h.9v.9h-.9zM52.7 4.4h.9v.9h-.9zM50.5 21.9h.9v.9h-.9zM50.5 16.5h.9v.9h-.9zM50.7 20.1h.9v.9h-.9zM51.5 17.2h.9v.9h-.9zM50.8 5.0h.9v.9h-.9zM49.2 14.6h.9v.9h-.9zM50.0 2.0h.9v.9h-.9zM50.2 11.9h.9v.9h-.9zM51.3 14.3h.9v.9h-.9zM50.1 3.0h.9v.9h-.9zM52.0 7.2h.9v.9h-.9zM49.1 16.0h.9v.9h-.9zM50.4 19.5h.9v.9h-.9zM49.4 1.8h.9v.9h-.9zM50.4 18.3h.9v.9h-.9zM51.0 16.5h.9v.9h-.9zM50.7 11.6h.9v.9h-.9zM52.0 12.8h.9v.9h-.9zM49.4 12.7h.9v.9h-.9zM51.1 7.6h.9v.9h-.9zM50.1 14.2h.9v.9h-.9zM50.9 18.2h.9v.9h-.9zM50.7 9.1h.9v.9h-.9zM51.8 4.6h.9v.9h-.9zM50.8 16.6h.9v.9h-.9zM50.6 3.6h.9v.9h-.9zM50.3 5.0h.9v.9h-.9zM51.7 13.1h.9v.9h-.9zM49.8 15.2h.9v.9h-.9zM50.6 14.4h.9v.9h-.9zM51.4 17.3h.9v.9h-.9zM50.2 14.0h.9v.9h-.9zM50.3 7.3h.9v.9h-.9zM50.4 9.9h.9v.9h-.9zM50.9 18.3h.9v.9h-.9zM50.6 3.2h.9v.9h-.9zM49.8 12.0h.9v.9h-.9zM50.2 9.1h.9v.9h-.9zM50.4 6.7h.9v.9h-.9zM51.6 20.8h.9v.9h-.9zM50.0 16.5h.9v.9h-.9zM50.6 4.3h.9v.9h-.9z"/><path fill="#9a2cf0" d="M52.8 105.3h.9v.9h-.9zM38.8 99.5h.9v.9h-.9zM53.6 105.4h.9v.9h-.9zM40.4 101.7h.9v.9h-.9zM50.3 109.2h.9v.9h-.9zM46.2 95.6h.9v.9h-.9zM56.6 107.8h.9v.9h-.9zM47.3 110.0h.9v.9h-.9zM48.5 106.6h.9v.9h-.9zM47.2 93.2h.9v.9h-.9zM48.8 93.5h.9v.9h-.9zM46.8 91.8h.9v.9h-.9zM51.3 89.8h.9v.9h-.9zM48.5 90.4h.9v.9h-.9zM55.6 99.8h.9v.9h-.9zM51.7 91.3h.9v.9h-.9zM42.7 108.3h.9v.9h-.9zM48.6 98.2h.9v.9h-.9zM53.8 86.5h.9v.9h-.9zM45.6 86.2h.9v.9h-.9zM52.9 100.7h.9v.9h-.9zM36.1 110.9h.9v.9h-.9zM53.6 109.5h.9v.9h-.9zM47.6 111.9h.9v.9h-.9zM40.7 111.6h.9v.9h-.9zM44.3 92.8h.9v.9h-.9zM54.7 97.2h.9v.9h-.9zM56.1 111.8h.9v.9h-.9zM45.2 104.3h.9v.9h-.9zM51.3 91.5h.9v.9h-.9zM49.2 97.2h.9v.9h-.9zM56.7 100.9h.9v.9h-.9zM46.5 96.5h.9v.9h-.9zM47.6 98.9h.9v.9h-.9zM56.4 98.6h.9v.9h-.9zM40.6 101.2h.9v.9h-.9zM49.2 105.7h.9v.9h-.9zM52.8 94.2h.9v.9h-.9zM51.2 89.6h.9v.9h-.9zM37.4 102.7h.9v.9h-.9zM54.7 91.7h.9v.9h-.9zM57.5 100.9h.9v.9h-.9zM55.8 89.8h.9v.9h-.9zM50.0 111.0h.9v.9h-.9zM54.3 111.6h.9v.9h-.9zM33.5 110.5h.9v.9h-.9zM48.2 90.1h.9v.9h-.9zM56.5 102.6h.9v.9h-.9zM49.7 89.9h.9v.9h-.9zM63.6 111.1h.9v.9h-.9zM59.8 98.4h.9v.9h-.9zM44.4 109.4h.9v.9h-.9zM46.7 90.9h.9v.9h-.9zM57.2 107.1h.9v.9h-.9zM58.1 107.6h.9v.9h-.9zM53.1 86.7h.9v.9h-.9zM55.1 94.1h.9v.9h-.9zM51.7 89.3h.9v.9h-.9zM41.3 103.1h.9v.9h-.9zM54.7 94.4h.9v.9h-.9zM52.9 111.8h.9v.9h-.9zM51.9 99.0h.9v.9h-.9zM51.2 99.1h.9v.9h-.9zM49.8 90.7h.9v.9h-.9zM44.1 92.4h.9v.9h-.9zM55.0 103.3h.9v.9h-.9zM45.7 92.2h.9v.9h-.9zM56.5 100.5h.9v.9h-.9zM50.1 88.8h.9v.9h-.9zM51.3 97.8h.9v.9h-.9zM49.4 92.0h.9v.9h-.9zM56.7 108.5h.9v.9h-.9zM51.8 88.2h.9v.9h-.9zM51.8 97.1h.9v.9h-.9zM57.5 97.3h.9v.9h-.9zM47.9 93.0h.9v.9h-.9zM44.9 89.4h.9v.9h-.9zM48.5 91.8h.9v.9h-.9zM39.6 105.9h.9v.9h-.9zM64.9 110.8h.9v.9h-.9zM52.0 90.5h.9v.9h-.9zM44.8 96.1h.9v.9h-.9zM55.5 99.5h.9v.9h-.9zM47.0 100.7h.9v.9h-.9zM59.0 98.9h.9v.9h-.9zM51.3 88.7h.9v.9h-.9zM60.0 109.4h.9v.9h-.9zM50.7 92.6h.9v.9h-.9zM43.3 103.8h.9v.9h-.9zM42.4 107.3h.9v.9h-.9zM54.7 111.7h.9v.9h-.9zM52.9 98.6h.9v.9h-.9zM46.5 110.1h.9v.9h-.9zM52.7 99.6h.9v.9h-.9zM57.1 94.2h.9v.9h-.9zM54.7 97.8h.9v.9h-.9zM55.5 107.9h.9v.9h-.9zM52.2 89.1h.9v.9h-.9zM41.5 108.0h.9v.9h-.9zM51.7 87.3h.9v.9h-.9zM44.8 97.4h.9v.9h-.9zM54.2 92.1h.9v.9h-.9zM46.0 111.6h.9v.9h-.9zM55.7 98.2h.9v.9h-.9zM51.6 94.9h.9v.9h-.9zM51.2 109.8h.9v.9h-.9zM47.4 111.5h.9v.9h-.9zM49.3 91.0h.9v.9h-.9zM54.2 94.3h.9v.9h-.9zM51.3 93.3h.9v.9h-.9zM53.3 94.5h.9v.9h-.9zM41.9 112.0h.9v.9h-.9zM56.8 94.0h.9v.9h-.9zM55.1 104.9h.9v.9h-.9zM41.8 107.2h.9v.9h-.9zM54.4 88.6h.9v.9h-.9zM47.6 104.8h.9v.9h-.9zM43.5 102.0h.9v.9h-.9zM45.4 98.1h.9v.9h-.9zM53.3 101.8h.9v.9h-.9zM45.9 108.0h.9v.9h-.9zM55.5 96.1h.9v.9h-.9zM50.4 90.5h.9v.9h-.9zM49.7 108.8h.9v.9h-.9zM52.6 87.3h.9v.9h-.9zM57.4 97.3h.9v.9h-.9zM41.2 93.8h.9v.9h-.9zM51.5 102.8h.9v.9h-.9zM53.6 95.4h.9v.9h-.9zM49.8 88.5h.9v.9h-.9z"/><path fill="#4d8af5" d="M54.2 105.1h.9v.9h-.9zM42.8 96.3h.9v.9h-.9zM51.7 103.7h.9v.9h-.9zM56.3 110.5h.9v.9h-.9zM58.9 108.1h.9v.9h-.9zM47.8 104.5h.9v.9h-.9zM42.5 95.4h.9v.9h-.9zM59.4 105.4h.9v.9h-.9zM55.0 110.4h.9v.9h-.9zM56.7 109.9h.9v.9h-.9zM57.0 110.1h.9v.9h-.9zM43.2 92.9h.9v.9h-.9zM56.0 104.6h.9v.9h-.9zM52.2 86.3h.9v.9h-.9zM52.2 97.3h.9v.9h-.9zM56.3 103.4h.9v.9h-.9zM61.0 103.6h.9v.9h-.9zM44.1 94.0h.9v.9h-.9zM47.7 94.7h.9v.9h-.9zM53.1 107.9h.9v.9h-.9zM45.5 106.6h.9v.9h-.9zM45.5 93.6h.9v.9h-.9zM50.6 93.2h.9v.9h-.9zM47.1 111.8h.9v.9h-.9zM51.9 89.8h.9v.9h-.9zM62.5 109.7h.9v.9h-.9zM54.1 90.1h.9v.9h-.9zM49.1 89.2h.9v.9h-.9zM51.4 100.2h.9v.9h-.9zM58.9 102.3h.9v.9h-.9zM62.7 107.7h.9v.9h-.9zM44.7 103.5h.9v.9h-.9zM58.8 105.0h.9v.9h-.9zM43.4 98.9h.9v.9h-.9zM55.3 110.5h.9v.9h-.9zM49.9 91.5h.9v.9h-.9zM44.7 102.0h.9v.9h-.9zM49.0 99.0h.9v.9h-.9zM46.4 91.4h.9v.9h-.9zM54.8 105.6h.9v.9h-.9zM53.9 104.4h.9v.9h-.9zM52.6 98.6h.9v.9h-.9zM48.7 106.1h.9v.9h-.9z"/></svg></g>
<rect x="578.3" y="506.3" width="100.4" height="113.0" fill="none" stroke="#3a3a3a" stroke-width="1.05"/>
<line x1="576.5" y1="606.74" x2="578.3" y2="606.74" stroke="#3a3a3a" stroke-width="0.7"/>
<text x="576.3" y="609.7" font-size="8.3" text-anchor="end" font-weight="normal" fill="#1a1a1a" >0</text>
<line x1="576.5" y1="594.19" x2="578.3" y2="594.19" stroke="#3a3a3a" stroke-width="0.7"/>
<text x="576.3" y="597.2" font-size="8.3" text-anchor="end" font-weight="normal" fill="#1a1a1a" >5</text>
<line x1="576.5" y1="581.63" x2="578.3" y2="581.63" stroke="#3a3a3a" stroke-width="0.7"/>
<text x="576.3" y="584.6" font-size="8.3" text-anchor="end" font-weight="normal" fill="#1a1a1a" >10</text>
<line x1="576.5" y1="569.08" x2="578.3" y2="569.08" stroke="#3a3a3a" stroke-width="0.7"/>
<text x="576.3" y="572.1" font-size="8.3" text-anchor="end" font-weight="normal" fill="#1a1a1a" >15</text>
<line x1="576.5" y1="556.52" x2="578.3" y2="556.52" stroke="#3a3a3a" stroke-width="0.7"/>
<text x="576.3" y="559.5" font-size="8.3" text-anchor="end" font-weight="normal" fill="#1a1a1a" >20</text>
<line x1="576.5" y1="543.97" x2="578.3" y2="543.97" stroke="#3a3a3a" stroke-width="0.7"/>
<text x="576.3" y="547.0" font-size="8.3" text-anchor="end" font-weight="normal" fill="#1a1a1a" >25</text>
<line x1="576.5" y1="531.41" x2="578.3" y2="531.41" stroke="#3a3a3a" stroke-width="0.7"/>
<text x="576.3" y="534.4" font-size="8.3" text-anchor="end" font-weight="normal" fill="#1a1a1a" >30</text>
<line x1="576.5" y1="518.86" x2="578.3" y2="518.86" stroke="#3a3a3a" stroke-width="0.7"/>
<text x="576.3" y="521.9" font-size="8.3" text-anchor="end" font-weight="normal" fill="#1a1a1a" >35</text>
<line x1="591.22" y1="619.3" x2="591.22" y2="621.0999999999999" stroke="#3a3a3a" stroke-width="0.7"/>
<text x="591.2" y="627.6" font-size="8.3" text-anchor="middle" font-weight="normal" fill="#1a1a1a" >15</text>
<line x1="603.65" y1="619.3" x2="603.65" y2="621.0999999999999" stroke="#3a3a3a" stroke-width="0.7"/>
<text x="603.6" y="627.6" font-size="8.3" text-anchor="middle" font-weight="normal" fill="#1a1a1a" >10</text>
<line x1="616.07" y1="619.3" x2="616.07" y2="621.0999999999999" stroke="#3a3a3a" stroke-width="0.7"/>
<text x="616.1" y="627.6" font-size="8.3" text-anchor="middle" font-weight="normal" fill="#1a1a1a" >5</text>
<line x1="628.50" y1="619.3" x2="628.50" y2="621.0999999999999" stroke="#3a3a3a" stroke-width="0.7"/>
<text x="628.5" y="627.6" font-size="8.3" text-anchor="middle" font-weight="normal" fill="#1a1a1a" >0</text>
<line x1="640.93" y1="619.3" x2="640.93" y2="621.0999999999999" stroke="#3a3a3a" stroke-width="0.7"/>
<text x="640.9" y="627.6" font-size="8.3" text-anchor="middle" font-weight="normal" fill="#1a1a1a" >5</text>
<line x1="653.35" y1="619.3" x2="653.35" y2="621.0999999999999" stroke="#3a3a3a" stroke-width="0.7"/>
<text x="653.4" y="627.6" font-size="8.3" text-anchor="middle" font-weight="normal" fill="#1a1a1a" >10</text>
<line x1="665.78" y1="619.3" x2="665.78" y2="621.0999999999999" stroke="#3a3a3a" stroke-width="0.7"/>
<text x="665.8" y="627.6" font-size="8.3" text-anchor="middle" font-weight="normal" fill="#1a1a1a" >15</text>
<text x="628.9" y="637.4" font-size="9.5" text-anchor="middle" font-weight="normal" fill="#1a1a1a" >Radius (Å)</text>
<text x="634.7" y="502.7" font-size="9.6" text-anchor="middle" fill="#1a1a1a">K<tspan dy="-3.6" font-size="6.0">+</tspan><tspan dy="3.6">, +150 mV</tspan></text>
<text x="328.6" y="9.9" font-size="12.4" text-anchor="middle" fill="#1a1a1a">Open state, K<tspan dy="-4.7" font-size="7.7">+</tspan><tspan dy="4.7"></tspan></text>
<text x="330.4" y="156.7" font-size="12.4" text-anchor="middle" fill="#1a1a1a">Closed state, K<tspan dy="-4.7" font-size="7.7">+</tspan><tspan dy="4.7"></tspan></text>
<rect x="327" y="15.3" width="75.3" height="113" fill="none" stroke="#3a3a3a" stroke-width="1"/>
<line x1="402.3" y1="115.74444444444444" x2="404.1" y2="115.74444444444444" stroke="#3a3a3a" stroke-width="0.7"/>
<text x="404.5" y="118.7" font-size="8.3" text-anchor="start" font-weight="normal" fill="#1a1a1a" >0</text>
<line x1="402.3" y1="103.18888888888888" x2="404.1" y2="103.18888888888888" stroke="#3a3a3a" stroke-width="0.7"/>
<text x="404.5" y="106.2" font-size="8.3" text-anchor="start" font-weight="normal" fill="#1a1a1a" >5</text>
<line x1="402.3" y1="90.63333333333333" x2="404.1" y2="90.63333333333333" stroke="#3a3a3a" stroke-width="0.7"/>
<text x="404.5" y="93.6" font-size="8.3" text-anchor="start" font-weight="normal" fill="#1a1a1a" >10</text>
<line x1="402.3" y1="78.07777777777778" x2="404.1" y2="78.07777777777778" stroke="#3a3a3a" stroke-width="0.7"/>
<text x="404.5" y="81.1" font-size="8.3" text-anchor="start" font-weight="normal" fill="#1a1a1a" >15</text>
<line x1="402.3" y1="65.52222222222223" x2="404.1" y2="65.52222222222223" stroke="#3a3a3a" stroke-width="0.7"/>
<text x="404.5" y="68.5" font-size="8.3" text-anchor="start" font-weight="normal" fill="#1a1a1a" >20</text>
<line x1="402.3" y1="52.96666666666667" x2="404.1" y2="52.96666666666667" stroke="#3a3a3a" stroke-width="0.7"/>
<text x="404.5" y="56.0" font-size="8.3" text-anchor="start" font-weight="normal" fill="#1a1a1a" >25</text>
<line x1="402.3" y1="40.41111111111111" x2="404.1" y2="40.41111111111111" stroke="#3a3a3a" stroke-width="0.7"/>
<text x="404.5" y="43.4" font-size="8.3" text-anchor="start" font-weight="normal" fill="#1a1a1a" >30</text>
<line x1="402.3" y1="27.855555555555554" x2="404.1" y2="27.855555555555554" stroke="#3a3a3a" stroke-width="0.7"/>
<text x="404.5" y="30.9" font-size="8.3" text-anchor="start" font-weight="normal" fill="#1a1a1a" >35</text>
<line x1="331.4" y1="128.3" x2="331.4" y2="130.10000000000002" stroke="#3a3a3a" stroke-width="0.7"/>
<text x="331.4" y="136.6" font-size="8.3" text-anchor="middle" font-weight="normal" fill="#1a1a1a" >0</text>
<line x1="353.2" y1="128.3" x2="353.2" y2="130.10000000000002" stroke="#3a3a3a" stroke-width="0.7"/>
<text x="353.2" y="136.6" font-size="8.3" text-anchor="middle" font-weight="normal" fill="#1a1a1a" >500</text>
<line x1="375.0" y1="128.3" x2="375.0" y2="130.10000000000002" stroke="#3a3a3a" stroke-width="0.7"/>
<text x="375.0" y="136.6" font-size="8.3" text-anchor="middle" font-weight="normal" fill="#1a1a1a" >1000</text>
<line x1="396.8" y1="128.3" x2="396.8" y2="130.10000000000002" stroke="#3a3a3a" stroke-width="0.7"/>
<text x="396.8" y="136.6" font-size="8.3" text-anchor="middle" font-weight="normal" fill="#1a1a1a" >1500</text>
<polyline points="378.1,15.5 379.5,15.7 379.0,16.1 378.7,16.3 380.8,16.4 381.8,16.8 382.0,17.4 383.3,17.6 384.4,17.7 384.5,18.2 383.4,18.8 383.6,19.3 384.4,20.0 383.7,20.4 386.0,21.0 386.1,21.1 387.1,22.0 385.7,22.3 386.0,23.1 386.7,23.8 385.7,24.1 386.2,25.0 386.8,25.5 387.1,25.5 384.0,26.0 384.4,26.4 384.2,26.7 383.6,27.4 382.5,27.8 382.0,28.1 382.0,28.4 380.8,28.4 380.8,28.8 379.4,29.1 381.4,29.4 379.9,30.1 379.4,30.0 378.0,30.3 378.7,31.2 377.0,31.3 378.1,31.7 377.7,32.1 375.1,32.6 375.8,32.4 374.5,33.2 376.2,33.3 373.7,33.9 372.4,33.9 372.5,34.5 374.0,34.9 372.9,35.3 372.3,35.6 371.6,36.1 371.4,36.7 370.6,36.9 369.9,37.2 369.8,38.0 370.1,38.0 370.0,38.8 369.0,38.8 368.7,39.5 366.5,39.9 366.2,40.2 367.8,40.7 364.8,41.1 365.8,41.4 364.6,41.8 365.5,42.4 364.2,43.7 365.9,43.9 363.4,44.8 364.6,44.9 364.5,45.4 362.7,46.2 363.6,46.4 362.5,46.8 361.0,47.0 361.3,47.3 359.4,47.7 359.6,48.1 358.6,48.3 358.2,49.1 359.9,49.6 358.1,49.9 358.3,50.5 357.1,50.8 355.8,51.0 355.9,51.7 355.3,51.7 356.6,52.1 353.1,52.9 353.3,53.6 352.7,54.1 353.5,54.3 352.4,55.0 351.2,55.3 352.2,55.9 353.1,56.7 351.5,57.1 351.3,57.7 352.2,58.4 351.9,58.6 351.7,59.1 352.3,59.9 353.0,60.5 355.1,60.9 354.1,61.2 355.8,61.7 354.6,62.0 355.2,62.6 355.4,63.0 357.6,63.3 356.4,64.2 357.8,64.7 358.1,65.6 358.9,66.0 358.8,66.6 358.2,67.3 359.8,68.0 358.5,69.0 358.0,69.2 358.8,70.2 359.5,70.1 358.8,70.0 359.3,70.0 361.0,70.1 362.2,70.2 361.9,70.3 363.5,70.8 363.1,70.7 364.9,70.7 365.8,70.3 365.5,70.4 367.4,70.6 366.4,70.6 367.3,70.7 366.3,70.8 368.1,70.7 370.0,70.9 370.2,71.3 369.9,71.3 371.1,71.2 372.0,70.9 370.8,71.4 373.0,71.1 374.2,71.1 373.1,71.5 373.3,71.5 375.2,71.3 376.2,71.2 376.2,71.9 376.6,71.6 378.9,71.8 379.8,71.6 380.4,71.7 378.7,71.9 379.6,72.1 379.8,71.9 382.3,71.7 382.4,72.0 382.4,72.1 382.1,72.6 384.3,72.7 385.5,72.9 383.8,72.9 385.1,73.1 384.7,73.5 387.5,73.6 386.5,73.8 386.9,73.8 389.2,74.1 389.5,74.3 389.0,74.4 389.5,74.4 391.9,74.7 389.6,75.2 390.0,75.0 388.8,75.7 388.0,75.5 387.5,75.7 387.3,76.0 386.6,76.0 386.0,76.5 385.3,76.2 385.1,76.7 384.5,77.0 383.6,76.9 383.4,77.5 382.5,77.1 381.8,77.5 381.1,77.6 380.7,77.6 380.1,78.1 379.7,78.2 378.8,77.9 378.3,78.4 377.5,78.0 377.3,78.1 376.5,78.8 375.9,78.3 375.2,78.9 374.8,78.6 374.1,78.9 373.3,78.8 372.8,79.1 372.6,79.2 371.9,79.1 371.1,79.3 370.2,79.5 370.0,79.8 369.2,80.0 368.8,80.2 368.2,79.8 367.7,80.5 367.1,80.4 366.1,80.6 365.7,80.7 365.4,80.5 364.2,81.1 364.1,80.7 363.3,81.3 362.8,81.2 362.4,81.0 361.4,81.2 361.2,81.6 360.2,81.9 359.9,81.8 359.4,81.8 358.6,82.4 357.7,82.4 357.5,82.6 356.6,82.4 355.9,82.6 355.7,82.7 355.1,82.8 354.3,83.1 353.9,83.4 353.0,83.2 352.7,83.6 352.1,83.4 351.5,83.8 350.8,83.7 350.3,83.7 349.7,84.0 349.1,84.2 348.3,84.2 347.7,84.2 347.0,84.7 346.4,85.0 346.0,84.7 345.2,84.8 344.7,84.9 344.1,85.5 343.8,85.6 343.2,85.6 342.7,85.7 341.7,85.5 341.3,86.1 340.9,86.3 340.0,86.2 339.8,86.6 339.2,87.1 338.4,87.5 337.8,87.9 337.3,87.9 337.0,88.7 336.4,88.9 335.7,89.6 335.6,90.1 335.2,90.2 334.8,91.2 334.0,91.3 334.0,91.9 333.4,92.9 333.1,93.2 332.8,94.1 333.2,94.5 333.0,94.9 332.9,96.0 332.7,96.1 332.3,97.1 332.4,97.7 332.2,98.3 332.1,98.8 331.9,99.8 332.1,100.1 331.9,100.7 332.1,101.2 332.0,101.9 332.0,102.6 331.7,103.5 331.9,104.0 332.3,104.5 331.9,105.3 332.2,105.8 332.0,106.2 331.8,107.0 332.0,107.6 332.1,108.5 331.8,108.9 331.7,109.4 332.0,110.3 331.7,110.9 332.0,111.6 331.7,112.0 331.7,112.8 332.1,113.1 332.3,114.1 331.9,114.4 332.2,115.1 332.2,115.6 332.2,116.3 332.1,116.9 332.1,117.4 332.0,118.2 332.1,119.1 332.1,119.8 331.9,120.3 332.0,120.6 332.1,121.3 332.2,122.0 332.5,122.8 332.3,123.4 332.5,123.6 332.7,124.7 332.7,125.1 332.9,126.0 332.8,126.0 332.8,126.7 332.9,127.5" fill="none" stroke="#000" stroke-width="1.6" stroke-linejoin="round"/>
<rect x="327" y="161.5" width="75.3" height="113" fill="none" stroke="#3a3a3a" stroke-width="1"/>
<line x1="402.3" y1="261.94444444444446" x2="404.1" y2="261.94444444444446" stroke="#3a3a3a" stroke-width="0.7"/>
<text x="404.5" y="264.9" font-size="8.3" text-anchor="start" font-weight="normal" fill="#1a1a1a" >0</text>
<line x1="402.3" y1="249.38888888888889" x2="404.1" y2="249.38888888888889" stroke="#3a3a3a" stroke-width="0.7"/>
<text x="404.5" y="252.4" font-size="8.3" text-anchor="start" font-weight="normal" fill="#1a1a1a" >5</text>
<line x1="402.3" y1="236.83333333333331" x2="404.1" y2="236.83333333333331" stroke="#3a3a3a" stroke-width="0.7"/>
<text x="404.5" y="239.8" font-size="8.3" text-anchor="start" font-weight="normal" fill="#1a1a1a" >10</text>
<line x1="402.3" y1="224.27777777777777" x2="404.1" y2="224.27777777777777" stroke="#3a3a3a" stroke-width="0.7"/>
<text x="404.5" y="227.3" font-size="8.3" text-anchor="start" font-weight="normal" fill="#1a1a1a" >15</text>
<line x1="402.3" y1="211.72222222222223" x2="404.1" y2="211.72222222222223" stroke="#3a3a3a" stroke-width="0.7"/>
<text x="404.5" y="214.7" font-size="8.3" text-anchor="start" font-weight="normal" fill="#1a1a1a" >20</text>
<line x1="402.3" y1="199.16666666666666" x2="404.1" y2="199.16666666666666" stroke="#3a3a3a" stroke-width="0.7"/>
<text x="404.5" y="202.2" font-size="8.3" text-anchor="start" font-weight="normal" fill="#1a1a1a" >25</text>
<line x1="402.3" y1="186.61111111111111" x2="404.1" y2="186.61111111111111" stroke="#3a3a3a" stroke-width="0.7"/>
<text x="404.5" y="189.6" font-size="8.3" text-anchor="start" font-weight="normal" fill="#1a1a1a" >30</text>
<line x1="402.3" y1="174.05555555555554" x2="404.1" y2="174.05555555555554" stroke="#3a3a3a" stroke-width="0.7"/>
<text x="404.5" y="177.1" font-size="8.3" text-anchor="start" font-weight="normal" fill="#1a1a1a" >35</text>
<line x1="331.4" y1="274.5" x2="331.4" y2="276.3" stroke="#3a3a3a" stroke-width="0.7"/>
<text x="331.4" y="282.8" font-size="8.3" text-anchor="middle" font-weight="normal" fill="#1a1a1a" >0</text>
<line x1="353.2" y1="274.5" x2="353.2" y2="276.3" stroke="#3a3a3a" stroke-width="0.7"/>
<text x="353.2" y="282.8" font-size="8.3" text-anchor="middle" font-weight="normal" fill="#1a1a1a" >500</text>
<line x1="375.0" y1="274.5" x2="375.0" y2="276.3" stroke="#3a3a3a" stroke-width="0.7"/>
<text x="375.0" y="282.8" font-size="8.3" text-anchor="middle" font-weight="normal" fill="#1a1a1a" >1000</text>
<line x1="396.8" y1="274.5" x2="396.8" y2="276.3" stroke="#3a3a3a" stroke-width="0.7"/>
<text x="396.8" y="282.8" font-size="8.3" text-anchor="middle" font-weight="normal" fill="#1a1a1a" >1500</text>
<polyline points="354.1,161.9 355.1,162.5 354.1,163.0 354.2,163.7 352.9,164.5 352.7,164.8 353.4,165.7 353.5,166.0 352.8,166.9 350.9,167.5 353.2,168.2 351.3,168.3 351.8,169.1 352.4,169.8 351.4,170.3 349.7,170.8 349.0,171.3 348.8,171.7 348.4,172.2 347.0,172.6 347.6,172.8 347.8,173.2 345.9,174.2 346.3,174.4 345.8,175.0 344.1,175.6 345.4,175.6 343.3,176.2 344.6,176.8 342.3,177.4 344.6,177.9 342.7,178.7 343.7,179.0 343.1,179.6 342.7,180.5 343.0,181.0 341.3,181.6 342.0,182.4 342.3,183.1 342.9,183.6 342.0,184.6 342.4,185.0 343.5,185.3 341.7,186.0 343.3,186.6 343.2,187.6 344.3,188.1 343.1,188.9 342.4,189.0 343.9,190.1 342.8,190.5 341.7,190.9 341.4,191.5 343.3,192.3 341.9,192.4 340.5,192.8 339.9,193.1 340.4,193.5 340.1,194.2 338.1,194.6 338.9,194.9 338.6,195.0 338.4,195.3 336.5,196.0 335.6,196.5 337.1,196.5 334.4,196.8 335.4,197.2 334.5,197.7 335.4,198.2 334.5,199.1 332.9,199.5 332.4,199.8 334.5,200.4 332.4,201.1 333.1,201.7 332.2,202.7 331.8,203.1 332.1,203.9 333.3,204.3 332.8,205.1 332.8,205.7 332.5,206.1 333.5,207.3 333.4,207.9 334.2,208.0 334.6,208.7 335.1,208.8 335.2,209.2 335.9,209.8 336.4,210.1 336.9,210.4 337.4,211.1 338.0,211.6 338.9,211.4 339.2,211.6 340.2,211.7 340.4,211.4 340.9,211.9 341.6,211.6 342.5,211.6 343.1,211.5 343.5,211.5 344.4,211.7 345.0,212.1 345.2,211.8 346.2,212.1 346.6,211.8 347.1,212.0 347.9,212.3 348.7,212.3 349.1,212.3 349.8,212.0 350.0,212.4 350.9,212.6 351.4,212.4 352.0,212.6 352.9,212.3 353.3,212.7 354.1,212.8 354.4,212.8 355.2,213.0 355.6,213.0 356.6,212.9 356.8,212.8 357.5,213.1 358.0,212.9 358.8,213.0 359.6,212.8 359.9,212.9 360.7,213.2 361.5,213.3 361.7,213.5 362.2,213.1 363.2,213.4 363.7,213.4 364.3,213.2 364.8,213.3 365.3,213.5 366.0,213.4 367.0,213.6 367.6,213.2 368.2,213.2 368.4,213.3 369.3,213.8 369.6,213.5 370.3,213.7 370.7,213.8 371.5,213.4 372.4,213.7 373.0,213.8 373.4,213.6 374.2,213.6 374.5,213.7 375.2,213.8 376.1,213.8 376.2,213.7 377.1,213.4 377.6,213.4 378.5,213.6 378.7,214.0 379.4,213.9 380.3,213.9 380.5,213.6 381.6,213.8 381.9,213.8 382.3,214.0 383.4,214.1 383.7,214.0 384.7,214.1 385.0,214.2 385.7,214.0 386.3,213.8 386.8,214.0 387.6,214.0 388.0,214.3 388.4,213.8 389.2,214.3 389.9,214.0 390.7,213.9 391.3,213.8 391.8,214.4 392.4,214.0 392.8,214.3 393.4,214.4 394.1,213.9 394.9,214.3 395.5,213.9 395.9,214.2 396.8,214.0 397.2,214.2 396.7,214.2 395.9,214.3 395.4,214.0 394.7,214.2 394.0,214.2 393.4,214.3 393.0,214.2 392.6,214.1 391.6,214.5 391.2,214.3 390.4,214.6 389.8,214.6 389.5,214.3 388.8,214.3 388.1,214.7 387.5,214.7 386.8,214.4 386.3,214.5 385.6,214.4 384.8,214.6 384.2,214.4 383.6,214.7 383.0,214.5 382.8,214.7 382.0,214.6 381.4,214.8 380.7,214.5 380.0,214.8 379.5,215.0 378.8,214.9 378.3,214.6 377.8,214.7 376.9,214.8 376.5,214.6 376.2,214.8 375.2,214.6 374.5,214.7 373.8,214.9 373.5,215.1 372.7,215.1 372.4,214.7 371.4,214.8 371.2,215.1 370.2,214.8 369.6,215.1 369.2,215.3 368.8,214.9 367.8,215.1 367.3,215.2 366.6,215.3 366.2,215.0 365.8,215.0 365.1,215.4 364.6,215.4 363.7,215.3 363.3,215.1 362.5,215.5 362.1,215.1 361.4,215.1 360.6,215.4 360.0,215.1 359.5,215.5 358.9,215.3 358.0,215.3 357.7,215.3 356.8,215.6 356.3,215.8 355.6,215.7 355.2,215.6 354.8,216.1 354.3,215.7 353.1,216.0 353.0,215.9 352.0,216.2 351.6,216.1 351.1,216.1 350.5,216.2 349.9,215.9 349.1,216.5 348.5,216.4 347.9,216.6 347.0,216.3 346.5,216.7 346.4,216.3 345.3,216.4 344.9,216.7 344.1,216.9 343.6,216.7 343.0,216.7 342.2,216.5 342.1,216.7 341.1,217.2 340.5,216.7 340.2,216.9 339.6,217.2 338.7,217.4 338.6,217.9 338.0,218.3 337.4,218.5 336.6,218.5 336.2,219.2 336.3,219.9 336.9,220.5 336.7,220.8 337.4,221.6 337.5,222.0 338.5,222.3 339.1,222.4 339.5,222.8 340.0,222.7 340.5,222.9 341.4,223.1 341.8,223.0 342.6,223.0 343.3,223.4 344.0,223.5 344.6,223.3 345.3,223.5 345.7,223.4 346.5,223.6 346.9,223.6 347.7,223.9 348.0,223.9 348.6,223.6 349.5,223.9 349.9,223.6 350.7,223.7 351.2,223.7 351.6,224.1 352.4,224.1 353.2,223.7 353.6,223.9 354.2,223.7 355.2,224.0 355.4,224.1 356.3,224.3 356.8,224.0 357.1,224.3 358.0,224.6 358.5,224.1 359.3,224.6 359.7,224.4 360.3,224.8 361.1,224.5 361.6,224.6 362.0,225.0 363.0,224.7 363.4,225.2 363.9,225.1 364.9,224.9 365.5,225.0 365.0,225.0 363.9,225.4 363.4,225.4 363.1,225.4 362.1,225.7 361.5,225.8 360.9,226.0 360.5,225.7 360.0,226.4 359.1,226.4 358.5,226.6 358.3,226.6 357.3,226.5 356.6,226.9 356.4,226.9 355.8,226.8 354.7,227.0 354.6,227.2 353.9,227.4 353.0,227.4 352.3,227.4 352.2,227.8 351.4,227.7 350.6,227.8 350.3,227.5 349.8,227.6 348.6,227.6 348.2,228.1 347.5,228.3 347.2,227.8 346.6,228.0 346.0,227.9 345.5,228.2 344.8,228.1 344.1,228.3 343.3,228.4 343.2,228.2 342.5,228.5 341.8,228.8 341.1,228.8 340.7,228.8 340.0,228.8 339.2,229.2 338.4,229.3 338.2,228.9 337.7,228.8 337.0,229.5 336.4,229.5 335.8,229.7 335.3,230.0 334.4,229.8 333.8,230.1 333.5,230.5 333.0,230.6 332.1,231.2 332.0,231.9 331.8,232.1 332.2,233.0 331.8,233.8 331.6,234.1 331.8,235.1 331.8,235.5 331.7,236.4 331.5,236.6 331.6,237.1 331.4,238.1 331.6,238.4 331.3,239.4 331.8,239.8 331.6,240.4 331.9,241.3 331.9,241.7 331.7,242.4 331.4,242.8 331.6,243.3 331.7,244.0 331.9,244.6 331.5,245.2 331.3,245.5 331.3,246.6 331.8,247.1 331.5,247.7 331.4,248.2 331.6,248.9 331.4,249.7 331.7,250.3 331.4,250.7 331.8,251.5 331.4,251.7 331.8,252.5 331.4,253.1 331.5,253.8 331.4,254.4 331.5,254.6 331.5,255.6 331.9,256.3 331.3,256.9 331.7,257.2 331.3,258.0 331.6,258.3 331.6,258.8 331.9,259.9 331.7,260.5 331.4,260.8 331.9,261.7 331.7,261.8 331.6,262.7 331.6,263.1 331.4,263.7 331.4,264.7 331.4,264.9 331.9,265.4 331.3,266.2 331.6,267.0 331.8,267.7 331.3,268.3 331.4,268.7 331.8,269.1 331.6,270.1 331.5,270.6 331.8,271.0 331.4,271.8 331.3,272.6 331.6,272.9 331.6,273.5" fill="none" stroke="#000" stroke-width="1.6" stroke-linejoin="round"/>
<text x="371.0" y="292.5" font-size="9.6" text-anchor="middle" font-weight="normal" fill="#1a1a1a" >Ion occupancy</text>
<svg x="430.3" y="15.3" width="230.2" height="113" overflow="hidden"><g transform="translate(-430.3,-15.3)"><g transform="translate(233.400,115.744) scale(0.4150,-0.25111)" class="ts" fill="none" stroke-width="0.95" stroke-linejoin="round"><path stroke="#17becf" d="M606 415l1-6l1-33l1 7l1-5l1-51l1 33l1-20l1 0l1 30l1 50M946 415l1-25l1-34l1 25l1-15l1-66l1-5l1 36l1 22l1-44l1 65l1-22l1-6l1 26l1 48M862 415l1 5l1-17l1 17l1 0l1-6l1 6l1-2l1-7l1-2l1 8l1-81l1-5l1-25l1 13l1-7l1 1l1 53l1-37l1-25l1 20l1 5l1 31l1 45l1 15l1 0l1 0M660 415l1-59l1-28l1-49l1-22l1 30l1 85l1 46M469 415l1-12l1-23l1-28l1-14l1-18l1-42l1 40l1-30l1 9l1 8l1 19l1-27l1-40l1 43l1 38l1-40l1-48l1 14l1 18l1 22l1 43l1 1l1 72M893 415l1-1l1-46l1 31l1-1l1 15l1 7l1 0l1 0l1-14l1-8l1 22l1-13l1-9l1 22l1 0"/><path stroke="#e377c2" d="M619 415l1-9l1-8l1 4l1-25l1 8l1 35l1 0l1-28l1 26l1-19l1-18l1-29l1 33l1-26l1 52l1-24l1-18l1 17l1-2l1 5l1 13l1 0l1-12l1-11l1-22l1-35l1-30l1 42l1-36l1-7l1 28l1-4l1 66l1 19l1 20l1-3l1-7l1-14l1-4l1 3l1 25M521 415l1 5l1-15l1-58l1-7l1-34l1-7l1-24l1 0l1-6l1 52l1 71l1 20M780 415l1 5l1 0l1-17l1-12l1 5l1-5l1-47l1 76M635 415l1-51l1 27l1-38l1 16l1-52l1-25l1-24l1 33l1-16l1-5l1 71l1-39l1-18l1 20l1-9l1 9l1 29l1 43l1-49l1-32l1-30l1 26l1 19l1-54l1 12l1 8l1 35l1-4l1 15l1-15l1 32l1 4l1-21l1-44l1-9l1-9l1 1l1 23l1-26l1 25l1-19l1 3l1 45l1-34l1 19l1 22l1 53l1-32l1-18l1 33l1 37M923 415l1-2l1 3l1-21l1-4l1-41l1 70l1-27l1-3l1 20l1-14l1 24l1-21l1 21l1 0l1 0l1-21l1-7l1-57l1 33l1 5l1-23l1 46l1-3l1 27l1-20l1 5l1 6l1 9l1-4"/><path stroke="#1f77b4" d="M863 415l1-12l1-26l1 14l1-37l1-3l1 28l1 22l1 7l1-60l1 60l1 7l1 5l1 0l1-61l1 7l1-7l1 61M571 415l1-28l1 33l1-17l1 17l1 0l1 0l1 0l1-48l1-5l1-35l1 5l1-16l1-20l1 3l1 36l1 10l1 50M978 415l1 5l1-22l1 22l1-5l1-63l1-46l1 70l1 44M812 415l1-51l1-50l1 21l1-24l1 57l1 4l1-58l1-44l1-5l1 17l1 28l1 44l1 66M468 415l1 5l1 0l1 0l1-17l1 2l1-2l1-28l1-33l1-33l1 15l1-78l1-48l1-8l1 29l1-13l1 27l1-12l1-26l1 8l1-4l1 41l1-7l1-41l1 7l1 0l1-3l1 23l1 42l1 59l1 37l1 26l1 35"/><path stroke="#bcbd22" d="M512 415l1 5l1-10l1 10l1 0l1-40l1-16l1-7l1 30l1 5l1-39l1-19l1-5l1-4l1-13l1 31l1-8l1 24l1 25l1 30l1 6M605 415l1-38l1 32l1-15l1 0l1 23l1-6l1 9"/><path stroke="#7f7f7f" d="M955 415l1 2l1-61l1-25l1-52l1 32l1 2l1 23l1 6l1-21l1 35l1 21l1 6l1 37M621 415l1 5l1-22l1 22l1 0M764 415l1 5l1-14l1-35l1-103l1-6l1 2l1 23l1 77l1-13l1 45l1 24M949 415l1-5l1-19l1 13l1-49l1 12l1 0l1 2l1 12l1 11l1 17l1-44l1-9l1 3l1 5l1 10l1-14l1 10l1-1l1 12l1-15l1-13l1 6l1 1l1 34l1 26l1-10l1 10l1 0l1-2l1 2M634 415l1-2l1 7l1 0"/><path stroke="#9467bd" d="M948 415l1 5l1 0l1-31l1 23l1 8l1-24l1-58l1 16l1-11l1 8l1 15l1 21l1-35l1-2l1 30l1-18l1-13l1 41l1 4l1-10l1-46l1 12l1 17l1 23l1 12l1-28l1-30l1-1l1 6l1 68l1-66l1 43l1 26M882 415l1-31l1-6l1-5l1-31l1 28l1-10l1-2l1 50M764 415l1 5l1-5l1-74l1 8l1 19l1-34l1 42l1-6l1-5l1 47M493 415l1-52l1-24l1-42l1-21l1 25l1 4l1-19l1-13l1 28l1-21l1 2l1 26l1-24l1-8l1 41l1 35l1 68M755 415l1-17l1-21l1-16l1-21l1 58l1 22M711 415l1 5l1-12l1 12l1 0"/><path stroke="#ff7f0e" d="M866 415l1-6l1-21l1-1l1 27l1 3M769 415l1-34l1-48l1-7l1-40l1 19l1-20l1 26l1-22l1 21l1 0l1-29l1 9l1 7l1 34l1 17l1 1l1-33l1-2l1-1l1-9l1 2l1-21l1 7l1-9l1 0l1-2l1 4l1-2l1 13l1-18l1-1l1 17l1 2l1-9l1 10l1 24l1-36l1-8l1 25l1-6l1 49l1-11l1-32l1 23l1-16l1 24l1 85M752 415l1-45l1-13l1-54l1-15l1 26l1 6l1-16l1-6l1-9l1 1l1 9l1 15l1-4l1-12l1-7l1 10l1 28l1 37l1 36M629 415l1-11l1-21l1-67l1-4l1 15l1-17l1 16l1-37l1 9l1-8l1 9l1 13l1-24l1 1l1 36l1 46l1 45M827 415l1-2l1-24l1 9l1 22"/><path stroke="#d62728" d="M682 415l1 5l1-4l1 4l1-23l1-8l1 5l1 26l1-18l1-3l1-24l1-30l1 10l1 32l1 33M700 415l1 2l1-27l1-2l1 23l1-59l1-9l1 63M1015 415l1 5l1-20l1-10l1-25l1 23l1-24l1 6l1 26l1-35l1 1l1 24l1 34"/><path stroke="#8c564b" d="M626 415l1-24l1-33l1-45l1 30l1-35l1-18l1-27l1-17l1-2l1 24l1-12l1-6l1-29l1-8l1-1l1-17l1 5l1-14l1 63l1-14l1 43l1 34l1 37l1 59"/><path stroke="#2ca02c" d="M850 415l1 5l1-5l1 5l1-10l1-1l1 11l1 0l1 0l1-42l1-50l1 2l1-2l1-30l1 69l1 53M922 415l1 5l1-26l1 26"/><path stroke="#17becf" d="M782 415l1 5l1-15l1-18l1 33l1-11l1-34l1 10l1-47l1-42l1 17l1-9l1 13l1 13l1-32l1 45l1 19l1 36l1 22M573 415l1-7l1-19l1 31l1 0l1 0l1 0l1 0l1-24l1-56l1-71l1-5l1-42l1-43l1 7l1-1l1 13l1-2l1 31l1 18l1-30l1 18l1-49l1 0l1 2l1 27l1-30l1 11l1-14l1 12l1 4l1-3l1-13l1 8l1 8l1 3l1-5l1 3l1-5l1 28l1 4l1 31l1 53l1 35l1 46l1 31"/><path stroke="#8c564b" d="M780 415l1 5l1-5l1-1M627 415l1 4l1-14l1-6l1 3M966 415l1-50l1 22l1 13l1 9l1 11M944 415l1-3l1-56l1 28l1 36M867 415l1-5l1-50l1 60l1-5l1 1l1 4l1-12l1 12l1-4l1 4l1-20l1-7l1-77l1-8l1-7l1 21l1-4l1 22l1-31l1 39l1-8l1 14l1-4l1 57l1-1l1-104l1 20l1 13l1-10l1 27l1-17l1-16l1-40l1 2l1 10l1 5l1 32l1 45l1-5l1 16l1 3l1 19l1-27l1-34l1 33l1 27l1-39l1-15l1 2l1-3l1-25l1 25l1 21l1 26l1 11M859 415l1-16l1-31l1 10l1-12l1-47l1-31l1 12l1 51l1-46l1-6l1 27l1 33l1-19l1 30l1-12l1-37l1-12l1 17l1 33l1-16l1-48l1-3l1 5l1 1l1 43l1 36l1-5l1 10l1 38M1022 415l1-16l1 21l1 0l1-59l1-18l1-49l1 4l1-1l1-3l1 24l1 25l1-19l1 43l1 50"/><path stroke="#7f7f7f" d="M809 415l1 5l1 0l1 0l1-22l1 22l1-25l1 15M677 415l1-32l1-1l1-31l1-10l1 11l1 39l1-36l1 23l1-1l1 43M907 415l1 5l1-5l1 5l1 0l1-60l1 10l1-46l1-4l1 42l1-1l1-6l1-36l1 11l1-1l1-11l1 28l1-15l1-14l1 58l1-56l1-4l1 41l1 22l1 42M544 415l1 5l1-5l1-71l1 36l1-36l1-48l1 12l1-26l1 22l1-17l1 5l1-1l1 15l1-10l1 36l1-8l1-30l1 6l1-22l1 7l1 0l1 3l1-4l1 5l1 10l1 7l1-10l1-19l1 0l1 28l1-8l1 45l1-25l1-40l1 50l1 5l1-2l1 1l1-10l1-42l1 16l1 4l1-3l1 7l1 10l1-36l1 15l1 5l1 18l1-28l1 51l1 33l1 49M583 415l1 5l1-48l1-20l1-17l1-32l1 12l1 13l1 65l1-49l1 71M664 415l1-82l1 2l1-59l1 10l1 28l1-28l1-54l1 1l1 26l1 11l1 14l1 39l1 76l1 21M806 415l1-21l1-22l1 39l1 1l1-79l1 36l1-38l1 13l1 0l1-6l1-2l1 45l1-36l1 1l1 4l1-13l1 1l1 29l1-13l1-8l1 35l1-4l1-16l1-25l1 7l1 11l1 14l1-28l1 11l1 1l1 1l1-5l1 30l1 10l1-22l1-11l1 43l1-53l1-11l1 52l1 0l1 34"/><path stroke="#9467bd" d="M529 415l1-27l1-6l1-5l1 13l1 9l1-17l1 14l1 5l1 17l1 2l1-41l1-37l1-1l1 5l1 20l1-8l1-3l1 3l1 4l1-18l1 2l1 25l1-9l1 15l1-11l1 15l1-16l1 55M528 415l1 5l1-5l1-33l1 2l1 11l1 7l1-3l1-17l1-44l1 16l1-9l1 25l1-29l1-6l1 24l1 23l1-31l1-10l1 16l1-11l1-2l1-12l1 23l1-1l1-2l1-9l1 18l1 24l1-19l1 15l1-48l1 14l1-11l1 9l1 6l1-4l1-15l1 37l1 6l1 32M505 415l1 0l1-37l1-6l1-21l1-76l1 41l1-50l1 25l1 100l1 24"/><path stroke="#ff7f0e" d="M956 415l1-42l1-46l1-12l1 21l1-17l1 2l1 34l1 49"/><path stroke="#e377c2" d="M1029 415l1 5l1 0l1-9l1-3l1-33l1-20l1 18l1 13l1 34l1 0M837 415l1-20l1-50l1-5l1-27l1-11l1-10l1 3l1 18l1-5l1-18l1-3l1 23l1 45l1 43l1 22M889 415l1 4l1-40l1 13l1-28l1 8l1-8l1 8l1-39l1 40l1-20l1 15l1-2l1 53l1 1l1-41l1-16l1 41"/><path stroke="#d62728" d="M646 415l1-23l1 25l1 3l1-51l1-10l1 8l1-1l1 1l1 7l1 17l1 22l1 7l1-57l1 10l1-6l1 4l1-8l1 12l1-10l1 9l1-12l1 24l1-29l1 27l1-26l1-1l1 62M840 415l1-19l1-4l1 11l1 17l1 0l1-38l1 19l1-8l1 3l1-5l1 16M663 415l1-31l1-76l1-7l1-5l1 18l1 61l1 45M926 415l1-5l1-36l1-31l1 25l1 26l1 26l1 0l1 0l1-15l1 15l1 0l1-4l1 4l1-14l1-4l1 18l1 0l1-7l1 7M1020 415l1 5l1-33l1-2l1 31l1 4l1 0"/><path stroke="#1f77b4" d="M769 415l1-38l1 16l1-36l1-37l1 15l1 13l1-1l1-25l1 2l1 15l1 27l1-15l1 9l1-2l1 27l1 13l1 22M899 415l1-29l1-10l1-60l1 13l1-18l1-3l1 14l1 28l1 32l1-63l1 1l1-14l1 3l1 2l1 21l1-13l1 6l1-2l1 14l1 39l1-44l1-6l1-25l1 12l1-6l1 37l1-6l1 6l1 14l1 12l1-52l1-2l1 35l1-7l1 37l1-6l1-17l1-25l1-3l1-4l1-6l1 4l1-22l1-1l1 2l1-1l1-1l1 20l1 66l1 28M681 415l1-56l1-10l1-24l1-2l1 27l1-5l1 3l1-25l1-2l1-5l1 29l1 43l1 32M766 415l1-2l1-5l1-57l1-34l1-5l1-54l1 83l1 10l1 34l1 35"/><path stroke="#bcbd22" d="M500 415l1-32l1 4l1 23l1-51l1-27l1 32l1 16l1 16l1 24l1 0l1 0l1-31l1 24l1 7M749 415l1-33l1 4l1-17l1 15l1 0l1 36l1 0l1-73l1 24l1-6l1-8l1 6l1 10l1-42l1 11l1-13l1 10l1 12l1-22l1 9l1 21l1-6l1 22l1-24l1 34l1-29l1-26l1 18l1-17l1 19l1 37l1 33M721 415l1-10l1-4l1 6l1 13l1-29l1 11l1 18M954 415l1-31l1 20l1 11l1 5l1 0l1 0l1 0M814 415l1-12l1-16l1-33l1-31l1 23l1-18l1-70l1-24l1 9l1-7l1-5l1 24l1-10l1 53l1-28l1-22l1 1l1 4l1-11l1 48l1 21l1 32l1 40l1 37M937 415l1 2l1 3l1 0l1-19l1-63l1-37l1-27l1-4l1-19l1 1l1-21l1-8l1-21l1 0l1 2l1 61l1 52l1 28l1-14l1 26l1 12l1 49M482 415l1-35l1-29l1 1l1-28l1 10l1 33l1 14l1-24l1 63"/><path stroke="#2ca02c" d="M467 415l1-22l1-9l1-36l1 5l1-2l1 26l1-20l1-12l1 21l1-20l1 6l1 8l1 42"/><path stroke="#2ca02c" d="M963 415l1-17l1-4l1 10l1 0M542 415l1-19l1-47l1 34l1 35l1-16l1 2l1 16l1 0l1 0l1-19l1 5l1-25l1-43l1-16l1 12l1-1l1 2l1-21l1-6l1-32l1-14l1-6l1-34l1 35l1-51l1 10l1-13l1 21l1-22l1 15l1-8l1 4l1-10l1 1l1 15l1 25l1-42l1 7l1-7l1 26l1 61l1 3l1 59l1 63M840 415l1 5l1 0l1-12l1-3l1-31l1-18l1 25l1-6l1 15l1 0l1 28l1 2l1-14l1-8l1-3l1 2l1-6l1-38l1 22l1-13l1 27l1 31l1-12l1 12l1 0l1 0l1-16l1 12M476 415l1-4l1-31l1-31l1-10l1-2l1 17l1-19l1 7l1-10l1-2l1 15l1 12l1 39l1-29l1-20l1 17l1-31l1 16l1 11l1-28l1 23l1-26l1 5l1 32l1-26l1-11l1 13l1-9l1 15l1-11l1 63l1-8l1 28M1027 415l1-43l1-41l1-18l1 15l1 47l1 6l1 27l1-27l1 39l1 0l1-2l1-13l1 15l1-16l1-17l1 3l1-10l1-8l1 10l1 36l1-47l1 18l1 31l1-1l1 1M691 415l1 5l1 0l1 0M592 415l1 5l1-11l1 11l1-9l1-5l1 5l1-9l1 18M618 415l1-19l1-23l1 33l1 14l1-82l1-20l1 47l1-35l1-24l1-9l1 4l1 21l1-3l1 4l1 4l1-17l1 5l1-3l1 12l1 21l1-15l1-38l1 0l1 44l1-24l1 44l1-37l1-14l1-2l1 10l1 66l1-3l1 44"/><path stroke="#17becf" d="M1003 415l1-9l1-18l1-39l1-5l1 10l1-6l1 26l1-17l1-1l1-3l1 21l1-12l1 47l1 11l1-26l1-36l1 3l1 10l1-11l1 60M762 415l1-61l1 34l1-23l1-52l1-27l1 18l1-41l1-37l1 4l1 63l1-24l1 22l1 35l1-27l1-31l1-19l1-32l1-11l1 4l1-17l1 7l1 51l1-53l1-4l1 15l1-12l1 6l1 3l1-11l1 13l1-5l1 19l1 4l1-9l1 9l1-18l1 4l1 70l1 1l1 50l1 11l1-23l1-3l1-42l1 5l1 26l1 3l1 15l1-9l1-24l1-66l1 3l1 58l1 54l1 22l1 47"/><path stroke="#9467bd" d="M542 415l1-21l1-18l1-58l1-6l1 21l1-19l1 10l1 18l1-27l1 3l1 13l1 8l1 0l1-16l1-3l1-7l1 12l1-6l1 13l1 1l1 23l1-29l1 15l1 10l1 60M722 415l1 5l1 0l1-49l1 7l1-31l1 34l1-40l1-3l1-21l1-37l1-29l1 18l1-16l1-4l1 9l1 4l1-12l1 21l1-20l1 9l1 13l1-19l1 8l1 22l1 41l1 25l1-1l1-6l1-4l1 66M763 415l1-27l1-32l1 50l1 14l1-26l1 14l1 6l1-21l1-47l1-15l1 19l1 18l1 2l1 3l1-36l1-28l1-6l1 9l1 7l1 1l1 24l1-14l1 2l1-23l1 15l1 16l1-1l1 17l1-33l1-18l1-1l1 9l1 28l1 28l1-32l1 20l1-16l1 15l1 1l1-17l1-2l1 48l1 22l1 3l1-20l1 29l1 0l1 0l1 0l1-7l1 7l1 0l1-4l1-8l1-21l1-26l1-9l1 5l1-44l1 16l1-21l1 20l1 27l1 37l1 28M987 415l1-14l1 19l1-35l1 12l1-69l1-20l1-13l1 13l1 52l1 5l1-20l1-46l1 3l1-6l1 7l1 27l1-34l1 9l1 4l1-6l1 64l1-2l1-2l1 22l1-31l1 66M511 415l1 5l1 0l1 0M629 415l1-4l1 9l1 0l1-14l1 14l1 0l1 0l1 0l1-43l1-20l1 42l1-52l1-34l1 0l1 1l1-20l1-37l1 17l1-44l1 21l1 37l1 36l1 52l1 8l1 17M961 415l1-41l1 20l1-58l1 72"/><path stroke="#e377c2" d="M740 415l1 5l1 0l1-11l1-11l1-30l1 52l1 0l1-73l1-69l1-69l1-11l1-4l1 73l1 33l1 28l1 88M953 415l1 5l1 0l1 0l1-18l1 11l1 7M789 415l1-29l1 1l1 33l1-50l1-9l1 16l1-26l1-10l1-2l1 19l1 2l1 2l1-31l1-25l1 56l1-49l1-21l1 5l1-8l1 13l1 11l1-26l1 11l1 9l1-21l1 27l1-19l1 4l1 11l1 46l1 14l1-5l1-22l1 60M935 415l1 5l1-21l1-13l1-46l1 36l1-15l1 1l1-23l1-62l1-28l1 21l1 7l1-46l1 9l1 6l1-16l1 5l1 0l1-2l1 2l1 7l1 1l1-6l1 3l1 21l1-18l1 9l1 40l1-46l1-3l1 15l1 4l1-15l1 5l1-1l1-18l1-3l1 44l1-4l1-21l1-4l1 21l1-27l1-8l1 5l1 9l1-7l1 59l1 17l1 25l1 10l1-10l1-1l1 25l1-50l1-29l1-46l1-9l1 16l1 20l1-35l1 12l1-3l1 99l1 55l1 22"/><path stroke="#ff7f0e" d="M869 415l1 0l1-57l1-49l1 5l1 22l1-26l1 5l1-2l1 35l1-24l1 5l1 24l1 66M555 415l1-24l1-6l1 6l1-11l1-65l1-20l1 18l1-12l1-8l1 16l1 61l1 50M485 415l1-33l1-11l1 9l1-17l1 41l1-23l1-2l1-20l1 34l1-14l1-44l1 11l1-40l1 55l1 59"/><path stroke="#1f77b4" d="M558 415l1-38l1-13l1-17l1 35l1 38M627 415l1-30l1-7l1 9l1-9l1-71l1-5l1 27l1-35l1 2l1 3l1 10l1 35l1 0l1 76M509 415l1 5l1 0l1 0l1-34l1-40l1-14l1 84l1-22l1 2l1-44l1 38l1-48l1-26l1-11l1-22l1-20l1-30l1 23l1-43l1 1l1 21l1 1l1-20l1 59l1-22l1 15l1-7l1-31l1 2l1-13l1 2l1 0l1-5l1 0l1 45l1 32l1 57l1 2l1-16l1 56l1 14"/><path stroke="#8c564b" d="M600 415l1 5l1-1l1-45l1-17l1-30l1 93M549 415l1 5l1-51l1-5l1 36l1-17l1-65l1-13l1 8l1-11l1 8l1 10l1 36l1 59M692 415l1-4l1-15l1-24l1-36l1 35l1-46l1 8l1 7l1-14l1 27l1 14l1 23l1-44l1-8l1-18l1 16l1-10l1 14l1 21l1 9l1-9l1-22l1-18l1-1l1 3l1 3l1 5l1 3l1-2l1 3l1-3l1-7l1 38l1 57l1 0l1 0l1-29l1 29l1 0l1-85l1 3l1-2l1 7l1 61"/><path stroke="#7f7f7f" d="M824 415l1 1l1-54l1-24l1-2l1 9l1-12l1 35l1-8l1 18l1-12l1 24l1 30M592 415l1 5l1-42l1-1l1-36l1-53l1 37l1-12l1 32l1 21l1 26l1-19l1 8l1 39M988 415l1 3l1 2l1-11l1-6l1-34l1 7l1-19l1-3l1 47l1-30l1-11l1 60"/><path stroke="#d62728" d="M516 415l1 5l1-40l1-39l1-27l1-6l1 44l1-3l1-14l1 23l1-3l1 18l1 6l1-23l1 49M792 415l1 5l1-17l1-9l1-31l1 36l1-26l1 30l1 9l1-27l1-41l1 18l1 1l1 20l1 8l1-35l1-6l1 6l1-13l1 4l1 20l1-10l1-8l1-7l1 10l1 19l1 14l1-22l1-19l1 20l1-19l1 4l1-2l1-1l1 30l1 38l1-16l1 21l1 1l1 0l1-13l1 13M649 415l1-20l1 21l1 4l1 0l1 0l1 0l1-26l1-15l1-28l1-21l1 29l1 15l1-38l1-5l1 19l1-9l1 39l1-31l1-16l1 26l1 1l1-15l1-9l1 12l1-9l1 35l1 1l1-37l1 10l1 3l1 3l1 23l1-14l1-25l1 14l1 1l1-4l1-16l1 77"/><path stroke="#bcbd22" d="M746 415l1-2l1-33l1 13l1 23M854 415l1 5l1-28l1-17l1 28l1 4l1 13M627 415l1 5l1-1l1-4l1 5l1-47l1-12l1 33l1 1l1-20l1-13l1-3l1 3l1 21l1-23l1 22l1 36M910 415l1-62l1 15l1 39l1-42l1 48"/><path stroke="#7f7f7f" d="M516 415l1-50l1-12l1 5l1-10l1 17l1-11l1-6l1 11l1 7l1 9l1 45M753 415l1-61l1-9l1-11l1-39l1 74l1 51M1012 415l1-39l1 11l1 1l1 32l1 0l1 0l1 0M711 415l1 5l1-24l1-56l1-14l1 24l1-28l1 27l1-26l1 1l1-2l1 35l1-10l1 47l1 23"/><path stroke="#17becf" d="M471 415l1 5l1-38l1-38l1 24l1 5l1 34l1 11l1-1l1-32l1-16l1-6l1-10l1-39l1-9l1 6l1-4l1 10l1 0l1 25l1 0l1-2l1-30l1 7l1 10l1-21l1 39l1-31l1 58l1-34l1 37l1-3l1 48l1-9l1 9l1 0l1-6l1-28l1-28l1 16l1-60l1 85l1 21M596 415l1 5l1-61l1-28l1-19l1-5l1-5l1 61l1-35l1-33l1 13l1 2l1 17l1-6l1 1l1 27l1 24l1-14l1-11l1 48l1-20l1 34l1-5l1-5l1 20l1-66l1 23l1-66l1-15l1 4l1-8l1 7l1 6l1 49l1 22l1 42M911 415l1-18l1 20l1 3l1-37l1-44l1-18l1 14l1-16l1-25l1-6l1 22l1 23l1-40l1-18l1 59l1 6l1 2l1-48l1 16l1-77l1-9l1-40l1 11l1 23l1-26l1-2l1 87l1 37l1 25l1 59l1 11M942 415l1-4l1-30l1 21M983 415l1 5l1-22l1 6l1-14l1 3l1 8l1-61l1 4l1 6l1 61M500 415l1-59l1-28l1-23l1-24l1-21l1 21l1 26l1-23l1-3l1-39l1-7l1-8l1 5l1 17l1-7l1 16l1 42l1-12l1-22l1-39l1 6l1 9l1 18l1 13l1-23l1 27l1-1l1-17l1-32l1 12l1-13l1-1l1-1l1 29l1-26l1 8l1 16l1-8l1 26l1 20l1-5l1 42l1 7l1 18l1 47l1 22M734 415l1 5l1-17l1-22l1-77l1 15l1-21l1 5l1 16l1 49l1-17l1 49l1 18l1-31l1 33l1-11l1 3l1-18l1-25l1-28l1-18l1-15l1 7l1-4l1 40l1 19l1 32"/><path stroke="#8c564b" d="M839 415l1-29l1 34l1 0l1-40l1-28l1-32l1-20l1 23l1-47l1-15l1-7l1-2l1-10l1-11l1-18l1-8l1 2l1-7l1 8l1 60l1-38l1-9l1-7l1 75l1 16l1 32l1 46l1 37M822 415l1-8l1-56l1-44l1-29l1-42l1 31l1 4l1-11l1 30l1-6l1 20l1-18l1 27l1 5l1 21l1 39l1 42M935 415l1-56l1 11l1-19l1 19l1-2l1-10l1-4l1 2l1 5l1 10l1-18l1 5l1 16l1 0l1-6l1 18l1 33l1 1M909 415l1-6l1 3l1-44l1-17l1-6l1-18l1 1l1-39l1 1l1-1l1-5l1 12l1 23l1 72l1 4l1 25M716 415l1-64l1-4l1-27l1-65l1-3l1 32l1-28l1-5l1-5l1 5l1-6l1 23l1-5l1 1l1-21l1 7l1 7l1 17l1 41l1-23l1-10l1 28l1-24l1-30l1 2l1 35l1-46l1-4l1 9l1 42l1-36l1-4l1 31l1 23l1 84l1 15M795 415l1 5l1-9l1 6l1-15l1-6l1 24M704 415l1 0l1-27l1 7l1-16l1 0l1 41"/><path stroke="#e377c2" d="M844 415l1 1l1 4l1-45l1-14l1 46l1-18l1 29l1-31l1-15l1-32l1-16l1-4l1 9l1 34l1 11l1 46M711 415l1 3l1-26l1-58l1-2l1 7l1 33l1 34M717 415l1-57l1-18l1 8l1-74l1 39l1-33l1 16l1 5l1 14l1 30l1 71M953 415l1-23l1 23l1-7l1-5l1 17l1-37l1-39l1 7l1-23l1 16l1-19l1 56l1 15l1-29l1-79l1 30l1 12l1 8l1 52l1 30M1024 415l1-43l1 26l1-17l1 39M819 415l1-16l1-48l1-14l1 26l1 57"/><path stroke="#1f77b4" d="M731 415l1-39l1-13l1-5l1-4l1 6l1-4l1-2l1 21l1-16l1 20l1 41l1-29l1-36l1-3l1 3l1 33l1 8l1 24"/><path stroke="#d62728" d="M903 415l1-7l1-21l1 22l1 5l1 6M753 415l1-11l1 16l1-37l1-33l1-29l1-30l1-6l1 57l1-4l1 18l1-40l1-29l1 10l1 3l1-8l1-15l1 6l1-8l1 64l1 68M499 415l1-27l1-14l1 39l1 7l1-10l1-13l1-12l1 15l1 20l1 0l1 0l1-14l1-13l1-64l1-28l1 3l1 4l1-19l1 44l1 15l1 31l1 31M884 415l1 5l1-12l1 12l1-18l1 4l1-13l1 27"/><path stroke="#ff7f0e" d="M699 415l1 5l1-22l1-26l1-10l1-32l1-15l1-17l1-9l1-1l1-11l1-4l1 33l1 24l1 3l1-9l1-26l1-23l1 6l1 26l1-3l1 64l1 40M731 415l1-64l1-28l1-1l1-27l1-12l1-13l1-11l1 14l1-31l1 28l1-27l1 0l1-14l1 13l1-3l1 11l1-13l1 36l1 1l1-2l1 6l1 21l1-2l1 16l1-10l1-26l1 30l1-16l1-16l1 12l1-20l1-31l1 24l1 6l1 31l1-4l1 46l1 20l1-1l1 27l1 25M555 415l1-36l1 11l1-33l1 24l1-67l1-21l1-5l1 33l1 21l1 30l1 30M692 415l1-6l1 11l1-16l1-58l1-4l1-29l1-33l1-15l1-3l1 25l1-6l1 27l1 18l1 77"/><path stroke="#9467bd" d="M980 415l1 5l1 0l1 0l1-41l1 19l1 8l1 14l1 0l1 0l1 0l1-47l1 1l1 25l1-32l1 53l1 0l1 0l1 0l1 0l1-29l1-31l1 27l1-21l1-3l1-34l1 12l1 26l1 30l1 23M878 415l1 5l1-5l1 3l1-53l1 14l1-49l1 2l1 22l1-34l1-23l1-19l1 90l1 20l1-4l1 36M666 415l1-13l1-35l1 28l1 13M1023 415l1-5l1-46l1-18l1-2l1-69l1 6l1-11l1 21l1-25l1-10l1-12l1-6l1-19l1-45l1 10l1 57l1-6l1 15l1-16l1 7l1-22l1-5l1 39l1 76l1 48l1-5l1 44"/><path stroke="#bcbd22" d="M978 415l1-9l1-57l1-2l1-74l1-6l1-14l1-13l1 0l1 10l1 53l1 41l1 22l1-13l1-27l1 26l1-41l1-4l1 17l1-28l1-8l1-21l1 1l1 5l1 84l1 63M620 415l1 5l1-7l1-22l1-21l1-12l1 10l1 11l1-4l1-9l1-16l1-34l1 7l1-21l1-8l1-3l1 24l1-18l1-7l1-6l1 1l1-1l1 30l1 14l1-35l1 3l1 27l1-37l1 8l1 70l1 56"/><path stroke="#2ca02c" d="M820 415l1 5l1-36l1-19l1-20l1 7l1 12l1-10l1-2l1-3l1 57"/><path stroke="#d62728" d="M783 415l1 2l1-52l1 29l1-36l1 7l1-78l1-34l1 19l1 18l1-34l1 6l1 3l1-14l1 0l1 15l1-14l1 9l1-6l1 29l1-21l1-8l1 6l1 4l1 4l1-15l1 18l1-20l1 4l1 22l1-22l1 25l1-13l1-12l1 38l1-36l1-5l1-2l1 1l1 2l1 3l1 12l1 22l1 61l1 32l1-4l1 40M462 415l1-15l1 4l1 0l1-24l1 12l1-50l1-7l1 27l1 35l1 23M958 415l1 5l1-18l1-1l1-23l1-29l1 9l1-13l1 2l1 11l1 11l1-3l1-3l1-13l1 12l1 12l1-5l1-22l1-2l1 22l1 53l1 0l1 0l1-13l1-9l1-50l1 36l1-29l1 5l1-9l1-1l1 0l1 2l1-2l1 40l1 20M937 415l1 5l1-4l1-6l1-37l1-7l1-1l1-11l1-59l1-4l1 12l1 31l1-25l1 44l1 65M816 415l1-51l1-8l1-12l1-7l1-4l1 6l1-1l1 21l1 10l1 24l1-50l1 29l1 34"/><path stroke="#2ca02c" d="M665 415l1-7l1-8l1 0l1 20l1-18l1 10l1-47l1 16l1 11l1-6l1-40l1-9l1-25l1 14l1 51l1-45l1 33l1-11l1 20l1 27M995 415l1-1l1-20l1 0l1 26l1-14l1 12l1-15l1-30l1-53l1-10l1 31l1-17l1 3l1-11l1 24l1 27l1 53M743 415l1-10l1 0l1 15l1-35l1-45l1-39l1 9l1 3l1 23l1-12l1-6l1-23l1-10l1-6l1-21l1 23l1-8l1-9l1 77l1 13l1 66"/><path stroke="#e377c2" d="M1009 415l1 5l1-29l1 7l1-28l1 25l1 3l1 5l1-12l1-37l1 13l1 53l1 0l1 0l1-24l1 24l1-3M493 415l1-36l1 17l1-23l1-39l1-42l1 6l1 1l1-9l1-5l1 14l1-1l1 16l1-3l1-4l1 4l1 12l1 46l1 15l1 21M805 415l1-43l1-10l1 15l1-3l1-5l1-13l1 64M674 415l1-6l1-36l1 6l1-53l1 10l1 11l1-23l1 12l1 21l1-21l1 25l1-16l1-6l1-13l1 79"/><path stroke="#bcbd22" d="M821 415l1 5l1 0l1 0l1 0l1-29l1-67l1 3l1 14l1 47l1-30l1 61M752 415l1-26l1 16l1-7l1-22l1-30l1-39l1-37l1 7l1-2l1 4l1-16l1-20l1-3l1 10l1 3l1 0l1-15l1 7l1 9l1 1l1 12l1 35l1-58l1 23l1-28l1 3l1-3l1 7l1 1l1 13l1 23l1 17l1 8l1 98M759 415l1 5l1 0l1 0l1 0l1 0l1-13l1 13l1 0M678 415l1 5l1-69l1 55"/><path stroke="#1f77b4" d="M510 415l1 5l1-17l1-41l1 26l1 4l1-25l1 36M691 415l1-30l1 7l1 20l1-59l1-8l1 9l1-18l1 3l1-6l1-15l1-7l1 7l1-23l1 28l1 55l1 12l1 21M578 415l1-22l1-27l1-72l1-57l1-1l1 39l1 32l1 0l1 15l1 0l1-9l1-78l1 25l1 17l1 11l1-39l1-17l1 8l1-1l1 1l1-11l1 29l1 16l1 48l1 31l1 37l1 30M945 415l1 5l1 0l1-3l1 3l1-52l1-4l1 49"/><path stroke="#8c564b" d="M527 415l1-30l1-38l1-33l1 1l1 15l1 19l1 8l1 19l1 12l1 18l1-40l1-10l1-31l1 39l1-6l1 62M748 415l1-44l1-10l1-52l1 2l1-2l1 13l1-9l1 22l1-20l1 13l1 30l1-24l1-16l1 3l1-37l1-41l1-18l1 0l1 19l1-14l1 11l1-17l1 9l1 13l1-13l1 40l1-11l1-39l1 13l1 29l1 38l1 29l1 6l1 20l1 55M835 415l1 5l1 0l1 0l1 0l1-36l1-6l1 8l1 29l1 5l1-95l1-38l1 3l1 15l1-21l1 48l1-6l1-58l1-34l1-9l1-22l1-1l1-5l1 18l1 1l1-23l1 59l1 61l1 48l1 44M798 415l1-30l1 19l1-64l1 59l1-48l1-25l1-13l1 4l1-25l1 17l1-5l1 32l1 25l1-33l1-5l1-45l1-28l1 11l1-13l1 29l1-31l1 2l1 22l1-5l1 13l1 6l1-24l1 55l1 55l1 22l1 28M883 415l1-35l1-55l1-59l1 0l1 31l1-5l1-17l1-16l1 59l1 52l1-1l1-6l1 44"/><path stroke="#17becf" d="M501 415l1-84l1-3l1 18l1-3l1-26l1 29l1-11l1 12l1 4l1 3l1-54l1 28l1-7l1 6l1 27l1-20l1 21l1 29l1-29l1 25l1 30l1 10l1-56l1-15l1-37l1 14l1-8l1-18l1 13l1 3l1-11l1-4l1 25l1-15l1 16l1 4l1-10l1 19l1-34l1-5l1 19l1-15l1 1l1-5l1 22l1-14l1 0l1 19l1 75l1-28l1-32l1-16l1-15l1 89M533 415l1-14l1-25l1 44M808 415l1-53l1-35l1 9l1-10l1 1l1 76l1 0l1-19l1-14l1 2l1-27l1-12l1-19l1 0l1 7l1-8l1-3l1 2l1 14l1-13l1 1l1 0l1 24l1 46l1-15l1-22l1 24l1 49"/><path stroke="#9467bd" d="M485 415l1-42l1-12l1-21l1 23l1-12l1 55M945 415l1-5l1-7l1 17"/><path stroke="#ff7f0e" d="M483 415l1-41l1 25l1 21l1-18l1-71l1 64l1-9l1 7l1 27M500 415l1-16l1-42l1 43l1-9l1 29M931 415l1-18l1-8l1 31M583 415l1-64l1 9l1-27l1-47l1 11l1 5l1-20l1 50l1 22l1-44l1-17l1-24l1 2l1-9l1-1l1-2l1 4l1-11l1 12l1 12l1 52l1 80M662 415l1-4l1-24l1 14l1 2l1 17l1 0l1 0l1-20l1-25l1-55l1-45l1-18l1-8l1-13l1-15l1-5l1 96l1 14l1 17l1 51l1 26M946 415l1 5l1-44l1-41l1 41l1-3l1-11l1-22l1-5l1 13l1-76l1 25l1 21l1-19l1-7l1 4l1 31l1 0l1-22l1 28l1 16l1-39l1 30l1 11l1-4l1 65"/><path stroke="#7f7f7f" d="M639 415l1-70l1 5l1 2l1 25l1-42l1-3l1 50l1 19l1 6l1-23l1 12l1-35l1 6l1-30l1 74l1 9l1-16l1-3l1-5l1 16l1 8l1-78l1 28l1 45M733 415l1-3l1-29l1 2l1-16l1-7l1 27l1-20l1-48l1 21l1-13l1-5l1 35l1 21l1 40M558 415l1 5l1-46l1 16l1-51l1-15l1-26l1 22l1 3l1-26l1 29l1 11l1-9l1-24l1-6l1 5l1 17l1-14l1-12l1 21l1-22l1 26l1-8l1-3l1 9l1 34l1-3l1-25l1-15l1-7l1 34l1 41l1-36l1-3l1 71M885 415l1 1l1-42l1 10l1-33l1-64l1-22l1 9l1 21l1 24l1 38l1 63"/><path stroke="#8c564b" d="M759 415l1-46l1-3l1 27l1-7l1 2l1 32l1 0M576 415l1-27l1-31l1 47l1-65l1-26l1 14l1-14l1-60l1-2l1 21l1-21l1 7l1 24l1-5l1-21l1-4l1 60l1-7l1 22l1 30l1 21l1 2l1 40M520 415l1-27l1-67l1 11l1-24l1 11l1 12l1-13l1 15l1-10l1 25l1 35l1-14l1-25l1-12l1 1l1-15l1 3l1 60l1 39l1-36l1 17l1-32l1 51M554 415l1 5l1 0l1 0M882 415l1-10l1-45l1-54l1-4l1 13l1-12l1 18l1-17l1-58l1 31l1-16l1 46l1 35l1 50l1 28"/><path stroke="#1f77b4" d="M962 415l1-53l1-23l1 6l1-2l1-7l1-10l1 21l1 5l1-10l1-11l1 15l1 1l1-7l1 2l1 18l1 5l1 15l1 40l1-15M955 415l1 5l1-18l1 6l1-4l1 16M1003 415l1 5l1 0l1-2l1-35l1-15l1 23l1-18l1-22l1-44l1-21l1-3l1 25l1-11l1-5l1-9l1 34l1-18l1 4l1-1l1 57l1-1l1 16l1 32M586 415l1-17l1-78l1-15l1-7l1 8l1-4l1 6l1 54l1-33l1 34l1-2l1-19l1 1l1 3l1-31l1 13l1-8l1-4l1-16l1 30l1-11l1 13l1-20l1 33l1-15l1 66l1 24M764 415l1-52l1-12l1 69l1-17l1-15l1-13l1 1l1-73l1 7l1-21l1-61l1-38l1 15l1 40l1-7l1-5l1-1l1-19l1 6l1-29l1 13l1 21l1-24l1-2l1 0l1-8l1 0l1 3l1 10l1 29l1-5l1 5l1-20l1-7l1 1l1 10l1 2l1-13l1 27l1-24l1 53l1 35l1 3l1 36l1 15l1-35l1 15l1 74"/><path stroke="#e377c2" d="M937 415l1-35l1 5l1-5l1-9l1 19l1-13l1-6l1-2l1 9l1-34l1-18l1-8l1-13l1-18l1-32l1-1l1 14l1 8l1-19l1 27l1 43l1-32l1-34l1 25l1 14l1 36l1-41l1 13l1-44l1 22l1 36l1 15l1 67M573 415l1-29l1 34l1-30l1-22l1-7l1-16l1-13l1 16l1 4l1 35l1-30l1 17l1 16l1-23l1-28l1-4l1 0l1 0l1 18l1 47l1-42l1-13l1-1l1-4l1 9l1-11l1 6l1 7l1 20l1 10l1 16l1 23M769 415l1-47l1-20l1-7l1 51l1 12M853 415l1 5l1-56l1-26l1 6l1 12l1-17l1 13l1-19l1 8l1 14l1 22l1 7l1-49l1-2l1 19l1 19l1 18l1-53l1 7l1 6l1-1l1-10l1 3l1 23l1 56M593 415l1-12l1 15l1-43l1-31l1-32l1-21l1-49l1-41l1-1l1 4l1 25l1 25l1 59l1 58l1 16l1 33"/><path stroke="#9467bd" d="M786 415l1 5l1 0l1-11l1 4l1 7l1 0l1 0l1-21l1-52l1-32l1-8l1 36l1-22l1-23l1 36l1-10l1-21l1 69l1 48M732 415l1 5l1-13l1-22l1-36l1 3l1-50l1-3l1-50l1 3l1-2l1 38l1-36l1-4l1 28l1-16l1-5l1-6l1 7l1 10l1-16l1 10l1 1l1 1l1 11l1 26l1-20l1 21l1 15l1-2l1-10l1 20l1 4l1 10l1 13l1 58M601 415l1-15l1 20l1 0M1020 415l1-14l1 2l1 17l1-27l1 11l1-53l1-10l1 0l1 19l1-21l1 9l1 3l1 14l1-18l1 15l1-21l1 24l1 0l1-26l1 15l1-6l1-5l1 11l1 52l1-19l1 9l1-35l1 16l1-33l1 13l1-9l1-8l1 3l1 9l1-4l1 16l1 17l1 3l1 27l1-42l1-25l1 5l1 15l1-18l1 4l1-1l1 25l1 19l1 27M756 415l1 5l1-55l1 28l1 11M707 415l1-62l1-18l1 15l1-24l1 39l1-18l1-35l1 24l1-17l1 2l1 9l1 42l1 48M982 415l1-30l1 35l1-22l1-36l1-58l1-30l1-31l1-29l1 33l1 84l1 38l1-6l1 14l1-17l1 47"/><path stroke="#7f7f7f" d="M543 415l1-64l1 59l1 10l1-64l1 3l1 6l1-54l1-51l1-25l1 7l1-12l1-5l1 55l1-21l1-29l1 27l1 3l1 31l1-29l1-33l1-1l1 3l1 7l1 25l1-11l1-16l1-10l1 10l1 3l1-15l1 5l1 11l1-5l1 0l1 16l1-19l1 44l1 52l1 73M686 415l1-42l1-11l1-1l1-25l1 25l1 18l1-4l1-36l1 14l1-16l1-11l1 34l1-17l1-13l1 3l1-3l1-14l1-4l1-10l1-53l1-31l1-20l1 30l1 48l1-34l1-3l1-46l1-1l1 19l1-20l1-1l1 3l1 26l1-23l1-6l1 10l1 57l1 7l1 28l1 22l1-22l1 26l1 49l1-20l1 9l1 39l1 25M553 415l1-6l1-10l1 21l1 0l1 0M947 415l1-6l1-1l1 12l1 0l1-52l1-60l1-1l1 57l1 37l1-36l1-23l1-29l1 12l1-2l1-5l1 12l1 18l1-48l1 3l1 29l1 7l1-5l1 6l1 0l1-26l1 3l1-11l1 15l1-3l1 8l1 8l1-12l1 21l1-14l1-14l1-7l1 41l1 30l1-22l1-7l1-25l1 41l1-49l1 75l1 28M947 415l1 5l1-49l1-16l1-21l1-25l1-87l1-2l1 16l1-21l1 18l1-22l1-9l1-15l1 9l1 29l1 12l1-3l1-17l1 39l1-13l1 57l1 47l1 22l1-5l1 23l1 33M860 415l1-45l1 5l1-31l1-20l1-41l1-1l1-8l1 22l1-28l1 12l1-3l1 20l1-15l1-13l1 42l1 8l1-4l1-32l1 19l1 36l1 82"/><path stroke="#bcbd22" d="M483 415l1-6l1-20l1-6l1 18l1-31l1-48l1-4l1 14l1 83M977 415l1-12l1-30l1-21l1-52l1-15l1-6l1 16l1-24l1 9l1 86l1 32l1 21M744 415l1-28l1-40l1-12l1-6l1 14l1 33l1 44M753 415l1-20l1-58l1-35l1-8l1-12l1 13l1 35l1-1l1-19l1 98"/><path stroke="#ff7f0e" d="M630 415l1-75l1-21l1 7l1 16l1-3l1-16l1 12l1 7l1-8l1 26l1 22l1-1l1-58l1 3l1 13l1 2l1-15l1-5l1-1l1 18l1-15l1 2l1 3l1-1l1 21l1 59M618 415l1-16l1-12l1 19l1 1l1 13l1-25l1 0l1 13l1 12M583 415l1 5l1 0l1-40l1 40l1 0l1 0l1-3l1 3l1 0l1 0l1 0l1-45l1-19l1-6l1 67"/><path stroke="#d62728" d="M759 415l1-60l1 24l1 41l1-19l1-12l1 31l1-10l1-4l1 14l1-74l1 38l1 28l1 8l1 0l1-10l1 10l1 0l1-19l1 19l1 0l1-8l1-30l1-4l1-20l1-11l1-18l1-23l1 4l1 2l1 32l1-15l1 23l1 17l1 26l1 15l1-18l1-26l1-3l1-8l1 65M552 415l1-34l1-22l1 10l1 23l1-12l1 40l1-6l1 6l1-56l1 30l1-24l1-16l1 10l1-8l1-47l1-28l1-49l1 10l1-6l1 23l1 54l1-25l1 1l1-31l1 63l1-21l1 1l1-10l1-14l1 49l1-49l1-4l1-10l1 6l1-12l1-11l1 9l1-16l1 57l1 34l1 90M976 415l1 5l1-3l1-70l1-31l1 8l1-41l1 10l1-11l1 24l1-34l1-2l1 19l1 4l1 11l1 29l1 5l1 56l1 26"/><path stroke="#17becf" d="M832 415l1-21l1 26l1 0l1 0l1-34l1-17l1 29l1 22l1 0l1 0l1 0l1-48l1 39l1-2l1 11l1-42l1 37l1 5l1 0l1 0l1-58l1 22l1-50l1 44l1 42M1003 415l1-53l1-6l1 16l1 42"/><path stroke="#d62728" d="M652 415l1-1l1-31l1-13l1 9l1-30l1 10l1-46l1-21l1 44l1 10l1-15l1 4l1 29l1 9l1-17l1-41l1-18l1 14l1-5l1-7l1 29l1 32l1-28l1-8l1-3l1 45l1 54M1023 415l1 5l1 0l1-7l1 7l1 0l1-33l1-6l1 39l1-56l1 34l1 18l1 3l1 1l1 0l1-31l1-3l1-59l1-6l1 16l1 21l1 29l1-20l1-19l1-29l1 6l1-5l1 67l1-60l1 15l1-4l1 7l1 71M502 415l1 5l1 0l1 0l1-4l1 4l1 0l1 0l1 0l1-9l1-9l1-21l1-5l1 9l1-13l1-8l1 14l1 13l1-18l1-25l1-2l1-6l1-7l1-25l1-21l1 28l1 47l1 35l1 23M744 415l1-19l1-8l1 17l1-26l1-20l1-35l1 16l1 18l1 62"/><path stroke="#1f77b4" d="M818 415l1-16l1-4l1 25l1-12l1-3l1-56l1 61M524 415l1 5l1-24l1-2l1-55l1-42l1-3l1 3l1-15l1 4l1 20l1 0l1 23l1 82M1011 415l1 5l1-16l1-11l1-6l1-31l1-37l1-29l1 35l1-16l1 11l1 7l1-57l1 5l1-4l1 17l1 57l1-1l1 12l1 8l1 1l1 55M501 415l1-19l1 11l1-97l1-43l1 21l1-11l1 1l1 28l1-37l1 8l1 35l1-18l1-28l1 17l1 35l1 17l1 24l1-26l1-3l1 30l1 60M765 415l1-20l1-36l1-25l1-5l1-29l1 8l1-1l1 11l1-11l1-13l1 1l1 10l1-9l1-7l1 1l1 11l1-3l1-3l1 2l1 12l1 1l1 23l1-36l1 24l1 3l1 3l1 21l1-14l1-18l1-20l1 3l1 4l1 7l1 8l1 40l1 28l1 34"/><path stroke="#7f7f7f" d="M698 415l1 5l1-30l1 2l1-52l1 18l1-4l1-7l1 1l1-2l1-5l1 34l1-6l1 10l1 41M738 415l1-14l1-36l1-18l1-2l1-3l1-3l1 16l1-5l1-15l1 9l1 12l1 16l1 7l1-24l1 4l1-25l1 7l1 3l1 73l1-8l1 11l1-33l1-3l1-18l1-28l1 7l1-8l1-3l1 19l1 10l1-25l1 8l1 9l1 4l1-22l1 14l1-13l1 36l1-4l1-9l1-11l1-8l1 26l1-33l1 2l1 3l1 21l1-22l1-5l1 32l1 6l1 28l1-25l1-13l1-4l1-23l1 17l1-7l1-12l1 3l1 4l1-6l1 9l1 26l1 47M729 415l1 5l1-30l1 23l1 7l1-4l1-23l1-43l1 48l1-42l1 64l1-70l1-1l1-17l1-9l1 33l1 13l1-11l1 52l1-43l1-40l1 5l1-3l1-1l1 5l1 34l1-27l1-17l1 8l1 7l1-4l1 7l1 0l1-23l1 8l1 39l1 0l1 35l1 20l1-27l1 10M562 415l1-45l1-46l1-42l1 5l1 10l1-9l1 20l1-25l1 23l1-23l1 13l1-13l1 0l1 13l1-15l1 19l1 16l1 15l1-10l1-8l1-27l1 7l1 4l1 48l1 29l1-69l1-22l1 50l1-32l1 6l1 28l1 85"/><path stroke="#e377c2" d="M499 415l1 1l1-73l1 19l1-16l1 15l1-4l1 49M867 415l1-19l1-43l1 34l1-30l1 12l1-2l1 0l1 5l1-18l1 6l1 48M766 415l1 1l1-23l1 27l1-21l1 15l1 6l1 0l1-16l1-59l1 8l1 34l1-42l1-55l1-7l1-60l1 22l1-8l1 16l1-43l1 11l1-26l1 73l1 37l1-53l1-12l1 22l1-7l1 16l1 20l1 22l1 1l1 33l1 37l1 5l1 31M865 415l1-3l1 8l1-42l1-55l1 0l1 72l1-40l1-6l1 58l1-15l1-5l1-7l1-20l1-48l1 23l1-11l1-40l1-8l1-8l1 1l1 13l1 0l1-6l1 45l1 26l1 46l1 27M617 415l1-64l1-33l1 29l1-21l1-33l1 35l1-34l1 60l1 33l1 3l1 30M665 415l1-5l1 10l1-33l1-9l1 42l1-27l1-10l1 9l1 18l1-17l1 27l1 0"/><path stroke="#2ca02c" d="M1024 415l1-79l1 43l1 41M550 415l1 4l1 1l1 0l1-1l1-12l1 13l1-31l1-1l1-25l1 14l1-7l1-29l1-24l1 23l1 23l1 37l1 20M946 415l1-55l1-7l1 13l1-18l1 22l1 18l1 13l1-2l1-10l1-38l1-3l1 9l1 0l1-9l1 24l1 48M832 415l1-10l1-49l1 25l1-41l1-37l1 3l1-19l1 7l1 21l1 55l1 24l1-5l1 18"/><path stroke="#bcbd22" d="M544 415l1-2l1-33l1-16l1 16l1-36l1-45l1 37l1 12l1-28l1-38l1 21l1 19l1-36l1 12l1-12l1 13l1-4l1-10l1 2l1 2l1-10l1 10l1 54l1-5l1-39l1 11l1 14l1-42l1 37l1 6l1-3l1-19l1 3l1 24l1-31l1-5l1-20l1 3l1 17l1-14l1 16l1 0l1-14l1-7l1 1l1 5l1 24l1-23l1-4l1 7l1-10l1 81l1 42l1-71l1 59l1 3l1 31M745 415l1-46l1-40l1 21l1-20l1-16l1-95l1-7l1 0l1 13l1 22l1 34l1 16l1 41l1 52l1 2l1 28M812 415l1 5l1 0l1 0l1 0l1-21l1 0l1-3l1 24l1 0l1-64l1-25l1 2l1 11l1-21l1 47l1-6l1 41M1008 415l1 5l1-17l1-9l1-16l1 11l1 2l1-30l1-15l1-59l1-5l1 8l1 11l1-29l1 26l1-16l1-12l1 19l1 25l1-42l1 19l1 51l1-55l1 2l1 11l1 7l1 45l1 10l1 33l1 25l1-9l1-12l1-11l1-1l1 3l1-7l1 37"/><path stroke="#9467bd" d="M738 415l1 5l1-3l1 3l1-45l1 19l1 26M565 415l1-10l1-11l1-4l1-2l1 32M869 415l1-16l1-43l1 9l1-33l1-2l1 3l1-15l1-14l1 4l1-14l1 16l1 29l1 34l1-4l1-50l1 7l1-1l1-37l1-5l1-45l1 43l1 17l1-48l1 21l1 2l1 8l1 37l1 55l1 47M942 415l1-30l1-15l1 44l1-17l1-57l1-32l1-16l1-47l1 12l1 31l1-17l1-23l1 26l1-1l1-27l1 44l1 37l1 25l1 59M700 415l1 5l1-64l1-26l1-5l1 6l1 44l1 4l1 41"/><path stroke="#8c564b" d="M474 415l1-6l1 11l1 0l1-31l1 26l1 5l1 0l1-30l1-40l1-22l1 36l1-20l1 21l1-28l1-48l1-7l1-13l1 9l1 5l1 35l1 22l1 68l1-29l1 27l1-35l1-40l1 4l1 17l1-16l1 28l1-16l1-10l1 46l1 36M903 415l1-8l1-10l1-27l1-69l1-5l1-46l1 38l1-22l1-1l1 40l1 59l1 22l1 3l1 27M860 415l1-35l1 17l1-40l1-22l1-34l1-16l1 23l1 41l1 11l1 15l1 1l1 4l1 26l1-30l1 2l1 18l1-23l1 19l1 28l1 0l1-26l1 13l1 3l1-24l1-16l1-10l1-2l1-9l1-38l1 23l1-31l1-25l1 26l1-7l1-25l1-17l1 15l1-17l1 16l1-7l1 42l1-45l1 0l1 4l1 25l1 42l1 56l1 34M645 415l1 5l1-18l1-15l1 9l1 24"/><path stroke="#ff7f0e" d="M578 415l1-43l1-41l1 74M990 415l1-10l1-21l1-16l1-41l1-27l1-2l1 13l1 20l1 10l1-38l1 6l1-1l1-6l1 8l1-16l1 11l1-10l1 1l1 0l1-4l1 17l1-8l1 44l1 14l1 14l1 37l1-47l1 16l1 40M730 415l1-9l1 13l1 1l1 0l1-15l1-25l1-6l1-14l1-74l1-15l1 15l1 5l1-18l1 34l1 86l1 27"/><path stroke="#17becf" d="M862 415l1 5l1-59l1 25l1 25l1-10l1 7l1-17l1-22l1 37l1 11l1-6l1-72l1-13l1-11l1 21l1 36l1 12l1 8l1 2l1-15l1 41l1 0l1-30l1-5l1-21l1-11l1 15l1-9l1-44l1 10l1-8l1 0l1-6l1 49l1 1l1-39l1 96"/><path stroke="#2ca02c" d="M583 415l1-27l1-92l1-22l1-10l1-7l1-18l1 32l1-16l1 35l1-8l1 13l1 61l1 5l1 20l1 27M773 415l1-34l1-49l1-32l1-34l1-4l1 34l1-47l1 3l1 4l1 2l1-9l1 22l1 14l1-4l1-25l1 4l1 1l1-10l1 4l1-4l1 36l1 30l1-41l1 2l1-13l1-10l1 29l1 28l1-16l1 26l1 29l1-45l1-26l1 9l1 3l1-6l1 2l1 26l1 3l1 14l1-33l1-8l1-27l1-2l1-8l1 8l1-7l1 22l1-2l1-25l1 19l1 39l1 32l1 15l1-2l1 20l1-11l1-21l1-17l1-46l1-19l1-6l1 86l1 57l1 25M807 415l1-5l1 10l1 0l1-7l1 5l1-21l1 12M478 415l1-44l1-37l1-24l1 5l1 1l1-6l1 18l1 39l1-27l1 3l1 6l1 71"/><path stroke="#1f77b4" d="M765 415l1-20l1 24l1-34l1-37l1 11l1 41l1-4l1-42l1 26l1 40l1-11l1 7l1 4l1 0l1 0M528 415l1-13l1 18l1 0M795 415l1-8l1 6l1-4l1 11l1-30l1 11"/><path stroke="#ff7f0e" d="M951 415l1 5l1-64l1-19l1 33l1 40l1-15l1-8l1 23l1-7l1 16l1-41l1-21l1-5l1-51l1 49l1-3l1 37l1 36M677 415l1-24l1-82l1 31l1-32l1-15l1 52l1 15l1-20l1 27l1 48M609 415l1-58l1-12l1 12l1-5l1-6l1 38l1 36M859 415l1 5l1 0l1 0l1-33l1-3l1-26l1 6l1 3l1 53M601 415l1-21l1-33l1 46l1 8l1-15l1 20M783 415l1 5l1-53l1 8l1-60l1-1l1 60l1-33l1 38l1 41M520 415l1-66l1 18l1-52l1 4l1 11l1 3l1 19l1 54"/><path stroke="#8c564b" d="M809 415l1 5l1-7l1-71l1-20l1-20l1-22l1 0l1 33l1 11l1-50l1 12l1 9l1-2l1 22l1 31l1-45l1-11l1-6l1 3l1-9l1 3l1-1l1 4l1-6l1 14l1-12l1 12l1-9l1-9l1 7l1-4l1 32l1 49l1-16l1 41l1 6l1-59l1-4l1-49l1 33l1-17l1-16l1 3l1-2l1-3l1 23l1 3l1-11l1-7l1 3l1 14l1-19l1 0l1 29l1 69l1 5l1 20M683 415l1-19l1 1l1-12l1 11l1-6l1 20l1 10l1-43l1 40l1-15l1 18l1 0l1-46l1 29l1-11l1-31l1-9l1-8l1-14l1-57l1-27l1-4l1 8l1 1l1-34l1-23l1-8l1 2l1 6l1 42l1-6l1-44l1 11l1 34l1-14l1 67l1-17l1 39l1 14l1 60l1 3l1 18M826 415l1-59l1-22l1 12l1 14l1 15l1-32l1 26l1 1l1-12l1 43"/><path stroke="#d62728" d="M783 415l1-7l1 10l1 2l1-41l1 41l1-36l1 10l1-29l1 43l1 12l1 0l1 0l1-15l1-20l1-22l1-25l1-22l1 3l1-17l1-2l1 0l1 34l1 31l1 53M816 415l1 5l1 0l1 0l1-45l1 23l1-28l1-55l1-31l1-11l1-9l1-17l1 1l1 14l1-3l1-10l1-3l1 27l1 16l1 54l1-8l1 4l1 44l1 26"/><path stroke="#7f7f7f" d="M565 415l1 0l1 5l1-9l1-1l1 7M585 415l1 5l1-42l1-22l1 46l1 2l1-8l1-54l1-32l1 26l1 33l1 3l1-19l1-29l1-18l1 19l1-20l1-5l1-22l1-2l1 54l1 44l1 25l1 21M630 415l1 5l1-57l1-2l1-6l1-6l1 5l1 28l1 10l1-11l1-27l1 2l1-6l1 29l1-13l1-9l1-5l1 9l1-13l1 10l1 31l1-16l1-22l1 3l1 2l1-3l1 9l1 0l1-16l1 21l1 13l1-3l1-25l1 6l1-9l1 6l1 6l1-3l1 13l1 5l1 43M836 415l1 5l1-57l1-19l1 5l1 8l1 4l1-14l1 29l1-24l1 17l1 51M651 415l1-51l1 6l1-7l1-5l1 25l1-20l1 26l1 31"/><path stroke="#bcbd22" d="M603 415l1-14l1 7l1-8l1 12l1-5l1-63l1-22l1 14l1 2l1-17l1 21l1 28l1-17l1-6l1 37l1-37l1-18l1 6l1 53l1-56l1 12l1 31l1 33M791 415l1 5l1 0l1-9l1-5l1 14M955 415l1-21l1-24l1-10l1 11l1 33l1 16l1 0l1-39l1-33l1 42l1-57l1 21l1-1l1 59M871 415l1-83l1-29l1-5l1-39l1 32l1 1l1-22l1 15l1 9l1 5l1-7l1 39l1-5l1-36l1-25l1-12l1 57l1 36l1 36l1 20M831 415l1-44l1-52l1-16l1 10l1 1l1-13l1 49l1-37l1-4l1 2l1-4l1 4l1-6l1 26l1-20l1 1l1 3l1-10l1 7l1-1l1 42l1-33l1-20l1 12l1 0l1 2l1 16l1-17l1-9l1 6l1 12l1-6l1-13l1 7l1-6l1 40l1 28l1-23l1-16l1 11l1-33l1 2l1-7l1-3l1 49l1 55M1021 415l1-3l1-42l1-18l1 1l1 2l1-9l1 31l1-24l1 0l1 1l1 2l1 33l1-33l1 64l1 0l1-5l1 5l1 0l1-20l1-30l1 8l1 11l1 10l1 21l1-36l1 19l1 17l1 0l1-1l1 1l1-1l1 1l1-1l1-37l1 28l1-35l1-23l1 7l1-5l1 31l1 7l1 28l1-33l1 10l1 14l1-46l1 9l1 46l1-33l1 5l1 16"/><path stroke="#17becf" d="M792 415l1 5l1 0l1-28l1 28M870 415l1-34l1 39l1 0l1-2l1-19l1 12M872 415l1-6l1 7l1-17l1-4l1-22l1-48l1 11l1 35l1-6l1-39l1-1l1 9l1-50l1-36l1-17l1 90l1 62l1 37M939 415l1 5l1 0l1 0l1 0l1-16l1 16"/><path stroke="#e377c2" d="M675 415l1 5l1 0l1-3l1-50l1 0l1-3l1 19l1-20l1-45l1-44l1 5l1 41l1-26l1 23l1-24l1 36l1 2l1 57l1 32"/><path stroke="#9467bd" d="M623 415l1-20l1-51l1-32l1-23l1-16l1-3l1 11l1-13l1 27l1-5l1-12l1 26l1-31l1 16l1 27l1-34l1 12l1 52l1-50l1 7l1-22l1-16l1 9l1 3l1 11l1-20l1 31l1-25l1-5l1-6l1 14l1 3l1 38l1 11l1 55l1 7l1 29M996 415l1 5l1 0l1 0l1 0l1-33l1-18l1 16l1-11l1 22l1-8l1-43l1-22l1 7l1 11l1-16l1 29l1-12l1-32l1 51l1 11l1 28l1 20M787 415l1-57l1-24l1-18l1 5l1-36l1 12l1-21l1-7l1 17l1-30l1 8l1-33l1-24l1 2l1 14l1-9l1 18l1 56l1-23l1 3l1-33l1 34l1 5l1-12l1-17l1-3l1-33l1-12l1 2l1-1l1 1l1 14l1-14l1 11l1 23l1 5l1-23l1-14l1 0l1 4l1-2l1 1l1 16l1-1l1 13l1-14l1 16l1 19l1 18l1 67l1 36l1 13l1 5l1 28M981 415l1-17l1-31l1-31l1-3l1-4l1 0l1 9l1 37l1 27l1-31l1 30l1-17l1 7l1 29l1 0l1-20l1 19l1-3l1 4l1-19l1 4l1-16l1-36l1-26l1 2l1 13l1 35l1 43M914 415l1-19l1-75l1-26l1 42l1 81"/><path stroke="#17becf" d="M1025 415l1-5l1-4l1 3l1-12l1-40l1 38l1-30l1-6l1 26l1 13l1-8l1-46l1 21l1 42l1-36l1-26l1-17l1-24l1 13l1-30l1-51l1 18l1-4l1-31l1 5l1-4l1 39l1-9l1 39l1 15l1-1l1-5l1-50l1-22l1-9l1 20l1-8l1-2l1-3l1 3l1 47l1 8l1-25l1-33l1 1l1 13l1-4l1-8l1-1l1 7l1-6l1-6l1 25l1-13l1 9l1-3l1 0l1 6l1 2l1 0l1 12l1 43l1 9l1-20l1-18l1-15l1-1l1 70l1 41l1 17l1 36M849 415l1 4l1-68l1-12l1-9l1-23l1 19l1-12l1 4l1 15l1 38l1 6l1 25M732 415l1-26l1-16l1-31l1-17l1-22l1-16l1 35l1 13l1-21l1-28l1 29l1 32l1 11l1 24l1 38M487 415l1 5l1 0l1-19l1 19l1 0l1 0l1-27l1 27M985 415l1-51l1-6l1-9l1-10l1 1l1 35l1-14l1-26l1 20l1-13l1 5l1-10l1 0l1 1l1-2l1 23l1 39l1-11l1 33M976 415l1-46l1 5l1-4l1-65l1 84l1 29M855 415l1-58l1 1l1-50l1-16l1 2l1 82l1 34"/><path stroke="#ff7f0e" d="M884 415l1 5l1 0l1-18l1 18l1 0l1 0l1-19l1-46l1-48l1 9l1 52l1 41M467 415l1-31l1 16l1 0l1-2l1-37l1 4l1-46l1 17l1-23l1-27l1 10l1 69l1-37l1-15l1-7l1 5l1-16l1 10l1-16l1 2l1 21l1 17l1 9l1 0l1 76M704 415l1-17l1-8l1-37l1-36l1 7l1-6l1 33l1-34l1 14l1 9l1 23l1 43M670 415l1 5l1-24l1 24l1 0"/><path stroke="#8c564b" d="M928 415l1 1l1-6l1-50l1-16l1-39l1 2l1 11l1-13l1-8l1 6l1 6l1-9l1 24l1 3l1-25l1 0l1 15l1-1l1-16l1 27l1-23l1 30l1 30l1-31l1-10l1-19l1-2l1 87l1 14M472 415l1 5l1-13l1-9l1-28l1-24l1 70M838 415l1-28l1 17l1-8l1-53l1 34l1 22l1 12M939 415l1-30l1-23l1 25l1-44l1 9l1-7l1-36l1-16l1 12l1-30l1-9l1 56l1 31l1 3l1 25l1 17l1 17l1-40l1 21l1 13l1-35l1-9l1-31l1-39l1 25l1 20l1 13l1 67M783 415l1 5l1-51l1-2l1-7l1 8l1-1l1-10l1 4l1 17l1-1l1-19l1 20l1-2l1-11l1 30l1 25l1-61l1 7l1 0l1 24l1-34l1 21l1 10l1-32l1 27l1-18l1 1l1 7l1-17l1 13l1 52M631 415l1-41l1-12l1-25l1-34l1-35l1 1l1 0l1 29l1 37l1-21l1 41l1 4l1-2l1-33l1-14l1 34l1-22l1-29l1-23l1 0l1 2l1 12l1-6l1-10l1 1l1 14l1-7l1 19l1-13l1 23l1 20l1-58l1 2l1 19l1 0l1-20l1 13l1-8l1 10l1 0l1 4l1-11l1 2l1-6l1 12l1 53l1 6l1 11l1 1l1 40l1 13M715 415l1-12l1-16l1 33l1 0l1 0l1-5"/><path stroke="#7f7f7f" d="M932 415l1-12l1-66l1-28l1-64l1-41l1 1l1-33l1-1l1 11l1 6l1 56l1-10l1 29l1 9l1 11l1 19l1 80l1 38M1005 415l1 5l1-11l1-18l1 16l1-9l1-53l1-92l1 3l1-12l1 50l1 2l1 21l1-36l1 31l1 5l1-65l1 29l1 9l1 8l1-17l1 12l1 37l1-7l1 50l1 47"/><path stroke="#e377c2" d="M785 415l1-5l1 6l1 2l1-29l1 20l1 8l1-8l1-12l1-33l1-36l1-7l1 3l1-18l1 28l1 50l1-34l1 20l1 4l1 19l1-30l1-2l1-51l1-36l1 25l1 73l1 3l1-11l1 41M563 415l1 5l1 0l1 0l1-46l1-23l1-27l1-37l1 9l1-1l1 39l1 85M707 415l1 2l1 3l1 0l1-5l1-2l1 7l1 0l1-29l1-76l1 0l1 12l1-4l1-6l1-2l1-1l1-11l1 9l1-3l1 39l1 46l1-22l1 28l1 20l1-2l1-43l1-5l1-34l1 11l1-46l1-16l1 17l1 1l1-17l1 12l1-28l1 2l1 4l1 2l1 23l1-23l1-6l1 7l1 2l1-3l1-1l1-7l1 14l1 12l1-12l1 2l1 40l1 29l1 30l1 18"/><path stroke="#bcbd22" d="M841 415l1 5l1 0l1 0l1 0M714 415l1-48l1 21l1-24l1-9l1-62l1-21l1-46l1 23l1-26l1-13l1 19l1 5l1 63l1 27l1 30l1 38l1 24M630 415l1 5l1-49l1-44l1-48l1 3l1-3l1-36l1-50l1-10l1 7l1 9l1-18l1 29l1 46l1 45l1 48l1 17l1 25l1-24l1 33l1 4M862 415l1-4l1 9l1 0l1 0l1 0l1-33l1-49l1 0l1 9l1-6l1 21l1 58"/><path stroke="#9467bd" d="M1001 415l1 5l1-47l1-7l1-40l1 45l1 27l1 22l1 0l1-40l1-24l1-24l1 25l1-1l1-18l1-68l1-21l1 1l1 31l1 5l1 15l1 50l1 19l1-57l1 31l1 7l1-25l1-19l1-40l1-13l1-13l1 41l1-32l1 27l1-20l1 15l1-21l1 9l1-9l1-3l1 23l1 21l1-7l1 30l1-20l1 15l1-40l1-12l1 2l1 13l1-15l1-4l1 17l1-21l1-9l1 8l1 32l1-38l1 12l1 0l1-11l1 13l1-7l1-10l1 5l1 3l1 59l1 64l1 30M501 415l1 5l1-18l1 8l1-7l1-10l1 27l1-47l1 10l1 9l1 20l1 8M536 415l1 2l1 3l1 0l1 0l1-6l1-66l1-28l1 21l1 5l1-21l1-54l1 7l1-11l1 10l1 9l1 58l1 76M844 415l1 5l1-6l1 3l1 3l1 0l1 0M613 415l1 5l1-6l1-24l1 30l1-27l1-18l1-47l1-25l1-3l1 48l1 22l1-28l1 9l1-21l1-37l1 8l1-2l1 22l1-28l1 2l1-3l1-4l1 39l1-31l1 23l1-30l1 30l1-25l1 65l1-10l1-28l1-5l1-22l1 57l1-4l1 25l1-15l1 55"/><path stroke="#1f77b4" d="M506 415l1-86l1-26l1 44l1 1l1 0l1-46l1-2l1 3l1 4l1 35l1-12l1-5l1-19l1 16l1 16l1 50l1 32M553 415l1-19l1-59l1 7l1 11l1-46l1 2l1-4l1 38l1-14l1-9l1 15l1 25l1 25l1-38l1-15l1 14l1 27l1 38M998 415l1-4l1-25l1-8l1-45l1 2l1-10l1-15l1 37l1 73M938 415l1-24l1-54l1-7l1 2l1 10l1-5l1-22l1-32l1-3l1 6l1 11l1 18l1-10l1 33l1-7l1-19l1 5l1-38l1 4l1 11l1-17l1 10l1-10l1 0l1 25l1 36l1 15l1 33l1-20l1 22l1 1l1 14M941 415l1-17l1 22l1 0l1 0l1-18l1 18l1 0l1-18l1 18l1-41l1-5l1-59l1 12l1-3l1 23l1-31l1 31l1-6l1-12l1-8l1 6l1 19l1-26l1 36l1 8l1-43l1-5l1 16l1 73l1-30l1 31l1 14l1 0l1-8l1 8"/><path stroke="#d62728" d="M881 415l1 5l1 0l1-53l1 53l1-32l1 32M629 415l1-18l1-13l1-64l1 40l1 36l1 24M606 415l1 5l1 0l1 0"/><path stroke="#8c564b" d="M945 415l1 5l1-35l1 21l1-5l1-32l1-24l1-15l1 35l1-10l1 10l1 9l1-36l1 45l1 37M559 415l1 5l1-27l1 0l1-26l1 5l1 18l1-18l1 18l1-18l1 2l1 40l1 6l1 0l1-22l1-45l1 2l1-16l1 19l1 40l1-15l1-44l1 26l1-4l1-23l1-3l1 1l1 26l1-25l1 1l1 22l1-25l1 29l1 31l1-24l1 40l1-48l1 44l1 8l1-45l1-32l1 15l1 6l1-23l1 13l1-6l1-8l1 19l1 19l1 47l1 0l1-45l1 45l1 0M820 415l1-22l1 18l1 9l1-8l1 8l1 0l1-65l1 7l1 17l1-16l1 4l1 25l1 2l1 2l1 24l1-39l1 11l1 3l1-15l1 14l1 13l1 13l1-20l1-34l1-49l1-7l1 16l1 2l1-19l1 2l1 4l1 28l1-16l1-9l1 22l1-17l1 4l1-11l1 13l1-8l1-6l1-2l1 8l1 0l1-12l1 16l1-12l1 39l1-9l1 5l1-5l1-11l1-11l1 46l1 10l1 11l1 6l1 26M595 415l1-46l1 51l1 0l1-54l1-30l1-11l1-9l1-6l1 28l1-27l1-9l1 3l1-1l1 26l1 56l1-35l1 22l1 31M461 415l1-5l1-16l1-49l1 32l1 5l1-27l1-15l1-36l1-11l1 7l1-19l1 50l1-30l1 30l1 23l1 66"/><path stroke="#e377c2" d="M829 415l1-31l1 28l1-43l1 0l1-36l1 3l1 14l1-38l1-7l1 15l1 24l1-44l1-36l1 3l1-17l1 4l1 26l1-24l1-12l1 19l1 33l1 9l1-3l1-27l1-6l1 28l1 33l1-38l1-34l1-21l1 5l1 6l1 26l1-9l1-7l1 2l1-4l1-17l1-1l1 15l1 51l1-10l1-13l1-39l1 12l1-13l1 0l1 2l1 58l1-5l1 11l1 16l1 23l1 6l1-13l1 66M657 415l1-62l1-14l1-3l1 56l1 17l1-4l1-36l1-18l1 1l1 17l1-43l1-46l1 9l1 5l1 12l1 16l1 17l1 38l1-24l1 29l1-73l1-10l1 56l1 0l1 65M807 415l1-21l1-9l1-61l1-15l1 4l1-16l1-17l1 29l1 39l1 6l1 66M995 415l1-72l1-40l1-14l1 32l1 43l1-32l1-41l1 6l1 14l1-14l1 18l1 40l1 8l1-38l1 34l1-22l1-24l1-23l1 21l1-16l1 16l1 37l1-38l1 65l1 12l1 33M893 415l1 3l1-28l1-17l1 3l1-18l1-16l1 22l1-21l1 10l1 1l1 4l1-17l1 4l1 18l1-16l1 23l1 26l1 5l1 19"/><path stroke="#9467bd" d="M611 415l1-35l1-14l1-31l1-29l1 32l1-45l1 28l1 27l1-23l1-24l1 19l1 65l1 2l1 30M657 415l1-2l1 7l1 0l1-23l1-2l1 24M907 415l1-29l1-1l1-55l1 6l1 16l1-33l1-6l1-1l1-5l1 34l1 12l1-32l1 23l1 58l1-3l1-1l1-9l1-21l1 1l1-63l1 6l1 62l1 12l1 6l1 28M933 415l1-27l1-14l1-11l1-16l1 73M819 415l1-6l1 11l1 0M763 415l1-41l1-9l1 22l1-8l1-7l1-29l1 0l1-1l1-2l1-5l1 60l1 17M576 415l1-104l1-21l1 19l1 18l1-22l1 34l1-43l1 15l1 22l1-41l1 2l1 12l1-16l1 3l1 1l1 16l1 11l1-31l1 23l1-5l1-4l1 55l1 35l1 26"/><path stroke="#1f77b4" d="M694 415l1-56l1-36l1-27l1 6l1-4l1-12l1 11l1 23l1-21l1-5l1 0l1 13l1 1l1-9l1 2l1 15l1 26l1 25l1 53M550 415l1-45l1 5l1-18l1-13l1 12l1-12l1-19l1-36l1-22l1 6l1 16l1-21l1 14l1 3l1 33l1 8l1 26l1-23l1-20l1-32l1 45l1 61l1 23M925 415l1 5l1-50l1 4l1 26l1 20l1-55l1 21l1 26l1-13l1 21M568 415l1 5l1 0l1 0l1-18l1 6l1 12l1-13l1 7l1-29l1-8l1-5l1 31l1-23l1 13l1 7l1-7l1 20l1-22l1-20l1-15l1-14l1-21l1-19l1 4l1-1l1 22l1-8l1 19l1-1l1-20l1-10l1-13l1-2l1 20l1-11l1 7l1 19l1-22l1-16l1 24l1-23l1 1l1 3l1 30l1 32l1 27l1 37M905 415l1-16l1-57l1-17l1 35l1 51M693 415l1-27l1-22l1-11l1 8l1 8l1 10l1-50l1 29l1 11l1-26l1-11l1-3l1 47l1-30l1-13l1 9l1 1l1 27l1-4l1-2l1 45M1026 415l1-32l1-20l1-17l1 63l1-36l1-36l1-19l1 10l1 33l1 8l1 14l1 37"/><path stroke="#ff7f0e" d="M801 415l1-27l1-26l1-32l1 22l1 38l1-16l1-27l1-19l1 26l1 15l1 3l1-1l1-58l1-1l1 20l1-30l1-5l1 80l1-24l1-11l1 33l1-20l1-35l1-27l1 20l1 4l1-17l1 50l1 21l1-28l1 7l1 57l1-14l1 23l1 2l1 2l1-14l1-22l1-9l1-32l1 11l1 1l1-38l1 15l1 16l1-5l1 6l1 5l1 15l1-37l1 28l1 0l1 10l1-32l1-6l1 69M579 415l1-14l1 19l1 0l1-31l1 11l1 8l1 3l1 9l1-23l1-3l1-3l1-53l1 82l1 0l1-9l1-19l1-56l1 3l1-12l1 7l1-2l1 43l1-33l1 40l1 38M477 415l1-2l1-51l1-9l1 3l1 13l1 7l1-34l1 70l1-13l1 21"/><path stroke="#17becf" d="M546 415l1-9l1-27l1-35l1-29l1-56l1 21l1-10l1 8l1-15l1 9l1 46l1-9l1-15l1 10l1 46l1 55M686 415l1 5l1-43l1-26l1-10l1 31l1-33l1 15l1-8l1 22l1 24l1 28M1017 415l1 5l1 0l1 0M586 415l1-19l1-27l1-8l1 17l1 10l1 8l1 24l1 0l1-33l1-10l1-25l1 10l1-4l1 7l1-11l1 31l1-25l1-4l1 3l1 6l1-14l1 32l1-2l1-27l1 1l1 32l1 14l1-4l1-36l1-5l1 17l1-10l1 41"/><path stroke="#7f7f7f" d="M944 415l1-24l1-18l1 17l1-53l1 3l1-20l1 7l1-26l1 43l1-48l1 70l1 37M799 415l1-8l1 10l1-57l1-30l1 7l1-21l1-15l1 26l1-3l1 1l1-15l1-20l1 10l1 0l1-10l1-9l1 1l1 2l1 6l1 10l1-20l1 21l1 16l1 24l1 52l1 27M1019 415l1 5l1-2l1 2l1 0l1 0l1-56l1 8l1-58l1-15l1-6l1-10l1-12l1 15l1-6l1-16l1 26l1 13l1 22l1 30l1 24l1 24M694 415l1-2l1 1l1-34l1 16l1-15l1-9l1-5l1 22l1 31l1-1l1-52l1 0l1-11l1-51l1 9l1-31l1 47l1 5l1-50l1-27l1 13l1-9l1-50l1-5l1 20l1-37l1 5l1 15l1-9l1 33l1-53l1 10l1 4l1-10l1 11l1-7l1 70l1 61l1 57l1 34M851 415l1 5l1 0l1-12l1-24l1-7l1 17l1 14l1-15l1 1l1-45l1 4l1-28l1 57l1-31l1-51l1-40l1 1l1 65l1 53l1 35"/><path stroke="#bcbd22" d="M707 415l1-7l1 2l1-28l1-5l1 18l1 25M801 415l1-2l1-24l1 31l1 0l1-26l1 26l1-38l1 17l1 21"/><path stroke="#d62728" d="M577 415l1-41l1-14l1-8l1 19l1-73l1-16l1-2l1 7l1 0l1 82l1 12l1 33M1004 415l1 5l1-34l1 34"/><path stroke="#e377c2" d="M470 118l1 42l1-19l1 19l1-17l1-25l1 2l1 8l1 0l1 27l1 0l1-34l1 10l1 19l1 8l1 2l1-40l1-1l1 41l1-30l1 26l1-20l1-20l1 12l1 10l1 0l1 7l1 6M480 140l-1-11l0-11l-1-11l1-11l0-11l1-11l-1-11l-1-11l1-11l-1-12l2-11l-1-11l0-11l0-11l-1-11l0-11l2-11l-2-11l2-11M490 140l-2-11l0-11l0-11l1-11l1-11l0-11l-1-11l0-11l1-11l-1-12l0-11l0-11l-1-11l2-11l0-11l-2-11l1-11l-1-11l2-11M815 109l1 7l1 11l1-8l1-12l1 44l1-32l1 21l1-16l1 24l1-26l1 23l1-38l1 16l1 18l1-32l1 40l1-15l1 19l1-43l1 3l1 40l1-46l1 22l1 14l1 8l1-5l1-3l1-18l1-16l1-3l1 14l1 28l1-31l1 27l1 3l1-40l1 22l1-1l1-6l1-11l1-2l1 23l1-8l1 7l1 16l1-33l1 25l1-20l1 5l1 29l1-36l1 28l1-4l1-26l1-5l1-4l1 6l1 35l1-27l1 3l1 30l1-39l1 35l1-39l1 8l1-1l1 20l1-24l1 18l1 22M829 130l2-11l-1-11l-2-11l2-11l-3-12l3-11l-2-11l2-11l-1-11l-1-11l2-11l-1-11l-1-11l-1-12l3-11l-2-11l1-11l0-11M878 120l1-11l-2-11l-1-12l3-11l-2-11l-1-11l3-11l-2-11l2-12l0-11l-1-11l-2-11l0-11l2-11l1-12l-2-11l1-11M880 147l1 3l1-30l1-2l1 13l1-5l1-5l1 20l1 22l1-2l1-1l1-29l1-1l1 29l1-16l1 16l1-16l1-27l1 25l1-16l1 35l1-11l1-19l1 1l1-2l1-8l1 32l1-14l1-21l1 43l1-7l1-18l1 5l1-12l1 22l1 10l1-23l1-7l1-8l1-6l1 45l1-44l1 11l1-5l1 2l1 35l1-18l1-19l1 17l1 14l1 8l1-45l1 45l1-21l1 4l1-14l1 7l1-23l1 48l1-18l1 7l1-28l1 16l1-16l1 13l1 11l1-23l1-4l1 20l1-4l1-18l1 11l1-7l1 7l1 7l1 2l1-1l1 9l1 7l1 3l1-27l1 8l1-2l1 13l1-32l1 39l1-28l1 23l1-32l1 13l1-5l1 25l1-3l1-5l1-9l1 9l1 5l1-5l1-25l1-2l1 11"/><path stroke="#ff7f0e" d="M495 131l1-15l1 17l1-15l1 3l1 26l1-35l1 8l1 3l1-3l1 13l1 9l1-16l1 20l1 4M502 130l-1-11l1-11l3-11l-5-11l2-12l-1-11l4-11l-4-11l3-11l1-11l-5-11l4-11l2-11l-2-12l-1-11l2-11l-4-11l0-11M515 60l-2-11l-1-11l-4-10l-1-11l7-11l-4-11l-1-11l0-11l5-11l-3-10l-3-11l0-11M570 169l1 6l1-23l1-7l1-20l1 43l1-21l1-22l1 17l1 20l1 4l1-35l1 13l1 2l1-5l1 4l1 0l1 2l1 23l1-6l1-5l1 19l1-55l1 57l1-57l1 53l1-54l1 50l1-15l1-32l1 42l1-42l1 16l1 2l1 2M573 140l6-11l-2-11l-3-11l3-11l3-11l-9-11l4-11l6-11l-7-11l-2-12l5-11l4-11l-5-11l-2-11l2-11l3-11l-3-11l0-11l1-11M582 140l5-11l-1-11l-6-11l7-11l-3-11l-5-11l3-11l-1-11l3-11l2-12l-6-11l4-11l-1-11l-1-11l-2-11l0-11l-1-11l0-11l4-11M603 140l-2-11l1-11l2-11l-3-11l3-11l-3-11l1-11l0-11l-1-11l2-12l-1-11l3-11l-2-11l-3-11l3-11l-3-11l4-11l-3-11l2-11M840 175l1 19l1-16l1-3l1 5l1 0l1 11l1 0l1-5l1 6l1-9l1 8l1 4l1-5l1-3l1-9l1 5l1-9l1 0l1 6l1 1l1-9l1 21l1-6l1-16l1 24l1 0l1-17l1 0l1 15l1 1l1-12l1-7l1 5l1-8l1 7l1 5l1-5l1 14l1-20l1 19l1-15l1 6l1 6l1 0l1-2l1 7l1-17l1-6l1 18l1-17l1 14l1 1l1-9l1-3l1 5l1-3l1-7l1 16l1 5l1-9l1-12l1 4l1 5l1 13l1-17l1 12l1-16l1 25l1-21l1 0l1-3l1 18l1-5l1-6l1 0l1 16l1-14l1-4l1-5l1 1l1 13l1-11l1 16l1-5l1-12l1 11l1 4l1 6l1-7l1-1l1 6l1-5l1-17l1 5l1 5l1-6l1 4l1-2l1-7l1 10l1 15l1-9l1-4l1 11l1-11l1 0l1-6l1 19l1 0l1-1l1-15l1 11l1-5l1-4l1-7l1 2l1-4l1 16l1-1l1-6l1 12l1-23l1 18l1-16l1 22l1-3l1 3l1-16l1 1l1-3l1-5l1 23l1-9l1 4l1 5l1 0l1-17l1 3l1-6l1 14l1-15l1 6l1 0l1 8l1 6l1-1l1-5l1-1l1-5l1 12l1-21l1 11l1 2l1-5l1 7l1-10l1 4l1 4l1 7l1-2l1-9l1-8l1 16l1-18l1 18l1 4l1-10l1-2l1 3l1 3l1-17l1 1l1 20l1-14l1 9l1-5l1 4l1 6l1-6l1-10l1 4l1 9l1-3l1 7l1-21l1 12l1-4l1-5l1 14l1 2M975 113l1 34l1-1l1-57l1 32l1-25l1 8l1 11l1 17l1 15l1-20l1-19l1-17l1 6l1 15l1-24l1 22l1-2l1-2l1 35l1-16l1 2l1-36l1 45l1-16l1-24l1 8l1 15l1-39l1 2l1 3l1-2l1 45l1-44l1 7l1 31l1-32l1 40l1-13l1-24l1-1l1 18l1 16l1-60l1 19l1 17l1 22l1-24l1 20l1-32l1 10l1 12l1-45l1 57l1-30l1-3M991 120l1-10l0-10l-2-10l2-10l0-10l-2-10l1-10l1-10l0-10"/><path stroke="#7f7f7f" d="M518 173l1-26l1 28l1-27l1 24l1-33l1 18l1-18l1 22l1-22l1 11l1-5l1-9l1 16l1 9l1-21l1-1l1 13l1 21l1-27l1-8l1-4l1 1l1 19l1 13l1 0l1 1l1-5l1-16l1 11l1 4l1-27l1 0l1 34l1-12M534 150l-1-11l0-11l-2-11l0-11l3-11l-4-11l4-11l0-11l-2-11l2-11l-3-11l2-11l2-11l-3-11l2-11l-3-11l2-11l0-11l-1-11l0-11M534 150l0-11l0-11l1-11l-1-11l1-11l0-11l4-11l-3-11l1-11l-2-11l0-11l0-11l2-11l-3-11l2-11l2-11l-4-11l4-11l0-11l-1-11M591 150l0-11l1-11l0-11l-1-11l0-11l1-11l0-11l-1-11l1-11l-1-11l-1-11l1-11l0-11l2-11l-2-11l1-11l0-11l-2-11l1-11l2-11M675 148l1-9l1-5l1 39l1-3l1-18l1 2l1-18l1 19l1 21l1-3l1-7l1 5l1-6l1-20l1 8l1 6l1 0l1-6l1-9l1 12l1-12l1 13l1-19l1 20l1-5l1-6l1 23l1-31l1 38l1-23l1 12l1-20l1 15l1-8l1 7l1 13l1-23l1 13l1-21l1 23l1-8l1 13l1-30l1 35l1-15l1 8l1-11l1-18l1 31l1-27l1 18l1-9l1-2l1-1l1 3l1 16l1 4l1-4l1-34l1 9l1-7l1 39l1-35l1-5l1 40M750 206l1-13l1 17l1 0l1 17l1-19l1-15l1 8l1-9l1 32l1-13l1 14l1-9l1-23l1 28l1-3M781 170l0-11l0-11l0-11l1-11l1-11l-3-10l3-11l-2-11l-1-11l2-11l-2-11l1-11l1-11l1-11l-2-11l0-11l-1-10l0-11l1-11l1-11l0-11l-2-11M930 230l1-6l1 15l1-13l1 18l1 10l1 3l1-35l1 23l1 9l1 3l1-26l1 29l1-3l1-19l1 15l1-20l1-9l1 37l1-27l1-13l1 3l1 2l1 28l1 5l1-33l1 26l1-11l1 20l1-9l1-18l1-5l1 33l1-11l1 1l1-13l1-20l1 36l1-34l1 9l1 3l1 10l1 2l1-25l1 9l1 10l1-4l1 3l1 1l1 2l1-13l1 6l1 25l1-5l1-20l1-10l1 32l1 0l1-28l1 30l1-14l1-3l1-6l1 3l1 16l1 4l1-6l1 1l1-17l1 0l1 15l1-26l1 10l1-8l1 10l1-17l1 24l1 8l1-7l1 1l1-1l1 10l1-3l1-3l1-18l1 14l1 1l1-24l1 5l1 6l1 17l1 9l1-18l1-7l1 22l1-34l1 24l1-25l1-1l1 10l1-3"/><path stroke="#9467bd" d="M545 171l1-5l1 1l1 23l1-4l1 8l1-11l1 0l1-6l1 3l1 6l1 5l1 1l1-21l1 20l1-17l1 17l1-15l1 9l1 4"/><path stroke="#2ca02c" d="M550 125l1 16l1-19l1 3l1-4l1 44l1-16l1 4l1-9l1 5l1-17l1-8l1 29l1 6l1 7l1 0l1-41l1 28l1-2l1 11l1-41l1 0l1 36l1-32l1 13l1 18l1 10l1-11l1-4l1 10l1-11l1 11l1 2l1-24l1-12l1-1l1 37l1-9l1 3l1-13l1-15l1 17l1-17l1-3l1 6l1 1l1-4l1 40l1-15l1-20l1 32l1-16l1-4l1-26l1 26l1-15l1 13l1 9l1-12l1-3M567 150l-3-9l-1-8l0-9l1-8l-1-9l3-8l-2-9M592 150l-1-10l-2-10l2-10l-2-10l1-10l-2-10l3-10M655 174l1-19l1-11l1 1l1 0l1-1l1 27l1-4l1 10l1-12l1 8l1-18l1 3l1 1l1 7l1-3l1-4l1-6l1-6l1 15l1-9l1 7l1-2l1 14l1-23l1 21"/><path stroke="#8c564b" d="M605 140l1-4l1 9l1 4l1 4l1 18l1-13l1-20l1 17l1 16l1-29l1 30l1-13l1-11l1 14l1-1l1 10l1-3l1-27l1 5l1-4l1-9l1 40l1-32l1 9l1 24l1-17l1-21l1 21l1 11l1 0l1-9l1-13l1 16l1 15l1-14l1-22l1 5l1-3l1 29l1-6l1-31l1 7l1 14l1 6l1-28l1 27l1 5l1 3l1 5l1-22l1-12l1 1l1 17l1 5l1-19l1-10l1 19l1 0l1-9l1 29l1 2l1-13l1-27l1 34l1-9l1 15l1-24l1-16l1 13l1 25l1-18l1 1l1 13l1-31l1 1M790 211l1 11l1-5l1 1l1-2l1-3l1-16l1 0l1-1l1 6l1 16l1-8l1-14l1 21l1 2l1 6l1-22l1 0l1 21l1-20l1 10l1-16l1 25l1-24l1-1l1 17M925 165l1-6l1-3l1 3l1 12l1-7l1 22l1-15l1 5l1 6l1-32l1 22l1 16l1-21l1-13l1 32l1-16l1-11l1 26l1-15l1-11l1 11l1 3l1 4l1-22l1 3"/><path stroke="#bcbd22" d="M702 180l1-11l1-12l-1-11l0-11l-1-12l2-11l-2-12l0-11l2-11l-1-12l0-11l1-11l-1-12l0-11l-1-11l0-12l1-11l1-12l-1-11l-1-11l1-12l0-11M868 120l-2-11l0-11l3-12l-1-11l1-11l-1-11l1-11l0-11l-2-12l1-11l-2-11l1-11l0-11l-1-11l0-12l3-11l-2-11"/><path stroke="#d62728" d="M725 97l1 42l1-12l1-5l1 1l1-16l1 29l1 3l1-37l1 17l1-22l1 27l1-7l1 14l1 7l1-6l1-9l1 9l1-35l1 13l1-2M890 217l1 10l1-7l1 1l1 10l1 1l1-20l1 24l1-12l1-14l1 13l1-22l1 19l1-4l1-4l1-5l1-5l1 4l1 10l1 7l1-21l1 34l1 0l1-28l1 0l1 19l1 0l1 0l1 0l1-4l1-20l1 19l1 12l1-24l1 12l1-15l1-4l1 25l1-11l1-7l1 28l1-33l1-4l1 21l1 2l1 15l1-27l1 22l1-9l1 8l1-20l1 8l1-16l1-3l1 10l1 19l1-26l1 27l1 4l1 1l1-22l1 15l1-3l1 0l1 1l1 0l1 9l1-20l1-1l1 5l1-10"/></g></g></svg>
<rect x="430.3" y="15.3" width="230.2" height="113" fill="none" stroke="#3a3a3a" stroke-width="1"/>
<line x1="660.5" y1="115.74444444444444" x2="662.3" y2="115.74444444444444" stroke="#3a3a3a" stroke-width="0.7"/>
<text x="662.7" y="118.7" font-size="8.3" text-anchor="start" font-weight="normal" fill="#1a1a1a" >0</text>
<line x1="660.5" y1="103.18888888888888" x2="662.3" y2="103.18888888888888" stroke="#3a3a3a" stroke-width="0.7"/>
<text x="662.7" y="106.2" font-size="8.3" text-anchor="start" font-weight="normal" fill="#1a1a1a" >5</text>
<line x1="660.5" y1="90.63333333333333" x2="662.3" y2="90.63333333333333" stroke="#3a3a3a" stroke-width="0.7"/>
<text x="662.7" y="93.6" font-size="8.3" text-anchor="start" font-weight="normal" fill="#1a1a1a" >10</text>
<line x1="660.5" y1="78.07777777777778" x2="662.3" y2="78.07777777777778" stroke="#3a3a3a" stroke-width="0.7"/>
<text x="662.7" y="81.1" font-size="8.3" text-anchor="start" font-weight="normal" fill="#1a1a1a" >15</text>
<line x1="660.5" y1="65.52222222222223" x2="662.3" y2="65.52222222222223" stroke="#3a3a3a" stroke-width="0.7"/>
<text x="662.7" y="68.5" font-size="8.3" text-anchor="start" font-weight="normal" fill="#1a1a1a" >20</text>
<line x1="660.5" y1="52.96666666666667" x2="662.3" y2="52.96666666666667" stroke="#3a3a3a" stroke-width="0.7"/>
<text x="662.7" y="56.0" font-size="8.3" text-anchor="start" font-weight="normal" fill="#1a1a1a" >25</text>
<line x1="660.5" y1="40.41111111111111" x2="662.3" y2="40.41111111111111" stroke="#3a3a3a" stroke-width="0.7"/>
<text x="662.7" y="43.4" font-size="8.3" text-anchor="start" font-weight="normal" fill="#1a1a1a" >30</text>
<line x1="660.5" y1="27.855555555555554" x2="662.3" y2="27.855555555555554" stroke="#3a3a3a" stroke-width="0.7"/>
<text x="662.7" y="30.9" font-size="8.3" text-anchor="start" font-weight="normal" fill="#1a1a1a" >35</text>
<line x1="440.9" y1="128.3" x2="440.9" y2="130.10000000000002" stroke="#3a3a3a" stroke-width="0.7"/>
<text x="440.9" y="136.6" font-size="8.3" text-anchor="middle" font-weight="normal" fill="#1a1a1a" >100</text>
<line x1="461.6" y1="128.3" x2="461.6" y2="130.10000000000002" stroke="#3a3a3a" stroke-width="0.7"/>
<text x="461.6" y="136.6" font-size="8.3" text-anchor="middle" font-weight="normal" fill="#1a1a1a" >110</text>
<line x1="482.4" y1="128.3" x2="482.4" y2="130.10000000000002" stroke="#3a3a3a" stroke-width="0.7"/>
<text x="482.4" y="136.6" font-size="8.3" text-anchor="middle" font-weight="normal" fill="#1a1a1a" >120</text>
<line x1="503.1" y1="128.3" x2="503.1" y2="130.10000000000002" stroke="#3a3a3a" stroke-width="0.7"/>
<text x="503.1" y="136.6" font-size="8.3" text-anchor="middle" font-weight="normal" fill="#1a1a1a" >130</text>
<line x1="523.9" y1="128.3" x2="523.9" y2="130.10000000000002" stroke="#3a3a3a" stroke-width="0.7"/>
<text x="523.9" y="136.6" font-size="8.3" text-anchor="middle" font-weight="normal" fill="#1a1a1a" >140</text>
<line x1="544.6" y1="128.3" x2="544.6" y2="130.10000000000002" stroke="#3a3a3a" stroke-width="0.7"/>
<text x="544.6" y="136.6" font-size="8.3" text-anchor="middle" font-weight="normal" fill="#1a1a1a" >150</text>
<line x1="565.4" y1="128.3" x2="565.4" y2="130.10000000000002" stroke="#3a3a3a" stroke-width="0.7"/>
<text x="565.4" y="136.6" font-size="8.3" text-anchor="middle" font-weight="normal" fill="#1a1a1a" >160</text>
<line x1="586.1" y1="128.3" x2="586.1" y2="130.10000000000002" stroke="#3a3a3a" stroke-width="0.7"/>
<text x="586.1" y="136.6" font-size="8.3" text-anchor="middle" font-weight="normal" fill="#1a1a1a" >170</text>
<line x1="606.9" y1="128.3" x2="606.9" y2="130.10000000000002" stroke="#3a3a3a" stroke-width="0.7"/>
<text x="606.9" y="136.6" font-size="8.3" text-anchor="middle" font-weight="normal" fill="#1a1a1a" >180</text>
<line x1="627.6" y1="128.3" x2="627.6" y2="130.10000000000002" stroke="#3a3a3a" stroke-width="0.7"/>
<text x="627.6" y="136.6" font-size="8.3" text-anchor="middle" font-weight="normal" fill="#1a1a1a" >190</text>
<line x1="648.4" y1="128.3" x2="648.4" y2="130.10000000000002" stroke="#3a3a3a" stroke-width="0.7"/>
<text x="648.4" y="136.6" font-size="8.3" text-anchor="middle" font-weight="normal" fill="#1a1a1a" >200</text>
<text transform="translate(682.2,68.8) rotate(-90)" font-size="9.2" text-anchor="middle" fill="#1a1a1a">Pore axis (Å)</text>
<svg x="430.3" y="161.5" width="230.2" height="113" overflow="hidden"><g transform="translate(-430.3,-161.5)"><g transform="translate(233.400,261.944) scale(0.4150,-0.25111)" class="ts" fill="none" stroke-width="0.95" stroke-linejoin="round"><path stroke="#17becf" d="M929 415l1-13l1-4l1-30l1-8l1 35l1-57l1-23l1-13l1 3l1-14l1 1l1-1l1 20l1 21l1-43l1 72l1 10l1 49M495 415l1 5l1 0l1-63l1 46l1-20l1 10l1 27M802 415l1-9l1 5l1 4"/><path stroke="#9467bd" d="M714 415l1 5l1-68l1-67l1 35l1 43l1 57M638 415l1-3l1 7l1-33l1-41l1-30l1-6l1 4l1 56l1 19l1 32M977 415l1 5l1-28l1-4l1-42l1-18l1 37l1 40l1 11l1 4l1-13l1 1l1-14l1 5l1-29l1 21l1-17l1-3l1-13l1 37l1 18l1-34l1-38l1 8l1-6l1-17l1-3l1 41l1-12l1 34l1-24l1-17l1 0l1-11l1-25l1-42l1 20l1 18l1 31l1 62l1 22M938 415l1 5l1 0l1-28l1-71l1 18l1-37l1-1l1 13l1 11l1-5l1-22l1 16l1 35l1 46l1-18l1-2l1-14l1-12l1-25l1 22l1-50l1 13l1 56l1 34l1 21M1007 415l1 5l1-78l1-27l1-1l1 1l1 0l1 1l1-8l1 11l1 43l1-49l1 12l1 19l1-20l1-4l1-1l1 0l1-11l1 13l1 1l1 4l1 23l1 60l1-9l1 20l1 0l1-5l1-11l1-55l1-2l1-11l1-8l1-18l1-1l1 3l1 5l1 25l1-21l1 0l1 47l1 16l1 36l1-2l1-9l1-15l1 4l1-5l1 5l1 0l1-2l1 24l1-33l1-9l1 30l1-13l1-67l1-14l1 17l1-10l1 3l1-8l1 60l1 0l1 44"/><path stroke="#bcbd22" d="M1017 415l1-55l1-10l1 43l1 27M897 415l1 5l1-53l1-22l1 9l1 10l1 11l1 8l1-33l1 16l1-9l1 26l1 11l1-2l1-39l1 55M991 415l1-12l1-25l1-11l1-3l1-21l1 29l1-9l1 25l1 32M483 415l1 5l1-67l1-14l1 17l1-12l1-47l1-19l1 2l1-10l1 30l1-1l1 112"/><path stroke="#7f7f7f" d="M491 415l1 5l1-38l1 15l1-31l1 16l1-56l1-44l1-14l1-18l1-7l1 72l1 56l1 26l1 23"/><path stroke="#2ca02c" d="M471 415l1 5l1-20l1-62l1 23l1-28l1-26l1-44l1-4l1 8l1 13l1-26l1 41l1-30l1 70l1 85M679 415l1 5l1-29l1-5l1 34M889 415l1 5l1 0l1-40l1-32l1 32l1-29l1 6l1-42l1 34l1-11l1-1l1-15l1 1l1 45l1-13l1-33l1-9l1 0l1 43l1 38l1 20l1-10l1-31l1-52l1 59l1-1l1-30l1 10l1-14l1 14l1 14l1 28l1-29l1-12l1-26l1 9l1-13l1-16l1 42l1 18l1 46M778 415l1-8l1 13l1 0M669 415l1 5l1-5l1-37l1-32l1-37l1 15l1 30l1-33l1-6l1-9l1 5l1 80l1 18M711 415l1-20l1-8l1-7l1-18l1 19l1 23l1-41l1-15l1-48l1-27l1-4l1 2l1-4l1 17l1-12l1 0l1-7l1 17l1 21l1-35l1 19l1-11l1 12l1-13l1 0l1 35l1 55l1 28l1 1l1 26"/><path stroke="#e377c2" d="M856 415l1-22l1-49l1-26l1 9l1-14l1-13l1 5l1 19l1 3l1 65l1 26M589 415l1-2l1 7l1 0l1 0l1 0l1 0l1-11l1 11l1-34l1-32l1-53l1-25l1-30l1 2l1 37l1 63l1-11l1 35l1 10l1 11l1 17M1020 415l1-16l1 5l1-23l1-62l1 8l1 5l1-19l1 4l1 4l1 19l1 58l1-29l1 40"/><path stroke="#ff7f0e" d="M867 415l1-2l1-61l1-16l1 53l1 31M616 415l1 5l1-6l1 6M882 415l1 5l1 0l1-35l1-38l1-18l1-5l1 55l1 1l1-10l1 50M617 415l1-20l1-34l1-8l1-22l1 19l1-6l1-41l1-59l1 52l1-32l1 31l1-18l1-19l1-6l1 15l1-24l1-2l1 17l1-9l1 9l1 37l1-11l1-32l1 4l1-9l1-8l1 14l1-15l1 16l1-10l1 32l1 31l1 40l1 2l1 67"/><path stroke="#1f77b4" d="M566 415l1 5l1-26l1-13l1-25l1-29l1-57l1 29l1-12l1 45l1-9l1-48l1 23l1 12l1-39l1 48l1-6l1-54l1 4l1 4l1 7l1-18l1 17l1 27l1 49l1 57M656 415l1-8l1 5l1 8M760 415l1-28l1-18l1-14l1 13l1-37l1 70l1-43l1 24l1-9l1-8l1 12l1-61l1-35l1-23l1-23l1-4l1 27l1 0l1-21l1-7l1 2l1 35l1 49l1 11l1-1l1 21l1 7l1 66M735 415l1 1l1-58l1 32l1 19l1-47l1 12l1 0l1-15l1-65l1-11l1 0l1-11l1-12l1 8l1-3l1-4l1 7l1 4l1 74l1 49l1 12M813 415l1-1l1-10l1 16l1-2l1-42l1-23l1 21l1-23l1 17l1 52l1 0"/><path stroke="#8c564b" d="M903 415l1-39l1 25l1-35l1 54M518 415l1 5l1-12l1-63l1 49l1-31l1 42l1 15l1-54l1 35l1 4l1-15l1-32l1-18l1-5l1-6l1 2l1 26l1 8l1-13l1-25l1 37l1-6l1-34l1 9l1 2l1 17l1-27l1 1l1 19l1 30l1 45M872 415l1 5l1-33l1-44l1-52l1-11l1 1l1-9l1 4l1-15l1 50l1 32l1 3l1 74M600 415l1-8l1-25l1 0l1-38l1 29l1 21l1 19"/><path stroke="#d62728" d="M799 415l1-3l1 7l1 1l1 0l1 0l1 0l1-33l1 21l1-34l1-42l1-26l1 11l1 31l1-35l1 7l1 7l1-20l1 7l1 13l1-1l1-13l1 16l1-11l1 56l1-30l1 9l1-16l1-27l1 15l1-15l1 10l1-9l1 12l1-11l1 40l1 68M954 415l1-4l1 9l1-52l1-1l1-16l1-1l1 59M499 415l1-39l1 16l1-5l1-19l1-43l1-29l1 5l1-6l1-8l1 8l1 2l1 16l1-22l1 41l1-2l1 3l1 0l1-41l1 31l1 27l1 18l1-3l1-40l1 10l1-5l1 59l1-34l1-23l1-29l1-9l1 12l1-17l1 0l1 51l1 48l1 29l1-42l1 6l1 19l1 12l1-30l1 25l1-15l1-23l1 48l1 3l1 0l1 0l1-16l1-62l1 32l1-8l1-6l1-16l1 52l1-7l1-27l1-54l1-5l1 0l1-5l1 7l1 74l1 34M929 415l1 5l1-41l1-1l1-43l1 49l1-9l1 22l1-12l1 6l1 29l1-4l1 0l1-34l1-61l1 10l1 13l1-2l1 28l1 7l1 30M858 415l1-6l1-60l1-43l1-17l1 2l1-34l1 1l1 42l1-39l1 10l1 10l1 13l1 8l1 3l1-38l1 20l1 22l1-39l1-3l1 2l1 48l1 36l1 43l1 24"/><path stroke="#e377c2" d="M792 415l1-20l1-17l1 36l1 0l1 6l1-15l1-62l1 20l1-65l1 12l1 10l1 62l1-61l1 7l1-14l1 17l1-24l1 44l1 58M1011 415l1 5l1-39l1-56l1 38l1-36l1 10l1-8l1-70l1 5l1 61l1 24l1 37l1 25"/><path stroke="#9467bd" d="M468 415l1-2l1-10l1-11l1-29l1-7l1 28l1-30l1-8l1 24l1-27l1 17l1 14l1-31l1-36l1 5l1 52l1-27l1-33l1-17l1 30l1-15l1-2l1-9l1 2l1 10l1-13l1 13l1 56l1 1l1 29l1 19l1-20l1 32M984 415l1-4l1 9l1 0l1 0l1-26l1 26l1 0l1-9l1-62l1 38l1-62l1 12l1-37l1 1l1 5l1 0l1-1l1-7l1 26l1-13l1-5l1-4l1 16l1 4l1 1l1-19l1 19l1-26l1 6l1 9l1-6l1 6l1-3l1-5l1 15l1 16l1 19l1 28l1-21l1-52l1 11l1 6l1-27l1 19l1 0l1-15l1 3l1 48l1-31l1-7l1-12l1 20l1 33l1-15l1 12l1-27l1-21l1-3l1 47l1 52M574 415l1-57l1 9l1-10l1-17l1-21l1-29l1-27l1-10l1 24l1-11l1 35l1 7l1-27l1-35l1 14l1 40l1 22l1 33l1 48M699 415l1-20l1 25l1 0l1-33l1-44l1 69M633 415l1-20l1-10l1-12l1 10l1 37M1028 415l1-43l1 42l1-12l1 18"/><path stroke="#7f7f7f" d="M1006 415l1 5l1 0l1 0l1 0l1-32l1-48l1 49l1 29M863 415l1-37l1 7l1-77l1-8l1-20l1 23l1-13l1-3l1 28l1 76l1 26M753 415l1-3l1-16l1-9l1 33l1-38l1 25l1-27l1-24l1-27l1-10l1-4l1 60l1 32l1-36l1-10l1-70l1-70l1 5l1-8l1 17l1 28l1-45l1-2l1-5l1 13l1 31l1-17l1-23l1 9l1 62l1-17l1-30l1 39l1 20l1 21l1-6l1 20l1 49l1 26"/><path stroke="#bcbd22" d="M577 415l1 5l1 0l1-71l1-51l1 9l1-15l1 10l1-34l1-7l1-26l1 31l1-28l1 2l1 37l1-34l1-9l1 78l1 7l1 71l1 30M779 415l1-35l1-1l1-35l1-12l1 32l1-13l1-58l1-8l1-8l1 5l1 14l1-18l1 9l1 63l1 26l1 22l1 22M529 415l1-63l1-6l1-30l1 1l1-39l1 30l1-24l1 15l1-74l1-7l1 5l1 43l1 9l1-20l1 3l1-25l1 0l1-19l1 45l1 54l1 99M524 415l1 5l1-48l1 17l1 22l1 9M662 415l1-8l1-9l1 5l1 17l1 0l1-11l1 11l1-75l1 6l1-23l1 27l1 13l1-14l1 4l1-14l1-10l1 14l1 62l1-10l1 13l1-33l1 29l1 0l1 11M1007 415l1 5l1 0l1-30l1-27l1-43l1-34l1-12l1-12l1-3l1 24l1-29l1-2l1 32l1-16l1 35l1 23l1-15l1 9l1 40l1-51l1-7l1 28l1-13l1-62l1 4l1 12l1 2l1-7l1-16l1 1l1 19l1-13l1 8l1-1l1 44l1-9l1 5l1-2l1-2l1-42l1-5l1 0l1 25l1-9l1-14l1 13l1-5l1-13l1 33l1-19l1 13l1-24l1 19l1-2l1-20l1 2l1 0l1 15l1-8l1-4l1 25l1 22l1-2l1 64l1 14l1 42M820 415l1-71l1-36l1-6l1 5l1-21l1 6l1-9l1 4l1-1l1-2l1 28l1-1l1-19l1 19l1 19l1 62l1 28"/><path stroke="#d62728" d="M620 415l1-49l1-8l1 27l1 35l1-10l1-6l1-53l1 1l1 0l1-1l1-2l1 24l1 14l1-8l1-14l1-11l1 30l1-19l1 25l1 6l1-30l1 1l1-18l1 27l1-23l1-2l1 10l1 54l1-1l1 6l1 0M832 415l1 5l1-10l1-43l1 5l1 31M480 415l1 5l1-4l1-13l1-14l1-1l1 0l1 32"/><path stroke="#2ca02c" d="M720 415l1 2l1 3l1 0l1-39l1 6l1-17l1 19l1 16l1-4l1 6l1-3l1-29l1 17l1-40l1 59l1-42l1 7l1-69l1 10l1 29l1 9l1 65M996 415l1-20l1-70l1 64l1 29M597 415l1-2l1-5l1-37l1-36l1 7l1-17l1 2l1 1l1-5l1 4l1-16l1 4l1 34l1 42l1 29M590 415l1 5l1-21l1 8l1-1l1 3l1-14l1 25M781 415l1-21l1 26l1-27l1 5l1-16l1 32M704 415l1 5l1 0l1-20l1-16l1-35l1-10l1-65l1 9l1-48l1 2l1 12l1-12l1 8l1-13l1 3l1 21l1-15l1 38l1 30l1 2l1 1l1 40l1-3l1 47l1 16"/><path stroke="#8c564b" d="M933 415l1 5l1-28l1-11l1 11l1 28M675 415l1-39l1 3l1-6l1 18l1 29l1-7l1-38l1 3l1 6l1-12l1-6l1-9l1-68l1-18l1 16l1 18l1-21l1 13l1-26l1 41l1 68l1 40M616 415l1 5l1-74l1-45l1 2l1 55l1 54M598 415l1 5l1 0l1 0l1 0l1-34l1-10l1-47l1-30l1-3l1 19l1-6l1-13l1 0l1 45l1-42l1 53l1 24l1 24"/><path stroke="#1f77b4" d="M718 415l1 5l1-43l1-18l1-1l1 30l1 32l1-4l1-59l1 27l1 34l1 2l1 0l1 0l1 0M577 415l1 5l1 0l1-39l1-11l1-35l1 28l1-21l1 13l1 15l1-43l1 34l1 20l1-30l1-2l1-7l1 42l1 3l1 31l1 2l1 0l1-28l1-21l1 21l1-4l1-17l1-18l1-35l1-1l1-14l1 1l1-4l1-3l1 4l1 19l1-5l1-1l1 15l1-15l1 33l1-9l1-3l1 7l1 28l1 14l1 0l1-24l1-45l1 49l1-16l1-19l1-10l1 34l1 20l1-9l1-31l1-4l1-14l1-4l1 0l1-11l1 9l1-2l1 4l1-11l1 13l1 0l1 20l1-34l1 44l1 0l1-8l1 45l1-20l1-30l1 35l1-22l1-34l1-8l1-3l1 0l1 13l1-6l1 0l1 53l1-40l1 64l1-27l1-10l1 75l1 0M636 415l1 5l1-45l1 25l1-15l1-9l1 1l1 14l1 29l1-11l1 11l1 0l1 0l1 0l1-21l1-5l1-8l1-22l1-27l1-56l1 8l1-16l1 6l1 43l1-51l1 4l1 9l1 67l1 40l1 29M786 415l1 5l1-15l1-46l1 5l1-12l1-4l1-16l1 16l1-42l1 25l1-32l1 9l1 22l1-19l1-10l1 9l1-7l1 16l1 6l1 5l1 14l1-3l1 11l1 68M692 415l1 5l1-4l1-10l1 14l1 0l1-6l1 6l1-24l1-2l1 14l1-59l1 42l1-17l1-10l1-25l1-24l1-34l1-52l1 17l1-10l1 18l1-10l1-6l1 6l1 2l1-20l1 3l1 14l1 11l1 21l1 9l1 11l1 54l1 58"/><path stroke="#ff7f0e" d="M632 415l1-17l1-4l1-34l1-35l1 19l1 12l1 4l1-31l1-31l1-49l1 32l1 70l1-13l1-32l1 22l1-22l1 3l1 18l1-7l1-9l1-37l1-25l1-1l1 4l1 53l1 19l1-75l1 12l1 27l1 11l1 19l1 22l1 55l1 19M797 415l1-2l1-35l1-22l1-11l1-9l1-24l1-9l1-17l1-11l1 20l1-25l1-2l1 17l1 14l1 18l1 41l1 62M498 415l1-15l1 20l1 0l1-31l1-33l1-62l1 1l1-10l1-11l1-26l1 31l1-38l1 0l1 4l1-4l1 3l1 10l1-5l1-5l1 7l1 6l1 5l1-9l1-13l1 14l1-8l1 69l1 2l1 16l1-37l1 20l1 34l1 36l1 34"/><path stroke="#17becf" d="M680 415l1-27l1-54l1-51l1 55l1 2l1-6l1 86"/><path stroke="#17becf" d="M944 415l1-13l1-12l1-20l1 4l1-44l1-26l1 15l1-7l1-8l1-5l1 9l1 14l1 18l1 1l1 20l1 19l1-15l1-65l1-6l1 21l1 27l1 10l1 14l1-32l1-4l1 68l1 9M853 415l1-20l1-14l1-45l1 28l1 36l1 20M915 415l1-3l1-39l1 5l1-32l1 14l1-15l1 4l1 4l1 63l1-46l1-40l1-18l1-12l1-32l1-8l1 18l1 65l1 25l1 3l1 33M594 415l1-6l1-24l1-30l1-2l1-45l1-25l1 14l1 11l1 25l1 28l1 46"/><path stroke="#e377c2" d="M575 415l1 5l1-16l1-25l1-21l1 58l1 4l1 0l1-12l1 12l1-18l1-4l1-36l1 58l1-36l1 16l1 9l1 1l1-6l1 16l1-59l1-20l1-2l1 36l1 38M474 415l1-44l1 24l1-14l1-35l1-28l1-24l1-16l1-8l1-45l1 11l1 2l1 34l1-34l1-5l1-5l1 14l1-5l1 7l1 54l1 34l1 44l1 0l1 44M732 415l1-9l1-67l1-45l1 34l1-2l1-6l1-3l1-2l1-42l1-19l1-14l1 10l1-2l1 20l1 30l1 60l1 20l1-2l1 41"/><path stroke="#7f7f7f" d="M763 415l1-41l1-34l1 11l1 13l1 16l1-4l1-4l1 17l1-47l1 4l1-3l1 31l1-14l1 3l1 20l1 19M963 415l1-50l1-30l1 27l1 39M595 415l1-34l1 35l1-31l1-59l1 6l1-6l1-2l1 24l1 19l1 53M854 415l1-44l1 14l1-12l1-3l1 8l1 17l1 19M728 415l1 1l1-12l1-8l1 14l1 10l1 0l1-17l1-55l1-34l1 23l1-2l1 59l1-24l1-37l1-12l1 36l1-48l1-16l1 35l1 40l1 48M992 415l1-27l1-44l1 66l1-30l1 40"/><path stroke="#9467bd" d="M475 415l1 1l1-53l1-3l1-41l1-35l1-8l1-36l1-14l1 32l1 70l1 10l1-25l1 31l1 69M605 415l1-31l1-31l1 67l1 0l1 0l1-20l1-25l1 25l1-4l1-11l1-33l1-46l1-29l1 1l1-11l1 45l1 49l1 11l1 48"/><path stroke="#8c564b" d="M930 415l1 5l1 0l1 0l1-5l1-15l1-13l1-28l1 21l1 40M765 415l1 5l1 0l1-21l1 21M622 415l1-19l1-23l1-20l1 20l1 1l1-6l1 52M637 415l1-18l1 10l1-6l1-25l1-6l1 16l1 26l1 8l1-25l1-8l1-56l1 18l1-14l1-20l1 14l1 28l1 37l1 26M768 415l1-9l1-26l1-25l1-45l1 1l1 19l1 90M624 415l1-60l1-6l1-18l1-14l1 10l1-5l1 8l1-13l1 6l1-5l1 35l1-29l1-5l1 29l1 10l1-1l1 5l1 58M748 415l1 5l1 0l1 0l1 0"/><path stroke="#ff7f0e" d="M926 415l1-60l1 24l1 12l1 29l1 0l1-7l1-27l1-18l1-3l1-1l1 56l1-20l1 20l1-51l1 33l1 8l1-58l1 3l1-15l1 37l1-13l1-20l1-43l1 7l1 1l1-14l1-11l1 15l1 14l1 0l1-23l1 20l1-7l1-12l1 2l1-17l1 27l1 6l1 0l1 2l1-20l1 19l1-26l1-6l1 57l1-29l1-28l1-5l1 9l1-2l1 4l1-10l1 32l1-6l1-21l1 96l1-10l1 55M468 415l1 5l1 0l1-71l1-25l1-9l1 2l1 21l1-26l1 4l1 2l1-3l1 22l1 15l1 36l1 32l1 0l1 0l1 0l1-13l1 13l1-1l1-53l1 44l1-71l1-23l1 88l1-56l1 12l1-38l1-5l1-11l1 9l1 7l1 10l1 12l1 4l1 22l1 44M944 415l1-4l1-24l1 8l1 25M976 415l1 5l1-44l1-41l1 23l1 31l1 30"/><path stroke="#1f77b4" d="M712 415l1-12l1 17l1-46l1 26l1 15l1-61l1 66M711 415l1-50l1-12l1 3l1 21l1-29l1-37l1-34l1-13l1 32l1-1l1-20l1 52l1 49l1 44M918 415l1 0l1 5l1-25l1-6l1-12l1 16l1 27M467 415l1-33l1 25l1-37l1 40l1 6l1 4l1-23l1 23M583 415l1 5l1 0l1-13l1-31l1-5l1-16l1-48l1 2l1-34l1-46l1 8l1-12l1 1l1 46l1 6l1 46l1 22l1 65M528 415l1 5l1 0l1-19l1-44l1-13l1-28l1 32l1-12l1 24l1-36l1-6l1-4l1 9l1 2l1 41l1 30l1 24"/><path stroke="#2ca02c" d="M567 415l1-39l1-26l1-34l1-1l1-4l1 2l1 17l1 10l1-16l1-16l1 30l1-1l1 29l1-8l1-23l1 2l1 35l1 48M599 415l1 3l1-13l1-50l1-23l1 25l1 63M504 415l1-21l1-8l1-54l1-8l1-4l1 16l1 1l1 15l1 33l1 32"/><path stroke="#bcbd22" d="M462 415l1-49l1-41l1-24l1-19l1-21l1 8l1-6l1 39l1-42l1 16l1 59l1-17l1 63l1 9l1 30M850 415l1-32l1-20l1 57M672 415l1-28l1-17l1-13l1-17l1-28l1 15l1 6l1 12l1-33l1 38l1-44l1-37l1-12l1-4l1-14l1-8l1-4l1-7l1 1l1 76l1 65l1 17l1 41"/><path stroke="#d62728" d="M915 415l1-40l1-6l1 0l1 4l1-3l1-10l1 2l1 25l1 33l1 0l1-30l1-3l1-1l1 27l1-54l1-13l1 16l1 2l1 0l1 45l1-62l1-36l1-1l1-35l1-29l1 1l1 11l1 11l1-21l1-6l1 53l1-49l1-3l1 58l1 48l1 1l1-40l1-66l1 15l1 2l1-14l1 22l1 2l1 18l1 39l1 28l1 0l1-13l1 69M466 415l1 3l1-44l1-52l1 1l1-20l1-39l1 46l1-3l1-28l1-12l1 24l1-24l1 22l1-29l1 25l1 37l1 98"/><path stroke="#bcbd22" d="M909 415l1 5l1 0l1-1l1 1l1-1l1-44l1 38l1-6l1-70l1-41l1 73l1 21l1-18l1-21l1 48l1 21M766 415l1-21l1-46l1-16l1-1l1 80"/><path stroke="#ff7f0e" d="M941 415l1-2l1-16l1-24l1-35l1 62l1 20l1 0l1 0l1-14l1-15l1 14l1-38l1-2l1-33l1-12l1 5l1 23l1 72M784 415l1-40l1-9l1 25l1-37l1 40l1 26l1-9l1 9l1 0l1 0M727 415l1-13l1 18l1 0M946 415l1-50l1-12l1-32l1 12l1-22l1-25l1 41l1 23l1 48l1 15l1-26l1-28l1-33l1 14l1-13l1-4l1-2l1 1l1 39l1-41l1 46l1-10l1 41l1 8l1-15l1-17l1 5l1-19l1-18l1-42l1-24l1 27l1-3l1 48l1 44l1 9l1 11M787 415l1-21l1 7l1 10l1-38l1-29l1 13l1-18l1-11l1 10l1-6l1-57l1 64l1 48l1 17"/><path stroke="#7f7f7f" d="M1000 415l1-75l1-6l1 26l1 9l1-26l1-10l1 39l1 31l1-65l1-40l1-41l1 4l1-9l1 93l1 29l1 22l1-5l1 8l1 21M894 415l1-14l1-82l1-17l1-1l1 3l1 4l1 12l1 1l1-15l1-5l1 4l1 3l1 7l1-5l1 11l1-1l1 63l1-17l1-5l1-5l1 0l1 16l1-1l1-29l1 66l1-9l1-9l1-13l1 33l1 1l1 9l1 0l1-61l1-26l1-28l1 25l1-8l1 12l1-36l1 5l1-5l1 31l1-20l1 3l1-13l1 0l1 13l1-6l1-7l1 50l1 43l1-47l1-42l1 10l1 7l1-22l1 8l1 14l1 8l1-25l1 17l1 25l1 5l1-28l1-22l1 14l1 45l1 8l1 2l1 51M563 415l1-5l1 10l1 0l1-3l1-48l1-11l1-7l1 67l1 2l1 0l1-10l1-36l1-17l1-29l1-9l1 6l1 16l1 18l1 17l1 6l1 38M1002 415l1-35l1-56l1-19l1 21l1 28l1-33l1-1l1-11l1 8l1 5l1-13l1 4l1 51l1 9l1 15l1 32M641 415l1 5l1 0l1 0l1-37l1 2l1-21l1-78l1-8l1 15l1 44l1 19l1 64M646 415l1-4l1-5l1-23l1-29l1-22l1 46l1 1l1 15l1 26l1 0l1-54l1-40l1-14l1 10l1-14l1-26l1-58l1 32l1-39l1 7l1-3l1 4l1-7l1 25l1-18l1 32l1-7l1 11l1 35l1-21l1-4l1 8l1 77l1 2l1 58M770 415l1 5l1-59l1-18l1-49l1-24l1 17l1 19l1-1l1 1l1-19l1 19l1-2l1 7l1 31l1 12l1 50"/><path stroke="#e377c2" d="M474 415l1-13l1 9l1 9l1-60l1-11l1-14l1 38l1-19l1 25l1 33l1 8l1-11l1-5l1 8l1-5l1-3l1-24l1 20l1 20l1-13l1-12l1-24l1-10l1-85l1-15l1 14l1 19l1-34l1 22l1-16l1 6l1-11l1 31l1 3l1 8l1-2l1-11l1 34l1-21l1-23l1 2l1-3l1 39l1-4l1 61l1 45M851 415l1-43l1-36l1-48l1-1l1-21l1-17l1 19l1-13l1 71l1-4l1-26l1-4l1 11l1-20l1-31l1-2l1 19l1 26l1 15l1 12l1 7l1 0l1 37l1 41M528 415l1-39l1 8l1-32l1-17l1-52l1 20l1 30l1 26l1 4l1-86l1 1l1 29l1 9l1-14l1-38l1-5l1 32l1-23l1-11l1 9l1 5l1 14l1-17l1 55l1-68l1 1l1 4l1 29l1-16l1 10l1-22l1 8l1-9l1-1l1-2l1 4l1 9l1-11l1 7l1-10l1 20l1 18l1-8l1 2l1-34l1 18l1 29l1 9l1-49l1 2l1 0l1 1l1 12l1 16l1 47l1 40l1 19l1 20M825 415l1 5l1-24l1-9l1-19l1-45l1-24l1 15l1 18l1 12l1-19l1-16l1-15l1 19l1-11l1 18l1-13l1 15l1 3l1 30l1 13l1-36l1-16l1-6l1 10l1 4l1-32l1 8l1 23l1-20l1 7l1-15l1 3l1 14l1 12l1 23l1 16l1-49l1-15l1 11l1-9l1 5l1 7l1 20l1 20l1 63M997 415l1 4l1-31l1-56l1 29l1 2l1-33l1-23l1-9l1 23l1 83"/><path stroke="#1f77b4" d="M543 415l1 5l1-6l1-60l1-7l1 16l1 32l1-18l1-67l1 43l1 51M714 415l1 5l1 0l1 0M769 415l1 2l1 3l1-47l1 47l1 0M927 415l1-35l1-63l1-20l1 24l1-20l1-2l1 22l1 39l1-11l1 37l1 27M794 415l1 5l1 0l1-23l1-52l1 3l1 2l1-1l1 34l1-5l1-16l1 15l1-23l1 20l1-1l1-17l1 13l1 4l1 23l1 24"/><path stroke="#8c564b" d="M721 415l1-58l1-50l1 10l1 13l1-9l1 48l1-24l1 35l1 23l1-51l1-15l1 40l1-21l1-35l1 4l1 38l1 20l1 8l1 29l1-9l1 1l1 8M952 415l1 5l1 0l1 0l1-2l1 2l1-37l1 20l1-51l1-9l1-46l1-9l1 33l1-38l1 18l1 2l1-33l1-13l1 35l1 63l1-9l1 51l1-13l1 31"/><path stroke="#d62728" d="M838 415l1-20l1 25l1 0M884 415l1 5l1-5l1-55l1-3l1-52l1 39l1 36l1 26M672 415l1-4l1-49l1-22l1-42l1 3l1 4l1 0l1 0l1 30l1 28l1 28l1 29l1-1l1 1l1 0M992 415l1-28l1-47l1-1l1-4l1-12l1-16l1-25l1-37l1 1l1 14l1 12l1-4l1-28l1 13l1 14l1 1l1-17l1 5l1 57l1 37l1 70M981 415l1-47l1-36l1 4l1 1l1-52l1-31l1-26l1 12l1 9l1 73l1 26l1 30l1-6l1 23l1 25"/><path stroke="#17becf" d="M639 415l1-53l1-4l1-38l1-30l1-16l1-23l1-31l1 4l1-2l1 15l1-24l1 30l1-7l1-19l1 8l1 29l1-36l1 14l1-11l1-3l1 3l1 39l1-45l1 9l1-7l1 1l1 1l1 25l1 26l1-16l1 39l1 26l1-39l1-26l1-23l1 34l1-20l1 13l1 19l1 14l1-10l1-12l1-44l1-5l1-7l1 56l1 27l1 14l1 21l1 63l1 26M994 415l1 5l1 0l1 0l1 0l1-5l1-6l1 7l1-2l1-40l1 28M517 415l1-33l1-29l1 3l1-9l1-6l1 9l1-30l1 10l1-35l1 3l1-40l1 91l1 8l1-10l1-11l1 13l1-28l1 22l1 49l1-19l1 47"/><path stroke="#2ca02c" d="M568 415l1-10l1-14l1 4l1 20M825 415l1-48l1 17l1-11l1 47l1-50l1 6l1 10l1-23l1 11l1 11l1-18l1 2l1-38l1-44l1-1l1 14l1-20l1 78l1 11l1-35l1 11l1 32l1-17l1 18l1-12l1 9l1-4l1 49M604 415l1 5l1-58l1 50l1-7l1 15M912 415l1 5l1-37l1-21l1-55l1 11l1-1l1 27l1 51l1 25"/><path stroke="#9467bd" d="M461 415l1 5l1-41l1-4l1 45l1-50l1-17l1 14l1 53M618 415l1-23l1-6l1-91l1-28l1-16l1-10l1 17l1 36l1 8l1 41l1 21l1 34l1 22"/><path stroke="#2ca02c" d="M569 415l1-14l1 8l1-57l1-48l1-1l1-19l1 41l1 34l1 33l1-11l1-10l1-15l1 64M1009 415l1-35l1-57l1 16l1 2l1 44l1 35M975 415l1 5l1-12l1 10l1-11l1-39l1-13l1-4l1 23l1 46M584 415l1-59l1-62l1-10l1 39l1 23l1 22l1 52M815 415l1-2l1-9l1-29l1 26l1-57l1-5l1-12l1-4l1 4l1-18l1 4l1 4l1 31l1-15l1 44l1-1l1-12l1-47l1-6l1 61l1 43l1 5l1-34l1-18l1-5l1-45l1 2l1 5l1-4l1 11l1 50l1 14l1-29l1 27l1-11l1-17l1 11l1 39l1-5l1 9l1-65l1 26l1 23"/><path stroke="#8c564b" d="M879 415l1 3l1-25l1-6l1-4l1 37M655 415l1-26l1-15l1-68l1 1l1 0l1 2l1-11l1 0l1 25l1 40l1-13l1 22l1 3l1-8l1-11l1 26l1-9l1 47l1-63l1 10l1 16l1-66l1 3l1 33l1-9l1-34l1-15l1 0l1 11l1 0l1-11l1-5l1-3l1 5l1 0l1-4l1 9l1-3l1 52l1-17l1-36l1 6l1 15l1 63l1-50l1-36l1 17l1 39l1-23l1-37l1 15l1 4l1 18l1-31l1 3l1 2l1-5l1 19l1 17l1 28l1-8l1-10l1 21l1-12l1 50l1 12l1 4l1-24l1-54l1-5l1-23l1-13l1 6l1 30l1-23l1-1l1-2l1-16l1 11l1-11l1 54l1-3l1 43l1 37M1009 415l1-41l1-12l1-41l1-35l1-35l1-18l1 19l1-24l1 10l1-10l1 27l1-21l1 4l1-15l1 10l1 15l1 10l1-26l1-6l1 0l1 9l1 4l1 13l1-21l1 8l1 10l1 9l1-7l1 43l1-40l1-21l1-10l1 42l1 26l1-48l1-16l1 4l1 40l1-48l1 6l1-6l1 6l1 4l1 1l1 20l1 6l1-2l1 3l1-36l1 16l1-2l1 36l1-32l1-19l1 5l1 13l1 1l1 7l1 58l1 21l1 9l1 32l1 35M524 415l1 5l1 0l1 0l1-25l1 25M1001 415l1-44l1-3l1 52M899 415l1-7l1-28l1 4l1 36M785 415l1 5l1-43l1 17l1 17"/><path stroke="#9467bd" d="M1006 415l1-69l1 13l1-25l1 18l1 26l1 12l1 12l1-8l1-64l1 3l1-36l1-45l1-7l1 51l1-55l1 15l1 76l1-18l1-11l1-6l1-43l1-12l1 1l1 27l1 27l1 33l1 41l1 38M508 415l1-8l1 13l1-16l1-29l1 36l1-27l1-6l1 17l1 25l1-6l1-31l1-15l1 52l1-13l1 13M563 415l1 5l1-54l1-94l1-13l1 36l1 2l1-38l1 52l1 16l1-24l1 16l1 44l1 13l1 44M993 415l1-26l1-25l1-40l1 9l1 37l1-37l1-1l1-9l1-1l1 3l1 4l1 2l1-9l1 40l1-16l1 25l1 3l1-55l1 15l1-17l1 20l1-24l1 2l1 18l1-14l1 28l1-21l1-5l1 3l1 5l1 10l1-23l1 19l1 16l1 29l1-1l1 40l1-36l1-18l1 25l1 30M583 415l1-5l1-20l1-40l1-2l1 9l1-9l1 23l1-18l1 9l1-5l1 1l1 55l1 7l1-3l1-3l1 6l1 0l1 0l1-4l1 4l1-7l1 7l1-25l1 4l1 0l1 21l1-2l1-52l1-4l1 16l1 42l1-24l1-22l1-28l1 4l1 6l1-9l1 20l1 20l1 24l1-45l1 27l1-10l1-18l1-6l1-5l1 10l1 1l1 1l1 35l1 19l1-20l1-26l1 4l1 42M719 415l1-21l1 8l1 17l1 1M911 415l1 5l1-30l1 24l1-7l1-27l1 40l1-41l1-42l1 47l1 24"/><path stroke="#e377c2" d="M814 415l1 5l1 0l1 0l1 0l1-26l1-32l1-24l1-1l1-23l1 49l1 32l1 25"/><path stroke="#bcbd22" d="M755 415l1-3l1-19l1-16l1 43M609 415l1-38l1-17l1-36l1-22l1-6l1-12l1 24l1-14l1 8l1 65l1 19l1-1l1 34M1022 415l1-12l1-66l1-61l1 64l1 69M868 415l1 5l1 0l1 0l1 0"/><path stroke="#7f7f7f" d="M803 415l1-16l1-9l1-51l1-70l1-41l1-6l1 10l1-8l1 11l1-5l1 5l1 33l1 2l1 50l1 11l1-55l1 28l1-54l1 10l1 19l1-10l1-17l1 3l1-8l1-11l1-12l1-2l1 8l1 8l1-19l1 16l1-12l1 53l1-17l1 74l1 16l1 45l1 26M985 415l1-91l1-13l1 11l1-2l1 35l1 11l1 38l1 16l1 0l1 0l1 0M829 415l1-8l1-3l1-2l1-40l1-46l1 5l1-30l1-3l1 55l1 35l1-21l1 63M727 415l1-7l1-36l1 0l1 23l1-2l1 27l1 0l1-58l1-65l1 98l1 25M499 415l1 5l1-54l1-4l1-14l1 57l1-44l1 34l1 25"/><path stroke="#17becf" d="M772 415l1-9l1 14l1-52l1-46l1 48l1-40l1-40l1-4l1-33l1-38l1 11l1 7l1 50l1 34l1 55l1 48M549 415l1-40l1-37l1-5l1-7l1-3l1 42l1 12l1 43M967 415l1-4l1 4l1 5l1-32l1 4l1 0l1 28M775 415l1-38l1-28l1-27l1 15l1-18l1-55l1-21l1-24l1 42l1-38l1 12l1 6l1-22l1 13l1 8l1-17l1 3l1 1l1-9l1 21l1 55l1 51l1 57"/><path stroke="#ff7f0e" d="M706 415l1-6l1-47l1 16l1-16l1-19l1-20l1 7l1-25l1-4l1-1l1 0l1 19l1-17l1 38l1 74M1020 415l1-28l1 16l1-8l1-22l1-15l1-5l1 21l1 32"/><path stroke="#1f77b4" d="M817 415l1 5l1 0l1-5l1 5M718 415l1 5l1 0l1-24l1-29l1-10l1 3l1-31l1 2l1-4l1-2l1 11l1 1l1-9l1 3l1 19l1 19l1 9l1-1l1-44l1 18l1-18l1 19l1-25l1 26l1-28l1 26l1-23l1 27l1-23l1 10l1-10l1 4l1-5l1 4l1 47l1 19l1-26l1-13l1-33l1 16l1 29l1-46l1 2l1 14l1 0l1-10l1-8l1 0l1 41l1 18l1-33l1-27l1 16l1 28l1 18l1 33M959 415l1 5l1 0l1-45l1 45l1 0"/><path stroke="#d62728" d="M834 415l1-60l1-19l1-4l1-2l1 11l1-4l1-12l1 3l1 10l1-7l1 1l1 0l1 5l1 13l1-6l1 10l1-23l1-6l1 20l1 57l1-69l1 5l1-5l1 18l1-23l1 13l1 32l1-33l1-6l1 3l1-12l1 25l1-11l1-9l1 27l1 42l1-42l1 24l1 36M942 415l1-38l1-44l1 7l1-42l1 13l1-2l1-11l1 27l1-9l1 8l1-22l1 55l1 14l1-22l1-41l1 21l1-21l1-5l1 36l1 33l1 48"/><path stroke="#bcbd22" d="M738 415l1 5l1-51l1-7l1-22l1-12l1-24l1-91l1 23l1 6l1-24l1 23l1-14l1-13l1 0l1 37l1 12l1-5l1-7l1 16l1 22l1-71l1-4l1 5l1 55l1 29l1-37l1-30l1 16l1-19l1-21l1 19l1-18l1 55l1 52l1 56l1 23l1 21M605 415l1-26l1-63l1-5l1-15l1 32l1-1l1-25l1 16l1-11l1-12l1 3l1 5l1 37l1 32l1-20l1 57M553 415l1 5l1-26l1-48l1 20l1 50l1 4M680 415l1-23l1-3l1-9l1-20l1-4l1-6l1 24l1 33l1-18l1 16M626 415l1 5l1-5l1 5l1-11l1 11l1-11l1-58l1 3l1 44l1-39l1 41l1 20M972 415l1 5l1-33l1-29l1 0l1 13l1-43l1 4l1-13l1 0l1-5l1-53l1 16l1-3l1 3l1-15l1 4l1 16l1 2l1 50l1 24l1 9l1 6l1 17l1 5l1 12l1-73l1 3l1-20l1-5l1-50l1 17l1 74l1-25l1-15l1 49l1-15l1-39l1-5l1-18l1 32l1 10l1-44l1 18l1 2l1 64l1 6l1 21l1 26"/><path stroke="#1f77b4" d="M945 415l1 5l1 0l1-24l1 6l1-63l1-23l1 12l1 16l1 5l1 21l1-54l1-1l1 13l1 4l1 30l1-28l1 1l1-21l1 4l1 3l1 6l1 24l1 29l1-29l1-11l1 30l1 37l1 2l1-3l1-54l1-17l1-5l1 37l1 3l1 7l1 29l1 14l1-9l1-2l1 11l1-23l1 23M775 415l1-11l1 6l1-35l1 16l1-68l1 48l1 49M781 415l1-25l1-29l1 43l1 16l1-69l1-10l1 24l1-15l1-8l1 50l1 14l1 14l1 0l1 0l1 0l1-29l1 24l1 5l1-49l1-25l1 45l1-24l1 15l1-13l1 10l1 22l1-53l1-3l1-5l1 18l1 4l1-23l1 6l1-4l1 28l1 51"/><path stroke="#2ca02c" d="M733 415l1 5l1 0l1-8l1-40l1-2l1 7l1-47l1-12l1 49l1 53M896 415l1-6l1 11l1-66l1-26l1-11l1 20l1-43l1-6l1-2l1 2l1-1l1-2l1 20l1 45l1-8l1-36l1 1l1-1l1-22l1 0l1-2l1 20l1-6l1 25l1-41l1 11l1-6l1 21l1 38l1 16l1-8l1-17l1-8l1-4l1 4l1 58l1 30M507 415l1 5l1-58l1-68l1-6l1-34l1 14l1-19l1 79l1-5l1-23l1 23l1-2l1 43l1 4l1-7l1-1l1-10l1 34l1-25l1 1l1 29l1 3l1-14l1 32"/><path stroke="#9467bd" d="M968 415l1 5l1 0l1 0l1-19l1-7l1-1l1 14M668 415l1 4l1 1l1 0l1 0l1-44l1-26l1 27l1 1l1 30l1-15l1-46l1-13l1 17l1 20l1-31l1 6l1-18l1 15l1-14l1-31l1 31l1-10l1-30l1 30l1-7l1 12l1 29l1 19l1-3l1 4l1-30l1 15l1-12l1 20l1-19l1-13l1 6l1-16l1 13l1-11l1 45l1 49M738 415l1-11l1 14l1-21l1 23l1 0l1 0l1 0M471 415l1-47l1-26l1 7l1 2l1-7l1 1l1-26l1 2l1 9l1-3l1-1l1 14l1-10l1 40l1 15l1 35l1 0l1 0l1 0l1-10l1 10l1 0l1 0l1-11l1-15l1 23l1 3l1-27l1-12l1 39l1-15l1 15M525 415l1-24l1-18l1 6l1 36l1 5l1 0l1-21l1 21M859 415l1 5l1-15l1-9l1 9l1 2l1 13M495 415l1 5l1-52l1 13l1-78l1 10l1 0l1 19l1 14l1 16l1 25l1 29"/><path stroke="#7f7f7f" d="M908 415l1-27l1-26l1-65l1-64l1 11l1 17l1-6l1-5l1 52l1 31l1 62l1 11M870 415l1-8l1 13l1 0M700 415l1-43l1 36l1-70l1 46l1-70l1-43l1-25l1-3l1-13l1-2l1 1l1-1l1 0l1 10l1-13l1 21l1-1l1 14l1 4l1-23l1 32l1-35l1 29l1 61l1 25l1 43l1 11M996 415l1-2l1-6l1-25l1 3l1-39l1-4l1-33l1 64l1-9l1-64l1-19l1 5l1 26l1-42l1 3l1-5l1-6l1 12l1-14l1 5l1 61l1 58l1 36M673 415l1-41l1-25l1 40l1 31l1-4l1-18l1-28l1 37l1 13l1-45l1-3l1-19l1 4l1 12l1-22l1-25l1-13l1 8l1 0l1-3l1 13l1-3l1-15l1 5l1 1l1-6l1 1l1 10l1-12l1 21l1 25l1 39l1-57l1-7l1-14l1-7l1 23l1 0l1 8l1-34l1 9l1 18l1 45l1 8l1 28"/><path stroke="#d62728" d="M839 415l1 5l1-5l1-43l1 28l1-36l1-40l1 6l1 20l1-4l1 44l1-11l1-53l1 9l1-8l1-2l1 23l1-17l1 66l1 23M617 415l1 0l1-30l1-6l1 1l1-16l1-16l1 44l1-4l1-25l1-23l1 12l1-11l1-5l1 17l1 40l1 19M563 415l1-12l1-3l1 20l1-41l1-8l1-26l1 14l1-56l1 12l1 24l1 12l1-23l1-7l1 43l1 56M460 415l1-30l1-59l1-19l1 12l1-3l1 27l1 11l1 5l1-41l1-5l1 14l1-23l1 9l1 1l1 60l1 29l1-19l1 31"/><path stroke="#ff7f0e" d="M465 415l1 5l1 0l1 0l1-27l1 27M903 415l1-36l1-28l1-14l1-38l1 7l1 2l1-6l1 3l1 29l1 3l1-39l1 26l1-12l1-7l1 6l1 39l1-56l1 22l1 1l1-23l1 3l1 30l1 60l1 9l1-17l1 41M642 415l1-34l1-78l1-46l1 6l1 15l1-21l1-17l1 0l1-9l1-7l1-8l1 12l1-13l1 0l1 20l1 30l1-43l1 12l1 62l1 7l1-2l1 20l1 47l1-19l1 33l1 38"/><path stroke="#e377c2" d="M523 415l1 5l1-34l1 2l1-1l1 9l1-24l1-43l1 35l1-75l1 30l1-11l1 49l1 0l1 45M531 415l1-30l1 24l1 4l1-18l1 17l1-2l1-28l1-26l1 4l1-23l1 57l1-11l1-24l1 6l1 55"/><path stroke="#17becf" d="M631 415l1 5l1 0l1-58l1 58M554 415l1 5l1-42l1 12l1 5l1-18l1-9l1-33l1 11l1 32l1-4l1 46M612 415l1-35l1-13l1 11l1 32M713 415l1 5l1-44l1 10l1 34l1-8l1-91l1-28l1 60l1-3l1-8l1-12l1 63l1 23M735 415l1 5l1-43l1 2l1-65l1 20l1-24l1 14l1-15l1 19l1-13l1 52l1-34l1-12l1-7l1-7l1 26l1-9l1 22l1-19l1 23l1-32l1 57l1-41l1-21l1 2l1 25l1-30l1 24l1 11l1-15l1-4l1 17l1-16l1-7l1 53l1-40l1 15l1-31l1-1l1-5l1-4l1 58l1-5l1-54l1 15l1 20l1-34l1 21l1 8l1-29l1 13l1 8l1-20l1 11l1-10l1 8l1-4l1 33l1-17l1 21l1 33l1-58l1 5l1 44l1 46"/><path stroke="#8c564b" d="M630 415l1 5l1-5l1 5l1-55l1-10l1-3l1-39l1 3l1 29l1-20l1 18l1-9l1 5l1-21l1 2l1-6l1 65l1 28M948 415l1-26l1 0l1 2l1-17l1-29l1-7l1-61l1-2l1-2l1-6l1 12l1 14l1-21l1 5l1-12l1 8l1 0l1-7l1 46l1 64l1-5l1 27l1 22"/><path stroke="#8c564b" d="M673 415l1 5l1 0l1 0l1-55l1 32l1-45l1 4l1 6l1 9l1 26l1 4M777 415l1 5l1-12l1-11l1-50l1 11l1 10l1-4l1-16l1 0l1 3l1 24l1-32l1 33l1 22l1-13l1 7l1-37l1 34l1-19l1 6l1-39l1 83M590 415l1-62l1-3l1 22l1 9l1-6l1 45M1005 415l1 5l1-43l1 16l1-31l1-9l1-4l1-44l1-13l1 28l1-54l1-44l1 1l1 75l1 77l1 39M489 415l1-6l1 11l1-14l1-31l1-47l1 0l1 4l1-52l1-2l1 10l1-50l1 8l1-4l1 34l1 25l1 67l1 15l1 18"/><path stroke="#e377c2" d="M463 415l1-4l1-50l1 33l1 25l1 1l1-2l1 2l1 0l1-20l1-8l1-39l1-12l1 47l1-40l1 10l1-30l1-5l1-13l1 20l1-54l1-17l1-31l1 25l1 4l1-28l1 10l1-9l1 2l1 1l1 7l1 1l1-1l1-13l1 13l1 5l1-2l1 8l1 18l1-43l1 13l1-1l1-4l1 2l1 37l1-3l1-7l1-5l1 59l1-19l1-12l1-8l1-5l1 0l1 31l1-24l1-38l1-10l1 17l1-7l1-11l1 4l1 14l1 25l1 13l1-33l1 36l1 50l1-32l1 16l1 73l1 7M490 415l1 5l1-15l1 15l1-44l1 23l1-18l1-44l1-24l1 33l1 14l1 58M749 415l1-24l1 0l1-13l1 25l1-2l1-32l1-47l1-12l1 4l1 16l1-18l1 28l1-13l1 7l1-7l1 3l1-15l1 13l1-17l1 10l1-1l1-13l1 33l1-30l1 3l1 2l1 20l1 79M574 415l1 5l1-12l1-41l1-24l1 1l1-8l1-21l1-4l1 27l1-14l1 4l1 2l1-2l1-8l1 12l1-7l1 9l1-10l1 8l1-14l1-1l1-5l1-1l1 35l1-4l1 5l1 31l1 28M907 415l1-46l1-35l1 33l1-43l1 11l1 20l1 58M539 415l1-14l1-39l1 28l1 22l1 8l1-91l1-34l1 19l1 47l1 46M657 415l1 5l1 0l1-20l1 20l1-6l1-11l1-29l1 21l1-15l1 16l1-23l1 47M874 415l1-14l1 16l1-66l1-31l1 40l1-27l1-19l1-6l1 35l1 68"/><path stroke="#ff7f0e" d="M462 415l1 5l1-50l1-7l1 5l1 6l1 6l1-6l1 43l1-24l1 2l1 8l1-24l1-9l1 42l1 8l1-77l1 4l1 28l1 12l1 1l1 15M814 415l1-35l1-14l1 54M876 415l1 1l1 4l1 0l1-62l1 9l1 46l1 7l1-8l1-6l1 11l1 3l1 0l1-19l1-22l1-71l1-8l1-6l1-34l1 29l1-5l1 8l1 18l1 35l1-10l1-48l1-20l1 5l1 5l1-13l1-1l1 9l1-2l1 47l1 65l1 38"/><path stroke="#7f7f7f" d="M673 415l1-7l1-13l1 24l1 1M685 415l1 5l1 0l1 0l1 0l1-32l1 6l1-17l1-6l1 14l1 35M833 415l1-29l1-41l1 52l1 23l1-3l1 3M927 415l1-29l1-38l1-58l1 16l1-29l1 29l1 29l1-23l1-15l1-4l1 14l1 5l1-29l1-15l1 29l1 9l1-16l1-18l1-10l1 34l1 14l1-2l1-45l1 5l1 20l1-8l1 31l1-2l1-33l1-6l1-8l1 17l1-2l1-3l1-1l1-5l1-7l1 17l1 26l1-31l1 39l1 14l1-25l1-34l1 6l1 4l1 3l1 18l1-24l1-12l1 4l1 16l1-19l1 9l1-4l1 14l1-14l1 61l1 3l1-16l1-50l1 13l1-10l1 5l1 6l1-13l1 1l1 17l1 32l1 64l1 11l1-10l1 1l1-16l1-9l1-51l1-41l1 7l1 4l1 113l1-29l1-40l1-23l1 18l1 3l1 23l1 10l1 45l1 16"/><path stroke="#17becf" d="M802 415l1-29l1-74l1 3l1-16l1 23l1 20l1-60l1 3l1 7l1 35l1 24l1-33l1-23l1-5l1-8l1 6l1-5l1 18l1-4l1 4l1-11l1 41l1 12l1-9l1 7l1-8l1-12l1-34l1 35l1 14l1 8l1-2l1-24l1-3l1-14l1 19l1-34l1-3l1 8l1-6l1 6l1-3l1 20l1-21l1-7l1 15l1 32l1 27l1 34l1 26M572 415l1-6l1-15l1 26l1 0l1 0l1-36l1-3l1 6l1-1l1-49l1-34l1-33l1 10l1-8l1 10l1 23l1-30l1 12l1-5l1-5l1 3l1 46l1 53l1-54l1-32l1-8l1 0l1 19l1 31l1-38l1 25l1 31l1 33l1 3l1 31M612 415l1-7l1-56l1 14l1 18l1 16l1-17l1-6l1 43l1-17l1-4l1 4l1-35l1-12l1-3l1-20l1 0l1 80l1-9l1-1l1-30l1-1l1-8l1-1l1-43l1-12l1 2l1-28l1-7l1 38l1-45l1 19l1 46l1 18l1-18l1 36l1-12l1 34l1 1l1 28l1-27l1-24l1-43l1-20l1 39l1 8l1-50l1-13l1-21l1 27l1-24l1 15l1-1l1 45l1 13l1-2l1 40l1-12l1-21l1-17l1 27l1 24l1-36l1-26l1-14l1-12l1-1l1-16l1 10l1 14l1-31l1 19l1-5l1-12l1 12l1-16l1 6l1-3l1 3l1-7l1 22l1 5l1-27l1 17l1 37l1 16l1 8l1 22l1-20l1 38l1-17l1 9l1-6l1-15l1-37l1-1l1-32l1-1l1 1l1-19l1 6l1-2l1 18l1 56l1-24l1-16l1 3l1 71l1-8l1 31"/><path stroke="#1f77b4" d="M1016 415l1 1l1 4l1-32l1-63l1 49l1-22l1 9l1 46M729 415l1-7l1-10l1-27l1-38l1-2l1-19l1 2l1 10l1 10l1-12l1-6l1 2l1-8l1 16l1-7l1 69l1-26l1-22l1 5l1-7l1-1l1-12l1 25l1-10l1-6l1-11l1 25l1-17l1 10l1 35l1 37M498 415l1 5l1-50l1-2l1-48l1-39l1 2l1 36l1 16l1 42l1 23M1028 415l1-45l1 13l1 3l1-69l1-31l1-14l1-12l1 19l1 96l1 45M901 415l1-36l1-3l1-14l1-29l1 38l1 29l1 20l1-24l1 7l1 17M631 415l1-28l1-54l1-27l1-6l1 8l1 14l1 2l1-8l1 20l1-2l1 43l1 43M616 415l1 2l1 3l1-15l1-44l1-26l1 2l1 3l1-1l1 61l1 20"/><path stroke="#2ca02c" d="M954 415l1 5l1 0l1 0l1-8l1-55l1-4l1-9l1 14l1-26l1-44l1-9l1 26l1-23l1 5l1-1l1-3l1 30l1-6l1-17l1 3l1-16l1 12l1-2l1-5l1-2l1 8l1-9l1-1l1 24l1-24l1 52l1 34l1 22l1 34M853 415l1 5l1-7l1 7l1 0l1-10l1 10M805 415l1 5l1-19l1-63l1 11l1 58M967 415l1 2l1-60l1 7l1 0l1-28l1 12l1-79l1-33l1-1l1 67l1-70l1 13l1-11l1-6l1 84l1 44l1 51"/><path stroke="#bcbd22" d="M682 415l1 5l1-12l1-36l1-25l1-34l1 14l1-1l1-1l1-16l1 0l1-1l1 22l1-18l1 46l1 46M1000 415l1 5l1 0l1 0l1-60l1-8l1 4l1-4l1 11l1 8l1-21l1 24l1-30l1 4l1-1l1 40l1-4l1-3l1 5l1-16l1-14l1 2l1-6l1 15l1 26l1-24l1-19l1-4l1 20l1-19l1 12l1 6l1 56l1 0l1-12l1-23l1-38l1 16l1-7l1 8l1 27l1 29"/><path stroke="#d62728" d="M720 415l1 5l1-16l1 16l1 0l1 0M558 415l1 5l1 0l1 0l1-14l1-6l1 20"/><path stroke="#9467bd" d="M637 415l1 5l1 0l1 0l1-30l1 5l1 18l1 7l1 0l1-44l1 32l1 10l1 2l1-40l1-8l1 40l1-55l1 41l1 22M550 415l1-26l1-9l1 6l1 1l1-8l1-19l1-18l1-26l1 44l1-39l1-46l1-57l1 4l1 26l1 16l1-14l1-11l1-10l1 27l1 64l1 62l1 32"/><path stroke="#8c564b" d="M501 415l1-15l1 20l1-8l1 8l1-9l1 1l1 5l1-26l1-39l1 0l1 29l1 22M605 415l1 5l1 0l1 0l1 0l1 0l1-14l1 14M763 415l1 5l1 0l1 0M662 415l1-18l1-32l1-25l1-18l1-41l1-45l1 11l1 5l1-22l1 26l1 25l1-30l1 52l1-4l1-31l1-8l1 4l1-17l1 17l1-9l1 56l1 79l1 3l1 3l1 24M775 415l1-55l1 17l1-58l1 6l1 31l1-84l1 47l1 19l1 41l1 41M881 415l1-24l1-34l1-23l1-25l1 16l1-11l1 58l1-66l1 33l1-19l1 19l1 11l1 3l1-5l1-8l1-30l1 29l1 25l1-11l1-35l1-8l1-1l1 42l1-44l1 25l1 0l1 50l1 38l1-30l1-56l1 1l1 25l1 6l1 22l1-21l1 16l1 17l1-41l1 37l1 24l1-29l1 12l1 4l1-23l1 15l1 21l1 0l1-25l1 25l1-35l1 16l1 19l1-14l1-6l1-21l1 2l1-2l1-62l1 15l1 57l1 31M788 415l1-28l1-22l1-20l1 50l1 25l1 0l1-34l1 17l1 5l1 12l1 0l1-9l1-40l1 20l1-2l1-22l1 22l1 12l1-24l1 19l1 5l1-46l1 15l1-29l1 39l1-19l1 7l1 12l1 3l1-23l1 5l1-2l1 12l1-4l1 49"/><path stroke="#1f77b4" d="M791 415l1-48l1-9l1-31l1-35l1-6l1-36l1 46l1-12l1 42l1 17l1-16l1 82M844 415l1-5l1-3l1-54l1-19l1-33l1 56l1-30l1 24l1-57l1-52l1-13l1-2l1 11l1 5l1-4l1 50l1-6l1 50l1-17l1 29l1 40l1 35M655 415l1 5l1-21l1 1l1-26l1 7l1 33l1 6l1-15l1 8l1 7l1-4l1-18l1 22l1-15l1-35l1-55l1 16l1-43l1 42l1-8l1-5l1-27l1-14l1-22l1 18l1-19l1 22l1-18l1-2l1 34l1 46l1 1l1 35l1-39l1-24l1-9l1-5l1 2l1-40l1-4l1 19l1 5l1-21l1 84l1 8l1 22l1 33M903 415l1-4l1-4l1-13l1-29l1 10l1-25l1 25l1 45M484 415l1-36l1-2l1-38l1-20l1 24l1 11l1-19l1-5l1-45l1-29l1 7l1 25l1 29l1 45l1 12l1 36M1028 415l1 5l1-58l1-40l1-4l1 4l1 15l1 32l1-8l1 5l1-37l1 20l1 49l1-5l1 19"/><path stroke="#7f7f7f" d="M534 415l1 5l1-30l1 28l1-45l1 16l1-2l1 33l1 0l1-19l1 19l1-49l1 33l1 16M505 415l1 5l1-33l1 0l1-17l1 30l1-54l1-33l1 9l1 35l1 36l1 13M481 415l1-7l1 9l1 3l1-2l1-58l1-29l1-43l1-5l1 5l1 7l1-20l1-1l1-28l1-16l1 22l1 5l1-18l1 8l1 37l1-34l1-1l1-18l1 15l1-10l1 9l1-13l1 30l1-13l1 60l1 48l1 48M660 415l1-44l1-18l1-49l1-19l1 40l1-33l1-23l1 16l1-15l1 47l1 28l1 3l1-23l1-10l1-5l1 3l1-22l1 14l1-24l1-9l1-10l1 16l1-2l1 13l1-6l1 29l1-33l1-11l1 75l1 9l1 35l1 29"/><path stroke="#17becf" d="M692 415l1 5l1-12l1-33l1-57l1-37l1-43l1 0l1 19l1-27l1 48l1-26l1 15l1 2l1 20l1-26l1-35l1 9l1 29l1-30l1-6l1-3l1 8l1 36l1 39l1 22l1 21l1 14l1-15l1 14l1 54M699 415l1-27l1-21l1 36l1-66l1-16l1-11l1 21l1-3l1 20l1 69M487 415l1 1l1-30l1-10l1 5l1-13l1 52M661 415l1-1l1-21l1-21l1-49l1-11l1-50l1-26l1-6l1-1l1 38l1-6l1-32l1 3l1-8l1 50l1-23l1 3l1 20l1-51l1 0l1 68l1-23l1 41l1 34l1 77M695 415l1 5l1-47l1 7l1-41l1 36l1-12l1 10l1 8l1 2l1-44l1 1l1 43l1-8l1 5l1 10l1-27l1-39l1-18l1 74l1 40M638 415l1-58l1-17l1-29l1-42l1 27l1-11l1-19l1 14l1 16l1-34l1 16l1-12l1 3l1 21l1-18l1-10l1-1l1 26l1 51l1-6l1 36l1 29l1 23M760 415l1-22l1 14l1 13l1 0l1-13l1-9l1-5l1 8l1 1l1-23l1-8l1-28l1 2l1 39l1-13l1-22l1-4l1-6l1 4l1-13l1 5l1 7l1 11l1 3l1-15l1-3l1 7l1-10l1 3l1 6l1 33l1 23l1 9M759 415l1 5l1-14l1-10l1-11l1-43l1-48l1 3l1-14l1-22l1 11l1 38l1 5l1-21l1-39l1 39l1-8l1-19l1-18l1-1l1 33l1 4l1-5l1-22l1-7l1-2l1 3l1-10l1 12l1 13l1-18l1 7l1-5l1 29l1-18l1 43l1 1l1 42l1-56l1 39l1 47l1 42M504 415l1 5l1 0l1 0l1-29l1 13l1 3l1 13"/><path stroke="#e377c2" d="M915 415l1-6l1-24l1-30l1-49l1-43l1-46l1 3l1 30l1-33l1 33l1-18l1-4l1-9l1-2l1 50l1-16l1 2l1-35l1 36l1 79l1 45l1 21l1 8M634 415l1-33l1 37l1-41l1 37l1-37l1-27l1-13l1 2l1-30l1 16l1 20l1 7l1-20l1-4l1 58l1 33M589 415l1-44l1-40l1 55l1-9l1 18l1 4l1 21M802 415l1 5l1 0l1-16l1-15l1-32l1 15l1-47l1 5l1 31l1 20l1 39"/><path stroke="#9467bd" d="M1002 415l1-10l1-7l1-43l1-12l1-24l1-7l1 47l1-27l1 0l1-6l1 65l1-3l1 22l1-12l1 22M993 415l1-50l1 2l1 53M638 415l1 5l1-10l1 9l1 1l1 0l1-22l1 3l1-59l1-9l1-23l1-19l1 21l1 26l1 21l1 7l1-25l1-8l1 39l1 23l1 6"/><path stroke="#bcbd22" d="M835 415l1-23l1-77l1 4l1-13l1-58l1 8l1-5l1 28l1 18l1 25l1 40l1 19l1-19l1-23l1-8l1 38l1 43M610 415l1-6l1 11l1-74l1 66"/><path stroke="#d62728" d="M551 415l1-6l1-7l1 18l1 0l1-23l1-62l1-19l1-46l1 21l1-12l1 26l1 21l1-18l1-42l1 11l1 22l1-32l1 12l1-10l1 9l1 49l1-18l1 30l1 10l1 71M801 415l1-38l1-1l1 0l1-3l1-35l1-35l1 21l1 20l1-28l1-23l1 3l1 0l1 16l1 35l1-7l1-53l1 31l1-8l1 17l1-38l1 37l1-17l1-22l1 2l1 23l1 31l1 53l1 24M585 415l1 5l1-17l1-22l1 9l1-28l1-72l1-18l1-33l1 28l1 9l1 14l1-37l1-4l1 20l1-31l1 0l1 7l1-6l1 28l1 5l1-28l1-3l1 5l1 4l1-11l1 2l1 2l1 2l1 0l1 4l1-7l1-3l1 26l1 37l1 3l1 56l1-56l1 21l1 18l1 22l1 52M887 415l1 3l1 2l1 0l1 0l1-42l1-17l1-4l1 39l1 24l1 0l1-73l1-38l1-2l1-4l1-4l1 6l1-22l1 25l1-31l1 4l1 26l1 25l1 17l1 6l1 65M734 415l1 5l1 0l1 0"/><path stroke="#17becf" d="M948 415l1-37l1-29l1-55l1 18l1-13l1-13l1 9l1-8l1 12l1-9l1-3l1 3l1 1l1-10l1 13l1 16l1 4l1-20l1 22l1-14l1 14l1-6l1 45l1-38l1-33l1 50l1-52l1 28l1 22l1 2l1 62l1 24M483 415l1-15l1-40l1 20l1 8l1-10l1-25l1 30l1-17l1-41l1-18l1-19l1-41l1-10l1 37l1 32l1 31l1 65M719 415l1-14l1-50l1-48l1-1l1-9l1 29l1-6l1-28l1-19l1 9l1-34l1 22l1 9l1-37l1 47l1-24l1-6l1-5l1 40l1-38l1-15l1 5l1 5l1 16l1 16l1 14l1 27l1 35l1 54"/><path stroke="#ff7f0e" d="M466 415l1-30l1-62l1-60l1-3l1-38l1 12l1 2l1-1l1-10l1-6l1 15l1 40l1-47l1-9l1 53l1 4l1 45l1 86M862 415l1-9l1-10l1-29l1-15l1 5l1-34l1-35l1-45l1-21l1 29l1 5l1-33l1 10l1 10l1 50l1-12l1-7l1 41l1 34l1 44l1-1l1-10l1 38M897 415l1-7l1-11l1-2l1-84l1 34l1-43l1-73l1 0l1-11l1 70l1-5l1-21l1 11l1-24l1-31l1 2l1 17l1 3l1-16l1 15l1-12l1 45l1-50l1 1l1 28l1 39l1-12l1-32l1 4l1 2l1-36l1 25l1 22l1 4l1-33l1-13l1 16l1 4l1-15l1 2l1 15l1-20l1-5l1 7l1 1l1-10l1 31l1 4l1-30l1 10l1-7l1 9l1-9l1 4l1 19l1-25l1 3l1 44l1-40l1-12l1 1l1 57l1-57l1-1l1 67l1-7l1 23l1 5l1 34l1 58l1 23M993 415l1 5l1-8l1-6l1-5l1 19l1 0M785 415l1 5l1-31l1 31l1-5l1 2M670 415l1-10l1-40l1-15l1-35l1-32l1 8l1 17l1 18l1 94M806 415l1-6l1 3l1 7l1-41l1-27l1 11l1-22l1-23l1-26l1 45l1 1l1-22l1 47l1 38l1 20"/><path stroke="#e377c2" d="M955 415l1 5l1 0l1-25l1 25l1-7l1-75l1-21l1-32l1 1l1-8l1 2l1-3l1-19l1-25l1 14l1-12l1-3l1 2l1 19l1-7l1-8l1 27l1-28l1 13l1-13l1-1l1 58l1 60l1-11l1 48l1 15M763 415l1 2l1-52l1-80l1-35l1 14l1 10l1 51l1 12l1-18l1 49l1 39M794 415l1 5l1-32l1-17l1-3l1-77l1-16l1 73l1 15l1 36l1-6l1 27"/><path stroke="#8c564b" d="M482 415l1-23l1 28l1 0l1-44l1-7l1-30l1-37l1-23l1 28l1-20l1-5l1-18l1-7l1 24l1-17l1 51l1-14l1 15l1-40l1 2l1 21l1 9l1-14l1 29l1 43l1-11l1-5l1-13l1 17l1-33l1 66l1 33M840 415l1 5l1-13l1-54l1 1l1 33l1-16l1 1l1 48l1-19l1 19l1-15l1 15l1-29l1-2l1-8l1 17l1-17l1-6l1 45M957 415l1-12l1-1l1 6l1 12l1 0M515 415l1-41l1-55l1-8l1-39l1 16l1-24l1-7l1-3l1-14l1 21l1 27l1 35l1 82"/><path stroke="#bcbd22" d="M729 415l1 5l1 0l1-15l1-67l1 45l1 15l1 16M910 415l1-28l1 1l1 6l1-36l1-16l1-5l1-49l1-3l1 95l1 40M695 415l1 5l1 0l1-29l1-36l1 8l1 0l1-4l1 16l1-23l1 15l1 28l1 25"/><path stroke="#7f7f7f" d="M745 415l1-9l1 11l1-33l1-39l1-45l1-28l1-11l1-36l1 11l1-3l1-2l1-7l1 14l1-6l1 16l1-19l1 12l1-10l1 3l1 63l1-1l1-16l1-28l1 14l1 1l1-2l1-17l1-16l1-6l1 7l1 4l1-5l1 16l1-9l1 0l1-4l1 4l1 62l1-42l1 18l1-5l1-43l1 2l1 3l1-11l1 36l1 19l1 0l1-2l1 61l1 48l1 0l1 35M712 415l1-74l1 26l1-51l1 44l1-23l1-49l1-31l1 17l1 49l1 74l1 12M571 415l1 5l1-3l1 3M761 415l1 2l1 3l1 0l1 0M566 415l1 5l1-31l1 24l1-57l1 33l1 2l1-56l1 11l1 0l1-24l1-4l1 10l1-13l1-4l1 4l1 14l1 13l1-24l1-5l1 29l1 3l1-23l1-5l1 18l1 7l1-14l1 30l1 31l1 8l1 16l1 5l1-44l1-39l1 56l1 29M625 415l1-32l1-11l1 23l1-2l1 26l1-47l1 9l1 20l1-27l1-17l1-50l1 24l1 15l1 74l1 0l1 0l1 0l1-6l1 6l1 0l1-30l1 10l1 13l1-17l1 22l1-21l1 1l1-19l1 20l1-16l1-54l1 33l1 10l1-23l1 32l1-33l1-14l1 13l1 16l1-36l1-75l1-22l1-5l1 41l1 22l1 27l1-43l1-40l1 33l1 10l1-8l1 18l1-38l1 46l1 27l1 25l1-3l1-27l1 0l1-73l1-13l1 38l1-47l1 10l1-5l1 46l1 10l1 26l1 43l1-65l1-39l1-2l1 7l1 24l1-10l1 81l1-30l1 11l1 8l1-19l1 3l1-83l1-9l1 12l1-15l1 18l1 2l1 6l1 14l1-40l1 2l1-7l1 0l1 3l1 35l1 6l1-39l1 1l1 10l1 21l1-29l1 53l1 30l1 76l1-8l1 36"/><path stroke="#9467bd" d="M877 415l1-74l1-77l1-13l1-23l1 23l1-3l1 7l1 18l1 39l1 19l1 47l1 33M897 415l1 4l1-54l1-5l1-28l1 10l1-7l1 21l1-36l1-9l1 6l1 53l1-28l1 7l1-16l1 26l1-11l1 13l1-4l1-26l1 54l1-46l1 10l1 12l1-43l1-4l1 19l1-6l1 11l1-27l1 12l1 2l1 15l1-25l1 0l1 12l1 45l1-33l1-19l1 3l1 13l1-4l1 6l1 5l1 10l1 34l1-58l1-14l1 19l1 2l1 25l1-13l1 65M742 415l1-42l1-19l1-8l1-43l1-67l1 19l1 0l1 14l1-3l1-37l1 40l1-23l1 23l1-38l1 18l1 0l1 42l1 25l1 71l1 8l1-9l1 34M590 415l1-30l1-3l1-32l1 44l1-29l1-74l1 0l1-6l1-25l1-12l1 24l1 0l1 5l1-31l1-2l1-1l1 2l1 10l1-2l1 3l1 9l1-21l1-4l1 11l1-1l1 120l1-13l1-15l1 72"/><path stroke="#2ca02c" d="M909 415l1 5l1-31l1 31M583 415l1-44l1 27l1-23l1-44l1-59l1-37l1 11l1 43l1 4l1-60l1 16l1-18l1 7l1-1l1 6l1 36l1 28l1 17l1-15l1-21l1-9l1 19l1 5l1 1l1 94l1 22M838 415l1 5l1-1l1-1l1-39l1-41l1-56l1 87l1 5l1 46"/><path stroke="#d62728" d="M841 415l1 5l1 0l1-53l1-64l1-38l1-1l1 14l1-13l1 10l1-1l1-10l1-16l1-13l1 22l1-15l1-3l1-11l1 22l1 47l1 0l1-65l1 19l1-23l1 14l1 10l1 69l1-5l1 7l1 77l1-11l1 5l1 26M988 415l1-3l1-41l1 46l1-26l1-7l1-34l1-37l1-21l1-23l1 15l1 11l1 54l1 19l1 37l1-12l1-25l1-12l1-32l1 1l1-19l1 12l1-3l1-15l1-32l1 3l1 3l1 15l1-19l1 17l1 14l1-26l1 10l1 2l1 28l1 15l1-63l1 58l1-56l1 16l1-5l1 19l1 1l1-17l1-12l1 29l1-26l1 17l1 3l1 20l1-3l1-15l1-30l1 39l1-26l1 13l1 1l1-26l1 7l1 21l1 6l1 56l1 29l1 34M477 415l1-10l1-7l1-68l1-24l1 31l1 25l1 26l1 32"/><path stroke="#1f77b4" d="M955 415l1-25l1-36l1 6l1-80l1-3l1 9l1 17l1-9l1-3l1-64l1-1l1 9l1-10l1 11l1 22l1 1l1 9l1 20l1 10l1 98l1 24M587 415l1-41l1-54l1-27l1 21l1-20l1 15l1 39l1 4l1-53l1 6l1 3l1 16l1 10l1 35l1-41l1 20l1-25l1 2l1 8l1-22l1-17l1 0l1 11l1 6l1 14l1 7l1 3l1-34l1 17l1-24l1 9l1-8l1 51l1-34l1-19l1 16l1 65l1-9l1 55M814 415l1-15l1 9l1 11l1-25l1-23l1 21l1-4l1-11l1 18l1 24M1005 415l1-49l1-1l1-42l1-10l1 12l1 53l1-35l1-23l1-3l1 14l1-2l1 12l1-24l1 3l1 50l1 1l1 36"/><path stroke="#d62728" d="M562 415l1-35l1-13l1-31l1-1l1-17l1 12l1-4l1 51l1 42M704 415l1 5l1-65l1-4l1-31l1 2l1 24l1-5l1-24l1 14l1 40l1 49M851 415l1-30l1-51l1 69M1023 415l1 3l1 2l1 0l1-13l1 13l1-39l1-13l1 40l1 7l1 5l1-30l1-38l1 23l1-35l1-32l1 34l1-28l1 2l1-24l1-27l1 8l1 11l1 26l1-44l1 4l1 2l1 7l1 6l1 20l1-23l1-14l1 35l1-34l1 7l1-9l1 8l1 3l1 7l1-4l1-2l1-10l1 5l1 19l1 7l1-27l1 11l1 1l1 42l1 63l1 30M647 415l1-31l1-12l1 6l1 42"/><path stroke="#bcbd22" d="M994 415l1 5l1-1l1-21l1-59l1-18l1 3l1 25l1 22l1-66l1 30l1-15l1-63l1-20l1 14l1-1l1-12l1-6l1 10l1-6l1 3l1 28l1-17l1-22l1 41l1 33l1 20l1 38l1 3l1 57M499 415l1 5l1-57l1-20l1-2l1 10l1-1l1 20l1-32l1 10l1 33l1 39M744 415l1-61l1 28l1-41l1 21l1 12l1-13l1 40l1-18l1 26l1-4l1 15M804 415l1 5l1-1l1-3l1-46l1 8l1-61l1-53l1 75l1 46l1-54l1 15l1 31l1 3l1 22l1-30l1 4l1-43l1-11l1-8l1 6l1 22l1 56l1-7l1-7l1-75l1 6l1-27l1 12l1-7l1-56l1 0l1-14l1 11l1-14l1 18l1-13l1-6l1 16l1 23l1 4l1 33l1-8l1-56l1 17l1-25l1 4l1 47l1 64l1 24l1 58M575 415l1-1l1-8l1-6l1-23l1 12l1-45l1 18l1-24l1 52l1-51l1 70l1-11l1-44l1 35l1 31l1-52l1-21l1-2l1 31l1-41l1 14l1-10l1 2l1 33l1 23l1 23l1 0"/><path stroke="#1f77b4" d="M774 415l1 2l1-4l1-54l1-20l1-31l1-12l1-29l1 11l1 7l1-20l1-15l1 20l1-28l1 67l1-21l1-52l1 13l1-8l1 15l1 12l1-23l1 12l1-8l1 2l1 0l1 23l1 39l1-19l1-15l1 22l1 5l1 37l1 74M663 415l1 1l1 4l1-37l1 0l1-17l1-23l1-4l1-3l1 77M507 415l1 2l1 3l1-18l1 18M1017 415l1-35l1-49l1 31l1-20l1-20l1-12l1 68l1-40l1-73l1-27l1-18l1 14l1-11l1-1l1 18l1 33l1 20l1-27l1-19l1-26l1 10l1 4l1 52l1 21l1 31l1 51l1 27M559 415l1-15l1-25l1-5l1 37M987 415l1-24l1 17l1-8l1 1l1-39l1-4l1 40l1 18l1-15l1-51l1-24l1 14l1-14l1 65l1 29l1 0l1 0"/><path stroke="#2ca02c" d="M611 415l1-31l1 36l1 0l1-68l1 0l1 15l1 12l1-33l1-5l1 9l1-32l1 6l1 35l1 18l1-43l1 56l1 30M587 415l1-62l1 24l1-21l1 10l1 3l1 30l1-49l1-12l1 5l1-21l1-10l1-12l1-52l1 7l1-15l1-16l1-8l1 2l1 2l1 38l1-24l1 14l1 32l1 38l1-66l1-35l1 9l1-12l1 4l1 14l1-11l1 10l1-2l1-13l1 39l1 24l1 5l1 84l1 52M587 415l1-5l1-30l1 12l1-12l1 32l1 8l1-3M1027 415l1-21l1 0l1-41l1-6l1 48l1-16l1 41M883 415l1 5l1-42l1 7l1 8l1 22l1-22l1 27l1-43l1-7l1 37l1 13l1 0l1 0l1 0l1 0l1-28l1-70l1-2l1 21l1 29l1-20l1-31l1 30l1-51l1-19l1-16l1 0l1-4l1 13l1 5l1-12l1 16l1-7l1 7l1 41l1 1l1 11l1-73l1 17l1-2l1 45l1 10l1 11l1-28l1 3l1 28l1 35l1 2l1 6l1 20"/><path stroke="#7f7f7f" d="M755 415l1 5l1-9l1 4l1-3l1-16l1-9l1-38l1-65l1-6l1-22l1 15l1 9l1 8l1 79l1 17l1 20M884 415l1-34l1-44l1-34l1 21l1-20l1 1l1 3l1 54l1 58"/><path stroke="#9467bd" d="M639 415l1-33l1 2l1 13l1-63l1 41l1-47l1 20l1-12l1-69l1 4l1 29l1 1l1-19l1 9l1-6l1-16l1 11l1-14l1 46l1-8l1 4l1-14l1-7l1-25l1 0l1 12l1 50l1 1l1-31l1 15l1-33l1-13l1 7l1 52l1 19l1-17l1-53l1 7l1-4l1-4l1 12l1 20l1 10l1 38l1 23l1 2l1-13l1 20l1-13l1 46l1 5l1-25l1-47l1-14l1 38l1 40M788 415l1-30l1 14l1 1l1 20M651 415l1 5l1-27l1-17l1 42l1-18l1 15l1 5l1-7l1-27l1-10l1 4l1 30l1-27l1-52l1 13l1 6l1 38l1 32M999 415l1-88l1 26l1-29l1-47l1-35l1 3l1-3l1 16l1 47l1 6l1 48l1 42M506 415l1-58l1 0l1-5l1-1l1 18l1 17l1-4l1-6l1 4l1-25l1 65l1-35l1-33l1 8l1-10l1 8l1-13l1 40l1-15l1-3l1 26l1-47l1 4l1 14l1-8l1-4l1 68"/><path stroke="#e377c2" d="M615 415l1-46l1-29l1 35l1 20l1 22l1-60l1-15l1-21l1-4l1 23l1-21l1 17l1-23l1 0l1-3l1 10l1 1l1 25l1-13l1 28l1-47l1-4l1 51l1-29l1-4l1-6l1 69l1 29M678 415l1-16l1-55l1 7l1-21l1 75l1 11l1-35l1-51l1-52l1-6l1 8l1 32l1 0l1 52l1 23l1 33M982 415l1-14l1-5l1-58l1 5l1-7l1-33l1-30l1-2l1-23l1-3l1 7l1-9l1 30l1 27l1-29l1-26l1-12l1 0l1 6l1 8l1-13l1 8l1 14l1 7l1 8l1-32l1-2l1-1l1-5l1 10l1 15l1-14l1 15l1 18l1 26l1 14l1-3l1-50l1 21l1-25l1-24l1 30l1 48l1 49l1 46"/><path stroke="#ff7f0e" d="M478 415l1 5l1-27l1 16l1 11l1-40l1-2l1 42M667 415l1-3l1-11l1 11M986 415l1 5l1 0l1 0l1-9l1-61l1-35l1 57l1 0l1-40l1-71l1 0l1-13l1 17l1-3l1 3l1-14l1-3l1 28l1 59l1 69M578 415l1-17l1-6l1 28l1-24l1 19l1-35l1-1l1-26l1-45l1-3l1-53l1-2l1-3l1 7l1 7l1-14l1 19l1-14l1-6l1 15l1-1l1 14l1-27l1 3l1 15l1-7l1-10l1 2l1 17l1 38l1 31l1-6l1 4l1 34l1 22l1-2l1 12l1 20"/><path stroke="#17becf" d="M841 415l1-26l1 2l1 21l1-10l1-62l1 28l1-47l1-1l1 5l1-17l1 13l1 18l1 11l1-5l1 7l1 7l1-5l1 6l1-27l1-12l1 3l1-15l1 4l1-4l1 32l1-31l1 20l1 2l1-11l1-9l1 1l1 12l1 24l1 69M814 415l1 5l1 0l1 0l1-6l1-63l1-48l1-39l1 75l1-17l1 24l1-19l1 16l1-36l1 2l1-29l1 21l1-2l1 69l1 37M806 415l1-26l1-4l1-23l1-48l1 3l1-5l1 21l1 1l1-10l1 15l1-46l1 2l1 18l1 48l1-15l1-22l1-22l1-8l1 23l1 10l1-10l1-16l1 6l1 7l1 13l1 47l1 31"/><path stroke="#8c564b" d="M532 415l1 5l1-8l1 8l1 0l1-27l1-17l1 23l1 21l1-18l1-5l1-83l1-38l1 3l1-33l1-2l1 16l1 23l1-22l1-20l1 0l1-2l1 27l1 50l1-19l1-8l1 62l1-1l1 44l1 26M578 415l1 5l1 0l1-20l1 7l1 13"/><path stroke="#e377c2" d="M600 227l1 4l1-15l1-1l1 17l1-20l1 19l1-10l1-5l1 7l1-9l1 7l1 11l1 2l1 1l1 2l1-22l1 16l1 7l1-21l1 2l1-4l1 16l1-12l1 1l1 14l1 4l1-26l1 18l1-1l1-5l1-5l1-1l1-3l1 1l1 0l1-3l1 20l1 0l1-10l1-5l1 7l1-11l1 5l1-7l1 5l1 2l1 15l1-6l1 9l1-18l1 1l1-6l1 3l1 2l1 9l1-14l1 7l1 13l1-8l1 0l1-12l1 0l1-2l1 25l1-13l1 11l1-7l1 1l1 6l1-9l1 1l1-14l1 1l1 0l1 20l1-4l1-17l1 14l1 5l1-18l1 17l1 3l1-19l1-3l1 4l1 10l1 2l1-15l1 19l1 1l1 3l1-5l1-13l1-4l1 22l1-19l1 7l1-1l1-5l1 11l1-10l1-6l1 9l1 2l1-12l1 11l1 14l1-20l1 11l1-8l1 3l1 11l1 0l1-3l1 7l1-18l1 2l1-1l1 2l1 7l1-9l1-4l1 17l1-2l1-5l1-12l1 12l1 3l1 6l1-4l1-16l1 19l1-3l1-12l1 9l1-14l1 11l1-14l1 1l1 8l1 11l1-8l1 3l1-4l1 15l1-8l1-14l1 20l1-16l1 15l1-8l1-15l1 9l1 3l1 11l1-14l1 10l1-15l1 1l1-4l1 22l1-3l1-18l1 10l1 5l1-13l1-1l1 12l1 7l1 3l1-23l1 8l1 9l1-14l1 4l1 12l1-18l1 15l1 5l1-17l1 14l1-19l1 18l1-12l1-2l1 17l1-13l1 10l1 6l1-14l1 12l1 0l1-14l1 9l1-4l1-6l1 8l1 9l1-12l1-12l1 23l1-15l1 0l1 14l1 2l1-3l1-16l1 14l1-1l1-19l1 20l1-9l1-7l1-3l1 12l1 0l1-10l1 12l1 4l1-18l1 14l1-9l1-6l1 10l1 8l1-18l1 9l1-3l1 4l1 8l1 6l1-8l1-12l1 3l1 13l1-12l1 16l1-20l1 3l1-3l1 13l1 5l1-6l1 2l1-12l1 19l1-21l1 3l1 13l1-9"/><path stroke="#1f77b4" d="M835 263l1-35l1 18l1 18l1 3l1-21l1 19l1-38l1 3l1 7l1 3l1 28l1-37l1 7l1-2l1 18l1 4l1-25l1 30l1 4l1-41l1 45l1-9l1-34l1 21l1 22l1-30l1 9l1 1l1 10l1 9l1-2l1-38l1 11l1-13l1 32l1-32l1 15l1 14l1 4l1-14l1-20l1 10l1-9l1 16l1 17l1 10l1-20l1 1l1-25l1 28l1-11l1-4l1-11l1 20l1-11l1 17l1-26l1 37l1-38l1 19l1 16l1-14l1-3l1-5l1 2l1-3l1 33l1-16l1 2l1-2l1-16l1-3l1 25l1-4l1 0l1-15l1 0l1 27l1-6l1-27l1 30l1-23l1 19l1 11l1-23l1-22l1 4l1 28l1-6l1 14l1-35l1 36l1 3l1-28l1 8"/><path stroke="#8c564b" d="M910 226l1 15l1-20l1 0l1 22l1-20l1 1l1 12l1 11l1-4l1-34l1 7l1 9l1 15l1 6l1-34l1 22l1-6l1-17l1 39l1-6l1-5l1 3l1-9l1-22l1 29l1-23l1 21l1-18l1 5l1-6l1 21l1-1l1-10l1 19l1 1l1-17l1-2l1-13l1 14l1 1l1-22l1 41l1 0l1-5l1 1l1-33l1 6l1 17l1-4l1-13l1 19l1 5l1-11l1 6l1 12l1-7l1-9l1 2l1-2l1-2l1 14l1-32l1 22l1-4l1-13l1 12l1 8l1 9l1-39l1 1l1 24l1 7l1-1l1-27l1 38l1-11l1-2l1-23l1 16l1-12l1 21l1 8l1-3l1-6l1-18l1 1l1-12l1 16l1 24l1-14l1-6l1 11l1 3l1 3l1-31"/><path stroke="#d62728" d="M470 234l1 18l1-17l1 17l1-29l1 13l1-7l1 28l1-18l1 11l1-19l1-10l1 34l1-4l1-11l1 18l1-11l1-24l1 17l1 13l1-14l1-13l1 17l1 2l1 8l1-14l1-6l1 13l1 10l1-30l1-2l1 21l1-8l1 13l1 10l1-8l1 4l1-8l1-18l1 6l1-9l1 13l1 19l1-8l1-11l1-8l1-2l1-10l1 32l1-14l1-3l1-6l1 6l1 7l1-5"/><path stroke="#9467bd" stroke-width="1.1" d="M470 145l1 2l1-2l1-7l1 5l1 10l1-12l1 11l1-16l1 14l1-3l1-3l1-7l1 5l1 12l1-5l1 3l1 0l1-6l1-9l1 18l1-2l1-12l1 12l1-2l1-12l1 8l1-10l1 9l1-3l1 9l1-3l1-4l1-10l1 15l1 3l1-3l1-9l1-3l1 10l1-4l1 10l1-18l1 8l1-9l1 13l1-5l1 7l1-12l1-1l1 16l1-8l1 0l1-9l1 18l1-13l1 6l1-11l1 12l1-11l1 16l1-13l1 3l1 4l1 1l1-11l1-2l1 11l1-11l1 9l1-2l1 13l1-10l1 9l1-8l1-5l1 3l1 5l1 6l1-1l1-6l1 6l1-8l1 0l1-4l1-6l1 8l1 10l1-7l1-4l1 0l1 12l1-13l1 8l1 3l1-17l1 8l1-1l1-7l1 17l1-4l1-13l1 14l1-4l1-4l1 8l1-9l1 9l1-3l1 1l1-10l1 9l1-11l1 4l1 10l1 1l1-3l1-4l1-4l1 9l1-4l1-3l1 5l1-10l1 10l1-7l1 13l1-18l1 2l1-1l1 6l1-1l1 4l1 0l1 9l1-3l1-5l1 1l1 1l1-11l1 4l1-3l1 2l1 12l1-12l1 0l1-4l1 3l1-2l1 2l1 1l1 15l1-15l1 13l1-16l1 15l1 3l1-11l1-1l1 2l1 7l1-14l1 5l1 4l1-5l1-3l1 10l1 3l1-14l1 1l1 2l1 9l1-11l1 7l1-8l1 8l1-10l1 2l1 4l1-6l1 11l1-11l1 13l1 2l1-2l1-12l1 15l1-17l1 3l1 9l1-2l1 7l1-6l1 8l1-13l1 14l1-11l1 10l1-9l1 4l1-14l1 8l1 4l1 4l1-1l1 1l1 1l1-5l1 2l1-10l1 5l1 6l1-2l1 6l1-1l1-16l1 14l1-11l1 5l1-2l1 7l1 5l1-2l1 1l1-4l1 0l1-8l1 3l1 7l1 2l1-3l1 1l1 1l1-8l1 8l1-16l1 16l1-15l1 8l1-11l1 2l1 15l1-8l1 7l1-10l1 11l1-11l1-5l1 10l1-2l1-3l1-2l1 7l1 2l1 6l1-7l1 1l1-11l1 16l1-5l1 1l1-7l1 7l1-12l1 9l1-10l1 13l1 0l1-11l1 8l1-3l1 6l1 3l1-17l1 16l1 3l1-16l1 3l1 2l1-3l1 7l1-7l1 11l1-10l1 10l1-5l1-8l1 2l1 12l1 0l1-2l1-13l1 14l1-9l1 12l1-2l1-7l1 3l1 4l1-4l1 3l1-8l1-7l1 16l1-16l1 9l1-6l1 1l1 14l1-8l1 3l1 3l1-8l1-7l1 13l1-7l1 4l1-8l1 12l1 1l1-3l1-7l1 8l1-5l1 6l1-10l1-2l1 16l1-16l1 8l1 3l1-12l1-1l1 6l1-4l1 15l1-16l1 14l1 3l1-7l1 4l1 1l1-10l1-3l1 14l1 1l1-3l1-9l1-3l1 11l1 3l1-17l1 15l1-10l1 5l1 0l1-4l1-6l1 2l1 2l1 1l1 11l1 1l1-11l1 10l1-4l1-8l1-2l1-1l1 15l1-4l1 1l1-11l1 6l1-5l1 5l1 6l1-1l1 4l1-14l1-1l1 7l1-6l1 9l1-11l1 8l1-11l1 11l1-9l1 13l1 1l1-1l1-12l1 14l1-10l1-1l1 8l1 6l1-15l1 0l1 0l1 14l1-11l1-1l1-6l1 16l1-6l1 5l1-7l1 9l1-5l1 0l1 0l1 2l1-9l1 2l1-4l1 15l1-13l1-1l1 13l1-6l1 0l1 3l1-2l1-5l1 8l1 0l1-13l1 16l1-15l1 8l1-10l1 13l1-10l1 9l1-7l1-3l1 11l1 1l1-13l1 4l1 5l1 5l1-4l1-10l1 14l1 3l1-7l1 2l1 2l1 0l1-3l1 2l1-13l1 8l1 1l1-7l1-5l1 16l1-7l1-3l1 0l1 10l1-8l1 0l1 11l1-9l1-9l1 2l1 1l1 0l1 2l1-2l1 15l1-3l1-13l1 2l1 13l1-7l1 9l1-5l1 5l1-11l1 0l1-4l1 11l1-15l1 14l1-9l1 14l1-1l1-1l1 1l1-14l1 7l1-3l1 1l1 0l1-1l1-3l1 12l1-9l1-7l1 1l1 15l1-1l1-12l1 11l1-9l1-4l1 2l1-3l1 15l1-4l1-7l1 6l1-3l1-6l1 7l1-2l1 2l1-5l1 12l1-12l1 8l1 4l1-2l1-13l1 3l1 0l1 10l1-2l1 5l1 1l1-18l1 10l1 4l1 4l1-7l1 4l1-14l1 6l1 9l1-10l1-2l1 4l1 9l1-6l1 7l1-19l1 5l1 1l1 11l1-3l1-13l1 1l1 11l1 1l1 3l1-16"/><path stroke="#8c564b" stroke-width="1.0" d="M470 193l1 2l1 4l1-2l1-12l1 10l1-7l1 1l1 6l1 0l1-10l1 5l1 3l1-1l1 2l1 3l1-4l1 2l1 5l1-1l1 1l1-9l1-6l1 5l1 5l1-11l1 11l1-7l1 0l1-1l1 10l1-4l1-5l1 2l1-1l1 4l1-4l1-1l1-1l1-2l1 5l1-4l1 5l1 4l1-2l1 4l1 1l1 1l1-1l1-6l1 5l1-10l1 9l1-7l1 5l1 2l1-12l1 6l1 6l1-10l1 8l1 4l1-1l1-1l1-2l1-3l1 6l1-8l1 3l1 6l1-10l1 8l1-1l1-6l1 10l1-5l1 5l1-14l1 15l1-6l1-8l1 8l1 6l1-4l1-8l1 12l1-14l1 0l1 5l1 1l1-5l1 2l1 9l1-2l1-8l1 3l1-4l1 11l1-1l1-7l1 8l1-6l1-1l1 8l1-5l1-4l1-4l1 1l1 4l1 1l1-6l1 4l1-5l1 9l1-6l1 6l1-10l1 0l1 1l1 3l1 8l1-8l1 8l1-12l1 1l1 1l1 13l1-14l1 3l1 6l1-10l1 0l1 6l1-3l1 10l1-2l1 0l1 0l1-7l1 7l1-8l1 0l1-2l1 6l1-6l1 4l1 7l1 3l1-12l1 8l1-9l1 5l1 1l1 5l1 1l1-12l1 0l1-2l1 2l1 11l1-9l1 2l1 5l1 2l1-3l1 2l1-7l1 10l1-6l1 4l1-10l1-1l1 10l1-3l1-9l1 15l1-5l1 0l1-5l1-2l1-3l1 11l1 1l1-9l1 3l1 9l1-4l1-3l1-7l1 10l1 0l1-8l1 7l1 1l1-6l1 6l1-9l1 9l1-4l1 5l1-3l1 2l1-6l1-1l1 3l1 4l1-4l1 3l1-5l1 3l1-1l1-5l1 3l1 8l1-7l1 4l1-2l1-5l1 3l1 1l1-2l1-1l1 6l1-2l1-1l1-6l1 13l1-1l1-2l1-9l1 6l1-3l1 2l1 2l1 2l1-9l1 14l1 0l1-5l1-1l1-1l1-2l1 4l1 0l1-3l1 6l1-5l1 4l1 3l1-5l1-4l1-3l1 1l1-3l1 9l1-1l1-1l1-1l1-6l1 5l1 5l1-10l1 1l1 1l1 3l1 2l1 6l1 1l1-5l1 4l1-4l1-11l1 0l1 0l1 12l1 1l1-4l1-4l1 2l1-4l1-2l1 3l1 10l1-13l1 7l1-3l1 9l1-1l1 0l1-2l1-5l1-6l1 11l1-8l1 7l1-1l1-2l1 9l1-4l1 3l1-10l1 3l1-1l1 6l1 1l1-12l1 9l1-3l1-7l1 12l1-6l1-6l1 10l1 4l1-10l1 9l1-3l1 0l1 2l1-5l1-2l1 0l1-3l1 8l1-4l1 8l1-11l1 12l1-6l1 1l1 4l1-10l1 0l1 2l1-1l1-6l1 3l1 9l1 0l1-5l1-4l1 9l1-3l1 1l1-10l1 8l1-6l1 9l1 0l1-7l1-4l1 9l1-7l1 0l1 10l1 0l1-8l1 8l1-9l1 10l1 0l1-4l1-6l1 11l1-13l1 8l1-1l1-3l1 10l1-1l1-2l1-7l1 0l1-3l1 8l1-4l1 7l1 2l1-3l1 2l1-6l1-1l1 2l1-7l1 9l1-11l1 9l1-4l1-4l1-1l1 5l1 8l1 2l1-13l1 11l1 1l1-10l1 8l1-9l1 7l1-3l1 0l1 1l1-7l1 10l1-4l1-2l1-2l1-2l1 8l1-5l1 6l1-1l1-3l1 1l1-2l1 10l1-10l1 9l1-7l1 0l1 4l1-2l1-1l1-7l1 8l1 5l1 0l1-12l1 10l1-10l1 8l1 6l1-3l1 1l1-11l1 12l1-3l1-6l1-3l1 12l1-7l1-5l1-1l1 6l1 2l1 2l1-8l1 6l1 3l1-3l1 0l1 5l1-13l1 11l1-12l1 10l1-8l1 0l1 5l1 0l1 7l1-7l1-1l1 2l1-8l1 2l1 2l1 4l1-1l1-7l1 6l1-3l1 5l1-7l1 12l1-7l1-6l1 14l1-15l1 15l1 0l1-12l1-2l1 6l1 1l1-6l1 2l1 5l1 1l1 4l1-10l1-1l1 0l1 10l1-11l1 6l1-2l1-5l1 13l1-2l1-3l1-4l1 1l1-6l1 6l1 2l1 2l1 1l1-10l1 9l1 5l1-7l1 3l1-4l1-5l1 1l1 13l1-8l1-6l1 4l1 0l1 7l1 0l1-9l1 5l1 6l1-4l1-1l1-5l1 8l1-8l1-2l1 6l1 7l1-14l1 1l1 12l1-1l1-5l1-2l1 1l1 4l1-9l1 2l1 2l1 3l1-8l1 0l1 1l1-2l1 12l1-2l1 2l1 0l1-12l1 6l1 4l1-6l1 2l1-4"/><path stroke="#bcbd22" stroke-width="1.6" d="M470 207l1-7l1 2l1 2l1 4l1-6l1 7l1-9l1 1l1 4l1-7l1 0l1 4l1 2l1-7l1 4l1-2l1-3l1 11l1-11l1 2l1 9l1-3l1 1l1-8l1 2l1 9l1-8l1 1l1 1l1 4l1 0l1 4l1-11l1 2l1 7l1-9l1 3l1 4l1-10l1 1l1 3l1 9l1-10l1-1l1 11l1-8l1 0l1 2l1-2l1 0l1 4l1 5l1-6l1-1l1-1l1 0l1-3l1 6l1-2l1 1l1 0l1-2l1 3l1 1l1-4l1 5l1 0l1-1l1-3l1 2l1 3l1 0l1-2l1 2l1-2l1-6l1-1l1-1l1 4l1-2l1 5l1 1l1 4l1-2l1-3l1 4l1 0l1-5l1 6l1-6l1 2l1-9l1 3l1 1l1 0l1 5l1-9l1 8l1 4l1 0l1-1l1-1l1-5l1-5l1 5l1 0l1 2l1-6l1 6l1 5l1 1l1-11l1-3l1 8l1 6l1-13l1 12l1-13l1 11l1-3l1-4l1-4l1 12l1 2l1-9l1 2l1 5l1-7l1-2l1 4l1-2l1 2l1 1l1-4l1 7l1-10l1 5l1 5l1-2l1 2l1 3l1-13l1-1l1 6l1 8l1-11l1 4l1 6l1-10l1 1l1 4l1-3l1-4l1 5l1-2l1 3l1 1l1-7l1 1l1 10l1-1l1 2l1-5l1 5l1-8l1 0l1 0l1-4l1 0l1 12l1-10l1 1l1 4l1 3l1-4l1 0l1 4l1-7l1 7l1-8l1 4l1-1l1-3l1 9l1 1l1-10l1 7l1-7l1-2l1 9l1-6l1 4l1-3l1 7l1-6l1-2l1 10l1-3l1-1l1 2l1-1l1 1l1 1l1-7l1 4l1 1l1-9l1 5l1-5l1 4l1-1l1 1l1-5l1 12l1-1l1-2l1 1l1-10l1 12l1-10l1 6l1-9l1 4l1-1l1 10l1 0l1-2l1-10l1 7l1-2l1-4l1 6l1 5l1-8l1 5l1 1l1-3l1-3l1-2l1-1l1 1l1 2l1 4l1 0l1-8l1 5l1 8l1-5l1 0l1 2l1-7l1 1l1-1l1 5l1 2l1-2l1-3l1 2l1 1l1-3l1-3l1 7l1-9l1 11l1-9l1-3l1 8l1 1l1-5l1 9l1-9l1-2l1 12l1-3l1-1l1 2l1-6l1 4l1 3l1-5l1-4l1 6l1-2l1 4l1-2l1 4l1-3l1-4l1 2l1-8l1 13l1-4l1 0l1-9l1 12l1-7l1-3l1 7l1-3l1 2l1 1l1-7l1 3l1 3l1-4l1-4l1 4l1-1l1-1l1 2l1-2l1 0l1 6l1 5l1-9l1 3l1-2l1 6l1-3l1-1l1 3l1-2l1-3l1 3l1-3l1 6l1-6l1 5l1 0l1 2l1-13l1 0l1 13l1-4l1 0l1-4l1 4l1-4l1 9l1-5l1 4l1-4l1 4l1 0l1 1l1-8l1 4l1-10l1 11l1 0l1-8l1 2l1 6l1-8l1 1l1-1l1-2l1 7l1 3l1-3l1-5l1-3l1 10l1 0l1-9l1 12l1-11l1 8l1-5l1 8l1-2l1 2l1-1l1-6l1 3l1-1l1 0l1-5l1-1l1 7l1-4l1-4l1 1l1 7l1 0l1-4l1 4l1 2l1-4l1-1l1 5l1-10l1 8l1-1l1-7l1 6l1 0l1 5l1 1l1-3l1-1l1 3l1-11l1 6l1 0l1-6l1 1l1 0l1 9l1-6l1-4l1 5l1 0l1 2l1-3l1-2l1 2l1 6l1-5l1 0l1 0l1 1l1-1l1-1l1 6l1-5l1-3l1 11l1-9l1 2l1 0l1 1l1 1l1 0l1-2l1 3l1-4l1 0l1 1l1 6l1-4l1-5l1-2l1 6l1-3l1-4l1 7l1 4l1-9l1 4l1-3l1 7l1-2l1-7l1 6l1 1l1 4l1 0l1-7l1 7l1-9l1 10l1-1l1-2l1 2l1-10l1 10l1-12l1 9l1-7l1 6l1-1l1-3l1-2l1-2l1 5l1-1l1-1l1-2l1 6l1-7l1 12l1-11l1 4l1 5l1-1l1-5l1-5l1 14l1-5l1 4l1-4l1-6l1 10l1-8l1 8l1-12l1 6l1-6l1-1l1 7l1-6l1 7l1 4l1 2l1-13l1 1l1 3l1 1l1 6l1 1l1-9l1 2l1 2l1 4l1-7l1 8l1 1l1-2l1-2l1-5l1 0l1-4l1 12l1-1l1-7l1 2l1-6l1 2l1 11l1 0l1-6l1 5l1-6l1 3l1-8l1 7l1-2l1-4l1-2l1 1l1-1l1 10l1-1l1 3l1-11l1 6l1 3l1-4l1-4l1 1l1 7l1-6l1 0l1 6l1 2l1-6l1-6l1 4l1 9"/><path stroke="#ff7f0e" d="M651 220l2-9l-2-9l0-10l0-9l3-9l-3-9"/><path stroke="#7f7f7f" d="M669 220l-3-9l0-9l3-10l-1-9l0-9l-1-9"/></g></g></svg>
<rect x="430.3" y="161.5" width="230.2" height="113" fill="none" stroke="#3a3a3a" stroke-width="1"/>
<line x1="660.5" y1="261.94444444444446" x2="662.3" y2="261.94444444444446" stroke="#3a3a3a" stroke-width="0.7"/>
<text x="662.7" y="264.9" font-size="8.3" text-anchor="start" font-weight="normal" fill="#1a1a1a" >0</text>
<line x1="660.5" y1="249.38888888888889" x2="662.3" y2="249.38888888888889" stroke="#3a3a3a" stroke-width="0.7"/>
<text x="662.7" y="252.4" font-size="8.3" text-anchor="start" font-weight="normal" fill="#1a1a1a" >5</text>
<line x1="660.5" y1="236.83333333333331" x2="662.3" y2="236.83333333333331" stroke="#3a3a3a" stroke-width="0.7"/>
<text x="662.7" y="239.8" font-size="8.3" text-anchor="start" font-weight="normal" fill="#1a1a1a" >10</text>
<line x1="660.5" y1="224.27777777777777" x2="662.3" y2="224.27777777777777" stroke="#3a3a3a" stroke-width="0.7"/>
<text x="662.7" y="227.3" font-size="8.3" text-anchor="start" font-weight="normal" fill="#1a1a1a" >15</text>
<line x1="660.5" y1="211.72222222222223" x2="662.3" y2="211.72222222222223" stroke="#3a3a3a" stroke-width="0.7"/>
<text x="662.7" y="214.7" font-size="8.3" text-anchor="start" font-weight="normal" fill="#1a1a1a" >20</text>
<line x1="660.5" y1="199.16666666666666" x2="662.3" y2="199.16666666666666" stroke="#3a3a3a" stroke-width="0.7"/>
<text x="662.7" y="202.2" font-size="8.3" text-anchor="start" font-weight="normal" fill="#1a1a1a" >25</text>
<line x1="660.5" y1="186.61111111111111" x2="662.3" y2="186.61111111111111" stroke="#3a3a3a" stroke-width="0.7"/>
<text x="662.7" y="189.6" font-size="8.3" text-anchor="start" font-weight="normal" fill="#1a1a1a" >30</text>
<line x1="660.5" y1="174.05555555555554" x2="662.3" y2="174.05555555555554" stroke="#3a3a3a" stroke-width="0.7"/>
<text x="662.7" y="177.1" font-size="8.3" text-anchor="start" font-weight="normal" fill="#1a1a1a" >35</text>
<line x1="440.9" y1="274.5" x2="440.9" y2="276.3" stroke="#3a3a3a" stroke-width="0.7"/>
<text x="440.9" y="282.8" font-size="8.3" text-anchor="middle" font-weight="normal" fill="#1a1a1a" >100</text>
<line x1="461.6" y1="274.5" x2="461.6" y2="276.3" stroke="#3a3a3a" stroke-width="0.7"/>
<text x="461.6" y="282.8" font-size="8.3" text-anchor="middle" font-weight="normal" fill="#1a1a1a" >110</text>
<line x1="482.4" y1="274.5" x2="482.4" y2="276.3" stroke="#3a3a3a" stroke-width="0.7"/>
<text x="482.4" y="282.8" font-size="8.3" text-anchor="middle" font-weight="normal" fill="#1a1a1a" >120</text>
<line x1="503.1" y1="274.5" x2="503.1" y2="276.3" stroke="#3a3a3a" stroke-width="0.7"/>
<text x="503.1" y="282.8" font-size="8.3" text-anchor="middle" font-weight="normal" fill="#1a1a1a" >130</text>
<line x1="523.9" y1="274.5" x2="523.9" y2="276.3" stroke="#3a3a3a" stroke-width="0.7"/>
<text x="523.9" y="282.8" font-size="8.3" text-anchor="middle" font-weight="normal" fill="#1a1a1a" >140</text>
<line x1="544.6" y1="274.5" x2="544.6" y2="276.3" stroke="#3a3a3a" stroke-width="0.7"/>
<text x="544.6" y="282.8" font-size="8.3" text-anchor="middle" font-weight="normal" fill="#1a1a1a" >150</text>
<line x1="565.4" y1="274.5" x2="565.4" y2="276.3" stroke="#3a3a3a" stroke-width="0.7"/>
<text x="565.4" y="282.8" font-size="8.3" text-anchor="middle" font-weight="normal" fill="#1a1a1a" >160</text>
<line x1="586.1" y1="274.5" x2="586.1" y2="276.3" stroke="#3a3a3a" stroke-width="0.7"/>
<text x="586.1" y="282.8" font-size="8.3" text-anchor="middle" font-weight="normal" fill="#1a1a1a" >170</text>
<line x1="606.9" y1="274.5" x2="606.9" y2="276.3" stroke="#3a3a3a" stroke-width="0.7"/>
<text x="606.9" y="282.8" font-size="8.3" text-anchor="middle" font-weight="normal" fill="#1a1a1a" >180</text>
<line x1="627.6" y1="274.5" x2="627.6" y2="276.3" stroke="#3a3a3a" stroke-width="0.7"/>
<text x="627.6" y="282.8" font-size="8.3" text-anchor="middle" font-weight="normal" fill="#1a1a1a" >190</text>
<line x1="648.4" y1="274.5" x2="648.4" y2="276.3" stroke="#3a3a3a" stroke-width="0.7"/>
<text x="648.4" y="282.8" font-size="8.3" text-anchor="middle" font-weight="normal" fill="#1a1a1a" >200</text>
<text transform="translate(682.2,215.0) rotate(-90)" font-size="9.2" text-anchor="middle" fill="#1a1a1a">Pore axis (Å)</text>
<text x="547.1" y="292.6" font-size="9.6" text-anchor="middle" font-weight="normal" fill="#1a1a1a" word-spacing="2" letter-spacing="0.1">Time (ns)</text>
<text transform="translate(0.6,16.0) scale(0.88,1)" font-size="23.5" font-weight="bold" fill="#000">a</text>
<text transform="translate(0.8,360.3) scale(0.96,1)" font-size="23.5" font-weight="bold" fill="#000">b</text>
<text transform="translate(61.2,418.0) rotate(-90)" font-size="9.2" text-anchor="middle" fill="#1a1a1a">Pore axis (Å)</text>
<text transform="translate(61.2,562.8) rotate(-90)" font-size="9.2" text-anchor="middle" fill="#1a1a1a">Pore axis (Å)</text>
<defs><radialGradient id="sph" cx="0.62" cy="0.38" r="0.7"><stop offset="0" stop-color="#aee6ff"/><stop offset="0.18" stop-color="#4a9af0"/><stop offset="0.7" stop-color="#2a6fd0"/><stop offset="1" stop-color="#1d4f9a"/></radialGradient></defs>
<polyline points="117,20.4 147,20.4 188,47.2 232,47.2" stroke="#111" stroke-width="1.4" stroke-dasharray="4.2 2.6" fill="none"/>
<polyline points="100,58.2 151,58.2 188,61.8 232,61.8" stroke="#111" stroke-width="1.4" stroke-dasharray="4.2 2.6" fill="none"/>
<polyline points="98.8,112.5 156,112.5 190.8,79.4 232,79.4" stroke="#111" stroke-width="1.4" stroke-dasharray="4.2 2.6" fill="none"/>
<polyline points="114,202.8 161.7,202.8 194.4,208.5 234,208.5" stroke="#111" stroke-width="1.4" stroke-dasharray="4.2 2.6" fill="none"/>
<polyline points="99.4,251.5 161.7,251.5 197,224.6 234,224.6" stroke="#111" stroke-width="1.4" stroke-dasharray="4.2 2.6" fill="none"/>
<circle cx="107.5" cy="21.1" r="9.6" fill="url(#sph)"/>
<circle cx="89.3" cy="58.8" r="9.9" fill="url(#sph)"/>
<circle cx="86.5" cy="112.3" r="9.7" fill="url(#sph)"/>
<circle cx="103.9" cy="202.6" r="10.2" fill="url(#sph)"/>
<circle cx="86.8" cy="251.7" r="9.6" fill="url(#sph)"/>
<text x="65" y="17.2" font-size="12.2" font-weight="bold" fill="#000">S<tspan dy="4.0" font-size="7.4" fill="#222">extra</tspan></text>
<text x="75.3" y="78.8" font-size="12.2" font-weight="bold" fill="#000">S<tspan dy="4.0" font-size="7.4" fill="#222">center</tspan></text>
<text x="73.8" y="133.6" font-size="12.2" font-weight="bold" fill="#000">S<tspan dy="4.0" font-size="7.4" fill="#222">intra</tspan></text>
<text x="69.7" y="189.5" font-size="12.2" font-weight="bold" fill="#000">S<tspan dy="4.0" font-size="7.4" fill="#222">center</tspan></text>
<text x="72.7" y="274.6" font-size="12.2" font-weight="bold" fill="#000">S<tspan dy="4.0" font-size="7.4" fill="#222">intra</tspan></text>
<polyline points="35.2,44.8 46.9,50.3 50.8,46.0 61.7,50.3 63.5,48.5" fill="none" stroke="#b98aa8" stroke-width="4.4" stroke-linecap="round" stroke-linejoin="round"/>
<polyline points="35.2,44.8 46.9,50.3 50.8,46.0 61.7,50.3 63.5,48.5" fill="none" stroke="#efb6d6" stroke-width="3.4" stroke-linecap="round" stroke-linejoin="round"/>
<polyline points="46.9,50.3 46.9,59.7 48.0,64.0 50.5,77.0 49.5,80.0" fill="none" stroke="#b98aa8" stroke-width="4.4" stroke-linecap="round" stroke-linejoin="round"/>
<polyline points="46.9,50.3 46.9,59.7 48.0,64.0 50.5,77.0 49.5,80.0" fill="none" stroke="#efb6d6" stroke-width="3.4" stroke-linecap="round" stroke-linejoin="round"/>
<polyline points="32.0,77.6 45.0,77.0" fill="none" stroke="#b98aa8" stroke-width="4.4" stroke-linecap="round" stroke-linejoin="round"/>
<polyline points="32.0,77.6 45.0,77.0" fill="none" stroke="#efb6d6" stroke-width="3.4" stroke-linecap="round" stroke-linejoin="round"/>
<polyline points="48.0,64.0 45.0,70.0 46.0,77.0" fill="none" stroke="#b98aa8" stroke-width="4.4" stroke-linecap="round" stroke-linejoin="round"/>
<polyline points="48.0,64.0 45.0,70.0 46.0,77.0" fill="none" stroke="#efb6d6" stroke-width="3.4" stroke-linecap="round" stroke-linejoin="round"/>
<polyline points="50.8,80.0 56.0,79.0" fill="none" stroke="#b98aa8" stroke-width="4.4" stroke-linecap="round" stroke-linejoin="round"/>
<polyline points="50.8,80.0 56.0,79.0" fill="none" stroke="#efb6d6" stroke-width="3.4" stroke-linecap="round" stroke-linejoin="round"/>
<polyline points="49.5,80.0 48.4,91.0 49.0,97.0 53.0,100.3" fill="none" stroke="#b98aa8" stroke-width="4.4" stroke-linecap="round" stroke-linejoin="round"/>
<polyline points="49.5,80.0 48.4,91.0 49.0,97.0 53.0,100.3" fill="none" stroke="#efb6d6" stroke-width="3.4" stroke-linecap="round" stroke-linejoin="round"/>
<polyline points="49.0,97.0 48.0,111.0 57.0,111.0" fill="none" stroke="#b98aa8" stroke-width="4.4" stroke-linecap="round" stroke-linejoin="round"/>
<polyline points="49.0,97.0 48.0,111.0 57.0,111.0" fill="none" stroke="#efb6d6" stroke-width="3.4" stroke-linecap="round" stroke-linejoin="round"/>
<polyline points="48.0,111.0 45.0,117.0 47.0,121.0" fill="none" stroke="#b98aa8" stroke-width="4.4" stroke-linecap="round" stroke-linejoin="round"/>
<polyline points="48.0,111.0 45.0,117.0 47.0,121.0" fill="none" stroke="#efb6d6" stroke-width="3.4" stroke-linecap="round" stroke-linejoin="round"/>
<polyline points="46.9,56.0 46.9,62.0" fill="none" stroke="#2626e6" stroke-width="3.0" stroke-linecap="round"/>
<polyline points="48.4,86.0 48.4,92.0" fill="none" stroke="#2626e6" stroke-width="3.0" stroke-linecap="round"/>
<polyline points="43.6,114.5 46.0,115.5" fill="none" stroke="#2626e6" stroke-width="3.0" stroke-linecap="round"/>
<polyline points="49.5,78.5 51.0,81.0" fill="none" stroke="#2626e6" stroke-width="3.0" stroke-linecap="round"/>
<polyline points="33.6,37.8 35.0,43.0" fill="none" stroke="#e8283a" stroke-width="2.4" stroke-linecap="round"/>
<polyline points="61.7,40.9 62.0,45.5" fill="none" stroke="#e8283a" stroke-width="2.4" stroke-linecap="round"/>
<polyline points="65.5,50.0 69.5,53.4" fill="none" stroke="#e8283a" stroke-width="2.4" stroke-linecap="round"/>
<polyline points="56.0,79.0 61.7,76.9" fill="none" stroke="#e8283a" stroke-width="2.4" stroke-linecap="round"/>
<polyline points="53.0,98.5 55.5,100.0" fill="none" stroke="#e8283a" stroke-width="2.4" stroke-linecap="round"/>
<polyline points="47.0,121.0 45.3,123.8" fill="none" stroke="#e8283a" stroke-width="2.4" stroke-linecap="round"/>
<polyline points="121.4,40.7 126.3,51.3 140.2,50.5 152.5,48.0" fill="none" stroke="#b98aa8" stroke-width="4.4" stroke-linecap="round" stroke-linejoin="round"/>
<polyline points="121.4,40.7 126.3,51.3 140.2,50.5 152.5,48.0" fill="none" stroke="#efb6d6" stroke-width="3.4" stroke-linecap="round" stroke-linejoin="round"/>
<polyline points="140.2,50.5 139.4,59.5 132.9,62.8" fill="none" stroke="#b98aa8" stroke-width="4.4" stroke-linecap="round" stroke-linejoin="round"/>
<polyline points="140.2,50.5 139.4,59.5 132.9,62.8" fill="none" stroke="#efb6d6" stroke-width="3.4" stroke-linecap="round" stroke-linejoin="round"/>
<polyline points="132.9,62.8 131.2,77.5" fill="none" stroke="#b98aa8" stroke-width="4.4" stroke-linecap="round" stroke-linejoin="round"/>
<polyline points="132.9,62.8 131.2,77.5" fill="none" stroke="#efb6d6" stroke-width="3.4" stroke-linecap="round" stroke-linejoin="round"/>
<polyline points="123.9,79.2 126.3,94.0 134.5,97.2 129.6,103.8 124.7,105.4" fill="none" stroke="#b98aa8" stroke-width="4.4" stroke-linecap="round" stroke-linejoin="round"/>
<polyline points="123.9,79.2 126.3,94.0 134.5,97.2 129.6,103.8 124.7,105.4" fill="none" stroke="#efb6d6" stroke-width="3.4" stroke-linecap="round" stroke-linejoin="round"/>
<polyline points="129.6,103.8 132.9,113.6" fill="none" stroke="#b98aa8" stroke-width="4.4" stroke-linecap="round" stroke-linejoin="round"/>
<polyline points="129.6,103.8 132.9,113.6" fill="none" stroke="#efb6d6" stroke-width="3.4" stroke-linecap="round" stroke-linejoin="round"/>
<polyline points="132.9,113.6 126.3,121.0 118.1,124.3" fill="none" stroke="#b98aa8" stroke-width="4.4" stroke-linecap="round" stroke-linejoin="round"/>
<polyline points="132.9,113.6 126.3,121.0 118.1,124.3" fill="none" stroke="#efb6d6" stroke-width="3.4" stroke-linecap="round" stroke-linejoin="round"/>
<polyline points="126.3,121.0 132.9,128.4" fill="none" stroke="#b98aa8" stroke-width="4.4" stroke-linecap="round" stroke-linejoin="round"/>
<polyline points="126.3,121.0 132.9,128.4" fill="none" stroke="#efb6d6" stroke-width="3.4" stroke-linecap="round" stroke-linejoin="round"/>
<polyline points="121.4,40.7 124.7,33.3" fill="none" stroke="#b98aa8" stroke-width="4.4" stroke-linecap="round" stroke-linejoin="round"/>
<polyline points="121.4,40.7 124.7,33.3" fill="none" stroke="#efb6d6" stroke-width="3.4" stroke-linecap="round" stroke-linejoin="round"/>
<polyline points="139.4,55.0 139.4,60.0" fill="none" stroke="#2626e6" stroke-width="3.0" stroke-linecap="round"/>
<polyline points="131.2,77.5 131.2,81.0 126.0,80.0" fill="none" stroke="#2626e6" stroke-width="3.0" stroke-linecap="round"/>
<polyline points="136.0,115.0 140.2,118.5" fill="none" stroke="#2626e6" stroke-width="3.0" stroke-linecap="round"/>
<polyline points="131.0,96.0 133.0,98.0" fill="none" stroke="#2626e6" stroke-width="3.0" stroke-linecap="round"/>
<polyline points="112.4,41.5 120.0,41.0" fill="none" stroke="#e8283a" stroke-width="2.4" stroke-linecap="round"/>
<polyline points="124.7,33.3 124.0,31.0" fill="none" stroke="#e8283a" stroke-width="2.4" stroke-linecap="round"/>
<polyline points="152.5,48.0 155.8,42.3" fill="none" stroke="#e8283a" stroke-width="2.4" stroke-linecap="round"/>
<polyline points="129.6,57.0 131.5,60.0" fill="none" stroke="#e8283a" stroke-width="2.4" stroke-linecap="round"/>
<polyline points="117.3,77.5 121.0,79.0" fill="none" stroke="#e8283a" stroke-width="2.4" stroke-linecap="round"/>
<polyline points="122.2,100.5 124.0,102.5" fill="none" stroke="#e8283a" stroke-width="2.4" stroke-linecap="round"/>
<polyline points="118.1,124.3 121.5,123.0" fill="none" stroke="#e8283a" stroke-width="2.4" stroke-linecap="round"/>
<polyline points="29.2,183.8 38.0,186.7 46.7,183.8 52.6,180.9" fill="none" stroke="#b98aa8" stroke-width="4.4" stroke-linecap="round" stroke-linejoin="round"/>
<polyline points="29.2,183.8 38.0,186.7 46.7,183.8 52.6,180.9" fill="none" stroke="#efb6d6" stroke-width="3.4" stroke-linecap="round" stroke-linejoin="round"/>
<polyline points="38.0,186.7 36.5,198.4 39.4,207.2 40.9,218.8 43.8,223.2" fill="none" stroke="#b98aa8" stroke-width="4.4" stroke-linecap="round" stroke-linejoin="round"/>
<polyline points="38.0,186.7 36.5,198.4 39.4,207.2 40.9,218.8 43.8,223.2" fill="none" stroke="#efb6d6" stroke-width="3.4" stroke-linecap="round" stroke-linejoin="round"/>
<polyline points="38.0,232.0 46.7,230.5" fill="none" stroke="#b98aa8" stroke-width="4.4" stroke-linecap="round" stroke-linejoin="round"/>
<polyline points="38.0,232.0 46.7,230.5" fill="none" stroke="#efb6d6" stroke-width="3.4" stroke-linecap="round" stroke-linejoin="round"/>
<polyline points="43.8,223.2 42.0,232.0 45.3,239.3 46.7,243.6 42.3,252.4 43.8,259.7 40.9,268.5" fill="none" stroke="#b98aa8" stroke-width="4.4" stroke-linecap="round" stroke-linejoin="round"/>
<polyline points="43.8,223.2 42.0,232.0 45.3,239.3 46.7,243.6 42.3,252.4 43.8,259.7 40.9,268.5" fill="none" stroke="#efb6d6" stroke-width="3.4" stroke-linecap="round" stroke-linejoin="round"/>
<polyline points="42.3,252.4 35.0,253.9" fill="none" stroke="#b98aa8" stroke-width="4.4" stroke-linecap="round" stroke-linejoin="round"/>
<polyline points="42.3,252.4 35.0,253.9" fill="none" stroke="#efb6d6" stroke-width="3.4" stroke-linecap="round" stroke-linejoin="round"/>
<polyline points="43.8,259.7 52.6,265.5" fill="none" stroke="#b98aa8" stroke-width="4.4" stroke-linecap="round" stroke-linejoin="round"/>
<polyline points="43.8,259.7 52.6,265.5" fill="none" stroke="#efb6d6" stroke-width="3.4" stroke-linecap="round" stroke-linejoin="round"/>
<polyline points="39.4,207.2 43.8,201.3" fill="none" stroke="#b98aa8" stroke-width="4.4" stroke-linecap="round" stroke-linejoin="round"/>
<polyline points="39.4,207.2 43.8,201.3" fill="none" stroke="#efb6d6" stroke-width="3.4" stroke-linecap="round" stroke-linejoin="round"/>
<polyline points="43.8,223.2 52.6,217.4" fill="none" stroke="#b98aa8" stroke-width="4.4" stroke-linecap="round" stroke-linejoin="round"/>
<polyline points="43.8,223.2 52.6,217.4" fill="none" stroke="#efb6d6" stroke-width="3.4" stroke-linecap="round" stroke-linejoin="round"/>
<polyline points="46.7,243.6 54.0,242.2" fill="none" stroke="#b98aa8" stroke-width="4.4" stroke-linecap="round" stroke-linejoin="round"/>
<polyline points="46.7,243.6 54.0,242.2" fill="none" stroke="#efb6d6" stroke-width="3.4" stroke-linecap="round" stroke-linejoin="round"/>
<polyline points="36.8,195.0 36.8,200.0" fill="none" stroke="#2626e6" stroke-width="3.0" stroke-linecap="round"/>
<polyline points="42.5,221.0 44.5,224.5" fill="none" stroke="#2626e6" stroke-width="3.0" stroke-linecap="round"/>
<polyline points="44.6,237.0 45.8,241.0" fill="none" stroke="#2626e6" stroke-width="3.0" stroke-linecap="round"/>
<polyline points="35.0,253.9 38.0,253.4" fill="none" stroke="#2626e6" stroke-width="3.0" stroke-linecap="round"/>
<polyline points="24.8,175.0 27.5,180.5" fill="none" stroke="#e8283a" stroke-width="2.4" stroke-linecap="round"/>
<polyline points="52.6,180.9 59.9,179.4" fill="none" stroke="#e8283a" stroke-width="2.4" stroke-linecap="round"/>
<polyline points="43.8,201.3 45.5,200.5" fill="none" stroke="#e8283a" stroke-width="2.4" stroke-linecap="round"/>
<polyline points="52.6,217.4 50.0,219.0" fill="none" stroke="#e8283a" stroke-width="2.4" stroke-linecap="round"/>
<polyline points="54.0,242.2 51.0,242.8" fill="none" stroke="#e8283a" stroke-width="2.4" stroke-linecap="round"/>
<polyline points="52.6,265.5 50.5,264.0" fill="none" stroke="#e8283a" stroke-width="2.4" stroke-linecap="round"/>
<polyline points="146.0,178.0 144.5,183.8 137.2,195.5 134.3,198.4 132.8,207.2 128.5,213.0 125.5,221.8 128.5,227.6 125.5,233.4 128.5,242.2 128.5,248.0 119.7,256.8" fill="none" stroke="#b98aa8" stroke-width="4.4" stroke-linecap="round" stroke-linejoin="round"/>
<polyline points="146.0,178.0 144.5,183.8 137.2,195.5 134.3,198.4 132.8,207.2 128.5,213.0 125.5,221.8 128.5,227.6 125.5,233.4 128.5,242.2 128.5,248.0 119.7,256.8" fill="none" stroke="#efb6d6" stroke-width="3.4" stroke-linecap="round" stroke-linejoin="round"/>
<polyline points="137.2,195.5 144.5,202.8" fill="none" stroke="#b98aa8" stroke-width="4.4" stroke-linecap="round" stroke-linejoin="round"/>
<polyline points="137.2,195.5 144.5,202.8" fill="none" stroke="#efb6d6" stroke-width="3.4" stroke-linecap="round" stroke-linejoin="round"/>
<polyline points="125.5,233.4 140.1,233.4 140.1,251.0 151.8,252.4" fill="none" stroke="#b98aa8" stroke-width="4.4" stroke-linecap="round" stroke-linejoin="round"/>
<polyline points="125.5,233.4 140.1,233.4 140.1,251.0 151.8,252.4" fill="none" stroke="#efb6d6" stroke-width="3.4" stroke-linecap="round" stroke-linejoin="round"/>
<polyline points="128.5,248.0 140.1,251.0" fill="none" stroke="#b98aa8" stroke-width="4.4" stroke-linecap="round" stroke-linejoin="round"/>
<polyline points="128.5,248.0 140.1,251.0" fill="none" stroke="#efb6d6" stroke-width="3.4" stroke-linecap="round" stroke-linejoin="round"/>
<polyline points="119.7,256.8 115.3,265.5" fill="none" stroke="#b98aa8" stroke-width="4.4" stroke-linecap="round" stroke-linejoin="round"/>
<polyline points="119.7,256.8 115.3,265.5" fill="none" stroke="#efb6d6" stroke-width="3.4" stroke-linecap="round" stroke-linejoin="round"/>
<polyline points="128.5,248.0 131.4,258.2" fill="none" stroke="#b98aa8" stroke-width="4.4" stroke-linecap="round" stroke-linejoin="round"/>
<polyline points="128.5,248.0 131.4,258.2" fill="none" stroke="#efb6d6" stroke-width="3.4" stroke-linecap="round" stroke-linejoin="round"/>
<polyline points="133.0,205.0 132.5,210.0" fill="none" stroke="#2626e6" stroke-width="3.0" stroke-linecap="round"/>
<polyline points="127.5,226.0 128.8,229.5" fill="none" stroke="#2626e6" stroke-width="3.0" stroke-linecap="round"/>
<polyline points="128.5,247.0 126.0,249.0" fill="none" stroke="#2626e6" stroke-width="3.0" stroke-linecap="round"/>
<polyline points="130.5,255.0 131.4,258.2" fill="none" stroke="#2626e6" stroke-width="3.0" stroke-linecap="round"/>
<polyline points="141.6,167.7 146.0,178.0" fill="none" stroke="#e8283a" stroke-width="2.4" stroke-linecap="round"/>
<polyline points="144.5,202.8 143.0,201.0" fill="none" stroke="#e8283a" stroke-width="2.4" stroke-linecap="round"/>
<polyline points="119.7,227.6 125.5,228.5" fill="none" stroke="#e8283a" stroke-width="2.4" stroke-linecap="round"/>
<polyline points="116.8,249.5 121.0,250.5" fill="none" stroke="#e8283a" stroke-width="2.4" stroke-linecap="round"/>
<polyline points="115.3,265.5 116.5,262.0" fill="none" stroke="#e8283a" stroke-width="2.4" stroke-linecap="round"/>
<rect x="42.1" y="314.8" width="21.4" height="6.6" fill="#9b1ff0"/>
<rect x="63.5" y="314.8" width="43.2" height="6.6" fill="#5a8ef0"/>
<rect x="106.7" y="314.8" width="44.0" height="6.6" fill="#68e8df"/>
<rect x="150.7" y="314.8" width="43.2" height="6.6" fill="#94f3c0"/>
<rect x="193.9" y="314.8" width="40.2" height="6.6" fill="#c8de86"/>
<rect x="234.1" y="314.8" width="43.2" height="6.6" fill="#ea8450"/>
<rect x="277.3" y="314.8" width="22.2" height="6.6" fill="#f0221a"/>
<line x1="42.1" y1="314.8" x2="299.5" y2="314.8" stroke="#8a8a8a" stroke-width="0.8"/>
<line x1="42.1" y1="321.40000000000003" x2="299.5" y2="321.40000000000003" stroke="#555" stroke-width="0.6"/>
<line x1="85.4" y1="321.40000000000003" x2="85.4" y2="322.8" stroke="#555" stroke-width="0.6"/>
<line x1="170.9" y1="321.40000000000003" x2="170.9" y2="322.8" stroke="#555" stroke-width="0.6"/>
<line x1="256.40000000000003" y1="321.40000000000003" x2="256.40000000000003" y2="322.8" stroke="#555" stroke-width="0.6"/>
<text x="42.4" y="330.2" font-size="8.6" text-anchor="middle" font-weight="normal" fill="#1a1a1a" letter-spacing="0.55">0.00005</text>
<text x="127.9" y="330.2" font-size="8.6" text-anchor="middle" font-weight="normal" fill="#1a1a1a" letter-spacing="0.55">0.0005</text>
<text x="213.4" y="330.2" font-size="8.6" text-anchor="middle" font-weight="normal" fill="#1a1a1a" letter-spacing="0.55">0.005</text>
<text x="297.8" y="330.2" font-size="8.6" text-anchor="middle" font-weight="normal" fill="#1a1a1a" letter-spacing="0.55">0.05</text>
<text x="164.5" y="338.3" font-size="9.6" font-weight="bold" fill="#111">N<tspan dy="1.6" font-size="8.4">Ions</tspan></text><line x1="164.2" y1="329.2" x2="188.5" y2="329.2" stroke="#111" stroke-width="0.8"/>
<rect x="17.7" y="602.2" width="6.9" height="21.4" fill="#9b1ff0"/>
<rect x="17.7" y="559.0" width="6.9" height="43.2" fill="#5a8ef0"/>
<rect x="17.7" y="515.0" width="6.9" height="44.0" fill="#68e8df"/>
<rect x="17.7" y="471.8" width="6.9" height="43.2" fill="#94f3c0"/>
<rect x="17.7" y="431.6" width="6.9" height="40.2" fill="#c8de86"/>
<rect x="17.7" y="388.4" width="6.9" height="43.2" fill="#ea8450"/>
<rect x="17.7" y="366.2" width="6.9" height="22.2" fill="#f0221a"/>
<line x1="17.7" y1="366.2" x2="17.7" y2="623.5999999999999" stroke="#8a8a8a" stroke-width="0.8"/>
<line x1="24.6" y1="366.2" x2="24.6" y2="623.5999999999999" stroke="#555" stroke-width="0.6"/>
<line x1="24.6" y1="580.3" x2="26.0" y2="580.3" stroke="#555" stroke-width="0.6"/>
<line x1="24.6" y1="494.7999999999999" x2="26.0" y2="494.7999999999999" stroke="#555" stroke-width="0.6"/>
<line x1="24.6" y1="409.2999999999999" x2="26.0" y2="409.2999999999999" stroke="#555" stroke-width="0.6"/>
<text transform="translate(32.6,623.3) rotate(-90)" font-size="8.6" letter-spacing="0.55" text-anchor="middle" fill="#1a1a1a">0.00005</text>
<text transform="translate(32.6,537.8) rotate(-90)" font-size="8.6" letter-spacing="0.55" text-anchor="middle" fill="#1a1a1a">0.0005</text>
<text transform="translate(32.6,452.3) rotate(-90)" font-size="8.6" letter-spacing="0.55" text-anchor="middle" fill="#1a1a1a">0.005</text>
<text transform="translate(32.6,367.9) rotate(-90)" font-size="8.6" letter-spacing="0.55" text-anchor="middle" fill="#1a1a1a">0.05</text>
<g transform="translate(41.9,500.6) rotate(-90)"><text x="0" y="0" font-size="9.6" font-weight="bold" fill="#111">N<tspan dy="1.6" font-size="8.4">Ions</tspan></text><line x1="-0.3" y1="-9.1" x2="24" y2="-9.1" stroke="#111" stroke-width="0.8"/></g>
</svg>
</body></html>
